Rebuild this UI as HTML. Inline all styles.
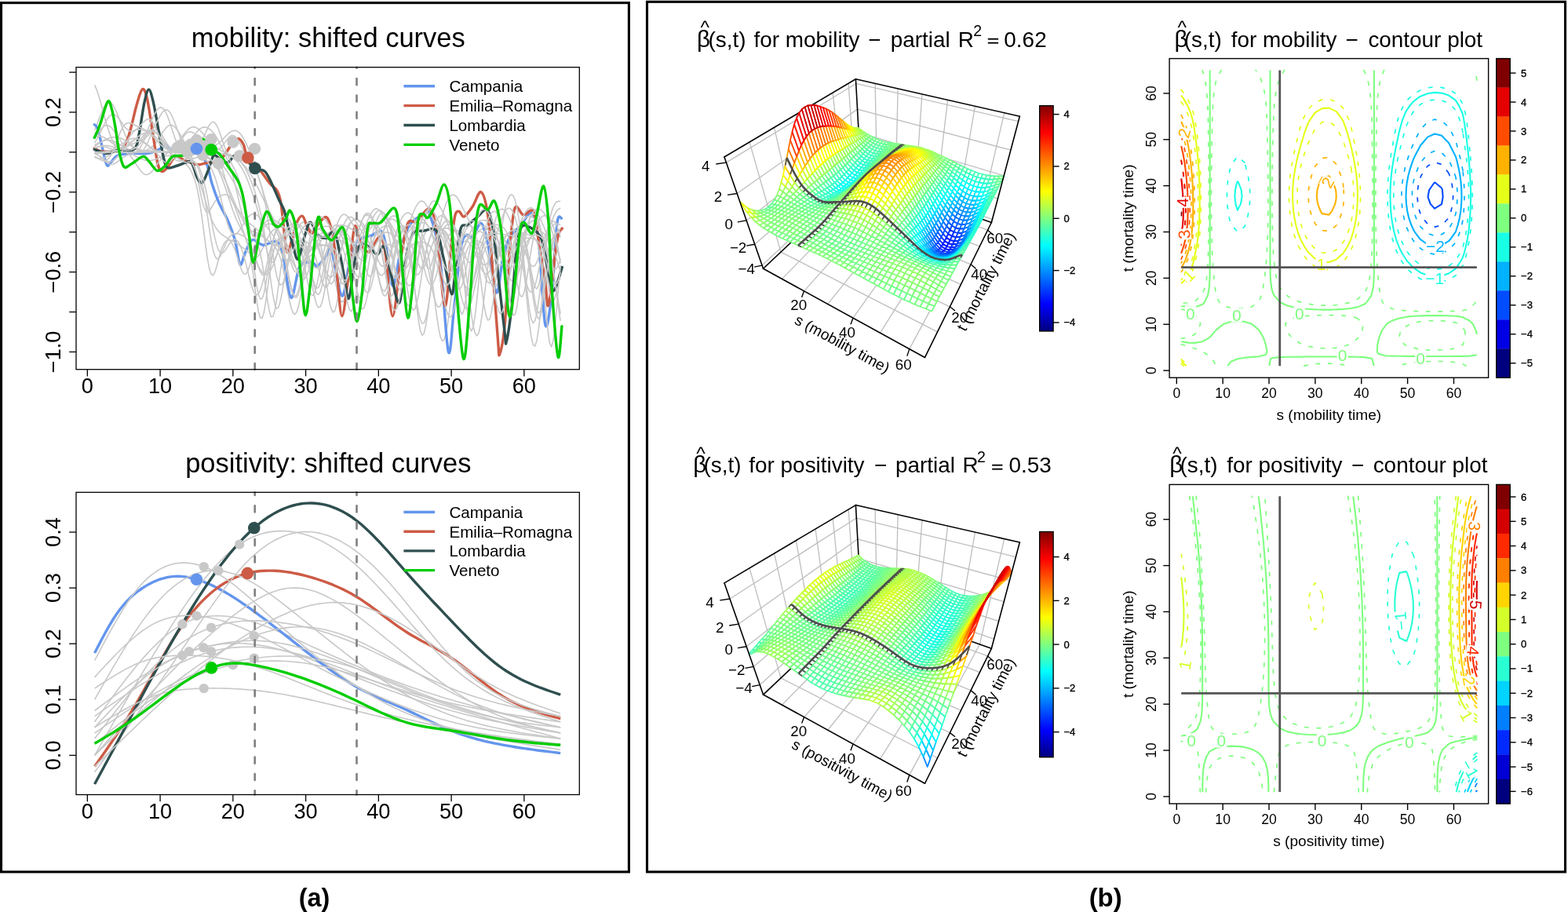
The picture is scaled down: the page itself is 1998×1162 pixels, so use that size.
<!DOCTYPE html>
<html><head><meta charset="utf-8"><title>figure</title>
<style>html,body{margin:0;padding:0;background:#fff;overflow:hidden}svg{display:block}</style></head>
<body><svg width="1998" height="1162" viewBox="0 0 1998 1162" font-family='"Liberation Sans", Arial, Helvetica, sans-serif'>
<rect width="1998" height="1162" fill="#fff"/>
<text x="418.3" y="60.3" font-size="34.5" text-anchor="middle" fill="#000">mobility: shifted curves</text>
<g fill="none" stroke="#C8C8C8" stroke-width="1.6" stroke-linejoin="round"><path d="M120.6 166.2l2.3-6 2.4-6.3 2.3-6.2 2.3-5.7 2.3-5 2.3-3.8 2.4-2.4 2.3-.7 2.3 .9 2.3 2.6 2.3 4 2.3 5.1 2.4 5.9 2.3 6.4 2.3 6.3 2.3 6.1 2.3 5.5 2.4 4.8 2.3 4.1 2.3 3.3 2.3 2.5 2.3 1.9 2.4 1.3 2.3 .8 2.3 .5 2.3 .1 2.3-.2 2.4-.4 2.3-.8 2.3-1.1 2.3-1.5 2.3-2 2.3-2.5 2.4-3 2.3-3.4 2.3-3.7 2.3-3.7 2.3-3.5 2.4-3 2.3-2.3 2.3-1.4 2.3-.4 2.3 .7 2.3 1.8 2.4 2.6 2.3 3.3 2.3 3.8 2.3 4.1 2.3 4.3 2.4 4.3 2.3 4.3 2.3 4.7 2.3 5.2 2.3 6.2 2.4 7.7 2.3 9.5 2.3 10.9 2.3 11.5 2.3 10.9 2.4 8.6 2.3 5.3 2.3 1.5 2.3-1.6 2.3-3.6 2.3-4.2 2.4-4 2.3-3.1 2.3-2.4 2.3-1.7 2.3-1.2 2.4-.7 2.3-.1 2.3 .8 2.3 1.8 2.3 3.1 2.3 4.2 2.4 5.3 2.3 6 2.3 6.6 2.3 6.9 2.3 7.2 2.4 7.2 2.3 7.1 2.3 6.9 2.3 6.2 2.3 5.2 2.4 3.7 2.3 1.9 2.3-.1 2.3-2 2.3-3.5 2.4-4.5 2.3-5 2.3-5 2.3-4.6 2.3-4 2.3-3.3 2.4-2.6 2.3-1.9 2.3-1.2 2.3-.8 2.3-.2 2.4 .3 2.3 .7 2.3 1.2 2.3 1.9 2.3 2.7 2.3 4 2.4 5.3 2.3 6.7 2.3 7.5 2.3 7 2.3 5.3 2.4 2.1 2.3-1.5 2.3-4.7 2.3-6.8 2.3-7.5 2.4-6.8 2.3-5.6 2.3-4.2 2.3-3 2.3-2.1 2.4-1.5 2.3-1 2.3-.7 2.3-.3 2.3 .1 2.3 .4 2.4 .8 2.3 1 2.3 1.4 2.3 1.8 2.3 2.2 2.4 2.7 2.3 3.6 2.3 4.5 2.3 5.6 2.3 6.6 2.3 7.4 2.4 7.6 2.3 7.3 2.3 6.1 2.3 4.2 2.3 1.6 2.4-1.1 2.3-4 2.3-6.4 2.3-8.3 2.3-9.4 2.4-9.9 2.3-9.7 2.3-9 2.3-7.9 2.3-6.7 2.4-5.1 2.3-3.4 2.3-1.5 2.3 .4 2.3 2.5 2.3 4.5 2.4 5.9 2.3 6.9 2.3 6.9 2.3 5.8 2.3 4.1 2.4 1.5 2.3-.9 2.3-3.1 2.3-4.7 2.3-5.6 2.3-6 2.4-6.1 2.3-6 2.3-5.7 2.3-5.2 2.3-4.4 2.4-3.3 2.3-1.9 2.3-.3 2.3 1.4 2.3 2.8 2.4 3.9 2.3 4.6 2.3 4.7 2.3 4.6 2.3 4 2.4 3.4 2.3 2.6 2.3 2 2.3 1.7 2.3 1.6 2.3 2.1 2.4 3.5 2.3 6 2.3 9.6 2.3 13.9 2.3 17.7 2.4 19.6 2.3 18.1 2.3 12.6 2.3 4 2.3-5.7 2.3-14 2.4-18.7 2.3-19.7 2.3-17.2 2.3-13.3 2.3-9 2.4-5.5 2.3-3 2.3-1.6 2.3-.8 2.3-.3 2.4-.1 2.3 .1 2.3 .4 2.3 .7 2.3 1.6 2.4 2.7 2.3 4.7 2.3 7.1 2.3 10.1 2.3 13.1 2.3 15.1 2.4 15.5 2.3 13.4 2.3 8.9 2.3 2.5 2.3-4.5 2.4-10.6 2.3-14.7 2.3-16.3 2.3-15.6 2.3-13.6 2.3-10.7 2.4-7.9 2.3-5.5 2.3-3.7 2.3-2.2 2.3-1 2.4 .4 2.3 2 2.3 4 2.3 6.4 2.3 8.5 2.4 10.2 2.3 10.1 2.3 8.4 2.3 4.5 2.3-.2 2.4-4.9 2.3-8.5 2.3-10.2 2.3-10.3 2.3-9.3"/><path d="M120.6 108.4l2.3 5.2 2.4 6.8 2.3 7.8 2.3 8.5 2.3 8.6 2.3 8.4 2.4 7.8 2.3 7.1 2.3 6.2 2.3 5.2 2.3 4.3 2.3 3.5 2.4 2.7 2.3 2.1 2.3 1.6 2.3 1.1 2.3 .8 2.4 .5 2.3 .2 2.3-.2 2.3-.5 2.3-1.1 2.4-1.7 2.3-2.3 2.3-3.1 2.3-3.8 2.3-4.4 2.4-4.6 2.3-4.6 2.3-4.1 2.3-3.2 2.3-1.8 2.3-.3 2.4 1.2 2.3 2.6 2.3 3.5 2.3 4.2 2.3 4.2 2.4 4.1 2.3 3.6 2.3 2.9 2.3 2.4 2.3 1.8 2.3 1.5 2.4 1.2 2.3 1.1 2.3 1.2 2.3 1.2 2.3 1.2 2.4 1.2 2.3 1 2.3 .7 2.3 .3 2.3-.1 2.4-.6 2.3-.8 2.3-1 2.3-1.1 2.3-.9 2.4-.8 2.3-.5 2.3-.2 2.3 0 2.3 .5 2.3 .8 2.4 1.3 2.3 2.1 2.3 3.2 2.3 4.5 2.3 5.9 2.4 7.4 2.3 8.2 2.3 8.3 2.3 7.6 2.3 6.4 2.3 4.9 2.4 3.9 2.3 3.2 2.3 3.1 2.3 3.2 2.3 3.3 2.4 3.1 2.3 2.8 2.3 2.4 2.3 2.1 2.3 1.8 2.4 1.7 2.3 1.9 2.3 2.1 2.3 2.3 2.3 2.5 2.4 2.6 2.3 2.5 2.3 2.4 2.3 2.1 2.3 1.9 2.3 1.9 2.4 2 2.3 2.4 2.3 3.3 2.3 4.5 2.3 6.3 2.4 8.2 2.3 10.2 2.3 11.6 2.3 12.3 2.3 11.7 2.3 9.7 2.4 6.3 2.3 2 2.3-2.8 2.3-7.2 2.3-10.8 2.4-13 2.3-13.9 2.3-13.5 2.3-12.4 2.3-10.7 2.4-8.6 2.3-6.7 2.3-4.8 2.3-3 2.3-1.2 2.4 .6 2.3 2.3 2.3 4.1 2.3 6 2.3 7.7 2.3 9.4 2.4 10.9 2.3 11.9 2.3 11.9 2.3 11.1 2.3 9 2.4 5.9 2.3 2.1 2.3-2.2 2.3-6.2 2.3-9.5 2.3-11.9 2.4-13 2.3-13.3 2.3-12.6 2.3-11.5 2.3-9.9 2.4-8.2 2.3-6.2 2.3-4.2 2.3-2.1 2.3-.2 2.4 1.5 2.3 3.1 2.3 4.4 2.3 5.5 2.3 6.6 2.4 8.1 2.3 9.9 2.3 11.8 2.3 13.5 2.3 14 2.3 12.6 2.4 9 2.3 3.5 2.3-2.7 2.3-8.3 2.3-12 2.4-13.5 2.3-12.9 2.3-11 2.3-8.6 2.3-6.5 2.3-4.7 2.4-3.4 2.3-2.4 2.3-1.5 2.3-.6 2.3 .4 2.4 1.5 2.3 2.7 2.3 4.1 2.3 5.7 2.3 7.6 2.4 10.1 2.3 12.6 2.3 15.3 2.3 17.3 2.3 18.4 2.4 17.9 2.3 15.5 2.3 11 2.3 5.1 2.3-1.5 2.3-7.9 2.4-13.2 2.3-16.6 2.3-17.9 2.3-17.5 2.3-15.6 2.4-12.9 2.3-9.8 2.3-7 2.3-4.5 2.3-2.4 2.3-.8 2.4 .7 2.3 2 2.3 3.1 2.3 4.2 2.3 5.1 2.4 5.8 2.3 6 2.3 5.7 2.3 4.7 2.3 3.4 2.4 1.4 2.3-.6 2.3-2.6 2.3-4.4 2.3-5.6 2.4-6.3 2.3-6.4 2.3-6.2 2.3-5.5 2.3-4.6 2.3-3.7 2.4-2.9 2.3-2 2.3-1.3 2.3-.6 2.3-.2 2.4 .2 2.3 .6 2.3 1 2.3 1.6 2.3 2.7 2.3 4.3 2.4 6.6 2.3 9.2 2.3 11.6 2.3 12.7 2.3 11.5 2.4 7.8 2.3 2.1 2.3-4.4 2.3-10 2.3-13.5 2.4-14.5 2.3-13.6 2.3-11.6 2.3-9.5 2.3-7.6 2.4-6.1 2.3-4.8 2.3-3.8 2.3-2.4 2.3-1"/><path d="M120.6 184.8l2.3-1.3 2.4-1.3 2.3-1.1 2.3-1 2.3-.8 2.3-.5 2.4-.3 2.3 .1 2.3 .4 2.3 .7 2.3 .9 2.3 1.1 2.4 1.2 2.3 1.4 2.3 1.3 2.3 1.4 2.3 1.4 2.4 1.4 2.3 1.3 2.3 1.3 2.3 1.2 2.3 1 2.4 .6 2.3 .1 2.3-.6 2.3-1.6 2.3-2.7 2.4-3.8 2.3-4.6 2.3-5 2.3-4.8 2.3-3.9 2.3-2.6 2.4-.7 2.3 .9 2.3 2.6 2.3 3.6 2.3 4.1 2.4 4.1 2.3 3.7 2.3 3.1 2.3 2.4 2.3 1.7 2.3 1.1 2.4 .7 2.3 .4 2.3 .3 2.3 .1 2.3 .1 2.4 0 2.3 0 2.3 0 2.3 0 2.3 0 2.4 0 2.3 0 2.3 .1 2.3 0 2.3 0 2.4 0 2.3 0 2.3 0 2.3-.1 2.3-.1 2.3-.3 2.4-.5 2.3-.9 2.3-1.3 2.3-1.9 2.3-2.4 2.4-2.9 2.3-3.2 2.3-3.1 2.3-2.7 2.3-1.7 2.3-.4 2.4 1 2.3 2.4 2.3 3.5 2.3 4.1 2.3 4.5 2.4 4.5 2.3 4.2 2.3 3.9 2.3 3.6 2.3 3.5 2.4 3.6 2.3 3.9 2.3 4.6 2.3 5.5 2.3 6.8 2.4 8.2 2.3 10.2 2.3 12.1 2.3 14 2.3 15.5 2.3 16.4 2.4 16.2 2.3 14.6 2.3 11.9 2.3 8.1 2.3 3.7 2.4-.7 2.3-4.7 2.3-7.8 2.3-9.7 2.3-10.5 2.3-10.4 2.4-9.7 2.3-8.4 2.3-6.9 2.3-5.3 2.3-3.6 2.4-1.9 2.3-.3 2.3 1.2 2.3 2.4 2.3 3.4 2.4 3.9 2.3 4.2 2.3 4.6 2.3 4.9 2.3 5.9 2.4 7.3 2.3 9.3 2.3 11.8 2.3 13.9 2.3 14.6 2.3 13.4 2.4 9.8 2.3 4.3 2.3-2.1 2.3-8.2 2.3-12.5 2.4-14.4 2.3-14.1 2.3-12.3 2.3-9.5 2.3-6.8 2.3-4.5 2.4-2.9 2.3-1.8 2.3-1 2.3-.5 2.3-.2 2.4 .2 2.3 .5 2.3 .8 2.3 1.3 2.3 1.9 2.4 3 2.3 4.4 2.3 6.2 2.3 8.1 2.3 9.5 2.4 10.1 2.3 9.1 2.3 6.5 2.3 2.5 2.3-2.2 2.3-6.4 2.4-9.7 2.3-11.3 2.3-11.4 2.3-10.5 2.3-8.9 2.4-7.3 2.3-5.8 2.3-4.5 2.3-3.2 2.3-2.1 2.3-.8 2.4 .5 2.3 2 2.3 3.4 2.3 4.9 2.3 6.5 2.4 7.8 2.3 9 2.3 9.8 2.3 9.8 2.3 9 2.4 7.3 2.3 4.5 2.3 1.4 2.3-2.1 2.3-5.2 2.4-7.4 2.3-8.7 2.3-9.1 2.3-8.5 2.3-7.7 2.3-6.3 2.4-5.1 2.3-3.9 2.3-2.8 2.3-1.7 2.3-.9 2.4 0 2.3 .6 2.3 1.1 2.3 1.5 2.3 1.6 2.3 1.7 2.4 1.6 2.3 1.5 2.3 1.5 2.3 1.6 2.3 2 2.4 2.7 2.3 3.6 2.3 4.8 2.3 6 2.3 7.3 2.4 8 2.3 8.2 2.3 7.4 2.3 5.8 2.3 3.3 2.4 .3 2.3-2.9 2.3-5.6 2.3-7.9 2.3-9.1 2.3-9.7 2.4-9.3 2.3-8.5 2.3-7.2 2.3-6 2.3-4.5 2.4-3 2.3-1.4 2.3 .3 2.3 2.3 2.3 4.8 2.3 7.5 2.4 10.5 2.3 13.6 2.3 16 2.3 17.3 2.3 16.7 2.4 14.1 2.3 9.3 2.3 3.1 2.3-3.5 2.3-9.5 2.4-13.8 2.3-16.1 2.3-16.3 2.3-14.9 2.3-12.4 2.4-9.7 2.3-7.1 2.3-4.9 2.3-3.1 2.3-1.7"/></g>
<path d="M120.3,158.7C120.95,159.47 122.68,159.1 124.2,163.3C125.72,167.5 127.47,176.17 129.4,183.9C131.33,191.63 133.87,205.83 135.8,209.7C137.73,213.57 138.63,209.03 141,207.1C143.37,205.17 145.48,200.03 150,198.1C154.52,196.17 161.85,195.93 168.1,195.5C174.35,195.07 182.12,196.15 187.5,195.5C192.88,194.85 196.53,193.32 200.4,191.6C204.27,189.88 207.92,185.62 210.7,185.2C213.48,184.78 213.05,188.3 217.1,189.1C221.15,189.9 229.52,190 235,190C240.48,190 245.27,185.88 250,189.1C254.73,192.32 260.05,201.83 263.4,209.3C266.75,216.77 267.48,225.7 270.1,233.9C272.72,242.1 275.73,250.67 279.1,258.5C282.47,266.33 286.93,273.07 290.3,280.9C293.67,288.73 296.68,296.17 299.3,305.5C301.92,314.83 303.77,334.28 306,336.9C308.23,339.52 310.1,326.43 312.7,321.2C315.3,315.97 317.87,307 321.6,305.5C325.33,304 329.87,311.82 335.1,312.2C340.33,312.58 348.72,305.55 353,307.8C357.28,310.05 357.82,313.77 360.8,325.7C363.78,337.63 367.35,377.17 370.9,379.4C374.45,381.63 377.62,346.57 382.1,339.1C386.58,331.63 394.07,334.6 397.8,334.6C401.53,334.6 401.52,340.58 404.5,339.1C407.48,337.62 412.78,329.42 415.7,325.7C418.62,321.98 418.65,308.25 422,316.8C425.35,325.35 431.7,375.22 435.8,377C439.9,378.78 443.02,339.33 446.6,327.5C450.18,315.67 452.65,310.65 457.3,306C461.95,301.35 469.83,301.57 474.5,299.6C479.17,297.63 482.43,292.05 485.3,294.2C488.17,296.35 489.2,300.85 491.7,312.5C494.2,324.15 497.07,363.38 500.3,364.1C503.53,364.82 507.52,329.7 511.1,316.8C514.68,303.9 517.15,293.87 521.8,286.7C526.45,279.53 534.7,275.95 539,273.8C543.3,271.65 544.02,264.85 547.6,273.8C551.18,282.75 556.55,298.47 560.5,327.5C564.45,356.53 568.28,437.22 571.3,448C574.32,458.78 575.95,414.07 578.6,392.2C581.25,370.33 584.68,332.23 587.2,316.8C589.72,301.37 591.18,302.1 593.7,299.6C596.22,297.1 599.08,304.3 602.3,301.8C605.52,299.3 609.78,283.17 613,284.6C616.22,286.03 618.37,295.7 621.6,310.4C624.83,325.1 629.17,369.93 632.4,372.8C635.63,375.67 638.13,339.43 641,327.6C643.87,315.77 646.02,308.25 649.6,301.8C653.18,295.35 657.83,293.93 662.5,288.9C667.17,283.87 673.65,268.73 677.6,271.6C681.55,274.47 683.33,282.42 686.2,306.1C689.07,329.78 691.93,402.95 694.8,413.7C697.67,424.45 700.88,392.12 703.4,370.6C705.92,349.08 707.92,300.02 709.9,284.6C711.88,269.18 714.4,279.18 715.3,278.1" fill="none" stroke="#6495ED" stroke-width="3.4" stroke-linejoin="round" stroke-linecap="round"/>
<path d="M120.3,189.1C121.82,189.73 125.73,192.27 129.4,192.9C133.07,193.53 138,193.32 142.3,192.9C146.6,192.48 151.55,193.83 155.2,190.4C158.85,186.97 160.98,181.98 164.2,172.3C167.42,162.62 171.6,142.08 174.5,132.3C177.4,122.52 179.43,114.68 181.6,113.6C183.77,112.52 185.45,117.32 187.5,125.8C189.55,134.28 191.75,151.17 193.9,164.5C196.05,177.83 198.47,196.87 200.4,205.8C202.33,214.73 203.35,216.8 205.5,218.1C207.65,219.4 210.28,216.72 213.3,213.6C216.32,210.48 219.98,201 223.6,199.4C227.22,197.8 230.27,202.28 235,204C239.73,205.72 247.02,209.18 252,209.7C256.98,210.22 261.5,207.55 264.9,207.1C268.3,206.65 269.28,208.13 272.4,207C275.52,205.87 279.87,204.03 283.6,200.3C287.33,196.57 291.45,188.52 294.8,184.6C298.15,180.68 301.1,176.8 303.7,176.8C306.3,176.8 308.42,180.62 310.4,184.6C312.38,188.58 312.23,195.47 315.6,200.7C318.97,205.93 325.87,210.47 330.6,216C335.33,221.53 340.27,229.43 344,233.9C347.73,238.37 350.75,239.07 353,242.8C355.25,246.53 356.2,249.58 357.5,256.3C358.8,263.02 359.68,273.4 360.8,283.1C361.92,292.8 363.17,308.18 364.2,314.5C365.23,320.82 365.7,322.58 367,321C368.3,319.42 370.17,311.17 372,305C373.83,298.83 375.77,288.95 378,284C380.23,279.05 383.07,274.3 385.4,275.3C387.73,276.3 389.9,286.38 392,290C394.1,293.62 395.67,297.83 398,297C400.33,296.17 402.87,288.25 406,285C409.13,281.75 413.63,274 416.8,277.5C419.97,281 422.9,294.08 425,306C427.1,317.92 427.6,332.87 429.4,349C431.2,365.13 433.3,402.8 435.8,402.8C438.3,402.8 441.72,368 444.4,349C447.08,330 449.38,295.25 451.9,288.8C454.42,282.35 456.45,304.93 459.5,310.3C462.55,315.67 466.08,322.43 470.2,321C474.32,319.57 480.62,300.62 484.2,301.7C487.78,302.78 489.02,310.65 491.7,327.5C494.38,344.35 497.07,402.8 500.3,402.8C503.53,402.8 507.87,347.22 511.1,327.5C514.33,307.78 516.48,292.02 519.7,284.5C522.92,276.98 525.75,285.45 530.4,282.4C535.05,279.35 543.3,264.05 547.6,266.2C551.9,268.35 552.97,274.68 556.2,295.3C559.43,315.92 563.77,388.12 567,389.9C570.23,391.68 573.43,325.32 575.6,306C577.77,286.68 578.42,280.08 580,274C581.58,267.92 583.18,269.17 585.1,269.5C587.02,269.83 588.63,277.08 591.5,276C594.37,274.92 598.72,268.22 602.3,263C605.88,257.78 609.78,242.9 613,244.7C616.22,246.5 619.08,256.4 621.6,273.8C624.12,291.2 625.93,322.2 628.1,349.1C630.27,376 633.17,418.17 634.6,435.2C636.03,452.23 635.27,454.88 636.7,451.3C638.13,447.72 641.05,436.12 643.2,413.7C645.35,391.28 647.45,341.55 649.6,316.8C651.75,292.05 653.23,272.37 656.1,265.2C658.97,258.03 662.87,273.08 666.8,273.8C670.73,274.52 676.47,264.12 679.7,269.5C682.93,274.88 683.68,291.03 686.2,306.1C688.72,321.17 692.65,346.28 694.8,359.9C696.95,373.52 696.58,396.77 699.1,387.8C701.62,378.83 707.03,322.23 709.9,306.1C712.77,289.97 715.23,293.52 716.3,291" fill="none" stroke="#CD5B45" stroke-width="3.4" stroke-linejoin="round" stroke-linecap="round"/>
<g fill="none" stroke="#C8C8C8" stroke-width="1.6" stroke-linejoin="round"><path d="M120.6 175.4l2.3-3.4 2.4-3.4 2.3-3.1 2.3-2.6 2.3-1.9 2.3-1.1 2.4-.1 2.3 .8 2.3 1.7 2.3 2.5 2.3 3 2.3 3.4 2.4 3.6 2.3 3.6 2.3 3.5 2.3 3.2 2.3 2.9 2.4 2.6 2.3 2.2 2.3 2 2.3 1.8 2.3 1.6 2.4 1.4 2.3 1.2 2.3 1.1 2.3 .9 2.3 .8 2.4 .5 2.3 .3 2.3 .1 2.3-.2 2.3-.4 2.3-.6 2.4-.9 2.3-.9 2.3-1.1 2.3-1.2 2.3-1.3 2.4-1.4 2.3-1.5 2.3-1.7 2.3-2 2.3-2.1 2.3-2.5 2.4-2.7 2.3-3 2.3-3.2 2.3-3.3 2.3-3.2 2.4-3 2.3-2.6 2.3-2 2.3-1.4 2.3-.6 2.4 .2 2.3 .9 2.3 1.6 2.3 2.1 2.3 2.5 2.4 2.7 2.3 2.8 2.3 2.8 2.3 2.6 2.3 2.5 2.3 2.3 2.4 2 2.3 1.8 2.3 1.6 2.3 1.4 2.3 1.1 2.4 1.1 2.3 .9 2.3 .9 2.3 1 2.3 1 2.3 1.1 2.4 1.3 2.3 1.6 2.3 1.9 2.3 2.3 2.3 2.8 2.4 3.2 2.3 3.9 2.3 4.5 2.3 5.1 2.3 5.7 2.4 6.3 2.3 6.9 2.3 7.6 2.3 8.3 2.3 9.3 2.4 10.8 2.3 12.7 2.3 14.9 2.3 17 2.3 18.2 2.3 18.1 2.4 15.7 2.3 11.3 2.3 5.2 2.3-1.5 2.3-7.4 2.4-11.8 2.3-13.7 2.3-13.7 2.3-12 2.3-9.4 2.3-6.9 2.4-4.6 2.3-2.8 2.3-1.7 2.3-.8 2.3-.3 2.4 .1 2.3 .4 2.3 .8 2.3 1.4 2.3 2.2 2.4 3.2 2.3 4.6 2.3 6.2 2.3 7.7 2.3 8.7 2.4 8.9 2.3 7.9 2.3 5.5 2.3 2.1 2.3-1.9 2.3-5.6 2.4-8.7 2.3-10.5 2.3-11.1 2.3-10.9 2.3-9.9 2.4-8.7 2.3-7.3 2.3-6 2.3-4.6 2.3-3.1 2.3-1.5 2.4 0 2.3 1.4 2.3 2.6 2.3 3.5 2.3 4 2.4 4.1 2.3 3.9 2.3 3.7 2.3 3.6 2.3 3.6 2.4 4.3 2.3 5.4 2.3 6.9 2.3 8.8 2.3 10.4 2.4 11 2.3 10.4 2.3 8.2 2.3 4.5 2.3-.2 2.3-4.9 2.4-8.9 2.3-11.4 2.3-12.3 2.3-12 2.3-10.7 2.4-8.9 2.3-7.1 2.3-5.4 2.3-4 2.3-2.8 2.3-1.5 2.4-.4 2.3 .7 2.3 1.7 2.3 2.6 2.3 3.6 2.4 4.4 2.3 5.4 2.3 6.6 2.3 7.8 2.3 9.4 2.4 10.7 2.3 11.6 2.3 11.9 2.3 11.1 2.3 9.2 2.4 6.2 2.3 2.3 2.3-1.9 2.3-5.7 2.3-9 2.3-11.1 2.4-12 2.3-11.8 2.3-10.7 2.3-9.2 2.3-7.3 2.4-5.6 2.3-4 2.3-2.6 2.3-1.5 2.3-.5 2.3 .4 2.4 1.2 2.3 2 2.3 3.1 2.3 4.1 2.3 5 2.4 5.7 2.3 6 2.3 5.5 2.3 4.1 2.3 2.1 2.4-.4 2.3-3 2.3-5.3 2.3-7 2.3-8 2.4-8.3 2.3-8.2 2.3-7.8 2.3-7.1 2.3-6.3 2.3-5.1 2.4-3.7 2.3-2.1 2.3-.3 2.3 1.8 2.3 3.8 2.4 6 2.3 8.3 2.3 11 2.3 14 2.3 17.1 2.3 20.2 2.4 22.4 2.3 23 2.3 21 2.3 16.5 2.3 9.5 2.4 1.1 2.3-7.5 2.3-14.7 2.3-19.4 2.3-21.3 2.4-20.7 2.3-18.1 2.3-14.5 2.3-10.9 2.3-7.6 2.4-4.9 2.3-3.1 2.3-1.7 2.3-.8 2.3-.3"/><path d="M120.6 200.5l2.3 .8 2.4 .6 2.3 .2 2.3-.2 2.3-.6 2.3-1 2.4-1.2 2.3-1.4 2.3-1.4 2.3-1.3 2.3-1.2 2.3-.9 2.4-.6 2.3-.2 2.3 .1 2.3 .6 2.3 .9 2.4 1.5 2.3 2.1 2.3 2.5 2.3 3.1 2.3 3.4 2.4 3.6 2.3 3.6 2.3 3.3 2.3 2.7 2.3 1.9 2.4 1.1 2.3 0 2.3-1 2.3-1.9 2.3-2.7 2.3-3.2 2.4-3.4 2.3-3.3 2.3-2.9 2.3-2.3 2.3-1.8 2.4-1.1 2.3-.5 2.3-.2 2.3 .3 2.3 .5 2.3 .7 2.4 1 2.3 1.1 2.3 1.3 2.3 1.6 2.3 1.8 2.4 2.1 2.3 2.5 2.3 3 2.3 3.8 2.3 4.7 2.4 6.3 2.3 8.3 2.3 10.8 2.3 13.6 2.3 16.1 2.4 17.9 2.3 18.1 2.3 16.2 2.3 12.4 2.3 7.1 2.3 1.4 2.4-3.7 2.3-7.1 2.3-8.7 2.3-8.5 2.3-7.1 2.4-5.1 2.3-3.2 2.3-1.4 2.3-.3 2.3 .5 2.3 1 2.4 1.3 2.3 1.4 2.3 1.6 2.3 1.7 2.3 1.7 2.4 1.7 2.3 1.8 2.3 1.9 2.3 2.1 2.3 2.4 2.4 2.9 2.3 3.4 2.3 3.8 2.3 4.2 2.3 4 2.4 3.5 2.3 2.5 2.3 1.1 2.3-.6 2.3-2.4 2.3-4 2.4-5.1 2.3-6 2.3-6.4 2.3-6.5 2.3-6.4 2.4-5.9 2.3-5.2 2.3-4.3 2.3-3.1 2.3-1.7 2.3-.2 2.4 1.3 2.3 2.9 2.3 4.3 2.3 5.8 2.3 7.5 2.4 9.3 2.3 11 2.3 12.2 2.3 12 2.3 10.1 2.4 6.4 2.3 1.3 2.3-4 2.3-8.4 2.3-11.2 2.4-12 2.3-11.5 2.3-10.1 2.3-8.5 2.3-7.2 2.3-5.9 2.4-4.8 2.3-3.6 2.3-2.2 2.3-.8 2.3 .9 2.4 2.4 2.3 3.8 2.3 5 2.3 6.2 2.3 7.5 2.3 9 2.4 10.6 2.3 12.2 2.3 13.3 2.3 13.2 2.3 11.6 2.4 8.3 2.3 3.7 2.3-1.7 2.3-6.6 2.3-10.3 2.4-12.2 2.3-12.2 2.3-11.1 2.3-9 2.3-6.9 2.4-4.9 2.3-3.4 2.3-2.1 2.3-1.3 2.3-.7 2.3-.2 2.4 .3 2.3 .7 2.3 1.1 2.3 1.7 2.3 2.5 2.4 3.8 2.3 5.6 2.3 7.8 2.3 10.2 2.3 12.1 2.3 12.9 2.4 12 2.3 8.9 2.3 4.2 2.3-1.5 2.3-7.1 2.4-11.5 2.3-13.9 2.3-14.5 2.3-13.5 2.3-11.7 2.4-9.6 2.3-7.5 2.3-5.8 2.3-4.3 2.3-2.9 2.4-1.4 2.3-.1 2.3 1.4 2.3 2.5 2.3 3.8 2.3 4.8 2.4 5.8 2.3 6.7 2.3 7.8 2.3 8.8 2.3 9.9 2.4 10.6 2.3 10.9 2.3 10.5 2.3 9.1 2.3 6.9 2.3 3.8 2.4 .3 2.3-3.2 2.3-6.4 2.3-8.8 2.3-10.2 2.4-10.7 2.3-10.4 2.3-9.3 2.3-7.8 2.3-6.3 2.4-4.7 2.3-3.1 2.3-1.8 2.3-.5 2.3 .7 2.4 1.9 2.3 3.1 2.3 4.2 2.3 5.2 2.3 6 2.3 6.5 2.4 6.5 2.3 5.8 2.3 4.5 2.3 2.8 2.3 .6 2.4-1.6 2.3-3.8 2.3-5.6 2.3-6.8 2.3-7.5 2.3-7.6 2.4-7.4 2.3-6.7 2.3-5.8 2.3-4.7 2.3-3.6 2.4-2.4 2.3-1.3 2.3-.1 2.3 .9 2.3 1.7 2.4 2.3 2.3 2.9 2.3 3.4 2.3 4 2.3 4.6 2.4 5.4 2.3 6.3 2.3 7 2.3 7.3 2.3 7"/><path d="M120.6 193.9l2.3 0 2.4 0 2.3 0 2.3 0 2.3 0 2.3 0 2.4 0 2.3 0 2.3 0 2.3 0 2.3 0 2.3 0 2.4-.1 2.3 0 2.3-.2 2.3-.2 2.3-.3 2.4-.6 2.3-.8 2.3-1.2 2.3-1.7 2.3-2 2.4-2.6 2.3-2.9 2.3-3.2 2.3-3.2 2.3-3 2.4-2.6 2.3-2 2.3-1.2 2.3-.4 2.3 .4 2.3 1.3 2.4 1.9 2.3 2.5 2.3 2.8 2.3 3 2.3 2.9 2.4 2.7 2.3 2.4 2.3 1.9 2.3 1.4 2.3 1 2.3 .6 2.4 .3 2.3 0 2.3-.2 2.3-.3 2.3-.3 2.4-.2 2.3-.2 2.3 0 2.3 .1 2.3 .1 2.4 .3 2.3 .3 2.3 .4 2.3 .5 2.3 .7 2.4 .9 2.3 1.2 2.3 1.2 2.3 1.5 2.3 1.5 2.3 1.7 2.4 1.8 2.3 1.8 2.3 2.1 2.3 2.1 2.3 2.4 2.4 2.7 2.3 2.9 2.3 3.2 2.3 3.6 2.3 3.8 2.3 4.1 2.4 4.4 2.3 4.7 2.3 5.1 2.3 5.5 2.3 6.3 2.4 7.4 2.3 8.9 2.3 11.1 2.3 13.4 2.3 15.7 2.4 17.3 2.3 17.4 2.3 15.6 2.3 11.7 2.3 6 2.4-.5 2.3-6.5 2.3-11.3 2.3-14 2.3-14.9 2.3-14.1 2.4-12.3 2.3-10.2 2.3-8 2.3-6.2 2.3-4.3 2.4-2.8 2.3-1.1 2.3 .4 2.3 1.9 2.3 3.1 2.3 4.2 2.4 5 2.3 5.6 2.3 5.9 2.3 5.9 2.3 5.7 2.4 5.1 2.3 4.3 2.3 3.1 2.3 1.7 2.3 .1 2.4-1.4 2.3-2.6 2.3-3.5 2.3-3.9 2.3-3.9 2.4-3.8 2.3-3.3 2.3-2.8 2.3-2.3 2.3-1.8 2.3-1.3 2.4-.8 2.3-.3 2.3 .2 2.3 .5 2.3 .7 2.4 1 2.3 1.2 2.3 1.3 2.3 1.6 2.3 1.9 2.3 2.5 2.4 3.2 2.3 4.1 2.3 4.6 2.3 4.9 2.3 4.4 2.4 3.3 2.3 1.4 2.3-.7 2.3-2.9 2.3-4.5 2.4-5.5 2.3-5.8 2.3-5.6 2.3-5 2.3-4.2 2.4-3.5 2.3-2.7 2.3-2.1 2.3-1.3 2.3-.6 2.3 .3 2.4 1.4 2.3 2.9 2.3 4.7 2.3 7 2.3 9.7 2.4 12.4 2.3 14.6 2.3 15.7 2.3 14.8 2.3 11.7 2.3 6.4 2.4 .1 2.3-6.2 2.3-11.4 2.3-14.5 2.3-15.2 2.4-14.2 2.3-11.9 2.3-9.1 2.3-6.6 2.3-4.5 2.4-2.9 2.3-1.8 2.3-1 2.3-.4 2.3 0 2.4 .5 2.3 .8 2.3 1.2 2.3 1.6 2.3 2.1 2.3 2.7 2.4 3.5 2.3 4.2 2.3 4.6 2.3 4.6 2.3 4 2.4 2.7 2.3 .8 2.3-1.2 2.3-3.1 2.3-4.5 2.3-5.3 2.4-5.4 2.3-5.1 2.3-4.5 2.3-3.8 2.3-3.1 2.4-2.4 2.3-1.9 2.3-1.2 2.3-.6 2.3-.1 2.4 .5 2.3 1 2.3 1.3 2.3 1.5 2.3 1.8 2.4 1.8 2.3 2.1 2.3 2.5 2.3 3.1 2.3 3.7 2.3 4.4 2.4 4.9 2.3 5.1 2.3 4.6 2.3 3.4 2.3 1.7 2.4-.4 2.3-2.6 2.3-4.5 2.3-5.9 2.3-6.7 2.3-6.9 2.4-6.7 2.3-6.1 2.3-5.2 2.3-4 2.3-2.4 2.4-.2 2.3 2.6 2.3 6.1 2.3 10.1 2.3 13.9 2.4 17.2 2.3 18.6 2.3 17.9 2.3 14.6 2.3 9 2.4 2 2.3-5 2.3-10.8 2.3-14.6 2.3-16"/></g>
<path d="M120.3,190.4C122.88,191.25 131.07,195.3 135.8,195.5C140.53,195.7 142.88,192.45 148.7,191.6C154.52,190.75 165.97,193.83 170.7,190.4C175.43,186.97 174.95,180.68 177.1,171C179.25,161.32 181.55,141.77 183.6,132.3C185.65,122.83 187.47,114.63 189.4,114.2C191.33,113.77 192.95,120.23 195.2,129.7C197.45,139.17 200.75,159.38 202.9,171C205.05,182.62 206.37,192.3 208.1,199.4C209.83,206.5 210.28,211.67 213.3,213.6C216.32,215.53 221.47,212.3 226.2,211C230.93,209.7 238.27,205.37 241.7,205.8C245.13,206.23 245.25,210.23 246.8,213.6C248.35,216.97 249.17,222.8 251,226C252.83,229.2 255.35,234.47 257.8,232.8C260.25,231.13 263.27,221.8 265.7,216C268.13,210.2 269.8,200.05 272.4,198C275,195.95 278.32,202.2 281.3,203.7C284.28,205.2 287.3,207.95 290.3,207C293.3,206.05 296.02,199.17 299.3,198C302.58,196.83 305.72,197.18 310,200C314.28,202.82 320.45,211.87 325,214.9C329.55,217.93 333.75,215.03 337.3,218.2C340.85,221.37 343.32,227.93 346.3,233.9C349.28,239.87 352.6,248.4 355.2,254C357.8,259.6 360.03,262.27 361.9,267.5C363.77,272.73 364.53,277.95 366.4,285.4C368.27,292.85 370.85,304.75 373.1,312.2C375.35,319.65 377.28,332.33 379.9,330.1C382.52,327.87 386.2,306.63 388.8,298.8C391.4,290.97 392.88,283.1 395.5,283.1C398.12,283.1 401.13,295.43 404.5,298.8C407.87,302.17 412.63,303.72 415.7,303.3C418.77,302.88 420.62,295.85 422.9,296.3C425.18,296.75 426.88,297.22 429.4,306C431.92,314.78 435.5,336.63 438,349C440.5,361.37 441.9,383.78 444.4,380.2C446.9,376.62 450.13,339.15 453,327.5C455.87,315.85 458.02,311.73 461.6,310.3C465.18,308.87 471.27,316.57 474.5,318.9C477.73,321.23 478.48,325.02 481,324.3C483.52,323.58 486.73,310.48 489.6,314.6C492.47,318.72 494.98,337.17 498.2,349C501.42,360.83 505.68,389.18 508.9,385.6C512.12,382.02 514.63,342.2 517.5,327.5C520.37,312.8 522.52,302.95 526.1,297.4C529.68,291.85 533.98,294.73 539,294.2C544.02,293.67 551.9,288.65 556.2,294.2C560.5,299.75 561.57,314.07 564.8,327.5C568.03,340.93 572.9,373.55 575.6,374.8C578.3,376.05 579.07,348.97 581,335C582.93,321.03 584.73,299.05 587.2,291C589.67,282.95 592.22,289.2 595.8,286.7C599.38,284.2 604.57,279.23 608.7,276C612.83,272.77 617.37,264.8 620.6,267.3C623.83,269.8 625.77,277.37 628.1,291C630.43,304.63 632.08,326.87 634.6,349.1C637.12,371.33 641.42,410.05 643.2,424.4C644.98,438.75 643.87,440.57 645.3,435.2C646.73,429.83 649.65,411.93 651.8,392.2C653.95,372.47 656.05,334.02 658.2,316.8C660.35,299.58 661.47,293.2 664.7,288.9C667.93,284.6 673.3,288.13 677.6,291C681.9,293.87 686.92,296.42 690.5,306.1C694.08,315.78 696.58,338.35 699.1,349.1C701.62,359.85 702.73,372.03 705.6,370.6C708.47,369.17 714.52,345.52 716.3,340.5" fill="none" stroke="#2F4F4F" stroke-width="3.4" stroke-linejoin="round" stroke-linecap="round"/>
<g fill="none" stroke="#C8C8C8" stroke-width="1.6" stroke-linejoin="round"><path d="M120.6 181.8l2.3-3.7 2.4-4.1 2.3-4.6 2.3-4.8 2.3-4.8 2.3-4.5 2.4-3.9 2.3-3 2.3-1.9 2.3-.8 2.3 .5 2.3 1.6 2.4 2.4 2.3 3.1 2.3 3.4 2.3 3.2 2.3 2.9 2.4 2.3 2.3 1.5 2.3 .6 2.3-.2 2.3-.9 2.4-1.5 2.3-2.1 2.3-2.4 2.3-2.5 2.3-2.4 2.4-2.1 2.3-1.3 2.3-.1 2.3 1.3 2.3 2.7 2.3 4.2 2.4 5.1 2.3 5.7 2.3 5.6 2.3 5 2.3 4 2.4 2.7 2.3 1.4 2.3 .2 2.3-.8 2.3-1.3 2.3-1.6 2.4-1.4 2.3-1.1 2.3-.5 2.3 .2 2.3 .7 2.4 1.1 2.3 1.5 2.3 1.5 2.3 1.6 2.3 1.5 2.4 1.3 2.3 1.2 2.3 1 2.3 .9 2.3 1 2.4 1 2.3 1.1 2.3 1.4 2.3 1.6 2.3 2.1 2.3 2.4 2.4 3 2.3 3.6 2.3 4.3 2.3 4.9 2.3 5.6 2.4 6.2 2.3 6.7 2.3 7.1 2.3 7.1 2.3 7 2.3 6.7 2.4 6.2 2.3 5.7 2.3 5 2.3 4.6 2.3 4.3 2.4 4.4 2.3 5.2 2.3 6.9 2.3 9.3 2.3 12.4 2.4 15.5 2.3 17.5 2.3 17.2 2.3 14.1 2.3 8.3 2.4 .6 2.3-7.2 2.3-13.3 2.3-16.8 2.3-17.4 2.3-15.6 2.4-12.5 2.3-9.1 2.3-6 2.3-3.3 2.3-1 2.4 1.1 2.3 3.2 2.3 5.3 2.3 7 2.3 7.9 2.3 7.8 2.4 6.5 2.3 4.1 2.3 1 2.3-2.1 2.3-4.8 2.4-6.3 2.3-6.9 2.3-6.5 2.3-5.6 2.3-4.3 2.4-3.2 2.3-2.2 2.3-1.4 2.3-1 2.3-.5 2.4-.2 2.3 0 2.3 .1 2.3 .3 2.3 .4 2.3 .4 2.4 .4 2.3 .4 2.3 .3 2.3 .3 2.3 .5 2.4 .7 2.3 1.2 2.3 1.9 2.3 2.5 2.3 3.3 2.3 3.6 2.4 3.5 2.3 2.6 2.3 1.1 2.3-.8 2.3-2.7 2.4-4.4 2.3-5.5 2.3-6.1 2.3-6.3 2.3-6.1 2.4-6 2.3-5.5 2.3-5 2.3-4.2 2.3-3 2.4-1.7 2.3-.2 2.3 1.5 2.3 3.1 2.3 4.4 2.3 5.6 2.4 6.4 2.3 7.2 2.3 7.7 2.3 8 2.3 8.1 2.4 7.6 2.3 6.5 2.3 4.9 2.3 2.7 2.3 .1 2.3-2.6 2.4-4.9 2.3-6.8 2.3-8.1 2.3-8.7 2.3-8.7 2.4-8.4 2.3-7.6 2.3-6.8 2.3-5.5 2.3-4.1 2.4-2.6 2.3-.8 2.3 .7 2.3 2.3 2.3 3.5 2.4 4.4 2.3 5.2 2.3 5.7 2.3 6.4 2.3 7 2.3 8.1 2.4 9 2.3 10 2.3 10.5 2.3 10.3 2.3 9 2.4 6.6 2.3 3.2 2.3-.6 2.3-4.5 2.3-8 2.3-10.5 2.4-11.9 2.3-12.4 2.3-11.8 2.3-10.8 2.3-9.4 2.4-7.8 2.3-6 2.3-4.3 2.3-2.6 2.3-.8 2.4 .9 2.3 2.3 2.3 3.7 2.3 4.9 2.3 6.2 2.4 7.5 2.3 8.8 2.3 10 2.3 10.3 2.3 9.5 2.3 7.4 2.4 3.8 2.3-.5 2.3-4.7 2.3-8 2.3-9.7 2.4-10.2 2.3-9.5 2.3-8.4 2.3-7.1 2.3-5.9 2.3-4.9 2.4-3.9 2.3-2.7 2.3-1.5 2.3-.3 2.3 1.1 2.4 2.2 2.3 3.1 2.3 3.9 2.3 4.4 2.3 4.9 2.4 5.6 2.3 6.6 2.3 8.1 2.3 10.2 2.3 12.7 2.4 15.1 2.3 17.1 2.3 17.9 2.3 17 2.3 14.2"/><path d="M120.6 188.7l2.3-.9 2.4-.8 2.3-.7 2.3-.5 2.3-.3 2.3 0 2.4 .1 2.3 .4 2.3 .5 2.3 .6 2.3 .6 2.3 .4 2.4 .3 2.3 0 2.3-.3 2.3-.6 2.3-.9 2.4-1.3 2.3-1.5 2.3-1.8 2.3-2 2.3-2.1 2.4-2 2.3-2 2.3-1.7 2.3-1.4 2.3-1 2.4-.5 2.3-.1 2.3 .5 2.3 .9 2.3 1.3 2.3 1.7 2.4 1.9 2.3 2.1 2.3 2.1 2.3 2 2.3 1.8 2.4 1.7 2.3 1.3 2.3 1.1 2.3 .7 2.3 .4 2.3 .1 2.4-.1 2.3-.3 2.3-.3 2.3-.4 2.3-.3 2.4-.1 2.3 .1 2.3 .3 2.3 .6 2.3 .9 2.4 1.2 2.3 1.4 2.3 1.7 2.3 1.9 2.3 2.2 2.4 2.4 2.3 2.8 2.3 3.2 2.3 3.7 2.3 4.3 2.3 5.1 2.4 6 2.3 7.1 2.3 8 2.3 8.9 2.3 9.4 2.4 9.5 2.3 9 2.3 8 2.3 6.4 2.3 4.4 2.3 2.5 2.4 .5 2.3-1.2 2.3-2.4 2.3-3.3 2.3-3.7 2.4-3.8 2.3-3.6 2.3-3.2 2.3-2.5 2.3-1.8 2.4-.8 2.3 .2 2.3 1.1 2.3 1.9 2.3 2.5 2.4 2.9 2.3 3 2.3 3.1 2.3 3 2.3 3 2.3 3.2 2.4 3.5 2.3 4.1 2.3 4.7 2.3 5.4 2.3 5.5 2.4 5.2 2.3 4 2.3 2.4 2.3 .1 2.3-2 2.3-4 2.4-5.4 2.3-6.2 2.3-6.2 2.3-5.9 2.3-5.1 2.4-4.2 2.3-3.5 2.3-2.5 2.3-1.8 2.3-.7 2.4 .3 2.3 1.6 2.3 3.2 2.3 5.1 2.3 7 2.4 9.1 2.3 10.7 2.3 11.6 2.3 11.3 2.3 9.5 2.3 6.4 2.4 2.3 2.3-2.2 2.3-6.3 2.3-9.4 2.3-11.1 2.4-11.3 2.3-10.6 2.3-9 2.3-7.3 2.3-5.6 2.3-4.1 2.4-2.8 2.3-1.8 2.3-.8 2.3 0 2.3 .8 2.4 1.5 2.3 2.2 2.3 3 2.3 3.6 2.3 4.5 2.4 5.3 2.3 6 2.3 6.7 2.3 7 2.3 6.8 2.4 5.8 2.3 4.3 2.3 2.3 2.3-.2 2.3-2.6 2.3-4.9 2.4-6.6 2.3-7.7 2.3-8.2 2.3-8 2.3-7.5 2.4-6.6 2.3-5.6 2.3-4.5 2.3-3.2 2.3-2 2.3-.7 2.4 .5 2.3 1.8 2.3 3.2 2.3 4.8 2.3 6.7 2.4 8.4 2.3 10.1 2.3 10.9 2.3 10.6 2.3 8.5 2.4 5 2.3 .4 2.3-4.4 2.3-8.3 2.3-11 2.4-11.9 2.3-11.7 2.3-10.7 2.3-9.3 2.3-7.9 2.3-6.6 2.4-5.2 2.3-3.9 2.3-2.4 2.3-.7 2.3 .9 2.4 2.3 2.3 3.5 2.3 4.3 2.3 4.6 2.3 4.7 2.3 4.6 2.4 4.7 2.3 5.1 2.3 6 2.3 7.9 2.3 10.2 2.4 13.2 2.3 16 2.3 17.9 2.3 18.5 2.3 16.6 2.4 12.6 2.3 6.3 2.3-1 2.3-8.5 2.3-14.7 2.4-19.1 2.3-21.1 2.3-21 2.3-19.3 2.3-16.8 2.3-13.8 2.4-10.7 2.3-7.8 2.3-4.7 2.3-1.6 2.3 1.7 2.4 5.3 2.3 9.2 2.3 13 2.3 16.8 2.3 19.9 2.3 21.9 2.4 22.3 2.3 20.8 2.3 17.1 2.3 11.4 2.3 4.4 2.4-3 2.3-9.9 2.3-15.3 2.3-18.7 2.3-20.1 2.4-19.6 2.3-17.8 2.3-15.2 2.3-12.2 2.3-9.3 2.4-6.7 2.3-4.4 2.3-2.5 2.3-.7 2.3 .5"/><path d="M120.6 195.6l2.3 .9 2.4 1.4 2.3 1.7 2.3 2 2.3 2.2 2.3 2.1 2.4 1.8 2.3 1.2 2.3 .6 2.3-.2 2.3-.9 2.3-1.4 2.4-1.7 2.3-1.8 2.3-1.8 2.3-1.6 2.3-1.4 2.4-1.2 2.3-.9 2.3-.8 2.3-.5 2.3-.5 2.4-.3 2.3-.2 2.3-.1 2.3-.1 2.3-.1 2.4 0 2.3-.1 2.3 0 2.3 0 2.3 0 2.3 0 2.4 0 2.3 0 2.3 0 2.3 0 2.3 0 2.4 .1 2.3 0 2.3 0 2.3 0 2.3 0 2.3 0 2.4 0 2.3 .1 2.3 0 2.3 0 2.3 0 2.4 0 2.3-.1 2.3-.3 2.3-.4 2.3-.7 2.4-1.2 2.3-1.8 2.3-2.6 2.3-3.4 2.3-4.4 2.4-5 2.3-5.3 2.3-5.2 2.3-4.3 2.3-3 2.3-1.1 2.4 1.1 2.3 3.1 2.3 5 2.3 6.1 2.3 6.9 2.4 6.9 2.3 6.7 2.3 6 2.3 5.4 2.3 4.8 2.3 4.5 2.4 4.6 2.3 5 2.3 5.9 2.3 7.2 2.3 8.8 2.4 10.4 2.3 11.6 2.3 11.8 2.3 10.6 2.3 8.3 2.4 4.9 2.3 1.4 2.3-1.7 2.3-3.7 2.3-4.4 2.4-4.3 2.3-3.3 2.3-2.4 2.3-1.4 2.3-.7 2.3-.2 2.4 .3 2.3 .6 2.3 1 2.3 1.4 2.3 1.8 2.4 2 2.3 2.1 2.3 2.1 2.3 1.9 2.3 1.8 2.3 1.5 2.4 1.3 2.3 1.1 2.3 1.1 2.3 1.3 2.3 1.8 2.4 2.8 2.3 4.4 2.3 6.2 2.3 8.3 2.3 9.9 2.4 10.8 2.3 10.1 2.3 7.7 2.3 3.8 2.3-.9 2.4-5.6 2.3-9.2 2.3-11.3 2.3-11.6 2.3-10.8 2.3-9.1 2.4-7.2 2.3-5.3 2.3-3.9 2.3-2.7 2.3-1.8 2.4-1 2.3-.3 2.3 .3 2.3 .8 2.3 1.1 2.3 1.4 2.4 1.5 2.3 1.5 2.3 1.4 2.3 1.5 2.3 1.7 2.4 2.3 2.3 2.9 2.3 3.7 2.3 4 2.3 3.7 2.4 2.7 2.3 .8 2.3-1.2 2.3-3 2.3-4 2.4-4.2 2.3-3.7 2.3-2.8 2.3-1.9 2.3-1 2.3-.2 2.4 .7 2.3 1.7 2.3 3 2.3 4.6 2.3 6.3 2.4 8 2.3 9.4 2.3 10 2.3 9.7 2.3 8 2.3 5.3 2.4 1.7 2.3-2.3 2.3-6.2 2.3-9.4 2.3-11.5 2.4-12.7 2.3-12.9 2.3-12.2 2.3-11.1 2.3-9.7 2.4-7.9 2.3-6 2.3-4.1 2.3-2.1 2.3-.1 2.4 1.5 2.3 3 2.3 3.9 2.3 4.4 2.3 4.4 2.3 4.1 2.4 3.7 2.3 3.1 2.3 2.8 2.3 2.9 2.3 3.8 2.4 5.7 2.3 8.6 2.3 12.7 2.3 17.1 2.3 20.8 2.3 22.3 2.4 20.4 2.3 14.7 2.3 5.8 2.3-4.4 2.3-13.9 2.4-20.6 2.3-23.5 2.3-22.9 2.3-20 2.3-15.8 2.4-11.8 2.3-8.3 2.3-5.6 2.3-3.6 2.3-1.9 2.4-.1 2.3 2 2.3 4.6 2.3 8.2 2.3 12.2 2.3 16.5 2.4 20.1 2.3 22 2.3 21 2.3 16.6 2.3 8.9 2.4-.5 2.3-9.5 2.3-16.6 2.3-20.4 2.3-20.8 2.3-18.7 2.4-15.3 2.3-11.6 2.3-8.4 2.3-5.8 2.3-3.9 2.4-2.5 2.3-1.2 2.3-.2 2.3 .9 2.3 1.9 2.4 2.9 2.3 3.8 2.3 4.7 2.3 5.6 2.3 6.5 2.4 7.4 2.3 8.1 2.3 8.4 2.3 8.2 2.3 7.4"/><path d="M120.6 174.7l2.3-.7 2.4-.4 2.3 .1 2.3 .5 2.3 .8 2.3 1.2 2.4 1.5 2.3 1.6 2.3 1.7 2.3 1.8 2.3 1.7 2.3 1.6 2.4 1.4 2.3 1.3 2.3 1 2.3 .8 2.3 .5 2.4 .3 2.3-.1 2.3-.3 2.3-.7 2.3-1.1 2.4-1.6 2.3-2.1 2.3-2.7 2.3-3.3 2.3-4 2.4-4.5 2.3-5 2.3-5.4 2.3-5.4 2.3-5.3 2.3-4.9 2.4-3.9 2.3-2.8 2.3-1.4 2.3 .3 2.3 2.1 2.4 3.6 2.3 5 2.3 6.2 2.3 6.8 2.3 7.1 2.3 7 2.4 6.4 2.3 5.7 2.3 4.7 2.3 3.8 2.3 2.9 2.4 2.1 2.3 1.4 2.3 1 2.3 .9 2.3 1 2.4 1.4 2.3 2.2 2.3 3.1 2.3 4.6 2.3 6.3 2.4 8.1 2.3 10 2.3 11.6 2.3 12.9 2.3 13.3 2.3 12.8 2.4 11.4 2.3 9.2 2.3 6.5 2.3 3.5 2.3 .7 2.4-1.5 2.3-3 2.3-3.7 2.3-3.6 2.3-3 2.3-2 2.4-.5 2.3 .9 2.3 2.6 2.3 4.2 2.3 5.9 2.4 7.4 2.3 8.6 2.3 9.4 2.3 9.5 2.3 8.8 2.4 7.1 2.3 4.6 2.3 1.7 2.3-1.6 2.3-4.6 2.4-7.2 2.3-9 2.3-10.1 2.3-10.3 2.3-10.1 2.3-9.2 2.4-8.1 2.3-6.6 2.3-5 2.3-3.4 2.3-1.8 2.4-.2 2.3 1.1 2.3 2.2 2.3 2.8 2.3 3.2 2.3 3.2 2.4 3 2.3 2.7 2.3 2.3 2.3 2 2.3 1.9 2.4 2.2 2.3 2.6 2.3 3.1 2.3 3.9 2.3 4.4 2.4 4.4 2.3 4 2.3 2.8 2.3 1.1 2.3-.8 2.4-2.8 2.3-4.3 2.3-5.3 2.3-5.8 2.3-5.7 2.3-5.3 2.4-4.7 2.3-4 2.3-3.3 2.3-2.5 2.3-1.6 2.4-.5 2.3 .8 2.3 2.5 2.3 4.4 2.3 6.8 2.3 9.3 2.4 11.7 2.3 13.2 2.3 13.5 2.3 11.9 2.3 8.1 2.4 3.1 2.3-2.8 2.3-7.9 2.3-11.7 2.3-13.4 2.4-13.6 2.3-12.4 2.3-10.7 2.3-8.9 2.3-7.2 2.4-5.7 2.3-4.3 2.3-2.7 2.3-1.2 2.3 .3 2.3 1.8 2.4 3 2.3 3.7 2.3 4.2 2.3 4.3 2.3 4 2.4 3.8 2.3 3.5 2.3 3.6 2.3 4 2.3 4.7 2.3 5.6 2.4 6.3 2.3 6.7 2.3 6.2 2.3 4.6 2.3 2.2 2.4-.9 2.3-3.8 2.3-6.4 2.3-8.1 2.3-8.9 2.4-8.9 2.3-8.4 2.3-7.7 2.3-6.8 2.3-5.8 2.4-4.7 2.3-3.3 2.3-1.8 2.3 0 2.3 1.8 2.3 3.4 2.4 5 2.3 6.3 2.3 7.3 2.3 8.3 2.3 8.9 2.4 9.5 2.3 9.7 2.3 9.5 2.3 8.8 2.3 7.3 2.3 5.3 2.4 2.6 2.3-.3 2.3-3.1 2.3-5.6 2.3-7.4 2.4-8.6 2.3-8.8 2.3-8.6 2.3-7.7 2.3-6.6 2.4-5.3 2.3-3.9 2.3-2.5 2.3-1 2.3 .4 2.4 1.9 2.3 3.2 2.3 4.4 2.3 5.3 2.3 5.9 2.3 5.9 2.4 5.5 2.3 4.4 2.3 3 2.3 1.3 2.3-.6 2.4-2.2 2.3-3.6 2.3-4.6 2.3-5 2.3-5.1 2.3-4.8 2.4-4.3 2.3-3.6 2.3-2.9 2.3-2.2 2.3-1.4 2.4-.7 2.3 0 2.3 .7 2.3 1.5 2.3 2.2 2.4 3.2 2.3 4.3 2.3 5.7 2.3 7.6 2.3 9.4 2.4 11.5 2.3 13.2 2.3 14.2 2.3 14.3 2.3 13.1"/><path d="M120.6 193.8l2.3 0 2.4-.1 2.3-.1 2.3-.1 2.3-.2 2.3-.3 2.4-.4 2.3-.5 2.3-.7 2.3-.9 2.3-1 2.3-1.3 2.4-1.4 2.3-1.6 2.3-1.6 2.3-1.7 2.3-1.5 2.4-1.5 2.3-1.2 2.3-.8 2.3-.5 2.3 0 2.4 .4 2.3 .7 2.3 1.2 2.3 1.4 2.3 1.5 2.4 1.7 2.3 1.8 2.3 1.8 2.3 1.9 2.3 1.9 2.3 2.1 2.4 2.4 2.3 2.5 2.3 2.8 2.3 2.7 2.3 2.4 2.4 1.8 2.3 .6 2.3-.7 2.3-2.1 2.3-3.5 2.3-4.5 2.4-5.2 2.3-5.3 2.3-5.1 2.3-4.5 2.3-3.7 2.4-2.8 2.3-1.8 2.3-.8 2.3 .1 2.3 1 2.4 1.6 2.3 2.1 2.3 2.4 2.3 2.5 2.3 2.5 2.4 2.2 2.3 1.8 2.3 1.4 2.3 .8 2.3 .3 2.3-.3 2.4-.7 2.3-1.3 2.3-1.7 2.3-2 2.3-2.3 2.4-2.5 2.3-2.4 2.3-2.3 2.3-2 2.3-1.6 2.3-1 2.4-.3 2.3 .5 2.3 1.3 2.3 2.2 2.3 3 2.4 3.9 2.3 4.5 2.3 5.1 2.3 5.6 2.3 6.1 2.4 6.3 2.3 6.7 2.3 6.9 2.3 7.1 2.3 7.3 2.4 7.5 2.3 7.5 2.3 7.4 2.3 7.3 2.3 6.9 2.3 6.6 2.4 6.3 2.3 5.9 2.3 6 2.3 6.2 2.3 7 2.4 8.2 2.3 9.5 2.3 10.9 2.3 11.6 2.3 11.4 2.3 9.6 2.4 6.5 2.3 2.5 2.3-1.9 2.3-5.9 2.3-8.7 2.4-10 2.3-9.9 2.3-8.8 2.3-7.1 2.3-5.2 2.4-3.7 2.3-2.3 2.3-1.4 2.3-.8 2.3-.3 2.4-.1 2.3 .2 2.3 .5 2.3 .6 2.3 1.1 2.3 1.7 2.4 2.7 2.3 3.9 2.3 5.2 2.3 6.5 2.3 7.1 2.4 7 2.3 5.7 2.3 3.3 2.3 .1 2.3-3.3 2.3-6.1 2.4-8.1 2.3-9.1 2.3-9 2.3-8.4 2.3-7.4 2.4-6.4 2.3-5.2 2.3-4.3 2.3-3.1 2.3-1.9 2.4-.7 2.3 .6 2.3 1.6 2.3 2.6 2.3 3.1 2.4 3.4 2.3 3.6 2.3 3.5 2.3 3.5 2.3 3.8 2.3 4.3 2.4 5.1 2.3 6.2 2.3 7.3 2.3 8 2.3 8.2 2.4 7.3 2.3 5.4 2.3 2.6 2.3-.8 2.3-4.2 2.3-7.1 2.4-9.4 2.3-10.6 2.3-11 2.3-10.6 2.3-9.9 2.4-8.7 2.3-7.4 2.3-5.9 2.3-4.3 2.3-2.5 2.4-.6 2.3 1 2.3 2.5 2.3 3.6 2.3 4.4 2.4 4.8 2.3 4.9 2.3 5.2 2.3 5.4 2.3 6 2.3 6.6 2.4 7.2 2.3 7.2 2.3 6.3 2.3 4.3 2.3 1.5 2.4-1.6 2.3-4.4 2.3-6.3 2.3-7.1 2.3-6.7 2.3-5.8 2.4-4.6 2.3-3.5 2.3-2.6 2.3-1.9 2.3-1.3 2.4-.9 2.3-.3 2.3 .1 2.3 .7 2.3 1.5 2.4 2.3 2.3 3.4 2.3 4.7 2.3 5.8 2.3 6.7 2.4 6.9 2.3 5.9 2.3 4 2.3 1.2 2.3-1.9 2.3-4.5 2.4-6.3 2.3-6.9 2.3-6.6 2.3-5.6 2.3-4.4 2.4-3.3 2.3-2.1 2.3-1 2.3 .3 2.3 2.2 2.3 4.6 2.4 7.6 2.3 11.1 2.3 14.4 2.3 16.7 2.3 17.1 2.4 15.1 2.3 10.4 2.3 3.9 2.3-3.4 2.3-9.8 2.4-14.4 2.3-16.5 2.3-16.2 2.3-14.1 2.3-11.3 2.4-8.3 2.3-5.7 2.3-3.8 2.3-2.3 2.3-1.4"/><path d="M120.6 188.2l2.3-.7 2.4-.6 2.3-.3 2.3-.1 2.3 .3 2.3 .4 2.4 .7 2.3 .8 2.3 .8 2.3 .9 2.3 .8 2.3 .7 2.4 .5 2.3 .5 2.3 .3 2.3 .3 2.3 .1 2.4 .1 2.3 0 2.3 0 2.3 0 2.3-.1 2.4-.1 2.3-.2 2.3-.2 2.3-.2 2.3-.3 2.4-.2 2.3-.2 2.3-.1 2.3 0 2.3 .1 2.3 .3 2.4 .3 2.3 .3 2.3 .3 2.3 .2 2.3 .1 2.4 .2 2.3 .3 2.3 .5 2.3 .9 2.3 1.2 2.3 1.6 2.4 1.8 2.3 1.9 2.3 1.7 2.3 1.5 2.3 1 2.4 .4 2.3-.1 2.3-.3 2.3-.3 2.3 .2 2.4 1.2 2.3 2.6 2.3 4.8 2.3 7.2 2.3 10 2.4 12.6 2.3 14.8 2.3 16.1 2.3 16 2.3 14.6 2.3 11.7 2.4 8 2.3 3.9 2.3 0 2.3-3 2.3-5 2.4-5.7 2.3-5.5 2.3-4.7 2.3-3.6 2.3-2.5 2.3-1.4 2.4-.6 2.3-.1 2.3 .4 2.3 .8 2.3 1 2.4 1.3 2.3 1.8 2.3 2.4 2.3 3.2 2.3 4.3 2.4 5.6 2.3 6.8 2.3 7.5 2.3 7.3 2.3 6.1 2.4 3.9 2.3 .8 2.3-2.3 2.3-5.1 2.3-6.8 2.3-7.6 2.4-7.3 2.3-6.3 2.3-5.2 2.3-3.8 2.3-2.8 2.4-2 2.3-1.3 2.3-.8 2.3-.3 2.3 0 2.3 .3 2.4 .6 2.3 1 2.3 1.4 2.3 2 2.3 2.8 2.4 4 2.3 5.5 2.3 7.5 2.3 9.4 2.3 11.2 2.4 12.3 2.3 12.2 2.3 10.8 2.3 7.9 2.3 3.7 2.4-1 2.3-5.9 2.3-10 2.3-12.9 2.3-14.5 2.3-14.7 2.4-13.8 2.3-12.4 2.3-10.5 2.3-8.5 2.3-6.5 2.4-4.5 2.3-2.6 2.3-.9 2.3 .7 2.3 1.9 2.3 3 2.4 3.7 2.3 4.3 2.3 4.9 2.3 5.7 2.3 6.9 2.4 8.3 2.3 9.5 2.3 10.2 2.3 9.6 2.3 7.3 2.4 3.5 2.3-1 2.3-5.5 2.3-8.8 2.3-10.6 2.4-10.7 2.3-9.8 2.3-8.3 2.3-6.7 2.3-5.4 2.3-4.2 2.4-3.2 2.3-2.2 2.3-1.1 2.3 0 2.3 1.3 2.4 2.6 2.3 3.9 2.3 5.2 2.3 6.7 2.3 8.3 2.3 10.1 2.4 12.1 2.3 13.9 2.3 15.2 2.3 15.7 2.3 15.1 2.4 12.9 2.3 9.3 2.3 4.7 2.3-.7 2.3-5.9 2.4-10.5 2.3-13.8 2.3-15.6 2.3-15.9 2.3-15.1 2.4-13.4 2.3-11.1 2.3-8.8 2.3-6.5 2.3-4.6 2.3-2.8 2.4-1.4 2.3-.1 2.3 1 2.3 2.1 2.3 3.2 2.4 4.3 2.3 5.4 2.3 6.4 2.3 7 2.3 6.9 2.3 6 2.4 4.4 2.3 2 2.3-.6 2.3-3.2 2.3-5.2 2.4-6.5 2.3-6.7 2.3-6.4 2.3-5.6 2.3-4.5 2.4-3.4 2.3-2.4 2.3-1.7 2.3-1.1 2.3-.7 2.4-.2 2.3 0 2.3 .4 2.3 .7 2.3 1.3 2.3 2.1 2.4 3.4 2.3 5.3 2.3 7.7 2.3 10.4 2.3 12.9 2.4 14.3 2.3 14.1 2.3 11.5 2.3 6.8 2.3 .7 2.3-5.6 2.4-10.9 2.3-14.3 2.3-15.4 2.3-14.7 2.3-12.5 2.4-10 2.3-7.5 2.3-5.3 2.3-3.7 2.3-2.3 2.4-1.2 2.3-.1 2.3 1.1 2.3 2.5 2.3 4.2 2.4 6.4 2.3 8.7 2.3 11.1 2.3 13.2 2.3 14.1"/><path d="M120.6 199.1l2.3 1.4 2.4 1.5 2.3 1.4 2.3 1.1 2.3 .5 2.3-.3 2.4-1.3 2.3-2.4 2.3-3.7 2.3-4.7 2.3-5.6 2.3-6.1 2.4-6.2 2.3-5.7 2.3-4.9 2.3-3.7 2.3-2.5 2.4-1.2 2.3-.2 2.3 .6 2.3 1 2.3 1.2 2.4 1.2 2.3 1.1 2.3 1 2.3 1 2.3 1 2.4 1.3 2.3 1.5 2.3 1.8 2.3 2.2 2.3 2.4 2.3 2.5 2.4 2.6 2.3 2.6 2.3 2.3 2.3 2.2 2.3 1.8 2.4 1.6 2.3 1.3 2.3 1 2.3 .8 2.3 .6 2.3 .5 2.4 .3 2.3 .3 2.3 .2 2.3 .1 2.3 .1 2.4 .1 2.3 .1 2.3 0 2.3 0 2.3 0 2.4 0 2.3-.1 2.3 0 2.3-.1 2.3 0 2.4 0 2.3-.1 2.3 0 2.3 0 2.3 .1 2.3 0 2.4 .1 2.3 .2 2.3 .2 2.3 .3 2.3 .4 2.4 .4 2.3 .6 2.3 .8 2.3 .9 2.3 1.2 2.3 1.5 2.4 1.8 2.3 2.2 2.3 2.6 2.3 3.2 2.3 3.7 2.4 4.3 2.3 4.9 2.3 5.5 2.3 5.9 2.3 6.4 2.4 6.8 2.3 7.2 2.3 7.6 2.3 8.3 2.3 9.3 2.4 10.2 2.3 10.9 2.3 11 2.3 9.8 2.3 7.5 2.3 3.9 2.4 0 2.3-3.5 2.3-6.1 2.3-7.2 2.3-7.3 2.4-6.4 2.3-5.4 2.3-4.2 2.3-3.4 2.3-2.6 2.3-1.9 2.4-1.3 2.3-.5 2.3 .3 2.3 .9 2.3 1.6 2.4 2 2.3 2.3 2.3 2.5 2.3 2.4 2.3 2.6 2.4 2.7 2.3 3.1 2.3 3.6 2.3 4.4 2.3 5.4 2.4 6.2 2.3 6.9 2.3 6.9 2.3 6.3 2.3 5.1 2.3 3 2.4 .5 2.3-2.1 2.3-4.6 2.3-6.6 2.3-8 2.4-8.7 2.3-8.8 2.3-8.3 2.3-7.5 2.3-6.4 2.3-5.2 2.4-3.9 2.3-2.6 2.3-1.1 2.3 .3 2.3 1.5 2.4 2.6 2.3 3.8 2.3 4.7 2.3 5.5 2.3 6.5 2.4 7.1 2.3 7.8 2.3 8.1 2.3 7.9 2.3 6.9 2.4 5.3 2.3 3.1 2.3 .4 2.3-2.4 2.3-4.8 2.3-6.7 2.4-8.1 2.3-8.5 2.3-8.4 2.3-7.7 2.3-6.6 2.4-5.3 2.3-3.6 2.3-1.4 2.3 1.1 2.3 4.3 2.3 8.1 2.4 12.2 2.3 16.2 2.3 19.5 2.3 21.3 2.3 21 2.4 18.1 2.3 12.7 2.3 5.4 2.3-2.5 2.3-9.9 2.4-15.7 2.3-19.1 2.3-20.2 2.3-19.1 2.3-16.7 2.4-13.7 2.3-10.5 2.3-7.7 2.3-5.3 2.3-3.3 2.3-1.7 2.4-.4 2.3 .8 2.3 1.6 2.3 2.6 2.3 3.5 2.4 4.6 2.3 6 2.3 7.9 2.3 10.1 2.3 12.9 2.3 15.4 2.4 17.5 2.3 18.3 2.3 17.5 2.3 14.5 2.3 9.8 2.4 3.5 2.3-3.4 2.3-9.9 2.3-15.3 2.3-18.8 2.4-20.3 2.3-20.1 2.3-18.5 2.3-16 2.3-13.3 2.4-10.3 2.3-7.5 2.3-5 2.3-2.7 2.3-.6 2.3 1.3 2.4 2.7 2.3 4 2.3 5 2.3 5.8 2.3 6.5 2.4 7.5 2.3 8.4 2.3 9.5 2.3 10.4 2.3 10.9 2.3 10.8 2.4 9.7 2.3 7.7 2.3 4.7 2.3 1.1 2.3-2.6 2.4-6 2.3-8.7 2.3-10.4 2.3-11 2.3-10.8 2.4-9.7 2.3-8.3 2.3-6.7 2.3-5.2 2.3-3.6 2.4-2.4 2.3-1.4 2.3-.4 2.3 .4 2.3 1.2"/><path d="M120.6 195.5l2.3 1 2.4 1.3 2.3 1.5 2.3 1.8 2.3 1.8 2.3 1.6 2.4 1.2 2.3 .5 2.3-.2 2.3-1.1 2.3-1.7 2.3-2.3 2.4-2.6 2.3-2.7 2.3-2.8 2.3-2.7 2.3-2.6 2.4-2.5 2.3-2.3 2.3-2 2.3-1.6 2.3-1.2 2.4-.6 2.3 0 2.3 .6 2.3 1.1 2.3 1.6 2.4 1.8 2.3 1.9 2.3 1.9 2.3 1.7 2.3 1.5 2.3 1.3 2.4 1 2.3 .7 2.3 .5 2.3 .4 2.3 .2 2.4 .2 2.3 .1 2.3 0 2.3 0 2.3 0 2.3-.2 2.4-.2 2.3-.4 2.3-.7 2.3-1 2.3-1.5 2.4-1.9 2.3-2.6 2.3-3 2.3-3.4 2.3-3.6 2.4-3.5 2.3-3.2 2.3-2.7 2.3-2 2.3-1.3 2.4-.6 2.3 .1 2.3 .7 2.3 1.4 2.3 1.9 2.3 2.4 2.4 3 2.3 3.6 2.3 4 2.3 4.4 2.3 4.7 2.4 4.9 2.3 5.3 2.3 5.6 2.3 6.1 2.3 6.9 2.3 7.8 2.4 8.8 2.3 9.7 2.3 10.2 2.3 10.1 2.3 9.2 2.4 7.8 2.3 5.8 2.3 4 2.3 2.4 2.3 1.4 2.4 .8 2.3 .8 2.3 1 2.3 1.2 2.3 1.6 2.4 1.6 2.3 1.7 2.3 1.7 2.3 1.5 2.3 1.5 2.3 1.4 2.4 1.3 2.3 1.2 2.3 1.1 2.3 1.1 2.3 1 2.4 1.1 2.3 1.3 2.3 1.9 2.3 2.7 2.3 3.6 2.3 4.6 2.4 5 2.3 4.7 2.3 3.3 2.3 1.3 2.3-1.2 2.4-3.4 2.3-4.7 2.3-5.1 2.3-4.8 2.3-3.8 2.4-2.8 2.3-2 2.3-1.4 2.3-1 2.3-.6 2.4-.5 2.3-.2 2.3 0 2.3 .1 2.3 .3 2.3 .6 2.4 .9 2.3 1.5 2.3 2.4 2.3 3.9 2.3 5.9 2.4 8.5 2.3 11 2.3 13.1 2.3 13.5 2.3 11.9 2.3 8.1 2.4 2.4 2.3-3.8 2.3-9.4 2.3-13.4 2.3-15.3 2.4-15.1 2.3-13.6 2.3-11.4 2.3-9.1 2.3-7.2 2.4-5.4 2.3-3.8 2.3-2.3 2.3-.8 2.3 1 2.4 2.7 2.3 4.5 2.3 6.3 2.3 7.8 2.3 8.9 2.3 9.6 2.4 9.4 2.3 8.2 2.3 6 2.3 3.3 2.3 .1 2.4-2.9 2.3-5.1 2.3-6.5 2.3-6.8 2.3-6.4 2.3-5.4 2.4-4.3 2.3-3.1 2.3-2.1 2.3-1.4 2.3-.9 2.4-.5 2.3-.2 2.3 .2 2.3 .4 2.3 .8 2.4 1.3 2.3 2.1 2.3 3.1 2.3 4.5 2.3 6.2 2.4 8.3 2.3 10.1 2.3 11.8 2.3 12.6 2.3 12.3 2.3 10.7 2.4 7.7 2.3 3.6 2.3-.9 2.3-5.4 2.3-9.2 2.4-11.7 2.3-12.9 2.3-12.7 2.3-11.6 2.3-9.8 2.3-7.8 2.4-5.8 2.3-4.1 2.3-2.7 2.3-1.7 2.3-.8 2.4-.2 2.3 .5 2.3 1.2 2.3 2.2 2.3 3.6 2.4 5.4 2.3 7.6 2.3 10.1 2.3 12.1 2.3 13.5 2.4 13.4 2.3 11.7 2.3 8.3 2.3 3.4 2.3-2.1 2.3-7.1 2.4-11 2.3-13.4 2.3-13.9 2.3-12.9 2.3-10.9 2.4-8.6 2.3-6.3 2.3-4.3 2.3-2.8 2.3-1.7 2.3-.9 2.4-.5 2.3-.2 2.3 .1 2.3 .3 2.3 .5 2.4 .9 2.3 1.4 2.3 2.3 2.3 3.5 2.3 4.9 2.4 6.5 2.3 7.8 2.3 8.7 2.3 8.7 2.3 7.4 2.4 5 2.3 1.8 2.3-2 2.3-5.5 2.3-8.2"/><path d="M120.6 186.5l2.3-1.6 2.4-1.5 2.3-1.6 2.3-1.5 2.3-1.3 2.3-1.2 2.4-1 2.3-.8 2.3-.7 2.3-.4 2.3-.2 2.3 .1 2.4 .4 2.3 .6 2.3 1 2.3 1.2 2.3 1.5 2.4 1.6 2.3 1.7 2.3 1.6 2.3 1.7 2.3 1.4 2.4 1.3 2.3 1.1 2.3 .9 2.3 .7 2.3 .5 2.4 .4 2.3 .2 2.3 .1 2.3 .1 2.3 0 2.3 0 2.4 0 2.3 0 2.3 .1 2.3 0 2.3 .1 2.4 .1 2.3 .1 2.3 .2 2.3 .1 2.3 .1 2.3 .2 2.4 .1 2.3 .1 2.3 .1 2.3 .2 2.3 .1 2.4 .2 2.3 .1 2.3 .2 2.3 .3 2.3 .2 2.4 .4 2.3 .4 2.3 .5 2.3 .6 2.3 .7 2.4 .8 2.3 1 2.3 1.3 2.3 1.4 2.3 1.7 2.3 2 2.4 2.4 2.3 2.7 2.3 3.1 2.3 3.5 2.3 4 2.4 4.4 2.3 4.8 2.3 5.1 2.3 5.4 2.3 5.6 2.3 5.7 2.4 5.6 2.3 5.5 2.3 5.3 2.3 4.9 2.3 4.6 2.4 4.2 2.3 3.8 2.3 3.4 2.3 3 2.3 2.9 2.4 2.9 2.3 3.5 2.3 4.5 2.3 6.4 2.3 9.1 2.4 12.2 2.3 15.2 2.3 16.9 2.3 16.4 2.3 13.2 2.3 7.2 2.4-.3 2.3-7.8 2.3-13.7 2.3-17 2.3-17.6 2.4-16 2.3-13.4 2.3-10.3 2.3-7.8 2.3-5.6 2.3-4 2.4-2.7 2.3-1.3 2.3-.1 2.3 1.4 2.3 2.9 2.4 4.6 2.3 6.5 2.3 8.4 2.3 10.5 2.3 12.1 2.4 12.9 2.3 12.3 2.3 10.1 2.3 6.3 2.3 1.4 2.4-3.7 2.3-7.9 2.3-10.7 2.3-11.7 2.3-11.3 2.3-9.9 2.4-8 2.3-6 2.3-4.4 2.3-3.1 2.3-2.1 2.4-1.1 2.3-.4 2.3 .5 2.3 1.2 2.3 2.1 2.3 3.1 2.4 4.3 2.3 5.6 2.3 7.2 2.3 8.7 2.3 9.8 2.4 10.5 2.3 9.9 2.3 8.3 2.3 5.3 2.3 1.6 2.4-2.5 2.3-6.4 2.3-9.4 2.3-11.1 2.3-11.9 2.4-11.4 2.3-10.5 2.3-9 2.3-7.5 2.3-5.9 2.3-4.3 2.4-2.8 2.3-1.4 2.3 .1 2.3 1.3 2.3 2.2 2.4 2.9 2.3 3.3 2.3 3.4 2.3 3.4 2.3 3.5 2.3 3.6 2.4 4.2 2.3 4.9 2.3 5.9 2.3 6.6 2.3 6.7 2.4 5.9 2.3 4 2.3 1.3 2.3-1.8 2.3-4.6 2.4-6.4 2.3-7.3 2.3-7.1 2.3-6.3 2.3-5.3 2.4-4.1 2.3-3.2 2.3-2.5 2.3-1.7 2.3-1.1 2.3-.3 2.4 .4 2.3 1.4 2.3 2.6 2.3 4.1 2.3 6 2.4 8.2 2.3 10.6 2.3 12.4 2.3 13.2 2.3 12.4 2.3 9.6 2.4 5 2.3-.5 2.3-5.9 2.3-9.9 2.3-12.3 2.4-12.5 2.3-11.2 2.3-9.1 2.3-6.7 2.3-4.6 2.4-3 2.3-1.8 2.3-1.1 2.3-.5 2.3-.3 2.4 0 2.3 .2 2.3 .4 2.3 .3 2.3 .4 2.3 .4 2.4 .4 2.3 .3 2.3 .3 2.3 .3 2.3 .6 2.4 .9 2.3 1.4 2.3 2.2 2.3 3.2 2.3 4.3 2.3 5.3 2.4 6 2.3 5.9 2.3 5.1 2.3 3.5 2.3 1.1 2.4-1.5 2.3-4.1 2.3-6.1 2.3-7.5 2.3-8 2.4-7.9 2.3-7.2 2.3-6.3 2.3-4.9 2.3-3.2 2.4-1.1 2.3 1.4 2.3 4 2.3 6.7 2.3 8.5"/><path d="M120.6 195.2l2.3 .1 2.4 0 2.3-.1 2.3-.1 2.3-.2 2.3-.2 2.4-.3 2.3-.3 2.3-.4 2.3-.5 2.3-.5 2.3-.6 2.4-.7 2.3-.8 2.3-.8 2.3-1 2.3-1.1 2.4-1.1 2.3-1.1 2.3-1.2 2.3-1.1 2.3-1.1 2.4-1.1 2.3-.9 2.3-1 2.3-1 2.3-1.2 2.4-1.5 2.3-1.9 2.3-2.3 2.3-3 2.3-3.5 2.3-4.1 2.4-4.4 2.3-4.5 2.3-4.3 2.3-3.6 2.3-2.6 2.4-1.3 2.3 .3 2.3 1.9 2.3 3.5 2.3 4.7 2.3 5.8 2.4 6.3 2.3 6.6 2.3 6.4 2.3 6 2.3 5.5 2.4 5 2.3 4.6 2.3 4.3 2.3 4.4 2.3 4.5 2.4 5.1 2.3 5.7 2.3 6.4 2.3 7.1 2.3 7.5 2.4 7.9 2.3 7.9 2.3 7.5 2.3 7 2.3 6.2 2.3 5.4 2.4 4.5 2.3 3.7 2.3 3 2.3 2.4 2.3 2 2.4 1.6 2.3 1.4 2.3 1.6 2.3 2 2.3 2.7 2.3 3.9 2.4 5.4 2.3 6.6 2.3 7.5 2.3 7.5 2.3 6.2 2.4 3.6 2.3 .3 2.3-3.1 2.3-6.1 2.3-8 2.4-8.7 2.3-8.4 2.3-7.4 2.3-6.3 2.3-5.1 2.4-4 2.3-3.2 2.3-2.2 2.3-1.4 2.3-.4 2.3 .5 2.4 1.4 2.3 2 2.3 2.6 2.3 2.8 2.3 3.1 2.4 3.3 2.3 3.5 2.3 3.9 2.3 4.5 2.3 5.1 2.3 6 2.4 6.6 2.3 6.8 2.3 6.7 2.3 5.8 2.3 4.2 2.4 2.2 2.3-.1 2.3-2.7 2.3-4.8 2.3-6.6 2.4-7.7 2.3-8.2 2.3-8 2.3-7.4 2.3-6.3 2.4-5 2.3-3.2 2.3-1.3 2.3 .8 2.3 3.2 2.3 5.6 2.4 7.6 2.3 9.3 2.3 10.1 2.3 10.2 2.3 9 2.4 6.9 2.3 4.1 2.3 .7 2.3-2.7 2.3-5.8 2.3-8.2 2.4-9.8 2.3-10.7 2.3-10.8 2.3-10.4 2.3-9.3 2.4-8.1 2.3-6.5 2.3-4.8 2.3-2.8 2.3-.8 2.4 1 2.3 2.7 2.3 4.3 2.3 5.7 2.3 7 2.4 8.3 2.3 9.8 2.3 11.2 2.3 12.7 2.3 13.7 2.3 14 2.4 13 2.3 10.8 2.3 7.3 2.3 2.6 2.3-2.4 2.4-7 2.3-11 2.3-13.5 2.3-14.7 2.3-14.6 2.3-13.5 2.4-11.9 2.3-9.8 2.3-7.8 2.3-5.8 2.3-3.8 2.4-2 2.3-.4 2.3 1 2.3 2.2 2.3 3.1 2.4 3.6 2.3 4.1 2.3 4.4 2.3 4.7 2.3 5.2 2.4 5.7 2.3 6.2 2.3 6.7 2.3 6.8 2.3 6.3 2.3 5.2 2.4 3.3 2.3 1 2.3-1.6 2.3-4 2.3-5.9 2.4-7.4 2.3-8 2.3-8 2.3-7.5 2.3-6.6 2.3-5.3 2.4-3.6 2.3-1.6 2.3 .7 2.3 3.2 2.3 5.9 2.4 8.2 2.3 10.2 2.3 11.2 2.3 11.1 2.3 9.9 2.4 7.5 2.3 4.4 2.3 .8 2.3-2.6 2.3-5.4 2.4-7.6 2.3-8.6 2.3-8.8 2.3-8.3 2.3-7.3 2.3-6 2.4-4.7 2.3-3.5 2.3-2.3 2.3-1.4 2.3-.7 2.4 0 2.3 .5 2.3 .8 2.3 1 2.3 1 2.3 .9 2.4 .8 2.3 .8 2.3 .6 2.3 .7 2.3 1.2 2.4 2.2 2.3 4.3 2.3 7.7 2.3 12.5 2.3 18.3 2.4 23.5 2.3 26 2.3 24 2.3 16.7 2.3 5.2 2.4-7.9 2.3-18.9 2.3-25.4 2.3-26.6 2.3-23.6"/><path d="M120.6 193.9l2.3 0 2.4 0 2.3 0 2.3 0 2.3 0 2.3 0 2.4-.1 2.3-.1 2.3-.2 2.3-.2 2.3-.5 2.3-.8 2.4-1 2.3-1.6 2.3-2 2.3-2.6 2.3-3 2.4-3.4 2.3-3.5 2.3-3.3 2.3-2.9 2.3-2.1 2.4-1.4 2.3-.5 2.3 .2 2.3 .6 2.3 .7 2.4 .7 2.3 .5 2.3 .3 2.3 .2 2.3 .3 2.3 .7 2.4 1.2 2.3 1.8 2.3 2.6 2.3 3.2 2.3 3.7 2.4 4.1 2.3 4.2 2.3 4 2.3 3.7 2.3 3.1 2.3 2.3 2.4 1.6 2.3 .8 2.3 0 2.3-.5 2.3-.9 2.4-1.3 2.3-1.3 2.3-1.4 2.3-1.2 2.3-1.1 2.4-.9 2.3-.7 2.3-.6 2.3-.3 2.3-.3 2.4-.1 2.3-.1 2.3 0 2.3 .1 2.3 .1 2.3 .1 2.4 .2 2.3 .2 2.3 .2 2.3 .3 2.3 .3 2.4 .5 2.3 .4 2.3 .6 2.3 .7 2.3 .8 2.3 1 2.4 1.1 2.3 1.4 2.3 1.5 2.3 1.8 2.3 2.1 2.4 2.3 2.3 2.7 2.3 3 2.3 3.4 2.3 3.6 2.4 4 2.3 4.3 2.3 4.6 2.3 4.7 2.3 4.9 2.4 4.9 2.3 4.8 2.3 4.8 2.3 4.6 2.3 4.5 2.3 4.4 2.4 4.4 2.3 4.6 2.3 5 2.3 5.9 2.3 7 2.4 8.6 2.3 10.1 2.3 11.5 2.3 12.4 2.3 12.2 2.3 10.9 2.4 8.3 2.3 4.5 2.3 .2 2.3-4.2 2.3-8.1 2.4-10.9 2.3-12.6 2.3-12.9 2.3-12.4 2.3-11.1 2.4-9.6 2.3-7.7 2.3-5.9 2.3-4.2 2.3-2.4 2.4-.9 2.3 .5 2.3 1.7 2.3 2.5 2.3 3 2.3 3.3 2.4 3.2 2.3 3 2.3 2.9 2.3 3.1 2.3 3.6 2.4 4.6 2.3 5.9 2.3 7.4 2.3 8.3 2.3 8.1 2.3 6.6 2.4 3.4 2.3-.5 2.3-4.5 2.3-7.8 2.3-9.8 2.4-10.4 2.3-9.9 2.3-8.8 2.3-7.7 2.3-6.5 2.4-5.5 2.3-4.4 2.3-3.2 2.3-1.9 2.3-.4 2.4 1.1 2.3 2.5 2.3 3.9 2.3 5.1 2.3 6.5 2.3 8.3 2.4 10.4 2.3 12.8 2.3 14.6 2.3 14.9 2.3 13 2.4 8.5 2.3 2.1 2.3-4.7 2.3-10.3 2.3-13.5 2.3-14 2.4-12.5 2.3-10 2.3-7.3 2.3-5.2 2.3-3.6 2.4-2.6 2.3-1.6 2.3-.8 2.3 .1 2.3 1.2 2.4 2.4 2.3 3.7 2.3 5.3 2.3 6.9 2.3 8.4 2.4 9.8 2.3 10.5 2.3 10.4 2.3 9.3 2.3 7.1 2.3 4 2.4 .4 2.3-3.4 2.3-6.6 2.3-8.9 2.3-10.3 2.4-10.5 2.3-9.9 2.3-8.8 2.3-7.3 2.3-5.8 2.3-4.3 2.4-3 2.3-1.9 2.3-.8 2.3-.1 2.3 .7 2.4 1.1 2.3 1.4 2.3 1.6 2.3 1.6 2.3 1.6 2.4 1.5 2.3 1.7 2.3 2.2 2.3 2.8 2.3 3.8 2.4 5 2.3 6 2.3 6.7 2.3 6.4 2.3 5.2 2.3 3.1 2.4 .2 2.3-2.7 2.3-5.3 2.3-7 2.3-7.8 2.4-7.6 2.3-6.9 2.3-6 2.3-4.8 2.3-3.8 2.3-3 2.4-2 2.3-1.2 2.3-.4 2.3 .6 2.3 1.4 2.4 2.4 2.3 3.2 2.3 4.2 2.3 5.3 2.3 6.3 2.4 7.4 2.3 8 2.3 8.4 2.3 7.9 2.3 6.6 2.4 4.4 2.3 1.5 2.3-1.6 2.3-4.7 2.3-7.2"/></g>
<path d="M120.3,175.5C121.38,173.03 124,168.33 126.8,160.7C129.6,153.07 134.52,133.37 137.1,129.7C139.68,126.03 140.58,132.9 142.3,138.7C144.02,144.5 145.9,155.88 147.4,164.5C148.9,173.12 149.57,182.43 151.3,190.4C153.03,198.37 155,209.3 157.8,212.3C160.6,215.3 164.02,210.55 168.1,208.4C172.18,206.25 178.65,199.83 182.3,199.4C185.95,198.97 186.98,202.78 190,205.8C193.02,208.82 196.95,216.63 200.4,217.5C203.85,218.37 207.48,214.02 210.7,211C213.92,207.98 216.05,201.55 219.7,199.4C223.35,197.25 228.22,199.67 232.6,198.1C236.98,196.53 242.02,193.38 246,190C249.98,186.62 253.83,179.47 256.5,177.8C259.17,176.13 259.95,177.9 262,180C264.05,182.1 265.95,187.77 268.8,190.4C271.65,193.03 275.52,192.28 279.1,195.8C282.68,199.32 286.2,205.53 290.3,211.5C294.4,217.47 300.35,224.52 303.7,231.6C307.05,238.68 308.15,242.8 310.4,254C312.65,265.2 315.13,285.37 317.2,298.8C319.27,312.23 320.57,334.6 322.8,334.6C325.03,334.6 327.8,309.62 330.6,298.8C333.4,287.98 336.62,271.93 339.6,269.7C342.58,267.47 345.9,282.23 348.5,285.4C351.1,288.57 352.58,289.82 355.2,288.7C357.82,287.58 361.77,282.05 364.2,278.7C366.63,275.35 367.57,266 369.8,268.6C372.03,271.2 375.18,278.82 377.6,294.3C380.02,309.78 382.35,343.58 384.3,361.5C386.25,379.42 387.43,401.8 389.3,401.8C391.17,401.8 392.97,381.83 395.5,361.5C398.03,341.17 401.88,291.37 404.5,279.8C407.12,268.23 408.13,287.73 411.2,292.1C414.27,296.47 418.62,306.37 422.9,306C427.18,305.63 433.32,286.32 436.9,289.9C440.48,293.48 442.25,312.27 444.4,327.5C446.55,342.73 448,367.68 449.8,381.3C451.6,394.92 453.23,411 455.2,409.2C457.17,407.4 459.45,389.85 461.6,370.5C463.75,351.15 465.95,307.43 468.1,293.1C470.25,278.77 471.63,286.12 474.5,284.5C477.37,282.88 480.63,286.62 485.3,283.4C489.97,280.18 498.57,263.22 502.5,265.2C506.43,267.18 507.12,281.33 508.9,295.3C510.68,309.27 511.4,330.72 513.2,349C515,367.28 517.55,403.2 519.7,405C521.85,406.8 523.95,380.23 526.1,359.8C528.25,339.37 530.45,296.92 532.6,282.4C534.75,267.88 536.85,273.6 539,272.7C541.15,271.8 542.63,279.33 545.5,277C548.37,274.67 552.8,265.68 556.2,258.7C559.6,251.72 563.03,234.38 565.9,235.1C568.77,235.82 571.07,244.02 573.4,263C575.73,281.98 577.07,316.72 579.9,349C582.73,381.28 587.38,449.5 590.4,456.7C593.42,463.9 595.67,418.02 598,392.2C600.33,366.38 602.25,323.5 604.4,301.8C606.55,280.1 608.03,267.75 610.9,262C613.77,256.25 618.37,268.2 621.6,267.3C624.83,266.4 627.42,251.93 630.3,256.6C633.18,261.27 636.58,278.08 638.9,295.3C641.22,312.52 642.42,341.78 644.2,359.9C645.98,378.02 647.62,404 649.6,404C651.58,404 653.95,378.02 656.1,359.9C658.25,341.78 660.53,308.03 662.5,295.3C664.47,282.57 665.38,283.13 667.9,283.5C670.42,283.87 674.92,299.12 677.6,297.5C680.28,295.88 681.48,283.85 684,273.8C686.52,263.75 690.18,235.4 692.7,237.2C695.22,239 697.32,262.37 699.1,284.6C700.88,306.83 701.42,342.27 703.4,370.6C705.38,398.93 708.92,447.07 711,454.6C713.08,462.13 715.08,422.27 715.9,415.8" fill="none" stroke="#00CD00" stroke-width="3.4" stroke-linejoin="round" stroke-linecap="round"/>
<line x1="324.68" y1="85.7" x2="324.68" y2="470.7" stroke="#7f7f7f" stroke-width="2.6" stroke-dasharray="8 13.35" stroke-dashoffset="6.9" stroke-linecap="round"/>
<line x1="454.52" y1="85.7" x2="454.52" y2="470.7" stroke="#7f7f7f" stroke-width="2.6" stroke-dasharray="8 13.35" stroke-dashoffset="6.9" stroke-linecap="round"/>
<circle cx="230.1" cy="185.3" r="7.6" fill="#C8C8C8"/>
<circle cx="236" cy="190" r="7.6" fill="#C8C8C8"/>
<circle cx="226" cy="188" r="7.6" fill="#C8C8C8"/>
<circle cx="250.5" cy="178.7" r="7.6" fill="#C8C8C8"/>
<circle cx="269.2" cy="177.5" r="7.6" fill="#C8C8C8"/>
<circle cx="296.9" cy="181.1" r="7.6" fill="#C8C8C8"/>
<circle cx="324.6" cy="189.5" r="7.6" fill="#C8C8C8"/>
<circle cx="305.4" cy="198.6" r="7.6" fill="#C8C8C8"/>
<circle cx="278.3" cy="208.2" r="7.6" fill="#C8C8C8"/>
<circle cx="258.4" cy="197.3" r="7.6" fill="#C8C8C8"/>
<circle cx="239.1" cy="193.7" r="7.6" fill="#C8C8C8"/>
<circle cx="243" cy="184" r="7.6" fill="#C8C8C8"/>
<circle cx="262" cy="186" r="7.6" fill="#C8C8C8"/>
<circle cx="250.5" cy="189.5" r="7.8" fill="#6495ED"/>
<circle cx="269.2" cy="190.7" r="7.8" fill="#00CD00"/>
<circle cx="315.9" cy="201" r="7.8" fill="#CD5B45"/>
<circle cx="324.9" cy="214.5" r="7.8" fill="#2F4F4F"/>
<rect x="97.0" y="85.7" width="641.3" height="385" fill="none" stroke="#000" stroke-width="1.3"/>
<line x1="88.2" y1="92.1" x2="97" y2="92.1" stroke="#000" stroke-width="1.3"/>
<line x1="88.2" y1="143" x2="97" y2="143" stroke="#000" stroke-width="1.3"/>
<line x1="88.2" y1="193.9" x2="97" y2="193.9" stroke="#000" stroke-width="1.3"/>
<line x1="88.2" y1="244.8" x2="97" y2="244.8" stroke="#000" stroke-width="1.3"/>
<line x1="88.2" y1="295.7" x2="97" y2="295.7" stroke="#000" stroke-width="1.3"/>
<line x1="88.2" y1="346.6" x2="97" y2="346.6" stroke="#000" stroke-width="1.3"/>
<line x1="88.2" y1="397.5" x2="97" y2="397.5" stroke="#000" stroke-width="1.3"/>
<line x1="88.2" y1="448.4" x2="97" y2="448.4" stroke="#000" stroke-width="1.3"/>
<text x="0" y="0" font-size="27.2" text-anchor="middle" fill="#000" transform="translate(77,143) rotate(-90)">0.2</text>
<text x="0" y="0" font-size="27.2" text-anchor="middle" fill="#000" transform="translate(77,244.8) rotate(-90)">−0.2</text>
<text x="0" y="0" font-size="27.2" text-anchor="middle" fill="#000" transform="translate(77,346.6) rotate(-90)">−0.6</text>
<text x="0" y="0" font-size="27.2" text-anchor="middle" fill="#000" transform="translate(77,448.4) rotate(-90)">−1.0</text>
<line x1="111.35" y1="470.7" x2="111.35" y2="479.4" stroke="#000" stroke-width="1.3"/>
<text x="111.35" y="500.8" font-size="27.2" text-anchor="middle" fill="#000">0</text>
<line x1="204.1" y1="470.7" x2="204.1" y2="479.4" stroke="#000" stroke-width="1.3"/>
<text x="204.1" y="500.8" font-size="27.2" text-anchor="middle" fill="#000">10</text>
<line x1="296.85" y1="470.7" x2="296.85" y2="479.4" stroke="#000" stroke-width="1.3"/>
<text x="296.85" y="500.8" font-size="27.2" text-anchor="middle" fill="#000">20</text>
<line x1="389.6" y1="470.7" x2="389.6" y2="479.4" stroke="#000" stroke-width="1.3"/>
<text x="389.6" y="500.8" font-size="27.2" text-anchor="middle" fill="#000">30</text>
<line x1="482.35" y1="470.7" x2="482.35" y2="479.4" stroke="#000" stroke-width="1.3"/>
<text x="482.35" y="500.8" font-size="27.2" text-anchor="middle" fill="#000">40</text>
<line x1="575.1" y1="470.7" x2="575.1" y2="479.4" stroke="#000" stroke-width="1.3"/>
<text x="575.1" y="500.8" font-size="27.2" text-anchor="middle" fill="#000">50</text>
<line x1="667.85" y1="470.7" x2="667.85" y2="479.4" stroke="#000" stroke-width="1.3"/>
<text x="667.85" y="500.8" font-size="27.2" text-anchor="middle" fill="#000">60</text>
<line x1="514.4" y1="109.8" x2="554.1" y2="109.8" stroke="#6495ED" stroke-width="3.4"/>
<text x="572.4" y="117.2" font-size="20.6" fill="#000">Campania</text>
<line x1="514.4" y1="134.67" x2="554.1" y2="134.67" stroke="#CD5B45" stroke-width="3.4"/>
<text x="572.4" y="142.07" font-size="20.6" fill="#000">Emilia–Romagna</text>
<line x1="514.4" y1="159.54" x2="554.1" y2="159.54" stroke="#2F4F4F" stroke-width="3.4"/>
<text x="572.4" y="166.94" font-size="20.6" fill="#000">Lombardia</text>
<line x1="514.4" y1="184.41" x2="554.1" y2="184.41" stroke="#00CD00" stroke-width="3.4"/>
<text x="572.4" y="191.81" font-size="20.6" fill="#000">Veneto</text>
<text x="418.3" y="601.5" font-size="34.5" text-anchor="middle" fill="#000">positivity: shifted curves</text>
<g fill="none" stroke="#C8C8C8" stroke-width="1.6" stroke-linejoin="round"><path d="M120.6 919.7l4.6-6.4 4.6-6.5 4.6-6.4 4.6-6.3 4.6-6.4 4.6-6.2 4.6-6.2 4.6-6 4.6-6 4.6-5.8 4.6-5.8 4.6-5.5 4.6-5.4 4.6-5.2 4.6-5.1 4.6-4.8 4.7-4.6 4.6-4.4 4.6-4.1 4.6-3.9 4.6-3.6 4.6-3.3 4.6-3 4.6-2.8 4.6-2.4 4.6-2 4.6-1.8 4.6-1.5 4.6-1.2 4.6-.9 4.6-.7 4.6-.5 4.6-.3 4.6-.1 4.6 .2 4.6 .2 4.6 .5 4.6 .6 4.6 .7 4.6 .9 4.6 1.1 4.6 1.1 4.6 1.3 4.6 1.4 4.6 1.5 4.6 1.6 4.6 1.6 4.6 1.8 4.6 1.8 4.6 1.9 4.6 1.9 4.6 2 4.6 2.1 4.6 2 4.6 2.1 4.6 2.1 4.6 2.1 4.6 2.1 4.6 2.2 4.6 2.1 4.6 2 4.6 2.1 4.6 2.1 4.6 2 4.6 2.1 4.6 2 4.6 2 4.6 2 4.6 2 4.6 2 4.6 1.9 4.6 1.9 4.6 2 4.6 1.9 4.6 1.9 4.6 1.8 4.6 1.9 4.6 1.8 4.6 1.8 4.6 1.8 4.7 1.8 4.6 1.7 4.6 1.7 4.6 1.7 4.6 1.7 4.6 1.7 4.6 1.6 4.6 1.6 4.6 1.6 4.6 1.5 4.6 1.6 4.6 1.5 4.6 1.4 4.6 1.5 4.6 1.4 4.6 1.5 4.6 1.4 4.6 1.3 4.6 1.4 4.6 1.3 4.6 1.4 4.6 1.3 4.6 1.2 4.6 1.3 4.6 1.3 4.6 1.2 4.6 1.2 4.6 1.2 4.6 1.2 4.6 1.2 4.6 1.2 4.6 1.1 4.6 1.2 4.6 1.1 4.6 1.2 4.6 1.1 4.6 1.1 4.6 1.1 4.6 1.1 4.6 1.1 4.6 1.1 4.6 1.1 4.6 1 4.6 1.1 4.6 1.1 4.6 1.1 4.6 1 4.6 1.1 4.6 1"/><path d="M120.6 905.5l4.6-3.5 4.6-3.5 4.6-3.4 4.6-3.5 4.6-3.4 4.6-3.4 4.6-3.4 4.6-3.3 4.6-3.3 4.6-3.3 4.6-3.2 4.6-3.1 4.6-3.1 4.6-3 4.6-2.9 4.6-2.9 4.7-2.7 4.6-2.7 4.6-2.6 4.6-2.5 4.6-2.3 4.6-2.3 4.6-2.1 4.6-2.1 4.6-1.8 4.6-1.8 4.6-1.6 4.6-1.5 4.6-1.4 4.6-1.2 4.6-1.1 4.6-.9 4.6-.8 4.6-.7 4.6-.6 4.6-.4 4.6-.3 4.6-.2 4.6-.1 4.6 0 4.6 .2 4.6 .3 4.6 .4 4.6 .5 4.6 .6 4.6 .7 4.6 .8 4.6 .9 4.6 1 4.6 1.1 4.6 1.1 4.6 1.3 4.6 1.2 4.6 1.4 4.6 1.4 4.6 1.5 4.6 1.6 4.6 1.6 4.6 1.6 4.6 1.7 4.6 1.7 4.6 1.7 4.6 1.8 4.6 1.8 4.6 1.8 4.6 1.8 4.6 1.8 4.6 1.9 4.6 1.8 4.6 1.8 4.6 1.9 4.6 1.8 4.6 1.8 4.6 1.8 4.6 1.9 4.6 1.8 4.6 1.7 4.6 1.8 4.6 1.8 4.6 1.7 4.7 1.8 4.6 1.7 4.6 1.7 4.6 1.7 4.6 1.7 4.6 1.6 4.6 1.7 4.6 1.6 4.6 1.6 4.6 1.5 4.6 1.6 4.6 1.5 4.6 1.4 4.6 1.5 4.6 1.4 4.6 1.4 4.6 1.4 4.6 1.3 4.6 1.3 4.6 1.3 4.6 1.2 4.6 1.2 4.6 1.2 4.6 1.1 4.6 1.1 4.6 1.1 4.6 1.1 4.6 1 4.6 1 4.6 1 4.6 1 4.6 .9 4.6 .9 4.6 .9 4.6 .9 4.6 .9 4.6 .8 4.6 .9 4.6 .8 4.6 .8 4.6 .8 4.6 .8 4.6 .8 4.6 .8 4.6 .8 4.6 .8 4.6 .7 4.6 .8 4.6 .8"/><path d="M120.6 934l4.6-3.2 4.6-3.2 4.6-3.2 4.6-3.2 4.6-3.1 4.6-3.1 4.6-3.2 4.6-3 4.6-3.1 4.6-3 4.6-3 4.6-3 4.6-2.9 4.6-2.8 4.6-2.8 4.6-2.8 4.7-2.6 4.6-2.7 4.6-2.5 4.6-2.5 4.6-2.4 4.6-2.3 4.6-2.3 4.6-2.2 4.6-2 4.6-2.1 4.6-1.9 4.6-1.8 4.6-1.8 4.6-1.7 4.6-1.6 4.6-1.5 4.6-1.5 4.6-1.4 4.6-1.3 4.6-1.2 4.6-1.2 4.6-1.1 4.6-1 4.6-.9 4.6-.9 4.6-.8 4.6-.8 4.6-.6 4.6-.6 4.6-.5 4.6-.5 4.6-.4 4.6-.3 4.6-.2 4.6-.2 4.6-.1 4.6 0 4.6 0 4.6 .2 4.6 .2 4.6 .3 4.6 .4 4.6 .4 4.6 .6 4.6 .6 4.6 .7 4.6 .8 4.6 .9 4.6 .9 4.6 1.1 4.6 1.1 4.6 1.2 4.6 1.3 4.6 1.3 4.6 1.4 4.6 1.5 4.6 1.5 4.6 1.6 4.6 1.7 4.6 1.6 4.6 1.7 4.6 1.8 4.6 1.8 4.6 1.8 4.7 1.8 4.6 1.8 4.6 1.9 4.6 1.8 4.6 1.9 4.6 1.9 4.6 1.9 4.6 1.8 4.6 1.9 4.6 1.8 4.6 1.8 4.6 1.8 4.6 1.8 4.6 1.7 4.6 1.7 4.6 1.7 4.6 1.6 4.6 1.6 4.6 1.6 4.6 1.5 4.6 1.5 4.6 1.4 4.6 1.5 4.6 1.3 4.6 1.4 4.6 1.3 4.6 1.4 4.6 1.2 4.6 1.3 4.6 1.2 4.6 1.3 4.6 1.2 4.6 1.1 4.6 1.2 4.6 1.1 4.6 1.2 4.6 1.1 4.6 1.1 4.6 1.1 4.6 1 4.6 1.1 4.6 1 4.6 1.1 4.6 1 4.6 1.1 4.6 1 4.6 1 4.6 1 4.6 1.1"/></g>
<path d="M120.6 832l4.6-8.9 4.6-8.8 4.6-8.5 4.6-8.2 4.6-7.6 4.6-7.1 4.6-6.4 4.6-5.7 4.6-5.1 4.6-4.6 4.6-4.1 4.6-3.7 4.6-3.3 4.6-2.9 4.6-2.7 4.6-2.4 4.7-2 4.6-1.8 4.6-1.4 4.6-1.1 4.6-.8 4.6-.5 4.6-.1 4.6 .1 4.6 .5 4.6 .8 4.6 1 4.6 1.2 4.6 1.5 4.6 1.6 4.6 1.8 4.6 2 4.6 2.1 4.6 2.3 4.6 2.5 4.6 2.5 4.6 2.7 4.6 2.8 4.6 3 4.6 3 4.6 3.1 4.6 3.2 4.6 3.2 4.6 3.3 4.6 3.4 4.6 3.4 4.6 3.4 4.6 3.5 4.6 3.6 4.6 3.5 4.6 3.6 4.6 3.6 4.6 3.6 4.6 3.6 4.6 3.6 4.6 3.6 4.6 3.6 4.6 3.6 4.6 3.6 4.6 3.5 4.6 3.6 4.6 3.5 4.6 3.5 4.6 3.4 4.6 3.3 4.6 3.3 4.6 3.2 4.6 3.2 4.6 3 4.6 3 4.6 2.8 4.6 2.8 4.6 2.6 4.6 2.4 4.6 2.4 4.6 2.3 4.6 2.2 4.6 2.1 4.6 2 4.6 2.1 4.7 1.9 4.6 2 4.6 2 4.6 2 4.6 2 4.6 2 4.6 2.1 4.6 2.2 4.6 2.2 4.6 2.2 4.6 2.2 4.6 2.3 4.6 2.2 4.6 2.2 4.6 2.1 4.6 2.1 4.6 2.1 4.6 1.9 4.6 1.9 4.6 1.7 4.6 1.7 4.6 1.6 4.6 1.5 4.6 1.4 4.6 1.3 4.6 1.3 4.6 1.1 4.6 1.2 4.6 1 4.6 1 4.6 1 4.6 .9 4.6 .9 4.6 .8 4.6 .8 4.6 .8 4.6 .7 4.6 .8 4.6 .6 4.6 .7 4.6 .6 4.6 .7 4.6 .6 4.6 .5 4.6 .6 4.6 .6 4.6 .5 4.6 .6 4.6 .6" fill="none" stroke="#6495ED" stroke-width="3.4" stroke-linejoin="round"/>
<path d="M120.6 976.6l4.6-6.5 4.6-6.6 4.6-6.5 4.6-6.7 4.6-6.7 4.6-6.9 4.6-6.9 4.6-7.1 4.6-7.3 4.6-7.4 4.6-7.7 4.6-7.8 4.6-8 4.6-8.1 4.6-8.2 4.6-8.2 4.7-8.2 4.6-8.1 4.6-8 4.6-7.9 4.6-7.7 4.6-7.4 4.6-7.2 4.6-6.8 4.6-6.6 4.6-6.1 4.6-5.8 4.6-5.4 4.6-5.2 4.6-4.7 4.6-4.5 4.6-4.1 4.6-3.8 4.6-3.5 4.6-3.3 4.6-2.9 4.6-2.6 4.6-2.4 4.6-2.2 4.6-1.8 4.6-1.6 4.6-1.4 4.6-1.1 4.6-1 4.6-.7 4.6-.5 4.6-.3 4.6-.1 4.6 0 4.6 .1 4.6 .3 4.6 .5 4.6 .6 4.6 .6 4.6 .9 4.6 .9 4.6 1 4.6 1.2 4.6 1.2 4.6 1.3 4.6 1.3 4.6 1.5 4.6 1.5 4.6 1.7 4.6 1.7 4.6 1.8 4.6 2 4.6 2 4.6 2.2 4.6 2.4 4.6 2.5 4.6 2.6 4.6 2.8 4.6 3 4.6 3.1 4.6 3.2 4.6 3.3 4.6 3.4 4.6 3.4 4.6 3.5 4.7 3.4 4.6 3.4 4.6 3.4 4.6 3.3 4.6 3.1 4.6 3.1 4.6 2.9 4.6 2.8 4.6 2.6 4.6 2.6 4.6 2.5 4.6 2.4 4.6 2.5 4.6 2.5 4.6 2.5 4.6 2.7 4.6 2.7 4.6 2.9 4.6 3.1 4.6 3.2 4.6 3.4 4.6 3.5 4.6 3.6 4.6 3.6 4.6 3.7 4.6 3.7 4.6 3.7 4.6 3.6 4.6 3.5 4.6 3.4 4.6 3.3 4.6 3.1 4.6 2.9 4.6 2.7 4.6 2.6 4.6 2.3 4.6 2.3 4.6 2 4.6 1.9 4.6 1.8 4.6 1.7 4.6 1.6 4.6 1.6 4.6 1.4 4.6 1.4 4.6 1.3 4.6 1.3 4.6 1.3 4.6 1.2" fill="none" stroke="#CD5B45" stroke-width="3.4" stroke-linejoin="round"/>
<g fill="none" stroke="#C8C8C8" stroke-width="1.6" stroke-linejoin="round"><path d="M120.6 962.4l4.6-8 4.6-8.1 4.6-8 4.6-8 4.6-8 4.6-8 4.6-8 4.6-7.9 4.6-7.9 4.6-7.9 4.6-7.8 4.6-7.8 4.6-7.8 4.6-7.7 4.6-7.6 4.6-7.6 4.7-7.6 4.6-7.5 4.6-7.4 4.6-7.3 4.6-7.2 4.6-7.2 4.6-7 4.6-6.9 4.6-6.8 4.6-6.6 4.6-6.5 4.6-6.3 4.6-6.1 4.6-5.9 4.6-5.7 4.6-5.5 4.6-5.3 4.6-5 4.6-4.8 4.6-4.5 4.6-4.3 4.6-3.9 4.6-3.7 4.6-3.3 4.6-3 4.6-2.7 4.6-2.4 4.6-2.2 4.6-1.8 4.6-1.5 4.6-1.3 4.6-1 4.6-.7 4.6-.5 4.6-.3 4.6-.1 4.6 .2 4.6 .4 4.6 .6 4.6 .8 4.6 1 4.6 1.2 4.6 1.4 4.6 1.7 4.6 1.8 4.6 2 4.6 2.2 4.6 2.5 4.6 2.6 4.6 2.8 4.6 3 4.6 3.1 4.6 3.4 4.6 3.5 4.6 3.8 4.6 3.9 4.6 4.1 4.6 4.2 4.6 4.4 4.6 4.6 4.6 4.7 4.6 4.8 4.6 4.9 4.6 5 4.7 5.1 4.6 5.2 4.6 5.2 4.6 5.2 4.6 5.3 4.6 5.2 4.6 5.3 4.6 5.3 4.6 5.2 4.6 5.1 4.6 5.2 4.6 5 4.6 5 4.6 4.8 4.6 4.8 4.6 4.6 4.6 4.5 4.6 4.3 4.6 4.2 4.6 4 4.6 3.8 4.6 3.7 4.6 3.5 4.6 3.4 4.6 3.2 4.6 3 4.6 3 4.6 2.8 4.6 2.7 4.6 2.5 4.6 2.5 4.6 2.4 4.6 2.2 4.6 2.2 4.6 2.1 4.6 2 4.6 1.9 4.6 1.8 4.6 1.8 4.6 1.7 4.6 1.7 4.6 1.6 4.6 1.6 4.6 1.6 4.6 1.5 4.6 1.5 4.6 1.5 4.6 1.5 4.6 1.4"/><path d="M120.6 983.7l4.6-6.2 4.6-6.2 4.6-6.2 4.6-6.3 4.6-6.2 4.6-6.3 4.6-6.2 4.6-6.3 4.6-6.3 4.6-6.4 4.6-6.3 4.6-6.4 4.6-6.4 4.6-6.4 4.6-6.5 4.6-6.5 4.7-6.5 4.6-6.6 4.6-6.6 4.6-6.7 4.6-6.7 4.6-6.8 4.6-6.8 4.6-6.9 4.6-6.9 4.6-6.8 4.6-6.9 4.6-6.9 4.6-6.8 4.6-6.8 4.6-6.6 4.6-6.7 4.6-6.5 4.6-6.3 4.6-6.3 4.6-6.1 4.6-5.9 4.6-5.8 4.6-5.5 4.6-5.4 4.6-5.1 4.6-4.9 4.6-4.6 4.6-4.3 4.6-4.1 4.6-3.7 4.6-3.5 4.6-3.2 4.6-2.8 4.6-2.6 4.6-2.3 4.6-2 4.6-1.8 4.6-1.4 4.6-1.1 4.6-.9 4.6-.6 4.6-.3 4.6-.1 4.6 .3 4.6 .5 4.6 .8 4.6 1.1 4.6 1.3 4.6 1.6 4.6 1.8 4.6 2.1 4.6 2.3 4.6 2.6 4.6 2.8 4.6 3 4.6 3.3 4.6 3.4 4.6 3.7 4.6 3.9 4.6 4.1 4.6 4.3 4.6 4.5 4.6 4.7 4.6 4.9 4.7 5 4.6 5.2 4.6 5.3 4.6 5.4 4.6 5.5 4.6 5.6 4.6 5.7 4.6 5.7 4.6 5.7 4.6 5.7 4.6 5.7 4.6 5.7 4.6 5.7 4.6 5.6 4.6 5.5 4.6 5.4 4.6 5.3 4.6 5.1 4.6 5 4.6 4.9 4.6 4.7 4.6 4.4 4.6 4.3 4.6 4 4.6 3.8 4.6 3.6 4.6 3.4 4.6 3.2 4.6 3 4.6 2.9 4.6 2.6 4.6 2.5 4.6 2.4 4.6 2.2 4.6 2.1 4.6 2 4.6 1.8 4.6 1.8 4.6 1.6 4.6 1.6 4.6 1.5 4.6 1.4 4.6 1.3 4.6 1.3 4.6 1.3 4.6 1.2 4.6 1.2 4.6 1.2 4.6 1.1"/><path d="M120.6 841.5l4.6-8.7 4.6-8.6 4.6-8.6 4.6-8.5 4.6-8.2 4.6-8.1 4.6-7.8 4.6-7.4 4.6-7.2 4.6-6.7 4.6-6.3 4.6-5.8 4.6-5.3 4.6-4.7 4.6-4.3 4.6-3.7 4.7-3.3 4.6-2.9 4.6-2.4 4.6-1.9 4.6-1.6 4.6-1.2 4.6-.7 4.6-.5 4.6 0 4.6 .3 4.6 .6 4.6 .9 4.6 1.2 4.6 1.6 4.6 1.8 4.6 2.1 4.6 2.4 4.6 2.6 4.6 2.9 4.6 3 4.6 3.3 4.6 3.4 4.6 3.5 4.6 3.8 4.6 3.8 4.6 3.9 4.6 4 4.6 4.1 4.6 4.2 4.6 4.2 4.6 4.2 4.6 4.2 4.6 4.2 4.6 4.1 4.6 4.2 4.6 4.1 4.6 4 4.6 4.1 4.6 4 4.6 4 4.6 3.9 4.6 3.9 4.6 3.8 4.6 3.8 4.6 3.8 4.6 3.7 4.6 3.7 4.6 3.6 4.6 3.5 4.6 3.5 4.6 3.4 4.6 3.4 4.6 3.3 4.6 3.3 4.6 3.1 4.6 3.2 4.6 3 4.6 3 4.6 2.8 4.6 2.8 4.6 2.8 4.6 2.6 4.6 2.6 4.6 2.5 4.7 2.4 4.6 2.3 4.6 2.2 4.6 2.2 4.6 2.1 4.6 2 4.6 1.9 4.6 1.9 4.6 1.8 4.6 1.7 4.6 1.7 4.6 1.6 4.6 1.5 4.6 1.5 4.6 1.4 4.6 1.4 4.6 1.3 4.6 1.2 4.6 1.2 4.6 1.2 4.6 1.1 4.6 1 4.6 1 4.6 1 4.6 .9 4.6 .9 4.6 .8 4.6 .9 4.6 .7 4.6 .8 4.6 .7 4.6 .6 4.6 .7 4.6 .6 4.6 .6 4.6 .6 4.6 .5 4.6 .5 4.6 .5 4.6 .5 4.6 .5 4.6 .5 4.6 .4 4.6 .5 4.6 .4 4.6 .4 4.6 .4 4.6 .5 4.6 .4"/></g>
<path d="M120.6 999l4.6-8.5 4.6-8.5 4.6-8.5 4.6-8.5 4.6-8.5 4.6-8.5 4.6-8.6 4.6-8.6 4.6-8.6 4.6-8.6 4.6-8.6 4.6-8.6 4.6-8.6 4.6-8.5 4.6-8.6 4.6-8.4 4.7-8.5 4.6-8.4 4.6-8.3 4.6-8.2 4.6-8.2 4.6-8 4.6-8 4.6-7.9 4.6-7.7 4.6-7.6 4.6-7.5 4.6-7.4 4.6-7.2 4.6-7 4.6-6.9 4.6-6.8 4.6-6.5 4.6-6.4 4.6-6.2 4.6-6 4.6-5.8 4.6-5.6 4.6-5.4 4.6-5.2 4.6-4.9 4.6-4.7 4.6-4.5 4.6-4.2 4.6-3.9 4.6-3.7 4.6-3.5 4.6-3.2 4.6-2.9 4.6-2.7 4.6-2.4 4.6-2.1 4.6-1.9 4.6-1.6 4.6-1.4 4.6-1.1 4.6-.9 4.6-.6 4.6-.3 4.6-.1 4.6 .2 4.6 .5 4.6 .7 4.6 1 4.6 1.3 4.6 1.6 4.6 1.8 4.6 2.1 4.6 2.4 4.6 2.7 4.6 2.9 4.6 3.3 4.6 3.5 4.6 3.8 4.6 4.1 4.6 4.3 4.6 4.6 4.6 4.7 4.6 4.8 4.6 5 4.7 5.1 4.6 5.2 4.6 5.2 4.6 5.3 4.6 5.3 4.6 5.2 4.6 5.2 4.6 5.2 4.6 5.1 4.6 5 4.6 5 4.6 5 4.6 5 4.6 4.9 4.6 4.8 4.6 4.9 4.6 4.9 4.6 4.8 4.6 4.8 4.6 4.9 4.6 4.8 4.6 4.7 4.6 4.7 4.6 4.7 4.6 4.5 4.6 4.5 4.6 4.3 4.6 4.2 4.6 4 4.6 3.9 4.6 3.7 4.6 3.5 4.6 3.3 4.6 3.1 4.6 2.8 4.6 2.7 4.6 2.6 4.6 2.4 4.6 2.2 4.6 2.1 4.6 2 4.6 1.9 4.6 1.8 4.6 1.7 4.6 1.7 4.6 1.6 4.6 1.5 4.6 1.6 4.6 1.5" fill="none" stroke="#2F4F4F" stroke-width="3.4" stroke-linejoin="round"/>
<g fill="none" stroke="#C8C8C8" stroke-width="1.6" stroke-linejoin="round"><path d="M120.6 891.3l4.6-8.1 4.6-8.1 4.6-8 4.6-8 4.6-7.9 4.6-7.8 4.6-7.7 4.6-7.6 4.6-7.4 4.6-7.3 4.6-7 4.6-6.8 4.6-6.7 4.6-6.3 4.6-6.1 4.6-5.8 4.7-5.5 4.6-5.2 4.6-4.8 4.6-4.5 4.6-4.1 4.6-3.8 4.6-3.5 4.6-3.1 4.6-2.8 4.6-2.5 4.6-2.1 4.6-1.8 4.6-1.5 4.6-1.1 4.6-.8 4.6-.6 4.6-.1 4.6 .1 4.6 .4 4.6 .7 4.6 1.1 4.6 1.3 4.6 1.5 4.6 1.8 4.6 2 4.6 2.2 4.6 2.5 4.6 2.6 4.6 2.8 4.6 2.9 4.6 3.1 4.6 3.2 4.6 3.3 4.6 3.4 4.6 3.4 4.6 3.6 4.6 3.6 4.6 3.6 4.6 3.7 4.6 3.6 4.6 3.7 4.6 3.7 4.6 3.7 4.6 3.6 4.6 3.7 4.6 3.7 4.6 3.7 4.6 3.6 4.6 3.7 4.6 3.6 4.6 3.6 4.6 3.6 4.6 3.6 4.6 3.5 4.6 3.5 4.6 3.5 4.6 3.4 4.6 3.4 4.6 3.3 4.6 3.3 4.6 3.3 4.6 3.2 4.6 3.1 4.6 3.1 4.7 3 4.6 3 4.6 2.9 4.6 2.8 4.6 2.8 4.6 2.6 4.6 2.6 4.6 2.5 4.6 2.4 4.6 2.4 4.6 2.2 4.6 2.2 4.6 2.1 4.6 2 4.6 1.9 4.6 1.9 4.6 1.8 4.6 1.7 4.6 1.7 4.6 1.6 4.6 1.5 4.6 1.5 4.6 1.4 4.6 1.3 4.6 1.3 4.6 1.3 4.6 1.2 4.6 1.1 4.6 1.1 4.6 1.1 4.6 1 4.6 1 4.6 .9 4.6 .9 4.6 .9 4.6 .8 4.6 .9 4.6 .8 4.6 .7 4.6 .8 4.6 .7 4.6 .7 4.6 .7 4.6 .7 4.6 .7 4.6 .6 4.6 .7 4.6 .6 4.6 .7"/><path d="M120.6 862.9l4.6-5.1 4.6-5 4.6-5 4.6-4.9 4.6-4.8 4.6-4.8 4.6-4.6 4.6-4.5 4.6-4.3 4.6-4.2 4.6-3.9 4.6-3.8 4.6-3.5 4.6-3.2 4.6-3 4.6-2.7 4.7-2.3 4.6-2.1 4.6-1.8 4.6-1.4 4.6-1.3 4.6-.9 4.6-.7 4.6-.5 4.6-.3 4.6-.1 4.6 .1 4.6 .3 4.6 .4 4.6 .6 4.6 .7 4.6 .9 4.6 1 4.6 1.1 4.6 1.3 4.6 1.4 4.6 1.5 4.6 1.6 4.6 1.7 4.6 1.8 4.6 1.8 4.6 2 4.6 2 4.6 2.1 4.6 2.2 4.6 2.3 4.6 2.3 4.6 2.3 4.6 2.4 4.6 2.4 4.6 2.5 4.6 2.4 4.6 2.5 4.6 2.5 4.6 2.6 4.6 2.5 4.6 2.5 4.6 2.5 4.6 2.5 4.6 2.5 4.6 2.4 4.6 2.5 4.6 2.4 4.6 2.4 4.6 2.4 4.6 2.3 4.6 2.3 4.6 2.3 4.6 2.3 4.6 2.3 4.6 2.2 4.6 2.2 4.6 2.2 4.6 2.1 4.6 2.1 4.6 2.1 4.6 2.1 4.6 2 4.6 2 4.6 2 4.7 1.9 4.6 1.9 4.6 1.9 4.6 1.8 4.6 1.8 4.6 1.7 4.6 1.7 4.6 1.7 4.6 1.6 4.6 1.6 4.6 1.6 4.6 1.5 4.6 1.4 4.6 1.5 4.6 1.4 4.6 1.3 4.6 1.3 4.6 1.2 4.6 1.2 4.6 1.2 4.6 1.1 4.6 1 4.6 1 4.6 1 4.6 1 4.6 .9 4.6 .8 4.6 .9 4.6 .8 4.6 .7 4.6 .8 4.6 .7 4.6 .6 4.6 .7 4.6 .6 4.6 .6 4.6 .6 4.6 .6 4.6 .5 4.6 .6 4.6 .5 4.6 .5 4.6 .5 4.6 .5 4.6 .5 4.6 .5 4.6 .4 4.6 .5 4.6 .5"/><path d="M120.6 941.1l4.6-6.1 4.6-6.1 4.6-6 4.6-6 4.6-6 4.6-5.9 4.6-5.8 4.6-5.8 4.6-5.7 4.6-5.6 4.6-5.5 4.6-5.3 4.6-5.3 4.6-5.1 4.6-4.9 4.6-4.8 4.7-4.6 4.6-4.5 4.6-4.2 4.6-4.1 4.6-3.8 4.6-3.7 4.6-3.5 4.6-3.3 4.6-3.1 4.6-2.9 4.6-2.7 4.6-2.5 4.6-2.4 4.6-2.1 4.6-2 4.6-1.8 4.6-1.6 4.6-1.4 4.6-1.3 4.6-1.1 4.6-.9 4.6-.8 4.6-.7 4.6-.5 4.6-.4 4.6-.2 4.6-.2 4.6 0 4.6 0 4.6 .2 4.6 .2 4.6 .3 4.6 .4 4.6 .5 4.6 .5 4.6 .6 4.6 .6 4.6 .7 4.6 .8 4.6 .9 4.6 .9 4.6 1 4.6 1.1 4.6 1.1 4.6 1.2 4.6 1.2 4.6 1.4 4.6 1.4 4.6 1.4 4.6 1.6 4.6 1.6 4.6 1.7 4.6 1.7 4.6 1.8 4.6 1.9 4.6 1.9 4.6 2 4.6 2 4.6 2.1 4.6 2.1 4.6 2.2 4.6 2.2 4.6 2.2 4.6 2.2 4.7 2.3 4.6 2.3 4.6 2.2 4.6 2.3 4.6 2.3 4.6 2.3 4.6 2.3 4.6 2.2 4.6 2.3 4.6 2.2 4.6 2.2 4.6 2.1 4.6 2.2 4.6 2.1 4.6 2 4.6 2 4.6 2 4.6 1.9 4.6 1.8 4.6 1.8 4.6 1.7 4.6 1.6 4.6 1.6 4.6 1.6 4.6 1.5 4.6 1.4 4.6 1.4 4.6 1.3 4.6 1.3 4.6 1.3 4.6 1.2 4.6 1.2 4.6 1.1 4.6 1.1 4.6 1.1 4.6 1.1 4.6 1 4.6 1 4.6 .9 4.6 1 4.6 .9 4.6 .9 4.6 .9 4.6 .9 4.6 .9 4.6 .9 4.6 .8 4.6 .9 4.6 .8"/><path d="M120.6 962.4l4.6-4.4 4.6-4.5 4.6-4.4 4.6-4.4 4.6-4.4 4.6-4.4 4.6-4.4 4.6-4.3 4.6-4.3 4.6-4.3 4.6-4.3 4.6-4.2 4.6-4.2 4.6-4.1 4.6-4.1 4.6-4.1 4.7-3.9 4.6-4 4.6-3.9 4.6-3.8 4.6-3.7 4.6-3.7 4.6-3.6 4.6-3.5 4.6-3.5 4.6-3.4 4.6-3.3 4.6-3.2 4.6-3.2 4.6-3 4.6-3 4.6-2.9 4.6-2.8 4.6-2.7 4.6-2.7 4.6-2.5 4.6-2.4 4.6-2.4 4.6-2.2 4.6-2.2 4.6-2 4.6-2 4.6-1.9 4.6-1.7 4.6-1.7 4.6-1.5 4.6-1.4 4.6-1.3 4.6-1.2 4.6-1.1 4.6-.9 4.6-.8 4.6-.7 4.6-.5 4.6-.4 4.6-.2 4.6-.1 4.6 .1 4.6 .2 4.6 .4 4.6 .6 4.6 .7 4.6 .8 4.6 1 4.6 1.2 4.6 1.2 4.6 1.4 4.6 1.5 4.6 1.6 4.6 1.7 4.6 1.8 4.6 1.9 4.6 2.1 4.6 2.1 4.6 2.1 4.6 2.3 4.6 2.3 4.6 2.4 4.6 2.4 4.6 2.5 4.7 2.6 4.6 2.6 4.6 2.6 4.6 2.6 4.6 2.7 4.6 2.7 4.6 2.7 4.6 2.7 4.6 2.7 4.6 2.7 4.6 2.7 4.6 2.7 4.6 2.6 4.6 2.7 4.6 2.6 4.6 2.5 4.6 2.5 4.6 2.5 4.6 2.4 4.6 2.3 4.6 2.3 4.6 2.2 4.6 2.1 4.6 2.1 4.6 1.9 4.6 1.9 4.6 1.8 4.6 1.7 4.6 1.7 4.6 1.6 4.6 1.5 4.6 1.5 4.6 1.4 4.6 1.4 4.6 1.3 4.6 1.3 4.6 1.3 4.6 1.2 4.6 1.1 4.6 1.2 4.6 1.1 4.6 1 4.6 1.1 4.6 1 4.6 1.1 4.6 1 4.6 1 4.6 1 4.6 .9"/><path d="M120.6 877.1l4.6-3.1 4.6-3 4.6-3 4.6-2.9 4.6-2.9 4.6-2.8 4.6-2.7 4.6-2.6 4.6-2.5 4.6-2.3 4.6-2.2 4.6-2 4.6-1.8 4.6-1.6 4.6-1.4 4.6-1.2 4.7-1 4.6-.8 4.6-.7 4.6-.5 4.6-.4 4.6-.3 4.6-.2 4.6-.1 4.6 0 4.6 .1 4.6 .1 4.6 .1 4.6 .3 4.6 .3 4.6 .4 4.6 .5 4.6 .5 4.6 .6 4.6 .7 4.6 .8 4.6 .8 4.6 .9 4.6 1.1 4.6 1 4.6 1.2 4.6 1.3 4.6 1.3 4.6 1.3 4.6 1.5 4.6 1.5 4.6 1.5 4.6 1.6 4.6 1.6 4.6 1.7 4.6 1.7 4.6 1.8 4.6 1.7 4.6 1.8 4.6 1.9 4.6 1.8 4.6 1.9 4.6 1.8 4.6 1.9 4.6 1.8 4.6 1.9 4.6 1.9 4.6 1.8 4.6 1.8 4.6 1.8 4.6 1.8 4.6 1.8 4.6 1.7 4.6 1.7 4.6 1.6 4.6 1.7 4.6 1.5 4.6 1.6 4.6 1.5 4.6 1.5 4.6 1.4 4.6 1.4 4.6 1.4 4.6 1.4 4.6 1.3 4.7 1.3 4.6 1.2 4.6 1.3 4.6 1.2 4.6 1.2 4.6 1.1 4.6 1.1 4.6 1.1 4.6 1.1 4.6 1 4.6 1.1 4.6 1 4.6 .9 4.6 1 4.6 .9 4.6 .9 4.6 .9 4.6 .9 4.6 .8 4.6 .9 4.6 .8 4.6 .8 4.6 .8 4.6 .7 4.6 .8 4.6 .7 4.6 .7 4.6 .7 4.6 .7 4.6 .7 4.6 .7 4.6 .7 4.6 .6 4.6 .6 4.6 .7 4.6 .6 4.6 .6 4.6 .6 4.6 .6 4.6 .6 4.6 .6 4.6 .6 4.6 .6 4.6 .5 4.6 .6 4.6 .6 4.6 .5 4.6 .6 4.6 .6"/><path d="M120.6 926.8l4.6-4.9 4.6-5 4.6-4.9 4.6-4.9 4.6-4.9 4.6-4.8 4.6-4.7 4.6-4.6 4.6-4.6 4.6-4.4 4.6-4.3 4.6-4.2 4.6-4 4.6-3.9 4.6-3.7 4.6-3.5 4.7-3.3 4.6-3.1 4.6-2.9 4.6-2.7 4.6-2.5 4.6-2.3 4.6-2.2 4.6-1.9 4.6-1.9 4.6-1.7 4.6-1.5 4.6-1.5 4.6-1.4 4.6-1.2 4.6-1.2 4.6-1.2 4.6-1 4.6-1 4.6-.9 4.6-.8 4.6-.7 4.6-.6 4.6-.5 4.6-.5 4.6-.3 4.6-.3 4.6-.1 4.6 0 4.6 .1 4.6 .1 4.6 .4 4.6 .4 4.6 .5 4.6 .6 4.6 .8 4.6 .8 4.6 .9 4.6 1 4.6 1.1 4.6 1.2 4.6 1.3 4.6 1.3 4.6 1.4 4.6 1.5 4.6 1.5 4.6 1.6 4.6 1.6 4.6 1.7 4.6 1.7 4.6 1.8 4.6 1.8 4.6 1.8 4.6 1.8 4.6 1.9 4.6 1.9 4.6 2 4.6 1.9 4.6 1.9 4.6 2 4.6 1.9 4.6 2 4.6 1.9 4.6 1.9 4.6 2 4.7 1.9 4.6 1.9 4.6 1.9 4.6 1.9 4.6 1.9 4.6 1.9 4.6 1.8 4.6 1.9 4.6 1.8 4.6 1.8 4.6 1.7 4.6 1.8 4.6 1.7 4.6 1.7 4.6 1.6 4.6 1.7 4.6 1.6 4.6 1.5 4.6 1.6 4.6 1.4 4.6 1.5 4.6 1.4 4.6 1.4 4.6 1.3 4.6 1.3 4.6 1.2 4.6 1.2 4.6 1.1 4.6 1.1 4.6 1 4.6 1 4.6 .9 4.6 .9 4.6 .9 4.6 .8 4.6 .7 4.6 .8 4.6 .7 4.6 .6 4.6 .7 4.6 .6 4.6 .6 4.6 .6 4.6 .6 4.6 .5 4.6 .6 4.6 .5 4.6 .5 4.6 .5"/><path d="M120.6 912.6l4.6-3.2 4.6-3.2 4.6-3.3 4.6-3.2 4.6-3.2 4.6-3.2 4.6-3.1 4.6-3.1 4.6-3.1 4.6-3.1 4.6-3 4.6-3 4.6-2.9 4.6-2.9 4.6-2.8 4.6-2.8 4.7-2.7 4.6-2.7 4.6-2.5 4.6-2.5 4.6-2.4 4.6-2.4 4.6-2.2 4.6-2.1 4.6-2.1 4.6-2 4.6-1.8 4.6-1.8 4.6-1.6 4.6-1.5 4.6-1.5 4.6-1.2 4.6-1.2 4.6-1 4.6-1 4.6-.7 4.6-.7 4.6-.6 4.6-.4 4.6-.3 4.6-.3 4.6-.1 4.6 0 4.6 .1 4.6 .2 4.6 .3 4.6 .4 4.6 .5 4.6 .6 4.6 .7 4.6 .8 4.6 .9 4.6 .9 4.6 1 4.6 1.1 4.6 1.2 4.6 1.2 4.6 1.3 4.6 1.4 4.6 1.4 4.6 1.5 4.6 1.5 4.6 1.6 4.6 1.6 4.6 1.6 4.6 1.7 4.6 1.7 4.6 1.7 4.6 1.8 4.6 1.7 4.6 1.8 4.6 1.8 4.6 1.8 4.6 1.8 4.6 1.8 4.6 1.8 4.6 1.7 4.6 1.8 4.6 1.7 4.6 1.8 4.7 1.7 4.6 1.7 4.6 1.6 4.6 1.7 4.6 1.6 4.6 1.6 4.6 1.6 4.6 1.6 4.6 1.6 4.6 1.5 4.6 1.6 4.6 1.5 4.6 1.5 4.6 1.5 4.6 1.5 4.6 1.5 4.6 1.4 4.6 1.4 4.6 1.5 4.6 1.4 4.6 1.4 4.6 1.4 4.6 1.4 4.6 1.3 4.6 1.4 4.6 1.4 4.6 1.3 4.6 1.3 4.6 1.4 4.6 1.3 4.6 1.3 4.6 1.3 4.6 1.3 4.6 1.3 4.6 1.3 4.6 1.3 4.6 1.2 4.6 1.3 4.6 1.3 4.6 1.2 4.6 1.3 4.6 1.2 4.6 1.3 4.6 1.2 4.6 1.3 4.6 1.2 4.6 1.3 4.6 1.2 4.6 1.3"/><path d="M120.6 948.2l4.6-3.9 4.6-3.8 4.6-3.9 4.6-3.8 4.6-3.8 4.6-3.8 4.6-3.7 4.6-3.7 4.6-3.6 4.6-3.6 4.6-3.6 4.6-3.4 4.6-3.4 4.6-3.3 4.6-3.2 4.6-3.2 4.7-3 4.6-2.9 4.6-2.8 4.6-2.7 4.6-2.6 4.6-2.5 4.6-2.4 4.6-2.3 4.6-2.2 4.6-2 4.6-2 4.6-1.9 4.6-1.8 4.6-1.7 4.6-1.6 4.6-1.5 4.6-1.4 4.6-1.3 4.6-1.2 4.6-1.2 4.6-1 4.6-1 4.6-.9 4.6-.8 4.6-.8 4.6-.6 4.6-.6 4.6-.5 4.6-.4 4.6-.3 4.6-.3 4.6-.1 4.6-.1 4.6 0 4.6 0 4.6 .2 4.6 .2 4.6 .3 4.6 .4 4.6 .4 4.6 .6 4.6 .6 4.6 .7 4.6 .7 4.6 .9 4.6 .9 4.6 .9 4.6 1.1 4.6 1.1 4.6 1.1 4.6 1.2 4.6 1.2 4.6 1.3 4.6 1.3 4.6 1.4 4.6 1.3 4.6 1.5 4.6 1.4 4.6 1.4 4.6 1.5 4.6 1.5 4.6 1.5 4.6 1.5 4.6 1.5 4.7 1.5 4.6 1.5 4.6 1.4 4.6 1.5 4.6 1.5 4.6 1.4 4.6 1.4 4.6 1.4 4.6 1.3 4.6 1.3 4.6 1.3 4.6 1.2 4.6 1.3 4.6 1.1 4.6 1.2 4.6 1.1 4.6 1.1 4.6 1.1 4.6 1 4.6 1.1 4.6 1 4.6 .9 4.6 1 4.6 .9 4.6 .9 4.6 .9 4.6 .9 4.6 .8 4.6 .9 4.6 .8 4.6 .8 4.6 .7 4.6 .8 4.6 .8 4.6 .7 4.6 .7 4.6 .8 4.6 .7 4.6 .7 4.6 .7 4.6 .6 4.6 .7 4.6 .7 4.6 .7 4.6 .6 4.6 .7 4.6 .6 4.6 .7 4.6 .6"/><path d="M120.6 926.8l4.6-2.8 4.6-2.9 4.6-2.8 4.6-2.8 4.6-2.8 4.6-2.7 4.6-2.6 4.6-2.6 4.6-2.6 4.6-2.4 4.6-2.3 4.6-2.3 4.6-2.1 4.6-2 4.6-1.9 4.6-1.8 4.7-1.6 4.6-1.4 4.6-1.3 4.6-1.1 4.6-1 4.6-.8 4.6-.7 4.6-.6 4.6-.5 4.6-.4 4.6-.3 4.6-.3 4.6-.2 4.6-.1 4.6-.1 4.6 0 4.6-.1 4.6 .1 4.6 0 4.6 .1 4.6 .2 4.6 .1 4.6 .3 4.6 .2 4.6 .3 4.6 .4 4.6 .4 4.6 .4 4.6 .5 4.6 .5 4.6 .6 4.6 .6 4.6 .7 4.6 .7 4.6 .7 4.6 .8 4.6 .8 4.6 .9 4.6 .9 4.6 .9 4.6 .9 4.6 1 4.6 1 4.6 1 4.6 1.1 4.6 1 4.6 1.1 4.6 1.1 4.6 1.1 4.6 1.1 4.6 1.1 4.6 1.2 4.6 1.1 4.6 1.1 4.6 1.2 4.6 1.1 4.6 1.2 4.6 1.1 4.6 1.1 4.6 1.1 4.6 1.2 4.6 1.1 4.6 1.1 4.6 1 4.7 1.1 4.6 1 4.6 1.1 4.6 1 4.6 1 4.6 1 4.6 1 4.6 1 4.6 .9 4.6 1 4.6 .9 4.6 .9 4.6 .9 4.6 .9 4.6 .9 4.6 .9 4.6 .9 4.6 .9 4.6 .8 4.6 .9 4.6 .8 4.6 .9 4.6 .8 4.6 .8 4.6 .8 4.6 .8 4.6 .8 4.6 .8 4.6 .8 4.6 .8 4.6 .7 4.6 .8 4.6 .8 4.6 .7 4.6 .8 4.6 .7 4.6 .8 4.6 .7 4.6 .8 4.6 .7 4.6 .8 4.6 .7 4.6 .7 4.6 .8 4.6 .7 4.6 .7 4.6 .7 4.6 .8 4.6 .7"/><path d="M120.6 976.6l4.6-4.5 4.6-4.5 4.6-4.5 4.6-4.5 4.6-4.5 4.6-4.5 4.6-4.5 4.6-4.5 4.6-4.4 4.6-4.5 4.6-4.4 4.6-4.4 4.6-4.4 4.6-4.3 4.6-4.4 4.6-4.3 4.7-4.2 4.6-4.3 4.6-4.2 4.6-4.2 4.6-4.1 4.6-4.1 4.6-4.1 4.6-4 4.6-4 4.6-4 4.6-3.9 4.6-3.8 4.6-3.8 4.6-3.8 4.6-3.7 4.6-3.6 4.6-3.6 4.6-3.5 4.6-3.5 4.6-3.4 4.6-3.3 4.6-3.2 4.6-3.2 4.6-3.2 4.6-3 4.6-3 4.6-2.9 4.6-2.8 4.6-2.7 4.6-2.7 4.6-2.6 4.6-2.4 4.6-2.4 4.6-2.3 4.6-2.2 4.6-2.1 4.6-2 4.6-1.9 4.6-1.7 4.6-1.7 4.6-1.5 4.6-1.4 4.6-1.2 4.6-1.2 4.6-.9 4.6-.8 4.6-.7 4.6-.5 4.6-.4 4.6-.2 4.6 0 4.6 .2 4.6 .3 4.6 .6 4.6 .7 4.6 .9 4.6 1 4.6 1.3 4.6 1.3 4.6 1.6 4.6 1.7 4.6 1.8 4.6 2 4.6 2.1 4.7 2.2 4.6 2.3 4.6 2.5 4.6 2.6 4.6 2.6 4.6 2.8 4.6 2.9 4.6 2.9 4.6 3 4.6 3.1 4.6 3.2 4.6 3.2 4.6 3.3 4.6 3.3 4.6 3.3 4.6 3.3 4.6 3.4 4.6 3.3 4.6 3.3 4.6 3.4 4.6 3.2 4.6 3.3 4.6 3.2 4.6 3.1 4.6 3.1 4.6 3 4.6 2.9 4.6 2.9 4.6 2.7 4.6 2.6 4.6 2.5 4.6 2.4 4.6 2.3 4.6 2.3 4.6 2.1 4.6 2.1 4.6 2 4.6 1.9 4.6 1.9 4.6 1.8 4.6 1.8 4.6 1.7 4.6 1.7 4.6 1.6 4.6 1.6 4.6 1.6 4.6 1.6 4.6 1.6 4.6 1.6"/><path d="M120.6 962.4l4.6-5.2 4.6-5.2 4.6-5.2 4.6-5.2 4.6-5.1 4.6-5.2 4.6-5.2 4.6-5.1 4.6-5.1 4.6-5.1 4.6-5.1 4.6-5 4.6-5 4.6-5 4.6-5 4.6-4.9 4.7-4.9 4.6-4.9 4.6-4.8 4.6-4.7 4.6-4.7 4.6-4.7 4.6-4.6 4.6-4.6 4.6-4.5 4.6-4.5 4.6-4.4 4.6-4.3 4.6-4.3 4.6-4.2 4.6-4.1 4.6-4.1 4.6-4 4.6-3.9 4.6-3.9 4.6-3.7 4.6-3.7 4.6-3.6 4.6-3.5 4.6-3.4 4.6-3.3 4.6-3.2 4.6-3 4.6-2.9 4.6-2.7 4.6-2.5 4.6-2.4 4.6-2.1 4.6-1.9 4.6-1.6 4.6-1.4 4.6-1.2 4.6-.8 4.6-.6 4.6-.2 4.6 .1 4.6 .3 4.6 .7 4.6 .9 4.6 1.2 4.6 1.4 4.6 1.7 4.6 1.9 4.6 2.1 4.6 2.3 4.6 2.5 4.6 2.6 4.6 2.9 4.6 2.9 4.6 3.1 4.6 3.2 4.6 3.4 4.6 3.4 4.6 3.5 4.6 3.6 4.6 3.6 4.6 3.7 4.6 3.7 4.6 3.7 4.6 3.8 4.7 3.8 4.6 3.7 4.6 3.8 4.6 3.7 4.6 3.8 4.6 3.7 4.6 3.7 4.6 3.7 4.6 3.7 4.6 3.6 4.6 3.6 4.6 3.6 4.6 3.5 4.6 3.5 4.6 3.4 4.6 3.3 4.6 3.3 4.6 3.3 4.6 3.1 4.6 3.1 4.6 3 4.6 2.9 4.6 2.9 4.6 2.7 4.6 2.7 4.6 2.5 4.6 2.5 4.6 2.3 4.6 2.3 4.6 2.1 4.6 2 4.6 1.9 4.6 1.8 4.6 1.7 4.6 1.6 4.6 1.6 4.6 1.4 4.6 1.5 4.6 1.3 4.6 1.3 4.6 1.2 4.6 1.2 4.6 1.1 4.6 1.1 4.6 1.1 4.6 1.1 4.6 1 4.6 1 4.6 1.1"/></g>
<circle cx="259.75" cy="722.08" r="6.2" fill="#C8C8C8"/>
<circle cx="278.3" cy="727.06" r="6.2" fill="#C8C8C8"/>
<circle cx="305.2" cy="693.64" r="6.2" fill="#C8C8C8"/>
<circle cx="250.47" cy="784.65" r="6.2" fill="#C8C8C8"/>
<circle cx="232.39" cy="795.32" r="6.2" fill="#C8C8C8"/>
<circle cx="269.02" cy="799.58" r="6.2" fill="#C8C8C8"/>
<circle cx="323.75" cy="810.25" r="6.2" fill="#C8C8C8"/>
<circle cx="232.39" cy="835.13" r="6.2" fill="#C8C8C8"/>
<circle cx="240.92" cy="830.15" r="6.2" fill="#C8C8C8"/>
<circle cx="259.38" cy="825.18" r="6.2" fill="#C8C8C8"/>
<circle cx="269.02" cy="830.15" r="6.2" fill="#C8C8C8"/>
<circle cx="296.85" cy="847.22" r="6.2" fill="#C8C8C8"/>
<circle cx="323.75" cy="838.69" r="6.2" fill="#C8C8C8"/>
<circle cx="259.75" cy="877.08" r="6.2" fill="#C8C8C8"/>
<path d="M120.6 947.3l4.6-2.7 4.6-2.7 4.6-2.8 4.6-2.7 4.6-2.8 4.6-2.9 4.6-2.9 4.6-3 4.6-3 4.6-3.1 4.6-3.2 4.6-3.3 4.6-3.3 4.6-3.4 4.6-3.5 4.6-3.4 4.7-3.5 4.6-3.5 4.6-3.4 4.6-3.4 4.6-3.4 4.6-3.3 4.6-3.3 4.6-3.1 4.6-3.1 4.6-2.9 4.6-2.8 4.6-2.6 4.6-2.5 4.6-2.3 4.6-2.1 4.6-1.9 4.6-1.7 4.6-1.4 4.6-1.2 4.6-1 4.6-.7 4.6-.4 4.6-.1 4.6 .1 4.6 .3 4.6 .6 4.6 .6 4.6 .8 4.6 .8 4.6 .9 4.6 1 4.6 1.1 4.6 1.1 4.6 1.1 4.6 1.2 4.6 1.3 4.6 1.3 4.6 1.4 4.6 1.5 4.6 1.5 4.6 1.5 4.6 1.6 4.6 1.7 4.6 1.7 4.6 1.7 4.6 1.8 4.6 1.9 4.6 1.9 4.6 1.9 4.6 2 4.6 2 4.6 2 4.6 2.1 4.6 2.1 4.6 2.2 4.6 2.1 4.6 2.2 4.6 2.3 4.6 2.2 4.6 2.2 4.6 2.2 4.6 2.2 4.6 2.2 4.6 2 4.7 2.1 4.6 1.9 4.6 1.9 4.6 1.7 4.6 1.6 4.6 1.5 4.6 1.4 4.6 1.2 4.6 1.1 4.6 .9 4.6 .9 4.6 .8 4.6 .7 4.6 .7 4.6 .7 4.6 .6 4.6 .7 4.6 .6 4.6 .7 4.6 .7 4.6 .8 4.6 .8 4.6 .8 4.6 .8 4.6 .8 4.6 .8 4.6 .9 4.6 .8 4.6 .8 4.6 .8 4.6 .7 4.6 .7 4.6 .7 4.6 .7 4.6 .6 4.6 .6 4.6 .5 4.6 .5 4.6 .5 4.6 .5 4.6 .4 4.6 .5 4.6 .4 4.6 .4 4.6 .4 4.6 .3 4.6 .4 4.6 .4 4.6 .3" fill="none" stroke="#00CD00" stroke-width="3.4" stroke-linejoin="round"/>
<line x1="324.68" y1="627.3" x2="324.68" y2="1012.5" stroke="#7f7f7f" stroke-width="2.6" stroke-dasharray="8 13.35" stroke-dashoffset="4.25" stroke-linecap="round"/>
<line x1="454.52" y1="627.3" x2="454.52" y2="1012.5" stroke="#7f7f7f" stroke-width="2.6" stroke-dasharray="8 13.35" stroke-dashoffset="4.25" stroke-linecap="round"/>
<circle cx="250.47" cy="738.22" r="7.8" fill="#6495ED"/>
<circle cx="269.4" cy="850.92" r="7.8" fill="#00CD00"/>
<circle cx="315.4" cy="730.4" r="7.8" fill="#CD5B45"/>
<circle cx="323.75" cy="672.74" r="7.8" fill="#2F4F4F"/>
<rect x="97.0" y="627.3" width="641.3" height="385.2" fill="none" stroke="#000" stroke-width="1.3"/>
<line x1="88.2" y1="962.4" x2="97" y2="962.4" stroke="#000" stroke-width="1.3"/>
<text x="0" y="0" font-size="27.2" text-anchor="middle" fill="#000" transform="translate(77,962.4) rotate(-90)">0.0</text>
<line x1="88.2" y1="891.3" x2="97" y2="891.3" stroke="#000" stroke-width="1.3"/>
<text x="0" y="0" font-size="27.2" text-anchor="middle" fill="#000" transform="translate(77,891.3) rotate(-90)">0.1</text>
<line x1="88.2" y1="820.2" x2="97" y2="820.2" stroke="#000" stroke-width="1.3"/>
<text x="0" y="0" font-size="27.2" text-anchor="middle" fill="#000" transform="translate(77,820.2) rotate(-90)">0.2</text>
<line x1="88.2" y1="749.1" x2="97" y2="749.1" stroke="#000" stroke-width="1.3"/>
<text x="0" y="0" font-size="27.2" text-anchor="middle" fill="#000" transform="translate(77,749.1) rotate(-90)">0.3</text>
<line x1="88.2" y1="678" x2="97" y2="678" stroke="#000" stroke-width="1.3"/>
<text x="0" y="0" font-size="27.2" text-anchor="middle" fill="#000" transform="translate(77,678) rotate(-90)">0.4</text>
<line x1="111.35" y1="1012.5" x2="111.35" y2="1021.2" stroke="#000" stroke-width="1.3"/>
<text x="111.35" y="1042.6" font-size="27.2" text-anchor="middle" fill="#000">0</text>
<line x1="204.1" y1="1012.5" x2="204.1" y2="1021.2" stroke="#000" stroke-width="1.3"/>
<text x="204.1" y="1042.6" font-size="27.2" text-anchor="middle" fill="#000">10</text>
<line x1="296.85" y1="1012.5" x2="296.85" y2="1021.2" stroke="#000" stroke-width="1.3"/>
<text x="296.85" y="1042.6" font-size="27.2" text-anchor="middle" fill="#000">20</text>
<line x1="389.6" y1="1012.5" x2="389.6" y2="1021.2" stroke="#000" stroke-width="1.3"/>
<text x="389.6" y="1042.6" font-size="27.2" text-anchor="middle" fill="#000">30</text>
<line x1="482.35" y1="1012.5" x2="482.35" y2="1021.2" stroke="#000" stroke-width="1.3"/>
<text x="482.35" y="1042.6" font-size="27.2" text-anchor="middle" fill="#000">40</text>
<line x1="575.1" y1="1012.5" x2="575.1" y2="1021.2" stroke="#000" stroke-width="1.3"/>
<text x="575.1" y="1042.6" font-size="27.2" text-anchor="middle" fill="#000">50</text>
<line x1="667.85" y1="1012.5" x2="667.85" y2="1021.2" stroke="#000" stroke-width="1.3"/>
<text x="667.85" y="1042.6" font-size="27.2" text-anchor="middle" fill="#000">60</text>
<line x1="514.4" y1="652.5" x2="554.1" y2="652.5" stroke="#6495ED" stroke-width="3.4"/>
<text x="572.4" y="659.9" font-size="20.6" fill="#000">Campania</text>
<line x1="514.4" y1="677.2" x2="554.1" y2="677.2" stroke="#CD5B45" stroke-width="3.4"/>
<text x="572.4" y="684.6" font-size="20.6" fill="#000">Emilia–Romagna</text>
<line x1="514.4" y1="701.9" x2="554.1" y2="701.9" stroke="#2F4F4F" stroke-width="3.4"/>
<text x="572.4" y="709.3" font-size="20.6" fill="#000">Lombardia</text>
<line x1="514.4" y1="726.6" x2="554.1" y2="726.6" stroke="#00CD00" stroke-width="3.4"/>
<text x="572.4" y="734" font-size="20.6" fill="#000">Veneto</text>
<style>.a0{stroke:#000084}.a1{stroke:#00008e}.a2{stroke:#000099}.a3{stroke:#0000a3}.a4{stroke:#0000ad}.a5{stroke:#0000b7}.a6{stroke:#0000c2}.a7{stroke:#0000cc}.a8{stroke:#0000d6}.a9{stroke:#0000e0}.a10{stroke:#0000eb}.a11{stroke:#0000f5}.a12{stroke:#0000ff}.a13{stroke:#000aff}.a14{stroke:#0014ff}.a15{stroke:#001eff}.a16{stroke:#0029ff}.a17{stroke:#0033ff}.a18{stroke:#003dff}.a19{stroke:#0047ff}.a20{stroke:#0051ff}.a21{stroke:#005bff}.a22{stroke:#0066ff}.a23{stroke:#0070ff}.a24{stroke:#007aff}.a25{stroke:#0084ff}.a26{stroke:#008eff}.a27{stroke:#0099ff}.a28{stroke:#00a3ff}.a29{stroke:#00adff}.a30{stroke:#00b7ff}.a31{stroke:#00c2ff}.a32{stroke:#00ccff}.a33{stroke:#00d6ff}.a34{stroke:#00e0ff}.a35{stroke:#00ebff}.a36{stroke:#00f5ff}.a37{stroke:#00ffff}.a38{stroke:#0afff5}.a39{stroke:#14ffeb}.a40{stroke:#1effe0}.a41{stroke:#29ffd6}.a42{stroke:#33ffcc}.a43{stroke:#3dffc2}.a44{stroke:#47ffb7}.a45{stroke:#51ffad}.a46{stroke:#5bffa3}.a47{stroke:#66ff99}.a48{stroke:#70ff8e}.a49{stroke:#7aff84}.a50{stroke:#84ff7a}.a51{stroke:#8eff70}.a52{stroke:#99ff66}.a53{stroke:#a3ff5b}.a54{stroke:#adff51}.a55{stroke:#b7ff47}.a56{stroke:#c2ff3d}.a57{stroke:#ccff33}.a58{stroke:#d6ff29}.a59{stroke:#e0ff1e}.a60{stroke:#ebff14}.a61{stroke:#f5ff0a}.a62{stroke:#ffff00}.a63{stroke:#fff500}.a64{stroke:#ffeb00}.a65{stroke:#ffe000}.a66{stroke:#ffd600}.a67{stroke:#ffcc00}.a68{stroke:#ffc200}.a69{stroke:#ffb700}.a70{stroke:#ffad00}.a71{stroke:#ffa300}.a72{stroke:#ff9900}.a73{stroke:#ff8e00}.a74{stroke:#ff8400}.a75{stroke:#ff7a00}.a76{stroke:#ff7000}.a77{stroke:#ff6600}.a78{stroke:#ff5b00}.a79{stroke:#ff5100}.a80{stroke:#ff4700}.a81{stroke:#ff3d00}.a82{stroke:#ff3300}.a83{stroke:#ff2900}.a84{stroke:#ff1e00}.a85{stroke:#ff1400}.a86{stroke:#ff0a00}.a87{stroke:#ff0000}.a88{stroke:#f50000}.a89{stroke:#eb0000}.a90{stroke:#e00000}.a91{stroke:#d60000}.a92{stroke:#cc0000}.a93{stroke:#c20000}.a94{stroke:#b70000}.a95{stroke:#ad0000}.a96{stroke:#a30000}.a97{stroke:#990000}.a98{stroke:#8e0000}.a99{stroke:#840000}.b0{stroke:#000084}.b1{stroke:#00008e}.b2{stroke:#000099}.b3{stroke:#0000a3}.b4{stroke:#0000ad}.b5{stroke:#0000b7}.b6{stroke:#0000c2}.b7{stroke:#0000cc}.b8{stroke:#0000d6}.b9{stroke:#0000e0}.b10{stroke:#0000eb}.b11{stroke:#0000f5}.b12{stroke:#0000ff}.b13{stroke:#000aff}.b14{stroke:#0014ff}.b15{stroke:#001eff}.b16{stroke:#0029ff}.b17{stroke:#0033ff}.b18{stroke:#003dff}.b19{stroke:#0047ff}.b20{stroke:#0051ff}.b21{stroke:#005bff}.b22{stroke:#0066ff}.b23{stroke:#0070ff}.b24{stroke:#007aff}.b25{stroke:#0084ff}.b26{stroke:#008eff}.b27{stroke:#0099ff}.b28{stroke:#00a3ff}.b29{stroke:#00adff}.b30{stroke:#00b7ff}.b31{stroke:#00c2ff}.b32{stroke:#00ccff}.b33{stroke:#00d6ff}.b34{stroke:#00e0ff}.b35{stroke:#00ebff}.b36{stroke:#00f5ff}.b37{stroke:#00ffff}.b38{stroke:#0afff5}.b39{stroke:#14ffeb}.b40{stroke:#1effe0}.b41{stroke:#29ffd6}.b42{stroke:#33ffcc}.b43{stroke:#3dffc2}.b44{stroke:#47ffb7}.b45{stroke:#51ffad}.b46{stroke:#5bffa3}.b47{stroke:#66ff99}.b48{stroke:#70ff8e}.b49{stroke:#7aff84}.b50{stroke:#84ff7a}.b51{stroke:#8eff70}.b52{stroke:#99ff66}.b53{stroke:#a3ff5b}.b54{stroke:#adff51}.b55{stroke:#b7ff47}.b56{stroke:#c2ff3d}.b57{stroke:#ccff33}.b58{stroke:#d6ff29}.b59{stroke:#e0ff1e}.b60{stroke:#ebff14}.b61{stroke:#f5ff0a}.b62{stroke:#ffff00}.b63{stroke:#fff500}.b64{stroke:#ffeb00}.b65{stroke:#ffe000}.b66{stroke:#ffd600}.b67{stroke:#ffcc00}.b68{stroke:#ffc200}.b69{stroke:#ffb700}.b70{stroke:#ffad00}.b71{stroke:#ffa300}.b72{stroke:#ff9900}.b73{stroke:#ff8e00}.b74{stroke:#ff8400}.b75{stroke:#ff7a00}.b76{stroke:#ff7000}.b77{stroke:#ff6600}.b78{stroke:#ff5b00}.b79{stroke:#ff5100}.b80{stroke:#ff4700}.b81{stroke:#ff3d00}.b82{stroke:#ff3300}.b83{stroke:#ff2900}.b84{stroke:#ff1e00}.b85{stroke:#ff1400}.b86{stroke:#ff0a00}.b87{stroke:#ff0000}.b88{stroke:#f50000}.b89{stroke:#eb0000}.b90{stroke:#e00000}.b91{stroke:#d60000}.b92{stroke:#cc0000}.b93{stroke:#c20000}.b94{stroke:#b70000}.b95{stroke:#ad0000}.b96{stroke:#a30000}.b97{stroke:#990000}.b98{stroke:#8e0000}.b99{stroke:#840000}</style>
<line x1="994.99" y1="321.07" x2="955.07" y2="181.02" stroke="#BEBEBE" stroke-width="1.3"/><line x1="1017.64" y1="299.7" x2="986.55" y2="162.36" stroke="#BEBEBE" stroke-width="1.3"/><line x1="1038.2" y1="280.31" x2="1014.34" y2="145.88" stroke="#BEBEBE" stroke-width="1.3"/><line x1="1056.94" y1="262.63" x2="1039.07" y2="131.21" stroke="#BEBEBE" stroke-width="1.3"/><line x1="1074.1" y1="246.45" x2="1061.21" y2="118.08" stroke="#BEBEBE" stroke-width="1.3"/><line x1="1089.86" y1="231.58" x2="1081.15" y2="106.26" stroke="#BEBEBE" stroke-width="1.3"/><line x1="971.09" y1="338.1" x2="1097.06" y2="220.7" stroke="#BEBEBE" stroke-width="1.3"/><line x1="961.71" y1="311.2" x2="1095.68" y2="195.88" stroke="#BEBEBE" stroke-width="1.3"/><line x1="951.14" y1="280.9" x2="1094.18" y2="168.79" stroke="#BEBEBE" stroke-width="1.3"/><line x1="939.15" y1="246.5" x2="1092.53" y2="139.12" stroke="#BEBEBE" stroke-width="1.3"/><line x1="925.42" y1="207.11" x2="1090.72" y2="106.48" stroke="#BEBEBE" stroke-width="1.3"/><line x1="1117.6" y1="231.8" x2="1115.11" y2="106.38" stroke="#BEBEBE" stroke-width="1.3"/><line x1="1141.22" y1="240.18" x2="1144.11" y2="112.96" stroke="#BEBEBE" stroke-width="1.3"/><line x1="1166" y1="248.98" x2="1174.9" y2="119.95" stroke="#BEBEBE" stroke-width="1.3"/><line x1="1192.05" y1="258.22" x2="1207.64" y2="127.38" stroke="#BEBEBE" stroke-width="1.3"/><line x1="1219.46" y1="267.94" x2="1242.52" y2="135.29" stroke="#BEBEBE" stroke-width="1.3"/><line x1="1248.34" y1="278.18" x2="1279.76" y2="143.74" stroke="#BEBEBE" stroke-width="1.3"/><line x1="1097.06" y1="220.7" x2="1264.45" y2="279.41" stroke="#BEBEBE" stroke-width="1.3"/><line x1="1095.68" y1="195.88" x2="1271.46" y2="253.05" stroke="#BEBEBE" stroke-width="1.3"/><line x1="1094.18" y1="168.79" x2="1279.23" y2="223.82" stroke="#BEBEBE" stroke-width="1.3"/><line x1="1092.53" y1="139.12" x2="1287.89" y2="191.23" stroke="#BEBEBE" stroke-width="1.3"/><line x1="1090.72" y1="106.48" x2="1297.62" y2="154.65" stroke="#BEBEBE" stroke-width="1.3"/><line x1="996.41" y1="355.38" x2="1117.6" y2="231.8" stroke="#BEBEBE" stroke-width="1.3"/><line x1="1024.61" y1="370.87" x2="1141.22" y2="240.18" stroke="#BEBEBE" stroke-width="1.3"/><line x1="1054.73" y1="387.42" x2="1166" y2="248.98" stroke="#BEBEBE" stroke-width="1.3"/><line x1="1086.97" y1="405.14" x2="1192.05" y2="258.22" stroke="#BEBEBE" stroke-width="1.3"/><line x1="1121.58" y1="424.16" x2="1219.46" y2="267.94" stroke="#BEBEBE" stroke-width="1.3"/><line x1="1158.81" y1="444.62" x2="1248.34" y2="278.18" stroke="#BEBEBE" stroke-width="1.3"/><line x1="994.99" y1="321.07" x2="1194.57" y2="422.91" stroke="#BEBEBE" stroke-width="1.3"/><line x1="1017.64" y1="299.7" x2="1210.4" y2="390.82" stroke="#BEBEBE" stroke-width="1.3"/><line x1="1038.2" y1="280.31" x2="1224.47" y2="362.32" stroke="#BEBEBE" stroke-width="1.3"/><line x1="1056.94" y1="262.63" x2="1237.05" y2="336.83" stroke="#BEBEBE" stroke-width="1.3"/><line x1="1074.1" y1="246.45" x2="1248.37" y2="313.9" stroke="#BEBEBE" stroke-width="1.3"/><line x1="1089.86" y1="231.58" x2="1258.6" y2="293.16" stroke="#BEBEBE" stroke-width="1.3"/>
<line x1="922.96" y1="200.06" x2="1090.4" y2="100.78" stroke="#000" stroke-width="1.6" stroke-linecap="round"/>
<line x1="1090.4" y1="100.78" x2="1299.34" y2="148.18" stroke="#000" stroke-width="1.6" stroke-linecap="round"/>
<line x1="1090.4" y1="100.78" x2="1097.28" y2="224.59" stroke="#000" stroke-width="1.6" stroke-linecap="round"/>
<line x1="972.53" y1="342.25" x2="1097.28" y2="224.59" stroke="#000" stroke-width="1.6" stroke-linecap="round"/>
<line x1="1097.28" y1="224.59" x2="1263.36" y2="283.51" stroke="#000" stroke-width="1.6" stroke-linecap="round"/>
<g fill="#fff" stroke-width="7.2" stroke-linejoin="round" transform="scale(0.25)"><path class="a54" d="M4365 653l16 13 10-2-16-12z"/><path class="a53" d="M4381 666l15 12 10-4-15-10z"/><path class="a51" d="M4396 678l16 12 9-6-15-10z"/><path class="a50" d="M4412 690l15 11 10-8-16-9z"/><path class="a49" d="M4427 701l16 9 9-10-15-7z"/><path class="a48" d="M4443 710l15 8 9-11-15-7z"/><path class="a55" d="M4354 651l16 16 11-1-16-13z"/><path class="a54" d="M4370 667l16 14 10-3-15-12z"/><path class="a52" d="M4386 681l16 15 10-6-16-12z"/><path class="a50" d="M4402 696l15 13 10-8-15-11z"/><path class="a48" d="M4458 718l16 7 9-11-16-7z"/><path class="a49" d="M4417 709l16 10 10-9-16-9z"/><path class="a48" d="M4433 719l16 10 9-11-15-8z"/><path class="a48" d="M4474 725l15 5 10-11-16-5z"/><path class="a47" d="M4449 729l15 7 10-11-16-7z"/><path class="a51" d="M4391 702l16 15 10-8-15-13z"/><path class="a53" d="M4375 684l16 18 11-6-16-15z"/><path class="a48" d="M4489 730l16 5 9-12-15-4z"/><path class="a49" d="M4407 717l16 12 10-10-16-10z"/><path class="a55" d="M4359 667l16 17 11-3-16-14z"/><path class="a57" d="M4343 648l16 19 11 0-16-16z"/><path class="a47" d="M4464 736l16 7 9-13-15-5z"/><path class="a48" d="M4423 729l16 11 10-11-16-10z"/><path class="a47" d="M4439 740l16 9 9-13-15-7z"/><path class="a48" d="M4505 735l16 2 9-10-16-4z"/><path class="a47" d="M4480 743l16 4 9-12-16-5z"/><path class="a49" d="M4397 725l16 14 10-10-16-12z"/><path class="a51" d="M4381 707l16 18 10-8-16-15z"/><path class="a46" d="M4455 749l15 6 10-12-16-7z"/><path class="a47" d="M4413 739l16 12 10-11-16-11z"/><path class="a53" d="M4365 687l16 20 10-5-16-18z"/><path class="a48" d="M4521 737l16 2 9-10-16-2z"/><path class="a46" d="M4429 751l16 10 10-12-16-9z"/><path class="a56" d="M4348 665l17 22 10-3-16-17z"/><path class="a47" d="M4496 747l16 2 9-12-16-2z"/><path class="a46" d="M4470 755l16 4 10-12-16-4z"/><path class="a46" d="M4445 761l16 7 9-13-15-6z"/><path class="a59" d="M4332 642l16 23 11 2-16-19z"/><path class="a49" d="M4387 733l16 16 10-10-16-14z"/><path class="a47" d="M4403 749l16 14 10-12-16-12z"/><path class="a51" d="M4371 713l16 20 10-8-16-18z"/><path class="a49" d="M4537 739l16 2 9-9-16-3z"/><path class="a46" d="M4419 763l16 10 10-12-16-10z"/><path class="a48" d="M4512 749l16 1 9-11-16-2z"/><path class="a47" d="M4486 759l16 2 10-12-16-2z"/><path class="a45" d="M4461 768l16 4 9-13-16-4z"/><path class="a54" d="M4354 689l17 24 10-6-16-20z"/><path class="a45" d="M4435 773l16 8 10-13-16-7z"/><path class="a49" d="M4553 741l17 2 9-9-17-2z"/><path class="a46" d="M4393 759l16 15 10-11-16-14z"/><path class="a58" d="M4337 663l17 26 11-2-17-22z"/><path class="a48" d="M4377 742l16 17 10-10-16-16z"/><path class="a45" d="M4409 774l16 11 10-12-16-10z"/><path class="a49" d="M4528 750l16 0 9-9-16-2z"/><path class="a46" d="M4477 772l16 1 9-12-16-2z"/><path class="a47" d="M4502 761l16-1 10-10-16-1z"/><path class="a45" d="M4451 781l16 3 10-12-16-4z"/><path class="a51" d="M4360 719l17 23 10-9-16-20z"/><path class="a44" d="M4425 785l16 8 10-12-16-8z"/><path class="a62" d="M4320 635l17 28 11 2-16-23z"/><path class="a50" d="M4570 743l16 1 9-7-16-3z"/><path class="a55" d="M4343 691l17 28 11-6-17-24z"/><path class="a46" d="M4383 769l16 16 10-11-16-15z"/><path class="a49" d="M4544 750l17 1 9-8-17-2z"/><path class="a44" d="M4399 785l16 12 10-12-16-11z"/><path class="a45" d="M4467 784l16 0 10-11-16-1z"/><path class="a48" d="M4366 750l17 19 10-10-16-17z"/><path class="a44" d="M4441 793l16 4 10-13-16-3z"/><path class="a47" d="M4493 773l16-2 9-11-16 1z"/><path class="a48" d="M4518 760l17 0 9-10-16 0z"/><path class="a43" d="M4415 797l16 8 10-12-16-8z"/><path class="a52" d="M4349 726l17 24 11-8-17-23z"/><path class="a51" d="M4586 744l17 2 9-6-17-3z"/><path class="a59" d="M4325 660l18 31 11-2-17-26z"/><path class="a50" d="M4561 751l16 1 9-8-16-1z"/><path class="a45" d="M4457 797l16-1 10-12-16 0z"/><path class="a46" d="M4372 779l17 17 10-11-16-16z"/><path class="a43" d="M4431 805l16 4 10-12-16-4z"/><path class="a44" d="M4389 796l16 13 10-12-16-12z"/><path class="a46" d="M4483 784l16-2 10-11-16 2z"/><path class="a49" d="M4535 760l16-1 10-8-17-1z"/><path class="a48" d="M4356 759l16 20 11-10-17-19z"/><path class="a48" d="M4509 771l16-1 10-10-17 0z"/><path class="a56" d="M4332 694l17 32 11-7-17-28z"/><path class="a43" d="M4405 809l16 8 10-12-16-8z"/><path class="a51" d="M4603 746l17 2 9-6-17-2z"/><path class="a64" d="M4307 626l18 34 12 3-17-28z"/><path class="a52" d="M4338 732l18 27 10-9-17-24z"/><path class="a51" d="M4577 752l17 0 9-6-17-2z"/><path class="a44" d="M4447 809l17-1 9-12-16 1z"/><path class="a43" d="M4421 817l16 3 10-11-16-4z"/><path class="a45" d="M4362 789l17 18 10-11-17-17z"/><path class="a43" d="M4379 807l16 13 10-11-16-13z"/><path class="a46" d="M4473 796l17-3 9-11-16 2z"/><path class="a50" d="M4551 759l17 0 9-7-16-1z"/><path class="a48" d="M4499 782l17-3 9-9-16 1z"/><path class="a49" d="M4525 770l17-2 9-9-16 1z"/><path class="a48" d="M4345 768l17 21 10-10-16-20z"/><path class="a52" d="M4620 748l17 1 9-5-17-2z"/><path class="a42" d="M4395 820l16 9 10-12-16-8z"/><path class="a61" d="M4314 657l18 37 11-3-18-31z"/><path class="a56" d="M4320 697l18 35 11-6-17-32z"/><path class="a52" d="M4594 752l17 0 9-4-17-2z"/><path class="a52" d="M4327 739l18 29 11-9-18-27z"/><path class="a44" d="M4437 820l17-1 10-11-17 1z"/><path class="a42" d="M4411 829l16 3 10-12-16-3z"/><path class="a43" d="M4368 818l17 14 10-12-16-13z"/><path class="a45" d="M4351 800l17 18 11-11-17-18z"/><path class="a46" d="M4464 808l16-4 10-11-17 3z"/><path class="a51" d="M4568 759l17-1 9-6-17 0z"/><path class="a52" d="M4637 749l18 2 8-4-17-3z"/><path class="a42" d="M4385 832l16 9 10-12-16-9z"/><path class="a48" d="M4490 793l16-4 10-10-17 3z"/><path class="a51" d="M4542 768l17-2 9-7-17 0z"/><path class="a48" d="M4334 777l17 23 11-11-17-21z"/><path class="a49" d="M4516 779l17-3 9-8-17 2z"/><path class="a67" d="M4295 615l19 42 11 3-18-34z"/><path class="a53" d="M4611 752l18 1 8-4-17-1z"/><path class="a43" d="M4427 832l16-1 11-12-17 1z"/><path class="a42" d="M4401 841l16 3 10-12-16-3z"/><path class="a57" d="M4309 701l18 38 11-7-18-35z"/><path class="a62" d="M4301 654l19 43 12-3-18-37z"/><path class="a53" d="M4655 751l17 2 8-3-17-3z"/><path class="a43" d="M4357 829l17 15 11-12-17-14z"/><path class="a52" d="M4316 746l18 31 11-9-18-29z"/><path class="a45" d="M4454 819l16-4 10-11-16 4z"/><path class="a45" d="M4340 810l17 19 11-11-17-18z"/><path class="a52" d="M4585 758l18-1 8-5-17 0z"/><path class="a41" d="M4374 844l16 10 11-13-16-9z"/><path class="a47" d="M4480 804l16-5 10-10-16 4z"/><path class="a52" d="M4559 766l17-2 9-6-17 1z"/><path class="a48" d="M4323 786l17 24 11-10-17-23z"/><path class="a49" d="M4506 789l17-4 10-9-17 3z"/><path class="a51" d="M4533 776l17-3 9-7-17 2z"/><path class="a53" d="M4629 753l17 0 9-2-18-2z"/><path class="a53" d="M4672 753l18 4 8-3-18-4z"/><path class="a41" d="M4390 854l17 3 10-13-16-3z"/><path class="a43" d="M4417 844l16-2 10-11-16 1z"/><path class="a42" d="M4347 841l16 16 11-13-17-15z"/><path class="a45" d="M4443 831l17-6 10-10-16 4z"/><path class="a45" d="M4329 821l18 20 10-12-17-19z"/><path class="a53" d="M4603 757l17-1 9-3-18-1z"/><path class="a41" d="M4363 857l17 10 10-13-16-10z"/><path class="a52" d="M4305 753l18 33 11-9-18-31z"/><path class="a58" d="M4297 704l19 42 11-7-18-38z"/><path class="a47" d="M4470 815l16-6 10-10-16 5z"/><path class="a53" d="M4690 757l18 5 7-3-17-5z"/><path class="a53" d="M4576 764l18-2 9-5-18 1z"/><path class="a54" d="M4646 753l18 2 8-2-17-2z"/><path class="a48" d="M4312 795l17 26 11-11-17-24z"/><path class="a64" d="M4289 651l20 50 11-4-19-43z"/><path class="a49" d="M4496 799l17-5 10-9-17 4z"/><path class="a70" d="M4281 604l20 50 13 3-19-42z"/><path class="a52" d="M4550 773l17-3 9-6-17 2z"/><path class="a51" d="M4523 785l17-4 10-8-17 3z"/><path class="a41" d="M4380 867l16 3 11-13-17-3z"/><path class="a42" d="M4407 857l16-3 10-12-16 2z"/><path class="a42" d="M4336 853l17 16 10-12-16-16z"/><path class="a53" d="M4708 762l17 6 8-3-18-6z"/><path class="a40" d="M4353 869l16 11 11-13-17-10z"/><path class="a45" d="M4433 842l16-6 11-11-17 6z"/><path class="a44" d="M4318 832l18 21 11-12-18-20z"/><path class="a54" d="M4620 756l18-1 8-2-17 0z"/><path class="a54" d="M4664 755l18 3 8-1-18-4z"/><path class="a52" d="M4293 760l19 35 11-9-18-33z"/><path class="a47" d="M4460 825l16-6 10-10-16 6z"/><path class="a54" d="M4594 762l17-3 9-3-17 1z"/><path class="a53" d="M4725 768l18 8 8-4-18-7z"/><path class="a48" d="M4300 804l18 28 11-11-17-26z"/><path class="a59" d="M4285 707l20 46 11-7-19-42z"/><path class="a40" d="M4369 880l16 3 11-13-16-3z"/><path class="a49" d="M4486 809l17-6 10-9-17 5z"/><path class="a42" d="M4396 870l16-4 11-12-16 3z"/><path class="a54" d="M4567 770l17-3 10-5-18 2z"/><path class="a41" d="M4325 865l17 17 11-13-17-16z"/><path class="a51" d="M4513 794l17-5 10-8-17 4z"/><path class="a53" d="M4540 781l17-4 10-7-17 3z"/><path class="a40" d="M4342 882l16 11 11-13-16-11z"/><path class="a55" d="M4682 758l18 5 8-1-18-5z"/><path class="a55" d="M4638 755l18 1 8-1-18-2z"/><path class="a52" d="M4743 776l18 9 7-5-17-8z"/><path class="a44" d="M4423 854l16-6 10-12-16 6z"/><path class="a44" d="M4307 843l18 22 11-12-18-21z"/><path class="a66" d="M4276 648l21 56 12-3-20-50z"/><path class="a47" d="M4449 836l17-7 10-10-16 6z"/><path class="a52" d="M4761 785l18 10 7-6-18-9z"/><path class="a39" d="M4358 893l17 3 10-13-16-3z"/><path class="a53" d="M4281 768l19 36 12-9-19-35z"/><path class="a55" d="M4700 763l18 7 7-2-17-6z"/><path class="a56" d="M4611 759l18-2 9-2-18 1z"/><path class="a72" d="M4268 593l21 58 12 3-20-50z"/><path class="a41" d="M4385 883l17-4 10-13-16 4z"/><path class="a48" d="M4289 814l18 29 11-11-18-28z"/><path class="a41" d="M4313 877l18 18 11-13-17-17z"/><path class="a49" d="M4476 819l17-6 10-10-17 6z"/><path class="a51" d="M4779 795l17 10 8-8-18-8z"/><path class="a39" d="M4331 895l16 11 11-13-16-11z"/><path class="a56" d="M4656 756l18 2 8 0-18-3z"/><path class="a59" d="M4273 711l20 49 12-7-20-46z"/><path class="a55" d="M4584 767l18-4 9-4-17 3z"/><path class="a51" d="M4503 803l17-5 10-9-17 5z"/><path class="a44" d="M4412 866l16-7 11-11-16 6z"/><path class="a44" d="M4296 853l17 24 12-12-18-22z"/><path class="a54" d="M4718 770l17 9 8-3-18-8z"/><path class="a54" d="M4557 777l18-5 9-5-17 3z"/><path class="a53" d="M4530 789l18-5 9-7-17 4z"/><path class="a50" d="M4796 805l18 10 8-9-18-9z"/><path class="a39" d="M4347 906l17 3 11-13-17-3z"/><path class="a53" d="M4735 779l18 10 8-4-18-9z"/><path class="a47" d="M4439 848l17-8 10-11-17 7z"/><path class="a41" d="M4375 896l16-4 11-13-17 4z"/><path class="a56" d="M4674 758l18 5 8 0-18-5z"/><path class="a57" d="M4629 757l18-1 9 0-18-1z"/><path class="a49" d="M4814 815l18 11 8-11-18-9z"/><path class="a48" d="M4277 824l19 29 11-10-18-29z"/><path class="a53" d="M4269 775l20 39 11-10-19-36z"/><path class="a40" d="M4302 889l17 18 12-12-18-18z"/><path class="a67" d="M4263 645l22 62 12-3-21-56z"/><path class="a39" d="M4319 907l17 11 11-12-16-11z"/><path class="a52" d="M4753 789l18 12 8-6-18-10z"/><path class="a49" d="M4466 829l17-7 10-9-17 6z"/><path class="a43" d="M4402 879l16-8 10-12-16 7z"/><path class="a49" d="M4832 826l18 10 8-12-18-9z"/><path class="a43" d="M4284 864l18 25 11-12-17-24z"/><path class="a57" d="M4602 763l18-4 9-2-18 2z"/><path class="a51" d="M4771 801l18 11 7-7-17-10z"/><path class="a51" d="M4493 813l17-7 10-8-17 5z"/><path class="a56" d="M4692 763l18 8 8-1-18-7z"/><path class="a60" d="M4260 715l21 53 12-8-20-49z"/><path class="a53" d="M4520 798l18-6 10-8-18 5z"/><path class="a56" d="M4575 772l18-5 9-4-18 4z"/><path class="a55" d="M4548 784l17-6 10-6-18 5z"/><path class="a38" d="M4336 918l17 3 11-12-17-3z"/><path class="a48" d="M4850 836l18 10 8-13-18-9z"/><path class="a50" d="M4789 812l17 12 8-9-18-10z"/><path class="a58" d="M4647 756l18 2 9 0-18-2z"/><path class="a40" d="M4364 909l16-5 11-12-16 4z"/><path class="a46" d="M4428 859l17-9 11-10-17 8z"/><path class="a75" d="M4254 582l22 66 13 3-21-58z"/><path class="a56" d="M4710 771l18 10 7-2-17-9z"/><path class="a49" d="M4806 824l18 12 8-10-18-11z"/><path class="a40" d="M4290 900l18 19 11-12-17-18z"/><path class="a47" d="M4868 846l19 11 8-15-19-9z"/><path class="a47" d="M4265 833l19 31 12-11-19-29z"/><path class="a38" d="M4308 919l17 11 11-12-17-11z"/><path class="a53" d="M4257 783l20 41 12-10-20-39z"/><path class="a49" d="M4456 840l16-8 11-10-17 7z"/><path class="a55" d="M4728 781l17 12 8-4-18-10z"/><path class="a43" d="M4391 892l16-9 11-12-16 8z"/><path class="a48" d="M4824 836l18 12 8-12-18-10z"/><path class="a43" d="M4272 875l18 25 12-11-18-25z"/><path class="a46" d="M4887 857l18 11 8-17-18-9z"/><path class="a58" d="M4620 759l19-1 8-2-18 1z"/><path class="a53" d="M4745 793l18 13 8-5-18-12z"/><path class="a58" d="M4665 758l19 5 8 0-18-5z"/><path class="a52" d="M4483 822l17-7 10-9-17 7z"/><path class="a47" d="M4842 848l18 13 8-15-18-10z"/><path class="a69" d="M4250 643l23 68 12-4-22-62z"/><path class="a38" d="M4325 930l16 3 12-12-17-3z"/><path class="a52" d="M4763 806l18 14 8-8-18-11z"/><path class="a40" d="M4353 921l16-5 11-12-16 5z"/><path class="a54" d="M4510 806l18-6 10-8-18 6z"/><path class="a46" d="M4418 871l16-10 11-11-17 9z"/><path class="a46" d="M4905 868l18 10 9-18-19-9z"/><path class="a58" d="M4593 767l18-5 9-3-18 4z"/><path class="a61" d="M4247 719l22 56 12-7-21-53z"/><path class="a46" d="M4860 861l18 12 9-16-19-11z"/><path class="a51" d="M4781 820l18 14 7-10-17-12z"/><path class="a56" d="M4538 792l18-7 9-7-17 6z"/><path class="a57" d="M4565 778l18-6 10-5-18 5z"/><path class="a40" d="M4278 911l18 19 12-11-18-19z"/><path class="a49" d="M4799 834l17 13 8-11-18-12z"/><path class="a58" d="M4684 763l18 9 8-1-18-8z"/><path class="a38" d="M4296 930l17 11 12-11-17-11z"/><path class="a47" d="M4253 843l19 32 12-11-19-31z"/><path class="a45" d="M4878 873l18 12 9-17-18-11z"/><path class="a43" d="M4380 904l16-9 11-12-16 9z"/><path class="a45" d="M4923 878l19 9 8-19-18-8z"/><path class="a48" d="M4816 847l18 15 8-14-18-12z"/><path class="a53" d="M4244 791l21 42 12-9-20-41z"/><path class="a49" d="M4445 850l17-9 10-9-16 8z"/><path class="a59" d="M4639 758l18 1 8-1-18-2z"/><path class="a44" d="M4896 885l19 12 8-19-18-10z"/><path class="a47" d="M4834 862l18 14 8-15-18-13z"/><path class="a43" d="M4260 886l18 25 12-11-18-25z"/><path class="a57" d="M4702 772l18 11 8-2-18-10z"/><path class="a45" d="M4852 876l18 14 8-17-18-12z"/><path class="a52" d="M4472 832l18-8 10-9-17 7z"/><path class="a38" d="M4313 941l17 3 11-11-16-3z"/><path class="a44" d="M4942 887l19 9 9-20-20-8z"/><path class="a56" d="M4720 783l18 14 7-4-17-12z"/><path class="a39" d="M4341 933l16-5 12-12-16 5z"/><path class="a43" d="M4915 897l18 11 9-21-19-9z"/><path class="a44" d="M4870 890l18 14 8-19-18-12z"/><path class="a78" d="M4240 571l23 74 13 3-22-66z"/><path class="a46" d="M4407 883l16-11 11-11-16 10z"/><path class="a54" d="M4738 797l17 15 8-6-18-13z"/><path class="a54" d="M4500 815l18-8 10-7-18 6z"/><path class="a60" d="M4611 762l19-2 9-2-19 1z"/><path class="a42" d="M4888 904l18 14 9-21-19-12z"/><path class="a53" d="M4755 812l18 15 8-7-18-14z"/><path class="a51" d="M4773 827l18 16 8-9-18-14z"/><path class="a61" d="M4234 723l23 60 12-8-22-56z"/><path class="a56" d="M4528 800l18-8 10-7-18 7z"/><path class="a70" d="M4236 642l24 73 13-4-23-68z"/><path class="a60" d="M4657 759l18 5 9-1-19-5z"/><path class="a49" d="M4791 843l17 16 8-12-17-13z"/><path class="a40" d="M4266 921l18 19 12-10-18-19z"/><path class="a42" d="M4933 908l19 9 9-21-19-9z"/><path class="a47" d="M4241 854l19 32 12-11-19-32z"/><path class="a42" d="M4369 916l16-10 11-11-16 9z"/><path class="a38" d="M4284 940l17 12 12-11-17-11z"/><path class="a41" d="M4906 918l18 12 9-22-18-11z"/><path class="a48" d="M4808 859l18 16 8-13-18-15z"/><path class="a59" d="M4583 772l19-6 9-4-18 5z"/><path class="a44" d="M4961 896l19 7 9-20-19-7z"/><path class="a58" d="M4556 785l18-7 9-6-18 6z"/><path class="a46" d="M4826 875l18 16 8-15-18-14z"/><path class="a44" d="M4844 891l17 16 9-17-18-14z"/><path class="a49" d="M4434 861l17-10 11-10-17 9z"/><path class="a42" d="M4861 907l18 16 9-19-18-14z"/><path class="a53" d="M4232 800l21 43 12-10-21-42z"/><path class="a41" d="M4879 923l18 16 9-21-18-14z"/><path class="a43" d="M4248 896l18 25 12-10-18-25z"/><path class="a40" d="M4924 930l19 10 9-23-19-9z"/><path class="a39" d="M4897 939l18 13 9-22-18-12z"/><path class="a42" d="M4952 917l19 8 9-22-19-7z"/><path class="a59" d="M4675 764l19 9 8-1-18-9z"/><path class="a38" d="M4301 952l17 3 12-11-17-3z"/><path class="a39" d="M4330 944l16-5 11-11-16 5z"/><path class="a52" d="M4462 841l17-8 11-9-18 8z"/><path class="a46" d="M4396 895l16-12 11-11-16 11z"/><path class="a44" d="M4980 903l20 5 9-20-20-5z"/><path class="a38" d="M4915 952l18 12 10-24-19-10z"/><path class="a61" d="M4630 760l18 0 9-1-18-1z"/><path class="a39" d="M4870 942l18 17 9-20-18-16z"/><path class="a41" d="M4853 924l17 18 9-19-18-16z"/><path class="a40" d="M4943 940l19 8 9-23-19-8z"/><path class="a59" d="M4694 773l18 12 8-2-18-11z"/><path class="a37" d="M4888 959l18 15 9-22-18-13z"/><path class="a43" d="M4835 906l18 18 8-17-17-16z"/><path class="a54" d="M4490 824l17-9 11-8-18 8z"/><path class="a45" d="M4818 888l17 18 9-15-18-16z"/><path class="a47" d="M4800 870l18 18 8-13-18-16z"/><path class="a57" d="M4712 785l17 16 9-4-18-14z"/><path class="a49" d="M4783 852l17 18 8-11-17-16z"/><path class="a42" d="M4357 928l16-10 12-12-16 10z"/><path class="a51" d="M4765 835l18 17 8-9-18-16z"/><path class="a36" d="M4906 974l18 12 9-22-18-12z"/><path class="a53" d="M4747 817l18 18 8-8-18-15z"/><path class="a55" d="M4729 801l18 16 8-5-17-15z"/><path class="a47" d="M4228 864l20 32 12-10-19-32z"/><path class="a42" d="M4971 925l20 5 9-22-20-5z"/><path class="a40" d="M4254 931l18 18 12-9-18-19z"/><path class="a37" d="M4933 964l20 8 9-24-19-8z"/><path class="a56" d="M4518 807l17-8 11-7-18 8z"/><path class="a38" d="M4272 949l17 12 12-9-17-12z"/><path class="a62" d="M4221 729l23 62 13-8-23-60z"/><path class="a61" d="M4602 766l18-3 10-3-19 2z"/><path class="a49" d="M4423 872l17-11 11-10-17 10z"/><path class="a53" d="M4219 809l22 45 12-11-21-43z"/><path class="a35" d="M4879 979l18 16 9-21-18-15z"/><path class="a58" d="M4546 792l18-8 10-6-18 7z"/><path class="a37" d="M4861 960l18 19 9-20-18-17z"/><path class="a44" d="M5000 908l21 4 8-19-20-5z"/><path class="a60" d="M4574 778l18-7 10-5-19 6z"/><path class="a40" d="M4962 948l20 6 9-24-20-5z"/><path class="a35" d="M4924 986l19 9 10-23-20-8z"/><path class="a71" d="M4223 641l24 78 13-4-24-73z"/><path class="a43" d="M4235 906l19 25 12-10-18-25z"/><path class="a34" d="M4897 995l18 13 9-22-18-12z"/><path class="a39" d="M4844 941l17 19 9-18-17-18z"/><path class="a80" d="M4225 562l25 81 13 2-23-74z"/><path class="a61" d="M4648 760l19 5 8-1-18-5z"/><path class="a42" d="M4827 921l17 20 9-17-18-18z"/><path class="a39" d="M4318 955l16-5 12-11-16 5z"/><path class="a46" d="M4385 906l16-12 11-11-16 12z"/><path class="a38" d="M4289 961l17 3 12-9-17-3z"/><path class="a37" d="M4953 972l20 5 9-23-20-6z"/><path class="a52" d="M4451 851l17-10 11-8-17 8z"/><path class="a44" d="M4809 901l18 20 8-15-17-18z"/><path class="a33" d="M4915 1008l19 9 9-22-19-9z"/><path class="a42" d="M4991 930l21 4 9-22-21-4z"/><path class="a33" d="M4870 997l18 17 9-19-18-16z"/><path class="a47" d="M4792 882l17 19 9-13-18-18z"/><path class="a32" d="M4888 1014l18 14 9-20-18-13z"/><path class="a36" d="M4853 977l17 20 9-18-18-19z"/><path class="a35" d="M4943 995l20 5 10-23-20-5z"/><path class="a61" d="M4667 765l18 10 9-2-19-9z"/><path class="a42" d="M4346 939l16-10 11-11-16 10z"/><path class="a49" d="M4774 862l18 20 8-12-17-18z"/><path class="a55" d="M4479 833l18-10 10-8-17 9z"/><path class="a45" d="M5021 912l21 3 8-19-21-3z"/><path class="a47" d="M4215 875l20 31 13-10-20-32z"/><path class="a38" d="M4835 957l18 20 8-17-17-19z"/><path class="a40" d="M4982 954l21 3 9-23-21-4z"/><path class="a52" d="M4757 843l17 19 9-10-18-17z"/><path class="a62" d="M4620 763l19 0 9-3-18 0z"/><path class="a31" d="M4906 1028l19 10 9-21-19-9z"/><path class="a40" d="M4241 940l18 18 13-9-18-18z"/><path class="a49" d="M4412 883l17-11 11-11-17 11z"/><path class="a54" d="M4739 824l18 19 8-8-18-18z"/><path class="a60" d="M4685 775l18 14 9-4-18-12z"/><path class="a39" d="M4259 958l18 12 12-9-17-12z"/><path class="a62" d="M4208 736l24 64 12-9-23-62z"/><path class="a53" d="M4206 820l22 44 13-10-22-45z"/><path class="a33" d="M4934 1017l20 5 9-22-20-5z"/><path class="a56" d="M4721 805l18 19 8-7-18-16z"/><path class="a41" d="M4818 935l17 22 9-16-17-20z"/><path class="a58" d="M4703 789l18 16 8-4-17-16z"/><path class="a32" d="M4861 1015l18 18 9-19-18-17z"/><path class="a38" d="M4973 977l21 2 9-22-21-3z"/><path class="a30" d="M4879 1033l18 15 9-20-18-14z"/><path class="a43" d="M4222 916l19 24 13-9-19-25z"/><path class="a59" d="M4535 799l19-9 10-6-18 8z"/><path class="a62" d="M4592 771l19-4 9-4-18 3z"/><path class="a34" d="M4844 994l17 21 9-18-17-20z"/><path class="a43" d="M5012 934l21 1 9-20-21-3z"/><path class="a44" d="M4801 914l17 21 9-14-18-20z"/><path class="a61" d="M4564 784l18-8 10-5-18 7z"/><path class="a46" d="M4373 918l17-13 11-11-16 12z"/><path class="a40" d="M4306 964l16-4 12-10-16 5z"/><path class="a29" d="M4897 1048l19 10 9-20-19-10z"/><path class="a35" d="M4963 1000l21 2 10-23-21-2z"/><path class="a31" d="M4925 1038l20 5 9-21-20-5z"/><path class="a52" d="M4440 861l17-10 11-10-17 10z"/><path class="a72" d="M4209 642l25 81 13-4-24-78z"/><path class="a47" d="M4783 893l18 21 8-13-17-19z"/><path class="a39" d="M4277 970l16 3 13-9-17-3z"/><path class="a37" d="M4827 972l17 22 9-17-18-20z"/><path class="a63" d="M4639 763l19 5 9-3-19-5z"/><path class="a46" d="M5042 915l22 0 8-17-22-2z"/><path class="a41" d="M5003 957l22-1 8-21-21-1z"/><path class="a29" d="M4870 1052l18 15 9-19-18-15z"/><path class="a31" d="M4853 1033l17 19 9-19-18-18z"/><path class="a49" d="M4766 872l17 21 9-11-18-20z"/><path class="a42" d="M4334 950l16-10 12-11-16 10z"/><path class="a33" d="M4954 1022l22 1 8-21-21-2z"/><path class="a40" d="M4810 949l17 23 8-15-17-22z"/><path class="a47" d="M4202 885l20 31 13-10-20-31z"/><path class="a55" d="M4468 841l18-10 11-8-18 10z"/><path class="a82" d="M4210 554l26 88 14 1-25-81z"/><path class="a52" d="M4748 851l18 21 8-10-17-19z"/><path class="a33" d="M4835 1011l18 22 8-18-17-21z"/><path class="a29" d="M4916 1058l21 5 8-20-20-5z"/><path class="a49" d="M4401 894l17-12 11-10-17 11z"/><path class="a28" d="M4888 1067l20 10 8-19-19-10z"/><path class="a53" d="M4194 831l21 44 13-11-22-44z"/><path class="a39" d="M4994 979l22-1 9-22-22 1z"/><path class="a41" d="M4228 949l19 17 12-8-18-18z"/><path class="a62" d="M4195 744l24 65 13-9-24-64z"/><path class="a62" d="M4658 768l18 10 9-3-18-10z"/><path class="a54" d="M4731 831l17 20 9-8-18-19z"/><path class="a43" d="M4792 927l18 22 8-14-17-21z"/><path class="a39" d="M4247 966l17 12 13-8-18-12z"/><path class="a44" d="M5033 935l23-2 8-18-22 0z"/><path class="a63" d="M4611 767l19 0 9-4-19 0z"/><path class="a36" d="M4818 988l17 23 9-17-17-22z"/><path class="a31" d="M4945 1043l22 1 9-21-22-1z"/><path class="a27" d="M4861 1071l19 16 8-20-18-15z"/><path class="a57" d="M4713 811l18 20 8-7-18-19z"/><path class="a44" d="M4209 925l19 24 13-9-19-24z"/><path class="a45" d="M4362 929l16-13 12-11-17 13z"/><path class="a61" d="M4676 778l19 15 8-4-18-14z"/><path class="a29" d="M4844 1051l17 20 9-19-17-19z"/><path class="a59" d="M4695 793l18 18 8-6-18-16z"/><path class="a37" d="M4984 1002l23-3 9-21-22 1z"/><path class="a46" d="M4775 905l17 22 9-13-18-21z"/><path class="a27" d="M4908 1077l20 5 9-19-21-5z"/><path class="a52" d="M4429 872l17-12 11-9-17 10z"/><path class="a63" d="M4582 776l19-4 10-5-19 4z"/><path class="a26" d="M4880 1087l19 10 9-20-20-10z"/><path class="a40" d="M4293 973l17-4 12-9-16 4z"/><path class="a61" d="M4554 790l18-8 10-6-18 8z"/><path class="a47" d="M5064 915l23-3 7-14-22 0z"/><path class="a32" d="M4827 1028l17 23 9-18-18-22z"/><path class="a40" d="M4801 964l17 24 9-16-17-23z"/><path class="a39" d="M4264 978l17 3 12-8-16-3z"/><path class="a42" d="M5025 956l23-4 8-19-23 2z"/><path class="a49" d="M4757 883l18 22 8-12-17-21z"/><path class="a42" d="M4322 960l16-10 12-10-16 10z"/><path class="a30" d="M4937 1063l21 0 9-19-22-1z"/><path class="a73" d="M4195 643l26 86 13-6-25-81z"/><path class="a26" d="M4852 1090l18 17 10-20-19-16z"/><path class="a35" d="M4976 1023l22-3 9-21-23 3z"/><path class="a48" d="M4189 896l20 29 13-9-20-31z"/><path class="a28" d="M4835 1070l17 20 9-19-17-20z"/><path class="a49" d="M4390 905l16-12 12-11-17 12z"/><path class="a55" d="M4457 851l18-12 11-8-18 10z"/><path class="a64" d="M4630 767l19 5 9-4-19-5z"/><path class="a53" d="M4181 843l21 42 13-10-21-44z"/><path class="a36" d="M4809 1003l18 25 8-17-17-23z"/><path class="a52" d="M4740 860l17 23 9-11-18-21z"/><path class="a43" d="M4784 940l17 24 9-15-18-22z"/><path class="a24" d="M4870 1107l20 11 9-21-19-10z"/><path class="a26" d="M4899 1097l20 5 9-20-20-5z"/><path class="a62" d="M4182 753l24 67 13-11-24-65z"/><path class="a41" d="M5016 978l23-6 9-20-23 4z"/><path class="a42" d="M4215 957l18 17 14-8-19-17z"/><path class="a31" d="M4818 1045l17 25 9-19-17-23z"/><path class="a55" d="M4722 838l18 22 8-9-17-20z"/><path class="a46" d="M5056 933l24-6 7-15-23 3z"/><path class="a45" d="M4350 940l16-13 12-11-16 13z"/><path class="a28" d="M4928 1082l22 0 8-19-21 0z"/><path class="a24" d="M4843 1111l18 17 9-21-18-17z"/><path class="a33" d="M4967 1044l23-5 8-19-22 3z"/><path class="a40" d="M4233 974l18 11 13-7-17-12z"/><path class="a46" d="M4766 916l18 24 8-13-17-22z"/><path class="a44" d="M4196 935l19 22 13-8-19-24z"/><path class="a63" d="M4649 772l18 10 9-4-18-10z"/><path class="a39" d="M4792 978l17 25 9-15-17-24z"/><path class="a84" d="M4195 548l28 93 13 1-26-88z"/><path class="a58" d="M4704 817l18 21 9-7-18-20z"/><path class="a27" d="M4826 1089l17 22 9-21-17-20z"/><path class="a23" d="M4861 1128l19 12 10-22-20-11z"/><path class="a64" d="M4601 772l19-1 10-4-19 0z"/><path class="a52" d="M4418 882l17-12 11-10-17 12z"/><path class="a48" d="M5087 912l23-1 6-13-22 0z"/><path class="a24" d="M4890 1118l20 5 9-21-20-5z"/><path class="a60" d="M4686 798l18 19 9-6-18-18z"/><path class="a62" d="M4667 782l19 16 9-5-19-15z"/><path class="a40" d="M4281 981l16-3 13-9-17 4z"/><path class="a39" d="M5007 999l24-8 8-19-23 6z"/><path class="a35" d="M4801 1020l17 25 9-17-18-25z"/><path class="a49" d="M4749 893l17 23 9-11-18-22z"/><path class="a64" d="M4572 782l19-6 10-4-19 4z"/><path class="a62" d="M4544 796l18-10 10-4-18 8z"/><path class="a22" d="M4834 1132l18 18 9-22-18-17z"/><path class="a42" d="M4310 969l16-9 12-10-16 10z"/><path class="a42" d="M4775 953l17 25 9-14-17-24z"/><path class="a30" d="M4809 1064l17 25 9-19-17-25z"/><path class="a40" d="M4251 985l17 4 13-8-17-3z"/><path class="a27" d="M4919 1102l22 0 9-20-22 0z"/><path class="a32" d="M4958 1063l23-5 9-19-23 5z"/><path class="a48" d="M4176 907l20 28 13-10-20-29z"/><path class="a53" d="M4167 856l22 40 13-11-21-42z"/><path class="a45" d="M5048 952l24-9 8-16-24 6z"/><path class="a49" d="M4378 916l17-12 11-11-16 12z"/><path class="a21" d="M4852 1150l19 12 9-22-19-12z"/><path class="a25" d="M4816 1109l18 23 9-21-17-22z"/><path class="a23" d="M4880 1140l21 5 9-22-20-5z"/><path class="a56" d="M4446 860l18-13 11-8-18 12z"/><path class="a74" d="M4180 646l28 90 13-7-26-86z"/><path class="a52" d="M4731 869l18 24 8-10-17-23z"/><path class="a62" d="M4168 765l26 66 12-11-24-67z"/><path class="a37" d="M4998 1020l25-11 8-18-24 8z"/><path class="a38" d="M4783 993l18 27 8-17-17-25z"/><path class="a65" d="M4620 771l19 5 10-4-19-5z"/><path class="a46" d="M4757 928l18 25 9-13-18-24z"/><path class="a21" d="M4824 1153l18 18 10-21-18-18z"/><path class="a46" d="M4338 950l16-11 12-12-16 13z"/><path class="a55" d="M4713 846l18 23 9-9-18-22z"/><path class="a34" d="M4791 1036l18 28 9-19-17-25z"/><path class="a48" d="M5080 927l24-4 6-12-23 1z"/><path class="a19" d="M4842 1171l20 12 9-21-19-12z"/><path class="a42" d="M4201 965l19 17 13-8-18-17z"/><path class="a25" d="M4910 1123l22-1 9-20-22 0z"/><path class="a28" d="M4799 1082l17 27 10-20-17-25z"/><path class="a21" d="M4871 1162l21 5 9-22-21-5z"/><path class="a30" d="M4950 1082l23-6 8-18-23 5z"/><path class="a45" d="M4182 945l19 20 14-8-19-22z"/><path class="a53" d="M4406 893l18-13 11-10-17 12z"/><path class="a23" d="M4807 1129l17 24 10-21-18-23z"/><path class="a43" d="M5039 972l26-13 7-16-24 9z"/><path class="a41" d="M4220 982l17 11 14-8-18-11z"/><path class="a58" d="M4695 824l18 22 9-8-18-21z"/><path class="a49" d="M4740 904l17 24 9-12-17-23z"/><path class="a42" d="M4766 967l17 26 9-15-17-25z"/><path class="a64" d="M4639 776l19 11 9-5-18-10z"/><path class="a36" d="M4990 1039l25-12 8-18-25 11z"/><path class="a65" d="M4591 776l20-1 9-4-19 1z"/><path class="a41" d="M4268 989l16-2 13-9-16 3z"/><path class="a19" d="M4815 1173l18 19 9-21-18-18z"/><path class="a53" d="M4154 869l22 38 13-11-22-40z"/><path class="a61" d="M4677 803l18 21 9-7-18-19z"/><path class="a17" d="M4833 1192l19 12 10-21-20-12z"/><path class="a63" d="M4658 787l19 16 9-5-19-16z"/><path class="a49" d="M4366 927l17-12 12-11-17 12z"/><path class="a19" d="M4862 1183l20 5 10-21-21-5z"/><path class="a24" d="M4901 1145l22-2 9-21-22 1z"/><path class="a43" d="M4297 978l16-8 13-10-16 9z"/><path class="a48" d="M4163 919l19 26 14-10-20-28z"/><path class="a37" d="M4774 1009l17 27 10-16-18-27z"/><path class="a62" d="M4155 778l26 65 13-12-26-66z"/><path class="a86" d="M4180 543l29 99 14-1-28-93z"/><path class="a65" d="M4562 786l19-6 10-4-19 6z"/><path class="a32" d="M4782 1054l17 28 10-18-18-28z"/><path class="a27" d="M4790 1101l17 28 9-20-17-27z"/><path class="a52" d="M4722 879l18 25 9-11-18-24z"/><path class="a29" d="M4941 1102l23-7 9-19-23 6z"/><path class="a56" d="M4435 870l18-13 11-10-18 13z"/><path class="a22" d="M4798 1148l17 25 9-20-17-24z"/><path class="a41" d="M4237 993l17 4 14-8-17-4z"/><path class="a46" d="M4749 940l17 27 9-14-18-25z"/><path class="a42" d="M5031 991l26-15 8-17-26 13z"/><path class="a47" d="M5072 943l25-7 7-13-24 4z"/><path class="a75" d="M4166 650l29 94 13-8-28-90z"/><path class="a46" d="M4326 960l16-10 12-11-16 11z"/><path class="a35" d="M4981 1058l26-13 8-18-25 12z"/><path class="a22" d="M4892 1167l22-2 9-22-22 2z"/><path class="a17" d="M4852 1204l21 5 9-21-20-5z"/><path class="a18" d="M4806 1191l18 20 9-19-18-19z"/><path class="a56" d="M4704 854l18 25 9-10-18-23z"/><path class="a16" d="M4824 1211l19 13 9-20-19-12z"/><path class="a53" d="M4395 904l17-13 12-11-18 13z"/><path class="a41" d="M4757 981l17 28 9-16-17-26z"/><path class="a66" d="M4611 775l19 5 9-4-19-5z"/><path class="a43" d="M4188 974l18 15 14-7-19-17z"/><path class="a45" d="M4169 954l19 20 13-9-19-20z"/><path class="a28" d="M4932 1122l24-7 8-20-23 7z"/><path class="a49" d="M4731 914l18 26 8-12-17-24z"/><path class="a26" d="M4781 1119l17 29 9-19-17-28z"/><path class="a37" d="M4765 1024l17 30 9-18-17-27z"/><path class="a31" d="M4773 1071l17 30 9-19-17-28z"/><path class="a21" d="M4788 1166l18 25 9-18-17-25z"/><path class="a53" d="M4141 883l22 36 13-12-22-38z"/><path class="a62" d="M4142 792l25 64 14-13-26-65z"/><path class="a59" d="M4686 830l18 24 9-8-18-22z"/><path class="a42" d="M4206 989l18 11 13-7-17-11z"/><path class="a20" d="M4882 1188l23-1 9-22-22 2z"/><path class="a41" d="M5023 1009l27-18 7-15-26 15z"/><path class="a49" d="M4354 939l17-12 12-12-17 12z"/><path class="a48" d="M4149 930l20 24 13-9-19-26z"/><path class="a16" d="M4843 1224l21 5 9-20-21-5z"/><path class="a42" d="M4254 997l17-2 13-8-16 2z"/><path class="a65" d="M4630 780l19 12 9-5-19-11z"/><path class="a47" d="M5065 959l25-9 7-14-25 7z"/><path class="a43" d="M4284 987l16-7 13-10-16 8z"/><path class="a34" d="M4973 1076l26-14 8-17-26 13z"/><path class="a62" d="M4668 809l18 21 9-6-18-21z"/><path class="a66" d="M4581 780l20-1 10-4-20 1z"/><path class="a45" d="M4739 953l18 28 9-14-17-27z"/><path class="a53" d="M4713 888l18 26 9-10-18-25z"/><path class="a17" d="M4797 1208l18 20 9-17-18-20z"/><path class="a56" d="M4424 880l17-13 12-10-18 13z"/><path class="a64" d="M4649 792l19 17 9-6-19-16z"/><path class="a15" d="M4815 1228l19 13 9-17-19-13z"/><path class="a26" d="M4923 1143l24-8 9-20-24 7z"/><path class="a75" d="M4152 657l30 96 13-9-29-94z"/><path class="a42" d="M4224 1000l17 4 13-7-17-4z"/><path class="a25" d="M4771 1136l17 30 10-18-17-29z"/><path class="a41" d="M4748 995l17 29 9-15-17-28z"/><path class="a18" d="M4873 1209l22-2 10-20-23 1z"/><path class="a46" d="M4313 970l17-9 12-11-16 10z"/><path class="a30" d="M4764 1088l17 31 9-18-17-30z"/><path class="a36" d="M4756 1040l17 31 9-17-17-30z"/><path class="a20" d="M4779 1182l18 26 9-17-18-25z"/><path class="a88" d="M4164 538l31 105 14-1-29-99z"/><path class="a53" d="M4383 915l17-12 12-12-17 13z"/><path class="a56" d="M4695 862l18 26 9-9-18-25z"/><path class="a40" d="M5015 1027l28-20 7-16-27 18z"/><path class="a61" d="M4129 809l25 60 13-13-25-64z"/><path class="a52" d="M4127 897l22 33 14-11-22-36z"/><path class="a49" d="M4722 925l17 28 10-13-18-26z"/><path class="a15" d="M4834 1241l21 5 9-17-21-5z"/><path class="a33" d="M4964 1095l27-15 8-18-26 14z"/><path class="a24" d="M4914 1165l24-9 9-21-24 8z"/><path class="a46" d="M4154 964l19 18 15-8-19-20z"/><path class="a44" d="M4173 982l19 15 14-8-18-15z"/><path class="a46" d="M5057 976l27-13 6-13-25 9z"/><path class="a67" d="M4601 779l19 5 10-4-19-5z"/><path class="a49" d="M4342 950l17-11 12-12-17 12z"/><path class="a17" d="M4864 1229l22-2 9-20-22 2z"/><path class="a16" d="M4788 1223l18 20 9-15-18-20z"/><path class="a60" d="M4677 836l18 26 9-8-18-24z"/><path class="a48" d="M4135 942l19 22 15-10-20-24z"/><path class="a45" d="M4730 966l18 29 9-14-18-28z"/><path class="a14" d="M4806 1243l20 13 8-15-19-13z"/><path class="a43" d="M4192 997l18 10 14-7-18-11z"/><path class="a24" d="M4762 1152l17 30 9-16-17-30z"/><path class="a56" d="M4412 891l17-14 12-10-17 13z"/><path class="a30" d="M4754 1104l17 32 10-17-17-31z"/><path class="a53" d="M4704 897l18 28 9-11-18-26z"/><path class="a44" d="M4271 995l16-5 13-10-16 7z"/><path class="a40" d="M4739 1009l17 31 9-16-17-29z"/><path class="a43" d="M4241 1004l17 0 13-9-17 2z"/><path class="a35" d="M4747 1056l17 32 9-17-17-31z"/><path class="a23" d="M4905 1187l24-10 9-21-24 9z"/><path class="a63" d="M4658 814l19 22 9-6-18-21z"/><path class="a67" d="M4620 784l19 12 10-4-19-12z"/><path class="a75" d="M4137 666l31 99 14-12-30-96z"/><path class="a39" d="M5007 1045l28-23 8-15-28 20z"/><path class="a60" d="M4116 827l25 56 13-14-25-60z"/><path class="a20" d="M4770 1197l18 26 9-15-18-26z"/><path class="a31" d="M4956 1115l26-17 9-18-27 15z"/><path class="a67" d="M4571 784l20-2 10-3-20 1z"/><path class="a65" d="M4639 796l19 18 10-5-19-17z"/><path class="a46" d="M4300 980l17-8 13-11-17 9z"/><path class="a52" d="M4371 927l17-12 12-12-17 12z"/><path class="a14" d="M4826 1256l21 6 8-16-21-5z"/><path class="a52" d="M4114 912l21 30 14-12-22-33z"/><path class="a42" d="M4210 1007l17 5 14-8-17-4z"/><path class="a49" d="M4712 936l18 30 9-13-17-28z"/><path class="a45" d="M5050 991l27-15 7-13-27 13z"/><path class="a16" d="M4855 1246l23-2 8-17-22 2z"/><path class="a57" d="M4686 869l18 28 9-9-18-26z"/><path class="a60" d="M4441 867l18-15 12-10-18 15z"/><path class="a21" d="M4895 1207l25-10 9-20-24 10z"/><path class="a49" d="M4330 961l16-10 13-12-17 11z"/><path class="a45" d="M4721 978l18 31 9-14-18-29z"/><path class="a90" d="M4149 536l31 110 15-3-31-105z"/><path class="a46" d="M4140 974l19 17 14-9-19-18z"/><path class="a29" d="M4745 1119l17 33 9-16-17-32z"/><path class="a30" d="M4947 1135l27-18 8-19-26 17z"/><path class="a16" d="M4780 1235l18 21 8-13-18-20z"/><path class="a34" d="M4737 1071l17 33 10-16-17-32z"/><path class="a24" d="M4753 1166l17 31 9-15-17-30z"/><path class="a44" d="M4159 991l18 13 15-7-19-15z"/><path class="a40" d="M4729 1023l18 33 9-16-17-31z"/><path class="a48" d="M4121 954l19 20 14-10-19-22z"/><path class="a15" d="M4798 1256l20 13 8-13-20-13z"/><path class="a59" d="M4103 846l24 51 14-14-25-56z"/><path class="a39" d="M4999 1062l29-24 7-16-28 23z"/><path class="a56" d="M4400 903l18-14 11-12-17 14z"/><path class="a60" d="M4667 843l19 26 9-7-18-26z"/><path class="a68" d="M4591 782l19 5 10-3-19-5z"/><path class="a75" d="M4123 679l32 99 13-13-31-99z"/><path class="a53" d="M4694 907l18 29 10-11-18-28z"/><path class="a43" d="M4177 1004l18 10 15-7-18-10z"/><path class="a44" d="M4258 1004l16-4 13-10-16 5z"/><path class="a20" d="M4762 1209l18 26 8-12-18-26z"/><path class="a20" d="M4886 1227l25-11 9-19-25 10z"/><path class="a52" d="M4100 927l21 27 14-12-21-30z"/><path class="a43" d="M4227 1012l17 0 14-8-17 0z"/><path class="a52" d="M4359 939l17-11 12-13-17 12z"/><path class="a46" d="M4287 990l17-7 13-11-17 8z"/><path class="a45" d="M5043 1007l27-17 7-14-27 15z"/><path class="a16" d="M4847 1262l23-3 8-15-23 2z"/><path class="a14" d="M4818 1269l21 5 8-12-21-6z"/><path class="a64" d="M4649 819l18 24 10-7-19-22z"/><path class="a29" d="M4938 1156l27-20 9-19-27 18z"/><path class="a49" d="M4703 947l18 31 9-12-18-30z"/><path class="a68" d="M4610 787l20 12 9-3-19-12z"/><path class="a58" d="M4090 867l24 45 13-15-24-51z"/><path class="a66" d="M4630 799l19 20 9-5-19-18z"/><path class="a69" d="M4561 787l19-2 11-3-20 2z"/><path class="a60" d="M4429 877l18-15 12-10-18 15z"/><path class="a44" d="M4711 991l18 32 10-14-18-31z"/><path class="a57" d="M4676 877l18 30 10-10-18-28z"/><path class="a43" d="M4195 1014l18 6 14-8-17-5z"/><path class="a38" d="M4991 1080l29-27 8-15-29 24z"/><path class="a29" d="M4736 1133l17 33 9-14-17-33z"/><path class="a34" d="M4728 1085l17 34 9-15-17-33z"/><path class="a49" d="M4317 972l17-9 12-12-16 10z"/><path class="a39" d="M4720 1037l17 34 10-15-18-33z"/><path class="a74" d="M4110 696l32 96 13-14-32-99z"/><path class="a24" d="M4744 1179l18 30 8-12-17-31z"/><path class="a47" d="M4126 984l18 16 15-9-19-17z"/><path class="a49" d="M4106 966l20 18 14-10-19-20z"/><path class="a56" d="M4388 915l18-13 12-13-18 14z"/><path class="a19" d="M4878 1244l25-11 8-17-25 11z"/><path class="a17" d="M4771 1246l19 20 8-10-18-21z"/><path class="a27" d="M4929 1177l27-22 9-19-27 20z"/><path class="a15" d="M4790 1266l20 13 8-10-20-13z"/><path class="a45" d="M4144 1000l19 12 14-8-18-13z"/><path class="a91" d="M4133 536l33 114 14-4-31-110z"/><path class="a53" d="M4685 916l18 31 9-11-18-29z"/><path class="a51" d="M4086 943l20 23 15-12-21-27z"/><path class="a57" d="M4077 888l23 39 14-15-24-45z"/><path class="a61" d="M4658 849l18 28 10-8-19-26z"/><path class="a45" d="M5035 1022l28-19 7-13-27 17z"/><path class="a52" d="M4346 951l18-10 12-13-17 11z"/><path class="a63" d="M4459 852l19-16 11-9-18 15z"/><path class="a45" d="M4244 1012l17-2 13-10-16 4z"/><path class="a20" d="M4753 1220l18 26 9-11-18-26z"/><path class="a16" d="M4839 1274l23-2 8-13-23 3z"/><path class="a44" d="M4163 1012l18 10 14-8-18-10z"/><path class="a69" d="M4580 785l20 5 10-3-19-5z"/><path class="a49" d="M4693 959l18 32 10-13-18-31z"/><path class="a47" d="M4274 1000l17-6 13-11-17 7z"/><path class="a37" d="M4982 1098l30-28 8-17-29 27z"/><path class="a73" d="M4097 716l32 93 13-17-32-96z"/><path class="a44" d="M4213 1020l17 1 14-9-17 0z"/><path class="a15" d="M4810 1279l21 6 8-11-21-5z"/><path class="a44" d="M4702 1004l18 33 9-14-18-32z"/><path class="a60" d="M4418 889l18-14 11-13-18 15z"/><path class="a39" d="M4710 1051l18 34 9-14-17-34z"/><path class="a34" d="M4718 1099l18 34 9-14-17-34z"/><path class="a26" d="M4920 1197l28-23 8-19-27 22z"/><path class="a64" d="M4639 823l19 26 9-6-18-24z"/><path class="a29" d="M4726 1146l18 33 9-13-17-33z"/><path class="a49" d="M4304 983l17-7 13-13-17 9z"/><path class="a58" d="M4667 885l18 31 9-9-18-30z"/><path class="a69" d="M4600 790l20 13 10-4-20-12z"/><path class="a56" d="M4376 928l18-12 12-14-18 13z"/><path class="a56" d="M4063 909l23 34 14-16-23-39z"/><path class="a19" d="M4870 1259l24-11 9-15-25 11z"/><path class="a67" d="M4620 803l19 20 10-4-19-20z"/><path class="a49" d="M4092 979l19 16 15-11-20-18z"/><path class="a44" d="M4181 1022l17 6 15-8-18-6z"/><path class="a70" d="M4550 791l20-3 10-3-19 2z"/><path class="a24" d="M4735 1189l18 31 9-11-18-30z"/><path class="a72" d="M4084 740l32 87 13-18-32-93z"/><path class="a47" d="M4111 995l18 14 15-9-18-16z"/><path class="a51" d="M4072 958l20 21 14-13-20-23z"/><path class="a44" d="M5028 1038l28-21 7-14-28 19z"/><path class="a52" d="M4334 963l17-8 13-14-18 10z"/><path class="a54" d="M4675 926l18 33 10-12-18-31z"/><path class="a36" d="M4974 1117l30-31 8-16-30 28z"/><path class="a46" d="M4129 1009l19 12 15-9-19-12z"/><path class="a18" d="M4763 1254l19 20 8-8-19-20z"/><path class="a64" d="M4447 862l19-16 12-10-19 16z"/><path class="a92" d="M4117 538l35 119 14-7-33-114z"/><path class="a25" d="M4911 1216l28-24 9-18-28 23z"/><path class="a16" d="M4782 1274l20 13 8-8-20-13z"/><path class="a49" d="M4684 971l18 33 9-13-18-32z"/><path class="a62" d="M4648 855l19 30 9-8-18-28z"/><path class="a70" d="M4072 768l31 78 13-19-32-87z"/><path class="a46" d="M4230 1021l17-1 14-10-17 2z"/><path class="a55" d="M4050 930l22 28 14-15-23-34z"/><path class="a47" d="M4261 1010l17-4 13-12-17 6z"/><path class="a44" d="M4692 1017l18 34 10-14-18-33z"/><path class="a60" d="M4406 902l18-14 12-13-18 14z"/><path class="a16" d="M4831 1285l23-2 8-11-23 2z"/><path class="a39" d="M4700 1064l18 35 10-14-18-34z"/><path class="a45" d="M4148 1021l18 9 15-8-18-10z"/><path class="a34" d="M4709 1111l17 35 10-13-18-34z"/><path class="a21" d="M4744 1228l19 26 8-8-18-26z"/><path class="a45" d="M4198 1028l17 2 15-9-17-1z"/><path class="a49" d="M4291 994l17-5 13-13-17 7z"/><path class="a55" d="M4364 941l17-11 13-14-18 12z"/><path class="a68" d="M4061 798l29 69 13-21-31-78z"/><path class="a71" d="M4570 788l20 5 10-3-20-5z"/><path class="a29" d="M4717 1157l18 32 9-10-18-33z"/><path class="a19" d="M4862 1272l25-10 7-14-24 11z"/><path class="a35" d="M4965 1136l31-33 8-17-30 31z"/><path class="a16" d="M4802 1287l22 6 7-8-21-6z"/><path class="a58" d="M4657 894l18 32 10-10-18-31z"/><path class="a65" d="M4629 828l19 27 10-6-19-26z"/><path class="a51" d="M4057 974l20 17 15-12-20-21z"/><path class="a49" d="M4077 991l19 15 15-11-19-16z"/><path class="a44" d="M5020 1053l29-22 7-14-28 21z"/><path class="a65" d="M4049 829l28 59 13-21-29-69z"/><path class="a52" d="M4321 976l17-7 13-14-17 8z"/><path class="a25" d="M4903 1233l28-24 8-17-28 24z"/><path class="a47" d="M4096 1006l18 13 15-10-18-14z"/><path class="a53" d="M4037 951l20 23 15-16-22-28z"/><path class="a45" d="M4166 1030l17 6 15-8-17-6z"/><path class="a70" d="M4590 793l19 14 11-4-20-13z"/><path class="a54" d="M4665 937l19 34 9-12-18-33z"/><path class="a68" d="M4609 807l20 21 10-5-19-20z"/><path class="a25" d="M4726 1199l18 29 9-8-18-31z"/><path class="a62" d="M4038 861l25 48 14-21-28-59z"/><path class="a71" d="M4539 795l20-3 11-4-20 3z"/><path class="a70" d="M4508 812l20-10 11-7-19 10z"/><path class="a64" d="M4436 875l18-16 12-13-19 16z"/><path class="a49" d="M4674 983l18 34 10-13-18-33z"/><path class="a46" d="M4114 1019l19 11 15-9-19-12z"/><path class="a59" d="M4394 916l18-13 12-15-18 14z"/><path class="a92" d="M4102 545l35 121 15-9-35-119z"/><path class="a44" d="M4682 1030l18 34 10-13-18-34z"/><path class="a60" d="M4027 892l23 38 13-21-25-48z"/><path class="a39" d="M4690 1077l19 34 9-12-18-35z"/><path class="a47" d="M4247 1020l17-2 14-12-17 4z"/><path class="a55" d="M4351 955l18-9 12-16-17 11z"/><path class="a62" d="M4638 862l19 32 10-9-19-30z"/><path class="a34" d="M4956 1155l32-35 8-17-31 33z"/><path class="a46" d="M4215 1030l18 0 14-10-17 1z"/><path class="a34" d="M4699 1123l18 34 9-11-17-35z"/><path class="a49" d="M4278 1006l17-4 13-13-17 5z"/><path class="a57" d="M4015 923l22 28 13-21-23-38z"/><path class="a20" d="M4755 1260l19 19 8-5-19-20z"/><path class="a50" d="M4043 989l19 16 15-14-20-17z"/><path class="a46" d="M4133 1030l18 9 15-9-18-9z"/><path class="a52" d="M4023 972l20 17 14-15-20-23z"/><path class="a43" d="M5012 1070l30-25 7-14-29 22z"/><path class="a18" d="M4824 1293l23-2 7-8-23 2z"/><path class="a18" d="M4774 1279l21 13 7-5-20-13z"/><path class="a46" d="M4183 1036l18 4 14-10-17-2z"/><path class="a49" d="M4062 1005l18 12 16-11-19-15z"/><path class="a67" d="M4466 846l19-15 12-10-19 15z"/><path class="a52" d="M4308 989l18-5 12-15-17 7z"/><path class="a24" d="M4894 1248l29-24 8-15-28 24z"/><path class="a58" d="M4647 903l18 34 10-11-18-32z"/><path class="a30" d="M4708 1167l18 32 9-10-18-32z"/><path class="a20" d="M4854 1283l25-10 8-11-25 10z"/><path class="a23" d="M4736 1235l19 25 8-6-19-26z"/><path class="a55" d="M4003 951l20 21 14-21-22-28z"/><path class="a72" d="M4559 792l20 5 11-4-20-5z"/><path class="a66" d="M4619 834l19 28 10-7-19-27z"/><path class="a63" d="M4424 888l18-15 12-14-18 16z"/><path class="a48" d="M4080 1017l19 12 15-10-18-13z"/><path class="a54" d="M4655 948l19 35 10-12-19-34z"/><path class="a59" d="M4381 930l18-11 13-16-18 13z"/><path class="a49" d="M4664 995l18 35 10-13-18-34z"/><path class="a34" d="M4948 1174l32-37 8-17-32 35z"/><path class="a92" d="M4087 557l36 122 14-13-35-121z"/><path class="a46" d="M4151 1039l17 6 15-9-17-6z"/><path class="a18" d="M4795 1292l21 7 8-6-22-6z"/><path class="a55" d="M3972 964l19 14 12-27-21-22z"/><path class="a53" d="M3991 978l18 14 14-20-20-21z"/><path class="a58" d="M3982 929l21 22 12-28-23-32z"/><path class="a55" d="M4338 969l18-8 13-15-18 9z"/><path class="a70" d="M4497 821l20-11 11-8-20 10z"/><path class="a44" d="M4672 1043l18 34 10-13-18-34z"/><path class="a71" d="M4579 797l20 15 10-5-19-14z"/><path class="a69" d="M4599 812l20 22 10-6-20-21z"/><path class="a51" d="M4009 992l19 13 15-16-20-17z"/><path class="a72" d="M4528 802l20-4 11-6-20 3z"/><path class="a52" d="M3960 994l17 9 14-25-19-14z"/><path class="a47" d="M4099 1029l18 10 16-9-19-11z"/><path class="a26" d="M4717 1207l19 28 8-7-18-29z"/><path class="a39" d="M4681 1089l18 34 10-12-19-34z"/><path class="a62" d="M3992 891l23 32 12-31-26-43z"/><path class="a48" d="M4233 1030l17 0 14-12-17 2z"/><path class="a50" d="M4028 1005l18 13 16-13-19-16z"/><path class="a49" d="M4264 1018l17-3 14-13-17 4z"/><path class="a43" d="M5004 1086l31-26 7-15-30 25z"/><path class="a63" d="M4628 870l19 33 10-9-19-32z"/><path class="a47" d="M4201 1040l17 1 15-11-18 0z"/><path class="a50" d="M3947 1019l16 5 14-21-17-9z"/><path class="a35" d="M4689 1134l19 33 9-10-18-34z"/><path class="a51" d="M3977 1003l18 8 14-19-18-14z"/><path class="a67" d="M4001 849l26 43 11-31-28-56z"/><path class="a51" d="M4295 1002l18-4 13-14-18 5z"/><path class="a49" d="M4046 1018l19 11 15-12-18-12z"/><path class="a67" d="M4454 859l19-15 12-13-19 15z"/><path class="a24" d="M4887 1262l28-24 8-14-29 24z"/><path class="a47" d="M4117 1039l18 9 16-9-18-9z"/><path class="a63" d="M4412 903l18-14 12-16-18 15z"/><path class="a58" d="M4369 946l18-11 12-16-18 11z"/><path class="a59" d="M4636 914l19 34 10-11-18-34z"/><path class="a46" d="M4168 1045l18 5 15-10-18-4z"/><path class="a91" d="M4073 576l37 120 13-17-36-122z"/><path class="a33" d="M4939 1192l33-38 8-17-32 37z"/><path class="a50" d="M3995 1011l18 11 15-17-19-13z"/><path class="a54" d="M4645 961l19 34 10-12-19-35z"/><path class="a71" d="M4010 805l28 56 11-32-30-70z"/><path class="a54" d="M4326 984l17-6 13-17-18 8z"/><path class="a31" d="M4698 1176l19 31 9-8-18-32z"/><path class="a48" d="M4065 1029l18 11 16-11-19-12z"/><path class="a21" d="M4847 1291l25-9 7-9-25 10z"/><path class="a19" d="M4816 1299l23-1 8-7-23 2z"/><path class="a49" d="M4653 1008l19 35 10-13-18-35z"/><path class="a22" d="M4746 1265l20 19 8-5-19-19z"/><path class="a73" d="M4548 798l20 5 11-6-20-5z"/><path class="a67" d="M4608 841l20 29 10-8-19-28z"/><path class="a48" d="M3933 1039l15 4 15-19-16-5z"/><path class="a50" d="M3963 1024l17 6 15-19-18-8z"/><path class="a44" d="M4662 1056l19 33 9-12-18-34z"/><path class="a20" d="M4766 1284l21 13 8-5-21-13z"/><path class="a71" d="M4485 831l20-11 12-10-20 11z"/><path class="a50" d="M4013 1022l18 10 15-14-18-13z"/><path class="a76" d="M4019 759l30 70 12-31-33-84z"/><path class="a43" d="M4996 1103l31-29 8-14-31 26z"/><path class="a24" d="M4727 1241l19 24 9-5-19-25z"/><path class="a47" d="M4135 1048l18 7 15-10-17-6z"/><path class="a89" d="M4060 602l37 114 13-20-37-120z"/><path class="a73" d="M4517 810l20-4 11-8-20 4z"/><path class="a40" d="M4670 1101l19 33 10-11-18-34z"/><path class="a49" d="M4250 1030l18-1 13-14-17 3z"/><path class="a48" d="M4083 1040l18 10 16-11-18-10z"/><path class="a48" d="M4218 1041l18 1 14-12-17 0z"/><path class="a70" d="M4588 818l20 23 11-7-20-22z"/><path class="a72" d="M4568 803l20 15 11-6-20-15z"/><path class="a80" d="M4028 714l33 84 11-30-34-96z"/><path class="a51" d="M4281 1015l18-2 14-15-18 4z"/><path class="a62" d="M4399 919l19-13 12-17-18 14z"/><path class="a57" d="M4356 961l18-8 13-18-18 11z"/><path class="a63" d="M4617 880l19 34 11-11-19-33z"/><path class="a67" d="M4442 873l19-14 12-15-19 15z"/><path class="a87" d="M4048 634l36 106 13-24-37-114z"/><path class="a47" d="M4186 1050l18 3 14-12-17-1z"/><path class="a49" d="M4031 1032l18 10 16-13-19-11z"/><path class="a84" d="M4038 672l34 96 12-28-36-106z"/><path class="a50" d="M3980 1030l17 8 16-16-18-11z"/><path class="a32" d="M4931 1209l33-39 8-16-33 38z"/><path class="a20" d="M4787 1297l22 6 7-4-21-7z"/><path class="a28" d="M4708 1214l19 27 9-6-19-28z"/><path class="a35" d="M4679 1145l19 31 10-9-19-33z"/><path class="a59" d="M4626 925l19 36 10-13-19-34z"/><path class="a49" d="M3948 1043l17 4 15-17-17-6z"/><path class="a54" d="M4313 998l18-4 12-16-17 6z"/><path class="a47" d="M3916 1055l16 3 16-15-15-4z"/><path class="a25" d="M4879 1273l28-23 8-12-28 24z"/><path class="a47" d="M4101 1050l19 8 15-10-18-9z"/><path class="a54" d="M4634 974l19 34 11-13-19-34z"/><path class="a47" d="M4153 1055l18 5 15-10-18-5z"/><path class="a49" d="M4643 1022l19 34 10-13-19-35z"/><path class="a48" d="M4049 1042l18 9 16-11-18-11z"/><path class="a42" d="M4988 1120l32-31 7-15-31 29z"/><path class="a49" d="M3997 1038l18 8 16-14-18-10z"/><path class="a71" d="M4473 844l20-11 12-13-20 11z"/><path class="a68" d="M4597 850l20 30 11-10-20-29z"/><path class="a44" d="M4651 1069l19 32 11-12-19-33z"/><path class="a74" d="M4537 806l20 5 11-8-20-5z"/><path class="a61" d="M4387 935l18-11 13-18-19 13z"/><path class="a57" d="M4343 978l19-7 12-18-18 8z"/><path class="a32" d="M4689 1184l19 30 9-7-19-31z"/><path class="a66" d="M4430 889l19-13 12-17-19 14z"/><path class="a49" d="M4236 1042l18 1 14-14-18 1z"/><path class="a51" d="M4268 1029l18 0 13-16-18 2z"/><path class="a22" d="M4839 1298l25-8 8-8-25 9z"/><path class="a49" d="M3965 1047l17 6 15-15-17-8z"/><path class="a47" d="M4120 1058l18 7 15-10-18-7z"/><path class="a73" d="M4505 820l20-4 12-10-20 4z"/><path class="a48" d="M4204 1053l18 2 14-13-18-1z"/><path class="a40" d="M4660 1113l19 32 10-11-19-33z"/><path class="a48" d="M4067 1051l18 9 16-10-18-10z"/><path class="a64" d="M4606 892l20 33 10-11-19-34z"/><path class="a71" d="M4577 826l20 24 11-9-20-23z"/><path class="a48" d="M3932 1058l16 4 17-15-17-4z"/><path class="a32" d="M4923 1224l33-39 8-15-33 39z"/><path class="a21" d="M4809 1303l23 0 7-5-23 1z"/><path class="a49" d="M4015 1046l18 8 16-12-18-10z"/><path class="a73" d="M4557 811l20 15 11-8-20-15z"/><path class="a53" d="M4299 1013l18-2 14-17-18 4z"/><path class="a24" d="M4738 1269l20 18 8-3-20-19z"/><path class="a48" d="M4171 1060l18 4 15-11-18-3z"/><path class="a59" d="M4615 939l19 35 11-13-19-36z"/><path class="a47" d="M3899 1066l16 4 17-12-16-3z"/><path class="a27" d="M4718 1246l20 23 8-4-19-24z"/><path class="a54" d="M4623 988l20 34 10-14-19-34z"/><path class="a23" d="M4758 1287l22 13 7-3-21-13z"/><path class="a60" d="M4374 953l19-9 12-20-18 11z"/><path class="a42" d="M4980 1137l32-32 8-16-32 31z"/><path class="a36" d="M4669 1154l20 30 9-8-19-31z"/><path class="a49" d="M4632 1036l19 33 11-13-19-34z"/><path class="a56" d="M4331 994l18-5 13-18-19 7z"/><path class="a48" d="M4085 1060l19 8 16-10-19-8z"/><path class="a49" d="M3982 1053l17 7 16-14-18-8z"/><path class="a70" d="M4461 859l20-10 12-16-20 11z"/><path class="a26" d="M4872 1282l28-21 7-11-28 23z"/><path class="a65" d="M4418 906l19-12 12-18-19 13z"/><path class="a48" d="M4138 1065l18 6 15-11-18-5z"/><path class="a49" d="M4033 1054l18 9 16-12-18-9z"/><path class="a30" d="M4699 1220l19 26 9-5-19-27z"/><path class="a68" d="M4586 861l20 31 11-12-20-30z"/><path class="a45" d="M4641 1081l19 32 10-12-19-32z"/><path class="a74" d="M4525 816l20 6 12-11-20-5z"/><path class="a49" d="M3948 1062l17 5 17-14-17-6z"/><path class="a51" d="M4254 1043l18 1 14-15-18 0z"/><path class="a49" d="M4222 1055l18 2 14-14-18-1z"/><path class="a23" d="M4780 1300l22 7 7-4-22-6z"/><path class="a73" d="M4493 833l20-3 12-14-20 4z"/><path class="a52" d="M4286 1029l18-1 13-17-18 2z"/><path class="a48" d="M4189 1064l18 4 15-13-18-2z"/><path class="a64" d="M4595 905l20 34 11-14-20-33z"/><path class="a48" d="M3915 1070l16 5 17-13-16-4z"/><path class="a32" d="M4915 1238l33-39 8-14-33 39z"/><path class="a48" d="M4104 1068l18 8 16-11-18-7z"/><path class="a49" d="M3999 1060l18 7 16-13-18-8z"/><path class="a59" d="M4362 971l18-7 13-20-19 9z"/><path class="a49" d="M4051 1063l18 8 16-11-18-9z"/><path class="a71" d="M4566 837l20 24 11-11-20-24z"/><path class="a59" d="M4604 953l19 35 11-14-19-35z"/><path class="a41" d="M4650 1124l19 30 10-9-19-32z"/><path class="a73" d="M4545 822l21 15 11-11-20-15z"/><path class="a34" d="M4679 1192l20 28 9-6-19-30z"/><path class="a64" d="M4405 924l20-10 12-20-19 12z"/><path class="a55" d="M4317 1011l19-3 13-19-18 5z"/><path class="a54" d="M4612 1002l20 34 11-14-20-34z"/><path class="a48" d="M4156 1071l18 6 15-13-18-4z"/><path class="a69" d="M4449 876l20-10 12-17-20 10z"/><path class="a41" d="M4972 1154l32-34 8-15-32 32z"/><path class="a24" d="M4832 1303l25-6 7-7-25 8z"/><path class="a48" d="M3879 1073l17 7 19-10-16-4z"/><path class="a49" d="M4621 1050l20 31 10-12-19-33z"/><path class="a49" d="M3965 1067l17 6 17-13-17-7z"/><path class="a49" d="M4017 1067l17 7 17-11-18-9z"/><path class="a48" d="M4069 1071l18 8 17-11-19-8z"/><path class="a68" d="M4575 875l20 30 11-13-20-31z"/><path class="a48" d="M4122 1076l18 7 16-12-18-6z"/><path class="a50" d="M4240 1057l18 3 14-16-18-1z"/><path class="a74" d="M4513 830l21 5 11-13-20-6z"/><path class="a72" d="M4481 849l20-4 12-15-20 3z"/><path class="a24" d="M4802 1307l23 1 7-5-23 0z"/><path class="a58" d="M4349 989l19-5 12-20-18 7z"/><path class="a52" d="M4272 1044l19 1 13-17-18 1z"/><path class="a37" d="M4659 1164l20 28 10-8-20-30z"/><path class="a49" d="M3931 1075l17 5 17-13-17-5z"/><path class="a49" d="M4207 1068l19 4 14-15-18-2z"/><path class="a45" d="M4630 1094l20 30 10-11-19-32z"/><path class="a63" d="M4393 944l19-8 13-22-20 10z"/><path class="a27" d="M4864 1290l28-20 8-9-28 21z"/><path class="a27" d="M4730 1272l20 17 8-2-20-18z"/><path class="a63" d="M4584 920l20 33 11-14-20-34z"/><path class="a29" d="M4709 1250l21 22 8-3-20-23z"/><path class="a68" d="M4437 894l20-8 12-20-20 10z"/><path class="a54" d="M4304 1028l19-1 13-19-19 3z"/><path class="a49" d="M4174 1077l18 5 15-14-18-4z"/><path class="a58" d="M4592 969l20 33 11-14-19-35z"/><path class="a71" d="M4554 851l21 24 11-14-20-24z"/><path class="a25" d="M4750 1289l22 13 8-2-22-13z"/><path class="a49" d="M3982 1073l18 7 17-13-18-7z"/><path class="a73" d="M4534 835l20 16 12-14-21-15z"/><path class="a48" d="M3896 1080l17 6 18-11-16-5z"/><path class="a33" d="M4907 1250l33-38 8-13-33 39z"/><path class="a53" d="M4601 1018l20 32 11-14-20-34z"/><path class="a49" d="M4034 1074l19 8 16-11-18-8z"/><path class="a48" d="M4087 1079l19 8 16-11-18-8z"/><path class="a41" d="M4964 1170l33-35 7-15-32 34z"/><path class="a32" d="M4689 1226l20 24 9-4-19-26z"/><path class="a48" d="M4140 1083l19 7 15-13-18-6z"/><path class="a41" d="M4639 1136l20 28 10-10-19-30z"/><path class="a57" d="M4336 1008l19-3 13-21-19 5z"/><path class="a62" d="M4380 964l20-7 12-21-19 8z"/><path class="a49" d="M4610 1064l20 30 11-13-20-31z"/><path class="a49" d="M3948 1080l17 6 17-13-17-6z"/><path class="a72" d="M4469 866l20-2 12-19-20 4z"/><path class="a67" d="M4563 890l21 30 11-15-20-30z"/><path class="a67" d="M4425 914l19-6 13-22-20 8z"/><path class="a73" d="M4501 845l21 6 12-16-21-5z"/><path class="a51" d="M4258 1060l19 2 14-17-19-1z"/><path class="a25" d="M4772 1302l22 7 8-2-22-7z"/><path class="a50" d="M4226 1072l18 4 14-16-18-3z"/><path class="a35" d="M4669 1200l20 26 10-6-20-28z"/><path class="a49" d="M4000 1080l18 7 16-13-17-7z"/><path class="a53" d="M4291 1045l18 0 14-18-19 1z"/><path class="a63" d="M4572 937l20 32 12-16-20-33z"/><path class="a49" d="M4192 1082l19 5 15-15-19-4z"/><path class="a49" d="M4053 1082l18 8 16-11-18-8z"/><path class="a48" d="M4106 1087l18 8 16-12-18-7z"/><path class="a49" d="M3858 1075l18 11 20-6-17-7z"/><path class="a49" d="M3913 1086l17 6 18-12-17-5z"/><path class="a58" d="M4581 986l20 32 11-16-20-33z"/><path class="a45" d="M4619 1107l20 29 11-12-20-30z"/><path class="a71" d="M4543 866l20 24 12-15-21-24z"/><path class="a73" d="M4522 851l21 15 11-15-20-16z"/><path class="a60" d="M4368 984l19-4 13-23-20 7z"/><path class="a26" d="M4825 1308l25-6 7-5-25 6z"/><path class="a49" d="M4159 1090l18 6 15-14-18-5z"/><path class="a56" d="M4323 1027l19-2 13-20-19 3z"/><path class="a53" d="M4590 1034l20 30 11-14-20-32z"/><path class="a39" d="M4649 1173l20 27 10-8-20-28z"/><path class="a66" d="M4412 936l20-6 12-22-19 6z"/><path class="a70" d="M4457 886l20-2 12-20-20 2z"/><path class="a49" d="M3965 1086l18 6 17-12-18-7z"/><path class="a41" d="M4956 1185l33-35 8-15-33 35z"/><path class="a28" d="M4857 1297l28-18 7-9-28 20z"/><path class="a33" d="M4900 1261l32-36 8-13-33 38z"/><path class="a49" d="M4018 1087l18 7 17-12-19-8z"/><path class="a73" d="M4489 864l21 6 12-19-21-6z"/><path class="a67" d="M4551 908l21 29 12-17-21-30z"/><path class="a49" d="M4071 1090l18 8 17-11-19-8z"/><path class="a49" d="M3876 1086l18 9 19-9-17-6z"/><path class="a49" d="M4124 1095l19 8 16-13-19-7z"/><path class="a51" d="M4244 1076l19 4 14-18-19-2z"/><path class="a49" d="M4599 1079l20 28 11-13-20-30z"/><path class="a26" d="M4794 1309l24 2 7-3-23-1z"/><path class="a53" d="M4277 1062l19 2 13-19-18 0z"/><path class="a50" d="M4211 1087l19 6 14-17-18-4z"/><path class="a49" d="M3930 1092l18 7 17-13-17-6z"/><path class="a62" d="M4560 955l21 31 11-17-20-32z"/><path class="a59" d="M4355 1005l19-3 13-22-19 4z"/><path class="a42" d="M4628 1147l21 26 10-9-20-28z"/><path class="a29" d="M4721 1275l21 17 8-3-20-17z"/><path class="a31" d="M4700 1255l21 20 9-3-21-22z"/><path class="a64" d="M4400 957l19-3 13-24-20 6z"/><path class="a57" d="M4569 1004l21 30 11-16-20-32z"/><path class="a69" d="M4444 908l21-2 12-22-20 2z"/><path class="a70" d="M4531 885l20 23 12-18-20-24z"/><path class="a49" d="M4177 1096l19 7 15-16-19-5z"/><path class="a72" d="M4510 870l21 15 12-19-21-15z"/><path class="a55" d="M4309 1045l20 1 13-21-19 2z"/><path class="a50" d="M3983 1092l18 7 17-12-18-7z"/><path class="a34" d="M4679 1232l21 23 9-5-20-24z"/><path class="a28" d="M4742 1292l22 12 8-2-22-13z"/><path class="a49" d="M4036 1094l18 8 17-12-18-8z"/><path class="a49" d="M4089 1098l19 9 16-12-18-8z"/><path class="a71" d="M4477 884l21 6 12-20-21-6z"/><path class="a53" d="M4578 1051l21 28 11-15-20-30z"/><path class="a49" d="M3894 1095l18 9 18-12-17-6z"/><path class="a46" d="M4608 1121l20 26 11-11-20-29z"/><path class="a49" d="M4143 1103l19 8 15-15-18-6z"/><path class="a66" d="M4540 927l20 28 12-18-21-29z"/><path class="a37" d="M4659 1207l20 25 10-6-20-26z"/><path class="a58" d="M4342 1025l19-1 13-22-19 3z"/><path class="a62" d="M4387 980l20-2 12-24-19 3z"/><path class="a41" d="M4948 1199l33-35 8-14-33 35z"/><path class="a50" d="M3948 1099l17 7 18-14-18-6z"/><path class="a67" d="M4432 930l20 0 13-24-21 2z"/><path class="a50" d="M4230 1093l19 5 14-18-19-4z"/><path class="a52" d="M4263 1080l19 4 14-20-19-2z"/><path class="a61" d="M4548 975l21 29 12-18-21-31z"/><path class="a71" d="M4498 890l21 15 12-20-21-15z"/><path class="a69" d="M4519 905l21 22 11-19-20-23z"/><path class="a50" d="M4001 1099l18 8 17-13-18-7z"/><path class="a49" d="M4196 1103l19 7 15-17-19-6z"/><path class="a28" d="M4764 1304l23 8 7-3-22-7z"/><path class="a54" d="M4296 1064l19 2 14-20-20-1z"/><path class="a49" d="M4587 1094l21 27 11-14-20-28z"/><path class="a40" d="M4638 1183l21 24 10-7-20-27z"/><path class="a52" d="M3834 1070l21 19 21-3-18-11z"/><path class="a49" d="M4054 1102l19 9 16-13-18-8z"/><path class="a49" d="M4108 1107l19 9 16-13-19-8z"/><path class="a57" d="M4557 1022l21 29 12-17-21-30z"/><path class="a70" d="M4465 906l20 7 13-23-21-6z"/><path class="a34" d="M4892 1270l32-33 8-12-32 36z"/><path class="a50" d="M3912 1104l18 8 18-13-18-7z"/><path class="a61" d="M4374 1002l20 0 13-24-20 2z"/><path class="a49" d="M4162 1111l19 7 15-15-19-7z"/><path class="a66" d="M4419 954l21 1 12-25-20 0z"/><path class="a28" d="M4818 1311l25-4 7-5-25 6z"/><path class="a56" d="M4329 1046l19 1 13-23-19 1z"/><path class="a65" d="M4527 948l21 27 12-20-20-28z"/><path class="a51" d="M3855 1089l19 14 20-8-18-9z"/><path class="a30" d="M4850 1302l28-15 7-8-28 18z"/><path class="a43" d="M4617 1158l21 25 11-10-21-26z"/><path class="a50" d="M3965 1106l18 7 18-14-18-7z"/><path class="a53" d="M4566 1068l21 26 12-15-21-28z"/><path class="a69" d="M4485 913l21 14 13-22-21-15z"/><path class="a60" d="M4536 995l21 27 12-18-21-29z"/><path class="a68" d="M4506 927l21 21 13-21-21-22z"/><path class="a50" d="M4019 1107l18 8 17-13-18-8z"/><path class="a68" d="M4452 930l21 7 12-24-20-7z"/><path class="a51" d="M4249 1098l19 5 14-19-19-4z"/><path class="a49" d="M4073 1111l19 9 16-13-19-9z"/><path class="a49" d="M4127 1116l19 9 16-14-19-8z"/><path class="a50" d="M4215 1110l20 6 14-18-19-5z"/><path class="a53" d="M4282 1084l20 3 13-21-19-2z"/><path class="a46" d="M4596 1134l21 24 11-11-20-26z"/><path class="a64" d="M4407 978l20 1 13-24-21-1z"/><path class="a59" d="M4361 1024l20 1 13-23-20 0z"/><path class="a41" d="M4940 1212l33-33 8-15-33 35z"/><path class="a50" d="M3874 1103l19 11 19-10-18-9z"/><path class="a50" d="M3930 1112l18 8 17-14-17-7z"/><path class="a29" d="M4787 1312l23 3 8-4-24-2z"/><path class="a56" d="M4545 1042l21 26 12-17-21-29z"/><path class="a49" d="M4181 1118l20 8 14-16-19-7z"/><path class="a34" d="M4691 1259l21 19 9-3-21-20z"/><path class="a55" d="M4315 1066l20 3 13-22-19-1z"/><path class="a63" d="M4515 970l21 25 12-20-21-27z"/><path class="a32" d="M4712 1278l22 16 8-2-21-17z"/><path class="a36" d="M4669 1238l22 21 9-4-21-23z"/><path class="a68" d="M4473 937l21 13 12-23-21-14z"/><path class="a50" d="M3983 1113l19 8 17-14-18-8z"/><path class="a49" d="M4575 1110l21 24 12-13-21-27z"/><path class="a66" d="M4440 955l20 6 13-24-21-7z"/><path class="a66" d="M4494 950l21 20 12-22-21-21z"/><path class="a50" d="M4037 1115l19 9 17-13-19-9z"/><path class="a62" d="M4394 1002l20 2 13-25-20-1z"/><path class="a38" d="M4648 1215l21 23 10-6-20-25z"/><path class="a49" d="M4092 1120l19 9 16-13-19-9z"/><path class="a49" d="M4146 1125l20 9 15-16-19-7z"/><path class="a59" d="M4524 1016l21 26 12-20-21-27z"/><path class="a31" d="M4734 1294l22 12 8-2-22-12z"/><path class="a58" d="M4348 1047l20 2 13-24-20-1z"/><path class="a50" d="M3893 1114l18 10 19-12-18-8z"/><path class="a52" d="M4554 1085l21 25 12-16-21-26z"/><path class="a50" d="M4235 1116l19 7 14-20-19-5z"/><path class="a41" d="M4627 1193l21 22 11-8-21-24z"/><path class="a52" d="M4268 1103l20 6 14-22-20-3z"/><path class="a35" d="M4885 1279l32-30 7-12-32 33z"/><path class="a50" d="M3948 1120l18 8 17-15-18-7z"/><path class="a64" d="M4427 979l21 7 12-25-20-6z"/><path class="a66" d="M4460 961l21 14 13-25-21-13z"/><path class="a49" d="M4201 1126l19 9 15-19-20-6z"/><path class="a62" d="M4503 993l21 23 12-21-21-25z"/><path class="a54" d="M4302 1087l19 4 14-22-20-3z"/><path class="a44" d="M4606 1170l21 23 11-10-21-25z"/><path class="a60" d="M4381 1025l20 4 13-25-20-2z"/><path class="a50" d="M4002 1121l18 8 17-14-18-8z"/><path class="a64" d="M4481 975l22 18 12-23-21-20z"/><path class="a55" d="M4533 1061l21 24 12-17-21-26z"/><path class="a49" d="M4111 1129l19 10 16-14-19-9z"/><path class="a50" d="M4056 1124l19 9 17-13-19-9z"/><path class="a31" d="M4756 1306l23 8 8-2-23-8z"/><path class="a56" d="M4335 1069l20 4 13-24-20-2z"/><path class="a49" d="M4166 1134l19 9 16-17-20-8z"/><path class="a47" d="M4585 1148l21 22 11-12-21-24z"/><path class="a50" d="M3911 1124l19 10 18-14-18-8z"/><path class="a41" d="M4932 1225l33-31 8-15-33 33z"/><path class="a62" d="M4414 1004l21 8 13-26-21-7z"/><path class="a58" d="M4512 1038l21 23 12-19-21-26z"/><path class="a64" d="M4448 986l21 13 12-24-21-14z"/><path class="a32" d="M4843 1307l27-12 8-8-28 15z"/><path class="a53" d="M3830 1086l22 21 22-4-19-14z"/><path class="a31" d="M4810 1315l26-3 7-5-25 4z"/><path class="a55" d="M3806 1057l24 29 25 3-21-19z"/><path class="a49" d="M4563 1125l22 23 11-14-21-24z"/><path class="a50" d="M3966 1128l18 8 18-15-19-8z"/><path class="a51" d="M4254 1123l20 7 14-21-20-6z"/><path class="a61" d="M4490 1017l22 21 12-22-21-23z"/><path class="a58" d="M4368 1049l20 5 13-25-20-4z"/><path class="a63" d="M4469 999l21 18 13-24-22-18z"/><path class="a50" d="M4220 1135l20 8 14-20-19-7z"/><path class="a51" d="M3852 1107l21 16 20-9-19-11z"/><path class="a52" d="M4288 1109l20 5 13-23-19-4z"/><path class="a50" d="M4020 1129l19 9 17-14-19-9z"/><path class="a52" d="M4542 1103l21 22 12-15-21-25z"/><path class="a50" d="M4075 1133l19 10 17-14-19-9z"/><path class="a49" d="M4130 1139l20 10 16-15-20-9z"/><path class="a61" d="M4401 1029l21 8 13-25-21-8z"/><path class="a54" d="M4321 1091l21 5 13-23-20-4z"/><path class="a62" d="M4435 1012l21 12 13-25-21-13z"/><path class="a49" d="M4185 1143l20 9 15-17-19-9z"/><path class="a54" d="M4521 1081l21 22 12-18-21-24z"/><path class="a50" d="M3930 1134l18 9 18-15-18-8z"/><path class="a51" d="M3873 1123l19 14 19-13-18-10z"/><path class="a38" d="M4659 1244l22 20 10-5-22-21z"/><path class="a36" d="M4681 1264l22 18 9-4-21-19z"/><path class="a57" d="M4499 1060l22 21 12-20-21-23z"/><path class="a57" d="M4355 1073l20 5 13-24-20-5z"/><path class="a32" d="M4779 1314l24 4 7-3-23-3z"/><path class="a61" d="M4456 1024l22 16 12-23-21-18z"/><path class="a40" d="M4638 1224l21 20 10-6-21-23z"/><path class="a50" d="M3984 1136l19 9 17-16-18-8z"/><path class="a59" d="M4478 1040l21 20 13-22-22-21z"/><path class="a34" d="M4703 1282l22 15 9-3-22-16z"/><path class="a42" d="M4616 1203l22 21 10-9-21-22z"/><path class="a49" d="M4094 1143l20 10 16-14-19-10z"/><path class="a36" d="M4878 1287l31-27 8-11-32 30z"/><path class="a50" d="M4039 1138l19 10 17-15-19-9z"/><path class="a49" d="M4150 1149l20 10 15-16-19-9z"/><path class="a59" d="M4388 1054l21 8 13-25-21-8z"/><path class="a51" d="M4274 1130l20 7 14-23-20-5z"/><path class="a50" d="M4240 1143l20 8 14-21-20-7z"/><path class="a60" d="M4422 1037l21 11 13-24-21-12z"/><path class="a45" d="M4595 1182l21 21 11-10-21-23z"/><path class="a53" d="M4308 1114l20 6 14-24-21-5z"/><path class="a50" d="M3892 1137l19 11 19-14-19-10z"/><path class="a47" d="M4573 1162l22 20 11-12-21-22z"/><path class="a49" d="M4205 1152l20 9 15-18-20-8z"/><path class="a42" d="M4924 1237l33-29 8-14-33 31z"/><path class="a50" d="M3948 1143l19 9 17-16-18-8z"/><path class="a49" d="M4551 1141l22 21 12-14-22-23z"/><path class="a34" d="M4725 1297l22 12 9-3-22-12z"/><path class="a55" d="M4342 1096l20 7 13-25-20-5z"/><path class="a59" d="M4443 1048l22 16 13-24-22-16z"/><path class="a52" d="M4530 1121l21 20 12-16-21-22z"/><path class="a54" d="M4508 1101l22 20 12-18-21-22z"/><path class="a50" d="M4003 1145l19 9 17-16-19-9z"/><path class="a58" d="M4465 1064l21 17 13-21-21-20z"/><path class="a56" d="M4486 1081l22 20 13-20-22-21z"/><path class="a57" d="M4375 1078l21 8 13-24-21-8z"/><path class="a49" d="M4114 1153l20 10 16-14-20-10z"/><path class="a50" d="M4058 1148l20 10 16-15-19-10z"/><path class="a59" d="M4409 1062l22 11 12-25-21-11z"/><path class="a49" d="M4170 1159l20 10 15-17-20-9z"/><path class="a50" d="M4260 1151l20 8 14-22-20-7z"/><path class="a50" d="M3911 1148l19 11 18-16-18-9z"/><path class="a52" d="M4294 1137l21 7 13-24-20-6z"/><path class="a34" d="M4836 1312l27-10 7-7-27 12z"/><path class="a49" d="M4225 1161l20 10 15-20-20-8z"/><path class="a33" d="M4747 1309l24 9 8-4-23-8z"/><path class="a50" d="M3967 1152l19 9 17-16-19-9z"/><path class="a53" d="M4328 1120l21 8 13-25-20-7z"/><path class="a58" d="M4431 1073l21 14 13-23-22-16z"/><path class="a53" d="M3828 1107l23 23 22-7-21-16z"/><path class="a33" d="M4803 1318l25 0 8-6-26 3z"/><path class="a55" d="M4362 1103l21 8 13-25-21-8z"/><path class="a50" d="M4022 1154l19 9 17-15-19-10z"/><path class="a57" d="M4396 1086l21 11 14-24-22-11z"/><path class="a52" d="M3851 1130l21 18 20-11-19-14z"/><path class="a49" d="M4134 1163l20 11 16-15-20-10z"/><path class="a49" d="M4078 1158l19 10 17-15-20-10z"/><path class="a56" d="M3803 1075l25 32 24 0-22-21z"/><path class="a56" d="M4452 1087l22 16 12-22-21-17z"/><path class="a49" d="M4190 1169l20 10 15-18-20-9z"/><path class="a55" d="M4474 1103l21 18 13-20-22-20z"/><path class="a50" d="M3930 1159l19 10 18-17-19-9z"/><path class="a53" d="M4495 1121l22 18 13-18-22-20z"/><path class="a51" d="M4517 1139l22 19 12-17-21-20z"/><path class="a49" d="M4539 1158l22 18 12-14-22-21z"/><path class="a50" d="M4280 1159l21 9 14-24-21-7z"/><path class="a47" d="M4561 1176l22 19 12-13-22-20z"/><path class="a51" d="M3872 1148l20 14 19-14-19-11z"/><path class="a45" d="M4583 1195l22 19 11-11-21-21z"/><path class="a44" d="M4605 1214l22 19 11-9-22-21z"/><path class="a42" d="M4627 1233l21 19 11-8-21-20z"/><path class="a40" d="M4648 1252l23 18 10-6-22-20z"/><path class="a49" d="M4245 1171l21 9 14-21-20-8z"/><path class="a52" d="M4315 1144l20 9 14-25-21-8z"/><path class="a38" d="M4870 1295l31-23 8-12-31 27z"/><path class="a42" d="M4917 1249l31-26 9-15-33 29z"/><path class="a56" d="M4417 1097l22 13 13-23-21-14z"/><path class="a50" d="M3986 1161l19 9 17-16-19-9z"/><path class="a38" d="M4671 1270l22 17 10-5-22-18z"/><path class="a54" d="M4349 1128l21 8 13-25-21-8z"/><path class="a55" d="M4383 1111l21 11 13-25-21-11z"/><path class="a50" d="M4041 1163l20 10 17-15-20-10z"/><path class="a49" d="M4154 1174l20 10 16-15-20-10z"/><path class="a49" d="M4097 1168l20 10 17-15-20-10z"/><path class="a34" d="M4771 1318l24 5 8-5-24-4z"/><path class="a48" d="M4210 1179l20 10 15-18-20-10z"/><path class="a60" d="M3772 1029l31 46 27 11-24-29z"/><path class="a37" d="M4693 1287l22 14 10-4-22-15z"/><path class="a55" d="M4439 1110l22 15 13-22-22-16z"/><path class="a50" d="M3892 1162l20 13 18-16-19-11z"/><path class="a50" d="M3949 1169l19 10 18-18-19-9z"/><path class="a54" d="M4461 1125l22 16 12-20-21-18z"/><path class="a50" d="M4301 1168l21 9 13-24-20-9z"/><path class="a49" d="M4266 1180l21 10 14-22-21-9z"/><path class="a55" d="M4404 1122l22 12 13-24-22-13z"/><path class="a50" d="M4005 1170l19 10 17-17-19-9z"/><path class="a52" d="M4335 1153l21 8 14-25-21-8z"/><path class="a52" d="M4483 1141l21 17 13-19-22-18z"/><path class="a53" d="M4370 1136l21 10 13-24-21-11z"/><path class="a36" d="M4715 1301l23 12 9-4-22-12z"/><path class="a48" d="M4174 1184l20 11 16-16-20-10z"/><path class="a49" d="M4117 1178l20 11 17-15-20-11z"/><path class="a50" d="M4061 1173l19 10 17-15-19-10z"/><path class="a51" d="M4504 1158l22 16 13-16-22-19z"/><path class="a48" d="M4230 1189l21 10 15-19-21-9z"/><path class="a50" d="M3912 1175l20 11 17-17-19-10z"/><path class="a49" d="M4526 1174l22 17 13-15-22-18z"/><path class="a54" d="M4426 1134l22 13 13-22-22-15z"/><path class="a50" d="M3968 1179l19 9 18-18-19-9z"/><path class="a36" d="M4828 1318l27-8 8-8-27 10z"/><path class="a48" d="M4548 1191l23 17 12-13-22-19z"/><path class="a53" d="M4391 1146l21 12 14-24-22-12z"/><path class="a50" d="M4322 1177l21 9 13-25-21-8z"/><path class="a50" d="M4024 1180l20 10 17-17-20-10z"/><path class="a46" d="M4571 1208l22 17 12-11-22-19z"/><path class="a49" d="M4287 1190l20 9 15-22-21-9z"/><path class="a52" d="M4356 1161l21 10 14-25-21-10z"/><path class="a43" d="M4909 1260l31-22 8-15-31 26z"/><path class="a48" d="M4194 1195l21 10 15-16-20-10z"/><path class="a53" d="M4448 1147l21 15 14-21-22-16z"/><path class="a49" d="M4137 1189l21 10 16-15-20-10z"/><path class="a49" d="M4080 1183l20 11 17-16-20-10z"/><path class="a36" d="M4738 1313l24 9 9-4-24-9z"/><path class="a36" d="M4795 1323l25 1 8-6-25 0z"/><path class="a45" d="M4593 1225l22 18 12-10-22-19z"/><path class="a49" d="M3932 1186l19 11 17-18-19-10z"/><path class="a48" d="M4251 1199l21 10 15-19-21-10z"/><path class="a43" d="M4615 1243l22 17 11-8-21-19z"/><path class="a39" d="M4863 1302l30-18 8-12-31 23z"/><path class="a52" d="M4469 1162l22 15 13-19-21-17z"/><path class="a41" d="M4637 1260l23 17 11-7-23-18z"/><path class="a50" d="M3987 1188l20 9 17-17-19-10z"/><path class="a52" d="M4412 1158l22 12 14-23-22-13z"/><path class="a50" d="M4491 1177l23 15 12-18-22-16z"/><path class="a52" d="M4377 1171l22 11 13-24-21-12z"/><path class="a50" d="M4044 1190l19 9 17-16-19-10z"/><path class="a40" d="M4660 1277l23 15 10-5-22-17z"/><path class="a50" d="M4343 1186l21 9 13-24-21-10z"/><path class="a48" d="M4215 1205l21 11 15-17-21-10z"/><path class="a49" d="M4158 1199l20 11 16-15-20-11z"/><path class="a49" d="M4307 1199l21 10 15-23-21-9z"/><path class="a49" d="M4100 1194l20 10 17-15-20-11z"/><path class="a49" d="M3951 1197l19 9 17-18-19-9z"/><path class="a48" d="M4272 1209l21 10 14-20-20-9z"/><path class="a52" d="M4434 1170l22 13 13-21-21-15z"/><path class="a49" d="M4514 1192l22 15 12-16-22-17z"/><path class="a37" d="M4762 1322l24 6 9-5-24-5z"/><path class="a39" d="M4683 1292l23 14 9-5-22-14z"/><path class="a50" d="M4007 1197l19 10 18-17-20-10z"/><path class="a48" d="M4536 1207l22 15 13-14-23-17z"/><path class="a51" d="M4399 1182l22 11 13-23-22-12z"/><path class="a48" d="M4178 1210l21 11 16-16-21-10z"/><path class="a51" d="M4456 1183l22 13 13-19-22-15z"/><path class="a48" d="M4236 1216l21 11 15-18-21-10z"/><path class="a49" d="M4063 1199l20 10 17-15-20-11z"/><path class="a50" d="M4364 1195l21 10 14-23-22-11z"/><path class="a49" d="M4120 1204l21 10 17-15-21-10z"/><path class="a49" d="M4328 1209l22 9 14-23-21-9z"/><path class="a47" d="M4558 1222l23 16 12-13-22-17z"/><path class="a44" d="M4901 1272l30-19 9-15-31 22z"/><path class="a39" d="M4706 1306l23 11 9-4-23-12z"/><path class="a49" d="M3970 1206l19 10 18-19-20-9z"/><path class="a48" d="M4293 1219l21 10 14-20-21-10z"/><path class="a38" d="M4820 1324l27-5 8-9-27 8z"/><path class="a50" d="M4478 1196l23 13 13-17-23-15z"/><path class="a46" d="M4581 1238l22 15 12-10-22-18z"/><path class="a51" d="M4421 1193l22 11 13-21-22-13z"/><path class="a50" d="M4026 1207l20 9 17-17-19-9z"/><path class="a48" d="M4199 1221l21 11 16-16-21-11z"/><path class="a48" d="M4257 1227l21 10 15-18-21-10z"/><path class="a44" d="M4603 1253l23 16 11-9-22-17z"/><path class="a49" d="M4141 1214l20 11 17-15-20-11z"/><path class="a49" d="M4083 1209l20 10 17-15-20-10z"/><path class="a50" d="M4385 1205l22 10 14-22-22-11z"/><path class="a40" d="M4855 1310l29-14 9-12-30 18z"/><path class="a49" d="M4501 1209l22 14 13-16-22-15z"/><path class="a49" d="M4350 1218l21 9 14-22-21-10z"/><path class="a38" d="M4786 1328l26 2 8-6-25-1z"/><path class="a39" d="M4729 1317l24 10 9-5-24-9z"/><path class="a43" d="M4626 1269l23 15 11-7-23-17z"/><path class="a50" d="M4443 1204l22 12 13-20-22-13z"/><path class="a49" d="M3989 1216l20 8 17-17-19-10z"/><path class="a48" d="M4314 1229l21 9 15-20-22-9z"/><path class="a48" d="M4523 1223l23 14 12-15-22-15z"/><path class="a48" d="M4220 1232l21 10 16-15-21-11z"/><path class="a49" d="M4046 1216l20 9 17-16-20-10z"/><path class="a42" d="M4649 1284l23 14 11-6-23-15z"/><path class="a49" d="M4161 1225l21 10 17-14-21-11z"/><path class="a50" d="M4407 1215l22 10 14-21-22-11z"/><path class="a49" d="M4103 1219l21 10 17-15-21-10z"/><path class="a48" d="M4278 1237l21 10 15-18-21-10z"/><path class="a50" d="M4465 1216l22 12 14-19-23-13z"/><path class="a49" d="M4371 1227l22 9 14-21-22-10z"/><path class="a47" d="M4546 1237l22 13 13-12-23-16z"/><path class="a44" d="M4893 1284l30-16 8-15-30 19z"/><path class="a41" d="M4672 1298l24 14 10-6-23-14z"/><path class="a49" d="M4009 1224l19 9 18-17-20-9z"/><path class="a48" d="M4335 1238l22 9 14-20-21-9z"/><path class="a39" d="M4753 1327l25 7 8-6-24-6z"/><path class="a48" d="M4241 1242l21 11 16-16-21-10z"/><path class="a49" d="M4429 1225l22 10 14-19-22-12z"/><path class="a48" d="M4182 1235l21 11 17-14-21-11z"/><path class="a49" d="M4066 1225l20 10 17-16-20-10z"/><path class="a47" d="M4568 1250l23 14 12-11-22-15z"/><path class="a49" d="M4487 1228l23 12 13-17-22-14z"/><path class="a49" d="M4124 1229l20 10 17-14-20-11z"/><path class="a48" d="M4299 1247l21 9 15-18-21-9z"/><path class="a49" d="M4393 1236l22 9 14-20-22-10z"/><path class="a41" d="M4696 1312l23 11 10-6-23-11z"/><path class="a40" d="M4812 1330l26-2 9-9-27 5z"/><path class="a46" d="M4591 1264l23 15 12-10-23-16z"/><path class="a42" d="M4847 1319l29-11 8-12-29 14z"/><path class="a49" d="M4028 1233l20 9 18-17-20-9z"/><path class="a49" d="M4510 1240l23 12 13-15-23-14z"/><path class="a48" d="M4357 1247l22 9 14-20-22-9z"/><path class="a49" d="M4451 1235l23 11 13-18-22-12z"/><path class="a48" d="M4262 1253l21 10 16-16-21-10z"/><path class="a48" d="M4203 1246l21 11 17-15-21-10z"/><path class="a49" d="M4086 1235l20 10 18-16-21-10z"/><path class="a49" d="M4144 1239l21 11 17-15-21-10z"/><path class="a45" d="M4614 1279l24 13 11-8-23-15z"/><path class="a40" d="M4778 1334l25 4 9-8-26-2z"/><path class="a48" d="M4320 1256l22 9 15-18-22-9z"/><path class="a49" d="M4415 1245l22 10 14-20-22-10z"/><path class="a41" d="M4719 1323l25 10 9-6-24-10z"/><path class="a48" d="M4533 1252l23 12 12-14-22-13z"/><path class="a45" d="M4884 1296l30-12 9-16-30 16z"/><path class="a49" d="M4474 1246l22 10 14-16-23-12z"/><path class="a44" d="M4638 1292l23 14 11-8-23-14z"/><path class="a50" d="M4048 1242l20 9 18-16-20-10z"/><path class="a48" d="M4224 1257l22 10 16-14-21-11z"/><path class="a48" d="M4379 1256l22 8 14-19-22-9z"/><path class="a48" d="M4283 1263l22 9 15-16-21-9z"/><path class="a49" d="M4165 1250l21 10 17-14-21-11z"/><path class="a49" d="M4106 1245l21 9 17-15-20-10z"/><path class="a47" d="M4556 1264l23 12 12-12-23-14z"/><path class="a48" d="M4342 1265l22 9 15-18-22-9z"/><path class="a49" d="M4437 1255l23 9 14-18-23-11z"/><path class="a43" d="M4661 1306l24 12 11-6-24-14z"/><path class="a49" d="M4496 1256l23 11 14-15-23-12z"/><path class="a41" d="M4744 1333l24 8 10-7-25-7z"/><path class="a48" d="M4246 1267l21 10 16-14-21-10z"/><path class="a50" d="M4068 1251l20 9 18-15-20-10z"/><path class="a47" d="M4579 1276l23 13 12-10-23-15z"/><path class="a49" d="M4186 1260l21 11 17-14-21-11z"/><path class="a49" d="M4401 1264l22 9 14-18-22-10z"/><path class="a49" d="M4127 1254l21 10 17-14-21-11z"/><path class="a48" d="M4305 1272l22 9 15-16-22-9z"/><path class="a43" d="M4838 1328l29-7 9-13-29 11z"/><path class="a42" d="M4803 1338l27 1 8-11-26 2z"/><path class="a43" d="M4685 1318l24 11 10-6-23-11z"/><path class="a49" d="M4460 1264l23 9 13-17-22-10z"/><path class="a48" d="M4519 1267l24 11 13-14-23-12z"/><path class="a48" d="M4364 1274l22 8 15-18-22-8z"/><path class="a46" d="M4602 1289l24 12 12-9-24-13z"/><path class="a46" d="M4876 1308l29-8 9-16-30 12z"/><path class="a48" d="M4267 1277l22 10 16-15-22-9z"/><path class="a49" d="M4207 1271l22 10 17-14-22-10z"/><path class="a50" d="M4088 1260l21 9 18-15-21-9z"/><path class="a49" d="M4148 1264l21 10 17-14-21-10z"/><path class="a42" d="M4768 1341l26 6 9-9-25-4z"/><path class="a49" d="M4423 1273l23 9 14-18-23-9z"/><path class="a48" d="M4327 1281l22 9 15-16-22-9z"/><path class="a43" d="M4709 1329l25 10 10-6-25-10z"/><path class="a48" d="M4543 1278l23 11 13-13-23-12z"/><path class="a46" d="M4626 1301l24 12 11-7-23-14z"/><path class="a49" d="M4483 1273l23 10 13-16-23-11z"/><path class="a48" d="M4386 1282l23 8 14-17-22-9z"/><path class="a49" d="M4229 1281l22 10 16-14-21-10z"/><path class="a48" d="M4289 1287l22 10 16-16-22-9z"/><path class="a49" d="M4169 1274l21 10 17-13-21-11z"/><path class="a50" d="M4109 1269l20 9 19-14-21-10z"/><path class="a49" d="M4446 1282l23 8 14-17-23-9z"/><path class="a48" d="M4566 1289l24 11 12-11-23-13z"/><path class="a45" d="M4650 1313l24 12 11-7-24-12z"/><path class="a48" d="M4349 1290l22 9 15-17-22-8z"/><path class="a44" d="M4830 1339l27-4 10-14-29 7z"/><path class="a43" d="M4734 1339l25 9 9-7-24-8z"/><path class="a49" d="M4506 1283l23 10 14-15-24-11z"/><path class="a43" d="M4794 1347l26 3 10-11-27-1z"/><path class="a46" d="M4867 1321l28-5 10-16-29 8z"/><path class="a49" d="M4409 1290l22 9 15-17-23-9z"/><path class="a49" d="M4251 1291l22 11 16-15-22-10z"/><path class="a49" d="M4190 1284l22 10 17-13-22-10z"/><path class="a48" d="M4311 1297l22 9 16-16-22-9z"/><path class="a50" d="M4129 1278l21 9 19-13-21-10z"/><path class="a48" d="M4590 1300l24 11 12-10-24-12z"/><path class="a45" d="M4674 1325l25 11 10-7-24-11z"/><path class="a49" d="M4469 1290l23 9 14-16-23-10z"/><path class="a49" d="M4371 1299l23 9 15-18-23-8z"/><path class="a49" d="M4529 1293l24 9 13-13-23-11z"/><path class="a44" d="M4759 1348l25 8 10-9-26-6z"/><path class="a49" d="M4273 1302l22 10 16-15-22-10z"/><path class="a49" d="M4431 1299l24 9 14-18-23-8z"/><path class="a47" d="M4614 1311l24 11 12-9-24-12z"/><path class="a49" d="M4212 1294l21 11 18-14-22-10z"/><path class="a45" d="M4699 1336l25 11 10-8-25-10z"/><path class="a50" d="M4150 1287l22 10 18-13-21-10z"/><path class="a49" d="M4333 1306l23 10 15-17-22-9z"/><path class="a49" d="M4492 1299l24 9 13-15-23-10z"/><path class="a49" d="M4553 1302l24 10 13-12-24-11z"/><path class="a49" d="M4394 1308l23 9 14-18-22-9z"/><path class="a45" d="M4820 1350l28 0 9-15-27 4z"/><path class="a47" d="M4857 1335l29-2 9-17-28 5z"/><path class="a47" d="M4638 1322l25 11 11-8-24-12z"/><path class="a49" d="M4295 1312l22 10 16-16-22-9z"/><path class="a49" d="M4233 1305l23 11 17-14-22-11z"/><path class="a49" d="M4455 1308l23 8 14-17-23-9z"/><path class="a50" d="M4172 1297l22 10 18-13-22-10z"/><path class="a45" d="M4724 1347l25 10 10-9-25-9z"/><path class="a45" d="M4784 1356l27 6 9-12-26-3z"/><path class="a49" d="M4356 1316l23 9 15-17-23-9z"/><path class="a49" d="M4577 1312l24 10 13-11-24-11z"/><path class="a50" d="M4516 1308l24 9 13-15-24-9z"/><path class="a49" d="M4417 1317l23 8 15-17-24-9z"/><path class="a47" d="M4663 1333l25 11 11-8-25-11z"/><path class="a49" d="M4256 1316l22 10 17-14-22-10z"/><path class="a49" d="M4317 1322l23 10 16-16-23-10z"/><path class="a50" d="M4194 1307l22 11 17-13-21-11z"/><path class="a50" d="M4478 1316l24 9 14-17-24-9z"/><path class="a46" d="M4749 1357l26 9 9-10-25-8z"/><path class="a49" d="M4379 1325l23 9 15-17-23-9z"/><path class="a49" d="M4601 1322l25 11 12-11-24-11z"/><path class="a50" d="M4540 1317l24 10 13-15-24-10z"/><path class="a47" d="M4848 1350l28 1 10-18-29 2z"/><path class="a47" d="M4688 1344l25 11 11-8-25-11z"/><path class="a46" d="M4811 1362l27 3 10-15-28 0z"/><path class="a50" d="M4440 1325l24 10 14-19-23-8z"/><path class="a49" d="M4278 1326l23 12 16-16-22-10z"/><path class="a49" d="M4340 1332l23 11 16-18-23-9z"/><path class="a50" d="M4216 1318l22 11 18-13-23-11z"/><path class="a50" d="M4502 1325l24 9 14-17-24-9z"/><path class="a49" d="M4626 1333l25 10 12-10-25-11z"/><path class="a49" d="M4402 1334l23 10 15-19-23-8z"/><path class="a46" d="M4775 1366l26 8 10-12-27-6z"/><path class="a50" d="M4564 1327l25 9 12-14-24-10z"/><path class="a47" d="M4713 1355l26 11 10-9-25-10z"/><path class="a49" d="M4301 1338l23 11 16-17-23-10z"/><path class="a50" d="M4464 1335l24 9 14-19-24-9z"/><path class="a50" d="M4238 1329l23 12 17-15-22-10z"/><path class="a49" d="M4363 1343l23 10 16-19-23-9z"/><path class="a49" d="M4651 1343l25 11 12-10-25-11z"/><path class="a50" d="M4526 1334l24 9 14-16-24-10z"/><path class="a50" d="M4425 1344l24 10 15-19-24-10z"/><path class="a48" d="M4838 1365l28 5 10-19-28-1z"/><path class="a50" d="M4589 1336l24 10 13-13-25-11z"/><path class="a47" d="M4739 1366l25 11 11-11-26-9z"/><path class="a49" d="M4324 1349l23 11 16-17-23-11z"/><path class="a50" d="M4261 1341l23 12 17-15-23-12z"/><path class="a47" d="M4801 1374l27 7 10-16-27-3z"/><path class="a50" d="M4488 1344l24 9 14-19-24-9z"/><path class="a49" d="M4386 1353l24 11 15-20-23-10z"/><path class="a49" d="M4676 1354l26 12 11-11-25-11z"/><path class="a51" d="M4550 1343l25 10 14-17-25-9z"/><path class="a50" d="M4449 1354l24 10 15-20-24-9z"/><path class="a50" d="M4613 1346l26 10 12-13-25-10z"/><path class="a50" d="M4284 1353l23 13 17-17-23-11z"/><path class="a49" d="M4347 1360l24 12 15-19-23-10z"/><path class="a48" d="M4764 1377l27 10 10-13-26-8z"/><path class="a50" d="M4410 1364l24 10 15-20-24-10z"/><path class="a51" d="M4512 1353l24 9 14-19-24-9z"/><path class="a49" d="M4702 1366l26 11 11-11-26-11z"/><path class="a48" d="M4828 1381l27 8 11-19-28-5z"/><path class="a50" d="M4639 1356l25 11 12-13-25-11z"/><path class="a51" d="M4575 1353l25 9 13-16-24-10z"/><path class="a50" d="M4307 1366l24 13 16-19-23-11z"/><path class="a50" d="M4473 1364l24 10 15-21-24-9z"/><path class="a49" d="M4371 1372l23 12 16-20-24-11z"/><path class="a48" d="M4791 1387l27 11 10-17-27-7z"/><path class="a49" d="M4728 1377l26 13 10-13-25-11z"/><path class="a50" d="M4434 1374l24 11 15-21-24-10z"/><path class="a51" d="M4536 1362l25 10 14-19-25-10z"/><path class="a50" d="M4331 1379l24 13 16-20-24-12z"/><path class="a50" d="M4664 1367l26 12 12-13-26-12z"/><path class="a51" d="M4600 1362l26 11 13-17-26-10z"/><path class="a49" d="M4394 1384l25 12 15-22-24-10z"/><path class="a50" d="M4497 1374l25 10 14-22-24-9z"/><path class="a49" d="M4754 1390l26 12 11-15-27-10z"/><path class="a49" d="M4818 1398l27 11 10-20-27-8z"/><path class="a50" d="M4458 1385l25 11 14-22-24-10z"/><path class="a51" d="M4561 1372l26 10 13-20-25-9z"/><path class="a49" d="M4355 1392l24 13 15-21-23-12z"/><path class="a50" d="M4690 1379l26 12 12-14-26-11z"/><path class="a51" d="M4626 1373l26 11 12-17-25-11z"/><path class="a50" d="M4419 1396l24 12 15-23-24-11z"/><path class="a51" d="M4522 1384l25 10 14-22-25-10z"/><path class="a49" d="M4780 1402l27 13 11-17-27-11z"/><path class="a50" d="M4483 1396l25 11 14-23-25-10z"/><path class="a49" d="M4379 1405l24 13 16-22-25-12z"/><path class="a50" d="M4716 1391l26 14 12-15-26-13z"/><path class="a51" d="M4587 1382l25 11 14-20-26-11z"/><path class="a51" d="M4652 1384l26 12 12-17-26-12z"/><path class="a50" d="M4443 1408l25 12 15-24-25-11z"/><path class="a51" d="M4547 1394l26 11 14-23-26-10z"/><path class="a49" d="M4807 1415l27 13 11-19-27-11z"/><path class="a49" d="M4403 1418l25 14 15-24-24-12z"/><path class="a50" d="M4742 1405l27 14 11-17-26-12z"/><path class="a50" d="M4508 1407l25 12 14-25-25-10z"/><path class="a51" d="M4612 1393l26 12 14-21-26-11z"/><path class="a51" d="M4678 1396l26 13 12-18-26-12z"/><path class="a50" d="M4468 1420l25 12 15-25-25-11z"/><path class="a51" d="M4573 1405l26 12 13-24-25-11z"/><path class="a49" d="M4428 1432l25 13 15-25-25-12z"/><path class="a50" d="M4769 1419l27 15 11-19-27-13z"/><path class="a50" d="M4533 1419l25 11 15-25-26-11z"/><path class="a51" d="M4704 1409l27 14 11-18-26-14z"/><path class="a52" d="M4638 1405l27 12 13-21-26-12z"/><path class="a50" d="M4493 1432l25 13 15-26-25-12z"/><path class="a49" d="M4796 1434l27 14 11-20-27-13z"/><path class="a49" d="M4453 1445l25 14 15-27-25-12z"/><path class="a51" d="M4599 1417l26 11 13-23-26-12z"/><path class="a51" d="M4731 1423l26 14 12-18-27-14z"/><path class="a51" d="M4665 1417l26 13 13-21-26-13z"/><path class="a51" d="M4558 1430l26 12 15-25-26-12z"/><path class="a50" d="M4518 1445l26 13 14-28-25-11z"/><path class="a49" d="M4478 1459l25 14 15-28-25-13z"/><path class="a50" d="M4757 1437l27 16 12-19-27-15z"/><path class="a51" d="M4625 1428l26 13 14-24-27-12z"/><path class="a51" d="M4691 1430l27 14 13-21-27-14z"/><path class="a51" d="M4584 1442l27 13 14-27-26-11z"/><path class="a50" d="M4544 1458l26 12 14-28-26-12z"/><path class="a50" d="M4784 1453l27 16 12-21-27-14z"/><path class="a49" d="M4503 1473l26 14 15-29-26-13z"/><path class="a51" d="M4651 1441l27 13 13-24-26-13z"/><path class="a51" d="M4718 1444l27 15 12-22-26-14z"/><path class="a51" d="M4611 1455l26 12 14-26-26-13z"/><path class="a50" d="M4570 1470l26 13 15-28-27-13z"/><path class="a48" d="M4529 1487l26 13 15-30-26-12z"/><path class="a50" d="M4745 1459l27 16 12-22-27-16z"/><path class="a51" d="M4678 1454l27 14 13-24-27-14z"/><path class="a51" d="M4637 1467l27 13 14-26-27-13z"/><path class="a50" d="M4772 1475l28 15 11-21-27-16z"/><path class="a50" d="M4596 1483l27 13 14-29-26-12z"/><path class="a48" d="M4555 1500l27 14 14-31-26-13z"/><path class="a51" d="M4705 1468l27 14 13-23-27-15z"/><path class="a50" d="M4664 1480l27 14 14-26-27-14z"/><path class="a50" d="M4732 1482l28 16 12-23-27-16z"/><path class="a50" d="M4623 1496l27 13 14-29-27-13z"/><path class="a48" d="M4582 1514l26 13 15-31-27-13z"/><path class="a50" d="M4691 1494l28 14 13-26-27-14z"/><path class="a50" d="M4760 1498l27 15 13-23-28-15z"/><path class="a50" d="M4650 1509l27 13 14-28-27-14z"/><path class="a48" d="M4608 1527l28 12 14-30-27-13z"/><path class="a50" d="M4719 1508l28 14 13-24-28-16z"/><path class="a50" d="M4677 1522l28 13 14-27-28-14z"/><path class="a49" d="M4636 1539l27 13 14-30-27-13z"/><path class="a50" d="M4747 1522l28 14 12-23-27-15z"/><path class="a50" d="M4705 1535l29 13 13-26-28-14z"/><path class="a49" d="M4663 1552l28 11 14-28-28-13z"/><path class="a50" d="M4734 1548l28 13 13-25-28-14z"/><path class="a49" d="M4691 1563l29 11 14-26-29-13z"/><path class="a49" d="M4720 1574l29 12 13-25-28-13z"/></g>
<path d="M1017 312.7l.9-.8 1-.9 .9-.8 1-.9 .9-.8 .9-.8 1-.9 .9-.8 .9-.8 .9-.8 .9-.9 .9-.8 .9-.8 .9-.8 .9-.8 .9-.8 .9-.8 .9-.8 .9-.8 .8-.8 .9-.8 .9-.7 .8-.8 .9-.8 .9-.8 .8-.8 .9-.8 .8-.8 .8-.8 .9-.8 .8-.9 .8-.8 .8-.8 .8-.9 .8-.8 .8-.9 .8-.9 .8-.9 .8-.9 .8-.8 .8-.9 .7-.9 .8-.9 .8-.9 .8-.9 .7-.9 .8-.9 .7-.9 .8-.9 .8-.9 .7-.8 .8-.9 .7-.9 .7-.8 .8-.9 .7-.8 .8-.9 .7-.8 .7-.8 .8-.9 .7-.8 .7-.8 .8-.8 .7-.8 .7-.9 .7-.8 .7-.8 .7-.8 .8-.8 .7-.8 .7-.8 .7-.8 .7-.8 .7-.8 .7-.8 .7-.8 .7-.8 .7-.7 .6-.8 .7-.8 .7-.8 .7-.7 .7-.8 .6-.8 .7-.7 .7-.8 .7-.8 .6-.7 .7-.8 .7-.7 .6-.7 .7-.8 .6-.7 .7-.7 .7-.7 .6-.8 .7-.7 .6-.7 .7-.7 .6-.7 .6-.6 .7-.7 .6-.7 .7-.6 .6-.7 .6-.7 .7-.6 .6-.6 .6-.7 .7-.6 .6-.6 .6-.6 .6-.6 .6-.6 .7-.6 .6-.6 .6-.6 .6-.5 .6-.6 .6-.5 .6-.6 .6-.5 .6-.6 .6-.5 .6-.5 .6-.5 .6-.5 .6-.6 .6-.5 .6-.5 .6-.5 .6-.4 .5-.5 .6-.5 .6-.5 .6-.5 .5-.5 .6-.4 .6-.5 .6-.5 .5-.4 .6-.5 .5-.5 .6-.4 .6-.5 .5-.5 .6-.4 .5-.5 .6-.4 .5-.5 .6-.5 .5-.4 .6-.5 .5-.4 .5-.5 .6-.5 .5-.4 .5-.5 .6-.4 .5-.5 .5-.4 .6-.5 .5-.4 .5-.5 .5-.4 .5-.4 .6-.5 .5-.4 .5-.4 .5-.4 .5-.5 .5-.4 .5-.4 .5-.4 .5-.4 .5-.4 .5-.4 .5-.4 .5-.4 .5-.4 .5-.4 .5-.3 .5-.4 .5-.4 .5-.4 .5-.4 .4-.3 .5-.4 .5-.4 .5-.4 .5-.4 .4-.3 .5-.4 .5-.4 .4-.4 .5-.4 .5-.4 .5-.4 .4-.3" fill="none" stroke="#4d4d4d" stroke-width="2.6" stroke-linejoin="round"/>
<path d="M1002.5 201.2l1.5 2.9 1.5 3 1.4 3 1.5 3 1.4 2.9 1.5 2.8 1.3 2.6 1.4 2.5 1.3 2.3 1.2 2.1 1.3 2 1.2 1.8 1.1 1.7 1.1 1.5 1.2 1.5 1 1.3 1.1 1.2 1.1 1.2 1 1.1 1.1 1 1 1 1 1 1 .9 1 .9 1 .8 1 .8 1 .8 1 .8 .9 .7 1 .7 1 .7 1 .7 .9 .6 1 .6 .9 .5 1 .5 .9 .5 1 .4 .9 .4 .9 .4 1 .3 .9 .2 .9 .2 .9 .2 .9 .1 .9 .1 .9 .1 .9 .1 .9 0 .9 0 1 0 .9 0 .9 0 .9-.1 .9 0 .9 0 1-.1 .9 0 .9 0 .9-.1 1 0 .9 0 1-.1 .9 0 1 0 .9 0 1-.1 1 0 .9 0 1-.1 1 0 1-.1 .9 0 1-.1 1-.1 1 0 1-.1 1-.1 1-.1 1 0 1-.1 1-.1 1 0 1.1-.1 1 0 1 0 1.1 0 1 .1 1.1 0 1 .1 1.1 .2 1.1 .1 1 .2 1.1 .3 1.1 .3 1.1 .3 1.1 .4 1.1 .4 1.1 .4 1.1 .6 1.1 .5 1.2 .6 1.1 .7 1.1 .6 1.1 .8 1.2 .7 1.1 .8 1.1 .9 1.2 .8 1.1 .9 1.1 1 1.2 .9 1.1 1 1.1 1 1.2 1 1.1 1 1.2 1 1.1 1.1 1.2 1 1.1 1.1 1.1 1 1.2 1.1 1.1 1.1 1.2 1 1.1 1.1 1.1 1.1 1.2 1.1 1.1 1 1.2 1.1 1.1 1.1 1.1 1.1 1.2 1 1.1 1.1 1.2 1.1 1.1 1.1 1.1 1 1.2 1.1 1.1 1.1 1.2 1.1 1.1 1.1 1.1 1.1 1.2 1.1 1.1 1.1 1.1 1.1 1.2 1.1 1.1 1.1 1.1 1.1 1.2 1.1 1.1 1.1 1.1 1.1 1.2 1.1 1.1 1 1.2 1.1 1.1 1 1.1 1.1 1.2 1 1.1 1 1.2 .9 1.1 1 1.2 .9 1.1 .9 1.2 .9 1.1 .8 1.2 .8 1.2 .8 1.1 .7 1.2 .7 1.2 .7 1.2 .6 1.2 .6 1.2 .5 1.3 .5 1.2 .5 1.2 .4 1.3 .4 1.2 .3 1.3 .3 1.3 .3 1.2 .2 1.3 .2 1.3 .2 1.4 .1 1.3 0 1.3 .1 1.4-.1 1.4-.1 1.4-.2 1.4-.3 1.4-.3 1.5-.5 1.5-.5 1.5-.6 1.5-.6 1.6-.6 1.5-.6 1.6-.6 1.5-.5 1.6-.4 1.5-.2" fill="none" stroke="#4d4d4d" stroke-width="2.6" stroke-linejoin="round"/>
<path d="M1016.97 312.72L1021.29 314.63M1002.52 201.21L1000.66 210.7M1021.45 308.73L1025.79 310.78M1009.47 215.26L1007.06 221.97M1025.83 304.8L1030.17 306.94M1015.87 227.22L1013.05 231.73M1030.12 300.94L1034.46 303.15M1021.49 235.66L1018.46 238.94M1034.33 297.16L1038.65 299.4M1026.57 241.55L1023.45 244.19M1038.44 293.43L1042.74 295.65M1031.39 246.09L1028.23 248.34M1042.45 289.64L1046.72 291.77M1036.08 249.91L1032.9 251.89M1046.35 285.72L1050.57 287.68M1040.68 253.11L1037.5 254.91M1050.14 281.62L1054.32 283.34M1045.18 255.5L1042.01 257.24M1053.84 277.4L1057.96 278.84M1049.56 256.95L1046.42 258.77M1057.47 273.16L1061.54 274.3M1053.87 257.54L1050.77 259.57M1061.04 269L1065.07 269.84M1058.17 257.59L1055.12 259.9M1064.57 264.96L1068.55 265.48M1062.52 257.43L1059.52 260.07M1068.04 261.02L1071.98 261.21M1066.95 257.28L1063.99 260.25M1071.46 257.16L1075.37 257.01M1071.46 257.16L1068.54 260.45M1074.82 253.35L1078.7 252.85M1076.04 256.98L1073.17 260.61M1078.14 249.59L1081.98 248.72M1080.7 256.68L1077.86 260.68M1081.4 245.88L1085.21 244.64M1085.45 256.33L1082.63 260.71M1084.61 242.23L1088.4 240.64M1090.3 256.12L1087.51 260.86M1087.78 238.68L1091.55 236.74M1095.26 256.34L1092.49 261.39M1090.9 235.22L1094.66 232.99M1100.35 257.29L1097.59 262.54M1093.98 231.89L1097.73 229.4M1105.56 259.2L1102.8 264.5M1097.02 228.7L1100.76 226.01M1110.86 262.11L1108.11 267.31M1100.01 225.65L1103.75 222.83M1116.23 265.91L1113.48 270.88M1102.97 222.76L1106.71 219.89M1121.62 270.37L1118.89 275.02M1105.88 220.03L1109.62 217.17M1127.03 275.24L1124.32 279.51M1108.74 217.44L1112.49 214.66M1132.43 280.27L1129.76 284.14M1111.57 214.98L1115.32 212.35M1137.84 285.35L1135.21 288.83M1114.34 212.63L1118.1 210.18M1143.24 290.45L1140.66 293.53M1117.07 210.36L1120.83 208.12M1148.63 295.57L1146.12 298.27M1119.76 208.13L1123.51 206.12M1154.02 300.75L1151.58 303.06M1122.4 205.94L1126.15 204.13M1159.41 305.96L1157.05 307.89M1125 203.76L1128.74 202.14M1164.79 311.11L1162.52 312.67M1127.56 201.58L1131.29 200.14M1170.18 316.03L1168.01 317.26M1130.07 199.44L1133.79 198.16M1175.63 320.49L1173.55 321.47M1132.55 197.34L1136.26 196.24M1181.15 324.29L1179.17 325.11M1134.99 195.32L1138.68 194.42M1186.81 327.29L1184.92 328.07M1137.38 193.37L1141.06 192.7M1192.65 329.4L1190.82 330.27M1139.74 191.51L1143.4 191.09M1198.69 330.64L1196.91 331.72M1142.06 189.69L1145.69 189.55M1205 330.92L1203.23 332.35M1144.35 187.9L1147.95 188.02M1211.71 329.75L1209.9 331.74M1146.6 186.09L1150.18 186.45M1218.9 327.01L1217 329.81M1148.82 184.25L1152.37 184.8M1226.19 324.91L1224.2 328.44" fill="none" stroke="#4d4d4d" stroke-width="1.6"/>
<line x1="922.96" y1="200.06" x2="972.53" y2="342.25" stroke="#000" stroke-width="1.6" stroke-linecap="round"/>
<line x1="1299.34" y1="148.18" x2="1263.36" y2="283.51" stroke="#000" stroke-width="1.6" stroke-linecap="round"/>
<line x1="972.53" y1="342.25" x2="1178.51" y2="455.44" stroke="#000" stroke-width="1.6" stroke-linecap="round"/>
<line x1="1178.51" y1="455.44" x2="1263.36" y2="283.51" stroke="#000" stroke-width="1.6" stroke-linecap="round"/>
<line x1="971.09" y1="338.1" x2="961.18" y2="340.08" stroke="#000" stroke-width="1.4"/>
<text x="951.28" y="348.79" font-size="18.8" text-anchor="middle" fill="#000">−4</text>
<line x1="961.71" y1="311.2" x2="951.17" y2="313.18" stroke="#000" stroke-width="1.4"/>
<text x="940.63" y="321.89" font-size="18.8" text-anchor="middle" fill="#000">−2</text>
<line x1="951.14" y1="280.9" x2="939.88" y2="282.85" stroke="#000" stroke-width="1.4"/>
<text x="928.63" y="291.54" font-size="18.8" text-anchor="middle" fill="#000">0</text>
<line x1="939.15" y1="246.5" x2="927.07" y2="248.41" stroke="#000" stroke-width="1.4"/>
<text x="914.98" y="257.06" font-size="18.8" text-anchor="middle" fill="#000">2</text>
<line x1="925.42" y1="207.11" x2="912.38" y2="208.95" stroke="#000" stroke-width="1.4"/>
<text x="899.34" y="217.52" font-size="18.8" text-anchor="middle" fill="#000">4</text>
<line x1="1024.61" y1="370.87" x2="1021.61" y2="378.67" stroke="#000" stroke-width="1.4"/>
<text x="1017.71" y="394.8" font-size="18.8" text-anchor="middle" fill="#000">20</text>
<line x1="1086.97" y1="405.14" x2="1083.97" y2="413.34" stroke="#000" stroke-width="1.4"/>
<text x="1079.57" y="430.27" font-size="18.8" text-anchor="middle" fill="#000">40</text>
<line x1="1158.81" y1="444.62" x2="1155.81" y2="453.62" stroke="#000" stroke-width="1.4"/>
<text x="1151.31" y="471.25" font-size="18.8" text-anchor="middle" fill="#000">60</text>
<line x1="1210.4" y1="390.82" x2="1217" y2="396.02" stroke="#000" stroke-width="1.4"/>
<text x="1222.8" y="410.75" font-size="18.8" text-anchor="middle" fill="#000">20</text>
<line x1="1237.05" y1="336.83" x2="1243.65" y2="342.43" stroke="#000" stroke-width="1.4"/>
<text x="1247.75" y="356.06" font-size="18.8" text-anchor="middle" fill="#000">40</text>
<line x1="1258.6" y1="293.16" x2="1264.4" y2="298.26" stroke="#000" stroke-width="1.4"/>
<text x="1267.7" y="310.19" font-size="18.8" text-anchor="middle" fill="#000">60</text>
<text x="0" y="0" font-size="19.2" text-anchor="middle" fill="#000" transform="translate(1070.1,443.8) rotate(28.6)">s (mobility time)</text>
<text x="0" y="0" font-size="19.4" text-anchor="middle" fill="#000" transform="translate(1262.2,361.6) rotate(-62.6)">t (mortality time)</text>
<defs><linearGradient id="cb1" x1="0" y1="0" x2="0" y2="1"><stop offset="0" stop-color="#7F0000"/><stop offset="0.12" stop-color="#FF0000"/><stop offset="0.25" stop-color="#FF7F00"/><stop offset="0.38" stop-color="#FFFF00"/><stop offset="0.5" stop-color="#7FFF7F"/><stop offset="0.62" stop-color="#00FFFF"/><stop offset="0.75" stop-color="#007FFF"/><stop offset="0.88" stop-color="#0000FF"/><stop offset="1" stop-color="#00007F"/></linearGradient></defs>
<rect x="1324.7" y="134.7" width="17.4" height="287.2" fill="url(#cb1)" stroke="#000" stroke-width="1.4"/>
<line x1="1342.1" y1="145.64" x2="1349.6" y2="145.64" stroke="#000" stroke-width="1.4"/>
<text x="1355.4" y="150.14" font-size="13" fill="#000" stroke="#000" stroke-width="0.35">4</text>
<line x1="1342.1" y1="211.97" x2="1349.6" y2="211.97" stroke="#000" stroke-width="1.4"/>
<text x="1355.4" y="216.47" font-size="13" fill="#000" stroke="#000" stroke-width="0.35">2</text>
<line x1="1342.1" y1="278.3" x2="1349.6" y2="278.3" stroke="#000" stroke-width="1.4"/>
<text x="1355.4" y="282.8" font-size="13" fill="#000" stroke="#000" stroke-width="0.35">0</text>
<line x1="1342.1" y1="344.63" x2="1349.6" y2="344.63" stroke="#000" stroke-width="1.4"/>
<text x="1355.4" y="349.13" font-size="13" fill="#000" stroke="#000" stroke-width="0.35">−2</text>
<line x1="1342.1" y1="410.96" x2="1349.6" y2="410.96" stroke="#000" stroke-width="1.4"/>
<text x="1355.4" y="415.46" font-size="13" fill="#000" stroke="#000" stroke-width="0.35">−4</text>
<line x1="994.99" y1="863.87" x2="955.07" y2="723.82" stroke="#BEBEBE" stroke-width="1.3"/><line x1="1017.64" y1="842.5" x2="986.55" y2="705.16" stroke="#BEBEBE" stroke-width="1.3"/><line x1="1038.2" y1="823.11" x2="1014.34" y2="688.68" stroke="#BEBEBE" stroke-width="1.3"/><line x1="1056.94" y1="805.43" x2="1039.07" y2="674.01" stroke="#BEBEBE" stroke-width="1.3"/><line x1="1074.1" y1="789.25" x2="1061.21" y2="660.88" stroke="#BEBEBE" stroke-width="1.3"/><line x1="1089.86" y1="774.38" x2="1081.15" y2="649.06" stroke="#BEBEBE" stroke-width="1.3"/><line x1="968.22" y1="872.67" x2="1096.63" y2="755.82" stroke="#BEBEBE" stroke-width="1.3"/><line x1="960.11" y1="849.42" x2="1095.45" y2="734.52" stroke="#BEBEBE" stroke-width="1.3"/><line x1="951.14" y1="823.7" x2="1094.18" y2="711.59" stroke="#BEBEBE" stroke-width="1.3"/><line x1="941.17" y1="795.08" x2="1092.8" y2="686.84" stroke="#BEBEBE" stroke-width="1.3"/><line x1="930" y1="763.06" x2="1091.31" y2="660.03" stroke="#BEBEBE" stroke-width="1.3"/><line x1="1117.6" y1="774.6" x2="1115.11" y2="649.18" stroke="#BEBEBE" stroke-width="1.3"/><line x1="1141.22" y1="782.98" x2="1144.11" y2="655.76" stroke="#BEBEBE" stroke-width="1.3"/><line x1="1166" y1="791.78" x2="1174.9" y2="662.75" stroke="#BEBEBE" stroke-width="1.3"/><line x1="1192.05" y1="801.02" x2="1207.64" y2="670.18" stroke="#BEBEBE" stroke-width="1.3"/><line x1="1219.46" y1="810.74" x2="1242.52" y2="678.09" stroke="#BEBEBE" stroke-width="1.3"/><line x1="1248.34" y1="820.98" x2="1279.76" y2="686.54" stroke="#BEBEBE" stroke-width="1.3"/><line x1="1096.63" y1="755.82" x2="1266.61" y2="814.1" stroke="#BEBEBE" stroke-width="1.3"/><line x1="1095.45" y1="734.52" x2="1272.64" y2="791.4" stroke="#BEBEBE" stroke-width="1.3"/><line x1="1094.18" y1="711.59" x2="1279.23" y2="766.62" stroke="#BEBEBE" stroke-width="1.3"/><line x1="1092.8" y1="686.84" x2="1286.45" y2="739.47" stroke="#BEBEBE" stroke-width="1.3"/><line x1="1091.31" y1="660.03" x2="1294.39" y2="709.57" stroke="#BEBEBE" stroke-width="1.3"/><line x1="996.41" y1="898.18" x2="1117.6" y2="774.6" stroke="#BEBEBE" stroke-width="1.3"/><line x1="1024.61" y1="913.67" x2="1141.22" y2="782.98" stroke="#BEBEBE" stroke-width="1.3"/><line x1="1054.73" y1="930.22" x2="1166" y2="791.78" stroke="#BEBEBE" stroke-width="1.3"/><line x1="1086.97" y1="947.94" x2="1192.05" y2="801.02" stroke="#BEBEBE" stroke-width="1.3"/><line x1="1121.58" y1="966.96" x2="1219.46" y2="810.74" stroke="#BEBEBE" stroke-width="1.3"/><line x1="1158.81" y1="987.42" x2="1248.34" y2="820.98" stroke="#BEBEBE" stroke-width="1.3"/><line x1="994.99" y1="863.87" x2="1194.57" y2="965.71" stroke="#BEBEBE" stroke-width="1.3"/><line x1="1017.64" y1="842.5" x2="1210.4" y2="933.62" stroke="#BEBEBE" stroke-width="1.3"/><line x1="1038.2" y1="823.11" x2="1224.47" y2="905.12" stroke="#BEBEBE" stroke-width="1.3"/><line x1="1056.94" y1="805.43" x2="1237.05" y2="879.63" stroke="#BEBEBE" stroke-width="1.3"/><line x1="1074.1" y1="789.25" x2="1248.37" y2="856.7" stroke="#BEBEBE" stroke-width="1.3"/><line x1="1089.86" y1="774.38" x2="1258.6" y2="835.96" stroke="#BEBEBE" stroke-width="1.3"/>
<line x1="922.96" y1="742.86" x2="1090.4" y2="643.58" stroke="#000" stroke-width="1.6" stroke-linecap="round"/>
<line x1="1090.4" y1="643.58" x2="1299.34" y2="690.98" stroke="#000" stroke-width="1.6" stroke-linecap="round"/>
<line x1="1090.4" y1="643.58" x2="1097.28" y2="767.39" stroke="#000" stroke-width="1.6" stroke-linecap="round"/>
<line x1="972.53" y1="885.05" x2="1097.28" y2="767.39" stroke="#000" stroke-width="1.6" stroke-linecap="round"/>
<line x1="1097.28" y1="767.39" x2="1263.36" y2="826.31" stroke="#000" stroke-width="1.6" stroke-linecap="round"/>
<g fill="#fff" stroke-width="7.2" stroke-linejoin="round" transform="scale(0.25)"><path class="b50" d="M4381 2851l16 15 10-8-16-13z"/><path class="b52" d="M4366 2835l15 16 10-6-15-15z"/><path class="b48" d="M4397 2866l15 10 10-8-15-10z"/><path class="b47" d="M4412 2876l15 8 10-8-15-8z"/><path class="b47" d="M4427 2884l16 7 9-9-15-6z"/><path class="b50" d="M4371 2857l16 16 10-7-16-15z"/><path class="b48" d="M4387 2873l15 11 10-8-15-10z"/><path class="b52" d="M4355 2840l16 17 10-6-15-16z"/><path class="b47" d="M4443 2891l15 5 10-9-16-5z"/><path class="b47" d="M4402 2884l16 9 9-9-15-8z"/><path class="b47" d="M4418 2893l15 7 10-9-16-7z"/><path class="b47" d="M4458 2896l16 4 9-9-15-4z"/><path class="b50" d="M4361 2863l16 17 10-7-16-16z"/><path class="b49" d="M4377 2880l15 12 10-8-15-11z"/><path class="b53" d="M4345 2845l16 18 10-6-16-17z"/><path class="b46" d="M4433 2900l16 6 9-10-15-5z"/><path class="b47" d="M4392 2892l16 10 10-9-16-9z"/><path class="b47" d="M4474 2900l15 3 10-9-16-3z"/><path class="b47" d="M4408 2902l15 7 10-9-15-7z"/><path class="b46" d="M4449 2906l15 4 10-10-16-4z"/><path class="b49" d="M4367 2887l15 13 10-8-15-12z"/><path class="b51" d="M4351 2869l16 18 10-7-16-17z"/><path class="b46" d="M4423 2909l16 6 10-9-16-6z"/><path class="b48" d="M4489 2903l16 1 9-9-15-1z"/><path class="b47" d="M4382 2900l16 10 10-8-16-10z"/><path class="b53" d="M4334 2850l17 19 10-6-16-18z"/><path class="b47" d="M4464 2910l16 2 9-9-15-3z"/><path class="b47" d="M4398 2910l16 8 9-9-15-7z"/><path class="b46" d="M4439 2915l16 4 9-9-15-4z"/><path class="b48" d="M4505 2904l16 1 9-9-16-1z"/><path class="b46" d="M4414 2918l15 6 10-9-16-6z"/><path class="b49" d="M4356 2894l16 15 10-9-15-13z"/><path class="b47" d="M4480 2912l16 2 9-10-16-1z"/><path class="b51" d="M4340 2875l16 19 11-7-16-18z"/><path class="b47" d="M4372 2909l16 10 10-9-16-10z"/><path class="b47" d="M4455 2919l15 3 10-10-16-2z"/><path class="b54" d="M4324 2855l16 20 11-6-17-19z"/><path class="b46" d="M4388 2919l16 9 10-10-16-8z"/><path class="b46" d="M4429 2924l16 5 10-10-16-4z"/><path class="b49" d="M4521 2905l16 1 9-9-16-1z"/><path class="b48" d="M4496 2914l16 1 9-10-16-1z"/><path class="b46" d="M4404 2928l15 6 10-10-15-6z"/><path class="b47" d="M4470 2922l16 1 10-9-16-2z"/><path class="b49" d="M4346 2901l16 16 10-8-16-15z"/><path class="b47" d="M4362 2917l16 11 10-9-16-10z"/><path class="b46" d="M4445 2929l16 3 9-10-15-3z"/><path class="b51" d="M4329 2881l17 20 10-7-16-19z"/><path class="b46" d="M4378 2928l15 9 11-9-16-9z"/><path class="b46" d="M4419 2934l16 5 10-10-16-5z"/><path class="b54" d="M4313 2860l16 21 11-6-16-20z"/><path class="b50" d="M4537 2906l16 0 10-9-17 0z"/><path class="b49" d="M4512 2915l16 0 9-9-16-1z"/><path class="b48" d="M4486 2923l16 1 10-9-16-1z"/><path class="b46" d="M4393 2937l16 7 10-10-15-6z"/><path class="b47" d="M4461 2932l16 1 9-10-16-1z"/><path class="b49" d="M4335 2908l16 17 11-8-16-16z"/><path class="b46" d="M4435 2939l16 3 10-10-16-3z"/><path class="b47" d="M4351 2925l16 12 11-9-16-11z"/><path class="b52" d="M4318 2887l17 21 11-7-17-20z"/><path class="b46" d="M4409 2944l16 5 10-10-16-5z"/><path class="b46" d="M4367 2937l16 10 10-10-15-9z"/><path class="b51" d="M4553 2906l17 0 9-8-16-1z"/><path class="b50" d="M4528 2915l16 0 9-9-16 0z"/><path class="b49" d="M4502 2924l16 0 10-9-16 0z"/><path class="b55" d="M4301 2865l17 22 11-6-16-21z"/><path class="b48" d="M4477 2933l16 1 9-10-16-1z"/><path class="b46" d="M4383 2947l16 7 10-10-16-7z"/><path class="b47" d="M4451 2942l16 1 10-10-16-1z"/><path class="b46" d="M4425 2949l16 3 10-10-16-3z"/><path class="b47" d="M4341 2933l16 13 10-9-16-12z"/><path class="b49" d="M4324 2915l17 18 10-8-16-17z"/><path class="b52" d="M4570 2906l17 1 9-9-17 0z"/><path class="b45" d="M4399 2954l16 5 10-10-16-5z"/><path class="b46" d="M4357 2946l16 10 10-9-16-10z"/><path class="b51" d="M4544 2915l17 0 9-9-17 0z"/><path class="b52" d="M4307 2892l17 23 11-7-17-21z"/><path class="b50" d="M4518 2924l17 0 9-9-16 0z"/><path class="b49" d="M4493 2934l16 0 9-10-16 0z"/><path class="b47" d="M4467 2943l16 1 10-10-16-1z"/><path class="b45" d="M4373 2956l16 8 10-10-16-7z"/><path class="b46" d="M4441 2952l16 1 10-10-16-1z"/><path class="b56" d="M4290 2871l17 21 11-5-17-22z"/><path class="b46" d="M4415 2959l16 3 10-10-16-3z"/><path class="b52" d="M4587 2907l17 0 8-8-16-1z"/><path class="b47" d="M4330 2942l16 14 11-10-16-13z"/><path class="b49" d="M4313 2922l17 20 11-9-17-18z"/><path class="b52" d="M4561 2915l17 0 9-8-17-1z"/><path class="b45" d="M4389 2964l16 5 10-10-16-5z"/><path class="b46" d="M4346 2956l16 10 11-10-16-10z"/><path class="b51" d="M4535 2924l17 0 9-9-17 0z"/><path class="b50" d="M4509 2934l16-1 10-9-17 0z"/><path class="b48" d="M4483 2944l16-1 10-9-16 0z"/><path class="b53" d="M4296 2898l17 24 11-7-17-23z"/><path class="b47" d="M4457 2953l16 1 10-10-16-1z"/><path class="b45" d="M4362 2966l16 8 11-10-16-8z"/><path class="b46" d="M4431 2962l16 2 10-11-16-1z"/><path class="b53" d="M4604 2907l17 2 8-8-17-2z"/><path class="b45" d="M4405 2969l16 3 10-10-16-3z"/><path class="b56" d="M4279 2876l17 22 11-6-17-21z"/><path class="b53" d="M4578 2915l17 1 9-9-17 0z"/><path class="b47" d="M4319 2950l16 15 11-9-16-14z"/><path class="b45" d="M4378 2974l16 5 11-10-16-5z"/><path class="b52" d="M4552 2924l16 0 10-9-17 0z"/><path class="b50" d="M4302 2930l17 20 11-8-17-20z"/><path class="b46" d="M4335 2965l17 11 10-10-16-10z"/><path class="b51" d="M4525 2933l17 0 10-9-17 0z"/><path class="b50" d="M4499 2943l17 0 9-10-16 1z"/><path class="b48" d="M4473 2954l17-1 9-10-16 1z"/><path class="b47" d="M4447 2964l16 0 10-10-16-1z"/><path class="b54" d="M4621 2909l17 3 8-8-17-3z"/><path class="b46" d="M4421 2972l16 2 10-10-16-2z"/><path class="b45" d="M4352 2976l16 8 10-10-16-8z"/><path class="b53" d="M4284 2905l18 25 11-8-17-24z"/><path class="b45" d="M4394 2979l16 4 11-11-16-3z"/><path class="b53" d="M4595 2916l17 1 9-8-17-2z"/><path class="b53" d="M4568 2924l17 0 10-8-17-1z"/><path class="b45" d="M4368 2984l16 6 10-11-16-5z"/><path class="b57" d="M4267 2882l17 23 12-7-17-22z"/><path class="b47" d="M4308 2959l16 15 11-9-16-15z"/><path class="b54" d="M4638 2912l17 4 9-7-18-5z"/><path class="b52" d="M4542 2933l17-1 9-8-16 0z"/><path class="b46" d="M4324 2974l17 11 11-9-17-11z"/><path class="b50" d="M4290 2937l18 22 11-9-17-20z"/><path class="b51" d="M4516 2943l17-1 9-9-17 0z"/><path class="b49" d="M4490 2953l16-1 10-9-17 0z"/><path class="b48" d="M4463 2964l17-1 10-10-17 1z"/><path class="b47" d="M4437 2974l16 0 10-10-16 0z"/><path class="b46" d="M4410 2983l17 1 10-10-16-2z"/><path class="b45" d="M4341 2985l16 9 11-10-16-8z"/><path class="b54" d="M4612 2917l17 3 9-8-17-3z"/><path class="b45" d="M4384 2990l16 3 10-10-16-4z"/><path class="b53" d="M4273 2911l17 26 12-7-18-25z"/><path class="b54" d="M4655 2916l17 6 9-7-17-6z"/><path class="b53" d="M4585 2924l18 1 9-8-17-1z"/><path class="b45" d="M4357 2994l16 6 11-10-16-6z"/><path class="b53" d="M4559 2932l17 0 9-8-17 0z"/><path class="b47" d="M4296 2967l17 16 11-9-16-15z"/><path class="b52" d="M4533 2942l17-1 9-9-17 1z"/><path class="b46" d="M4313 2983l17 12 11-10-17-11z"/><path class="b57" d="M4255 2888l18 23 11-6-17-23z"/><path class="b54" d="M4672 2922l18 7 8-7-17-7z"/><path class="b54" d="M4629 2920l17 4 9-8-17-4z"/><path class="b51" d="M4506 2952l17-1 10-9-17 1z"/><path class="b49" d="M4480 2963l16-1 10-10-16 1z"/><path class="b48" d="M4453 2974l17-1 10-10-17 1z"/><path class="b50" d="M4279 2945l17 22 12-8-18-22z"/><path class="b47" d="M4427 2984l16 0 10-10-16 0z"/><path class="b45" d="M4400 2993l16 2 11-11-17-1z"/><path class="b45" d="M4330 2995l16 9 11-10-16-9z"/><path class="b45" d="M4373 3000l16 4 11-11-16-3z"/><path class="b54" d="M4603 2925l17 2 9-7-17-3z"/><path class="b53" d="M4690 2929l17 9 8-8-17-8z"/><path class="b54" d="M4261 2918l18 27 11-8-17-26z"/><path class="b54" d="M4646 2924l18 5 8-7-17-6z"/><path class="b54" d="M4576 2932l18 1 9-8-18-1z"/><path class="b45" d="M4346 3004l16 7 11-11-16-6z"/><path class="b52" d="M4707 2938l18 10 8-8-18-10z"/><path class="b53" d="M4550 2941l17 0 9-9-17 0z"/><path class="b48" d="M4285 2976l17 17 11-10-17-16z"/><path class="b52" d="M4523 2951l17-1 10-9-17 1z"/><path class="b46" d="M4302 2993l16 12 12-10-17-12z"/><path class="b51" d="M4496 2962l17-1 10-10-17 1z"/><path class="b49" d="M4470 2973l16-1 10-10-16 1z"/><path class="b48" d="M4443 2984l16-1 11-10-17 1z"/><path class="b46" d="M4416 2995l16 0 11-11-16 0z"/><path class="b54" d="M4620 2927l18 4 8-7-17-4z"/><path class="b54" d="M4664 2929l17 8 9-8-18-7z"/><path class="b58" d="M4243 2895l18 23 12-7-18-23z"/><path class="b52" d="M4725 2948l17 10 8-8-17-10z"/><path class="b45" d="M4389 3004l17 2 10-11-16-2z"/><path class="b50" d="M4267 2952l18 24 11-9-17-22z"/><path class="b45" d="M4318 3005l17 9 11-10-16-9z"/><path class="b45" d="M4362 3011l17 4 10-11-16-4z"/><path class="b51" d="M4742 2958l18 11 7-9-17-10z"/><path class="b54" d="M4594 2933l17 2 9-8-17-2z"/><path class="b53" d="M4681 2937l18 9 8-8-17-9z"/><path class="b49" d="M4760 2969l17 11 8-9-18-11z"/><path class="b55" d="M4638 2931l17 6 9-8-18-5z"/><path class="b54" d="M4249 2925l18 27 12-7-18-27z"/><path class="b44" d="M4335 3014l16 7 11-10-16-7z"/><path class="b54" d="M4567 2941l17 0 10-8-18-1z"/><path class="b53" d="M4699 2946l17 10 9-8-18-10z"/><path class="b53" d="M4540 2950l17 0 10-9-17 0z"/><path class="b48" d="M4777 2980l17 12 8-10-17-11z"/><path class="b48" d="M4273 2985l17 17 12-9-17-17z"/><path class="b52" d="M4513 2961l17-2 10-9-17 1z"/><path class="b46" d="M4290 3002l17 13 11-10-16-12z"/><path class="b48" d="M4432 2995l17-1 10-11-16 1z"/><path class="b49" d="M4459 2983l17-1 10-10-16 1z"/><path class="b46" d="M4406 3006l16 0 10-11-16 0z"/><path class="b50" d="M4486 2972l17-2 10-9-17 1z"/><path class="b45" d="M4379 3015l16 1 11-10-17-2z"/><path class="b47" d="M4794 2992l18 12 8-10-18-12z"/><path class="b55" d="M4611 2935l18 4 9-8-18-4z"/><path class="b52" d="M4716 2956l18 10 8-8-17-10z"/><path class="b54" d="M4655 2937l18 7 8-7-17-8z"/><path class="b51" d="M4255 2961l18 24 12-9-18-24z"/><path class="b58" d="M4231 2902l18 23 12-7-18-23z"/><path class="b45" d="M4307 3015l17 9 11-10-17-9z"/><path class="b44" d="M4351 3021l17 4 11-10-17-4z"/><path class="b46" d="M4812 3004l18 11 7-10-17-11z"/><path class="b51" d="M4734 2966l17 11 9-8-18-11z"/><path class="b55" d="M4584 2941l18 2 9-8-17-2z"/><path class="b54" d="M4673 2944l17 9 9-7-18-9z"/><path class="b45" d="M4830 3015l18 11 7-11-18-10z"/><path class="b44" d="M4324 3024l16 7 11-10-16-7z"/><path class="b50" d="M4751 2977l18 12 8-9-17-11z"/><path class="b54" d="M4557 2950l18 0 9-9-17 0z"/><path class="b54" d="M4236 2932l19 29 12-9-18-27z"/><path class="b55" d="M4629 2939l17 5 9-7-17-6z"/><path class="b53" d="M4530 2959l18-1 9-8-17 0z"/><path class="b47" d="M4422 3006l17-2 10-10-17 1z"/><path class="b46" d="M4395 3016l16 0 11-10-16 0z"/><path class="b48" d="M4769 2989l18 12 7-9-17-12z"/><path class="b49" d="M4449 2994l17-2 10-10-17 1z"/><path class="b48" d="M4261 2994l18 18 11-10-17-17z"/><path class="b53" d="M4690 2953l18 11 8-8-17-10z"/><path class="b52" d="M4503 2970l17-1 10-10-17 2z"/><path class="b50" d="M4476 2982l17-2 10-10-17 2z"/><path class="b46" d="M4279 3012l17 13 11-10-17-13z"/><path class="b45" d="M4368 3025l16 2 11-11-16-1z"/><path class="b44" d="M4848 3026l18 8 7-11-18-8z"/><path class="b47" d="M4787 3001l17 13 8-10-18-12z"/><path class="b45" d="M4296 3025l16 9 12-10-17-9z"/><path class="b55" d="M4602 2943l18 3 9-7-18-4z"/><path class="b52" d="M4708 2964l18 10 8-8-18-10z"/><path class="b51" d="M4243 2969l18 25 12-9-18-24z"/><path class="b44" d="M4340 3031l16 5 12-11-17-4z"/><path class="b55" d="M4646 2944l18 8 9-8-18-7z"/><path class="b58" d="M4218 2910l18 22 13-7-18-23z"/><path class="b46" d="M4804 3014l18 12 8-11-18-11z"/><path class="b44" d="M4866 3034l18 8 8-12-19-7z"/><path class="b51" d="M4726 2974l17 12 8-9-17-11z"/><path class="b55" d="M4575 2950l17 1 10-8-18-2z"/><path class="b45" d="M4822 3026l18 11 8-11-18-11z"/><path class="b44" d="M4312 3034l17 8 11-11-16-7z"/><path class="b54" d="M4664 2952l18 9 8-8-17-9z"/><path class="b50" d="M4743 2986l18 12 8-9-18-12z"/><path class="b54" d="M4548 2958l17 0 10-8-18 0z"/><path class="b55" d="M4224 2940l19 29 12-8-19-29z"/><path class="b47" d="M4411 3016l17-1 11-11-17 2z"/><path class="b55" d="M4620 2946l17 6 9-8-17-5z"/><path class="b46" d="M4384 3027l16 0 11-11-16 0z"/><path class="b49" d="M4439 3004l16-2 11-10-17 2z"/><path class="b53" d="M4520 2969l18-2 10-9-18 1z"/><path class="b50" d="M4466 2992l17-2 10-10-17 2z"/><path class="b52" d="M4493 2980l17-2 10-9-17 1z"/><path class="b44" d="M4840 3037l18 9 8-12-18-8z"/><path class="b48" d="M4761 2998l18 13 8-10-18-12z"/><path class="b48" d="M4249 3003l18 18 12-9-18-18z"/><path class="b46" d="M4267 3021l17 13 12-9-17-13z"/><path class="b45" d="M4356 3036l17 2 11-11-16-2z"/><path class="b53" d="M4682 2961l17 11 9-8-18-11z"/><path class="b44" d="M4884 3042l19 5 8-12-19-5z"/><path class="b47" d="M4779 3011l17 13 8-10-17-13z"/><path class="b45" d="M4284 3034l17 10 11-10-16-9z"/><path class="b44" d="M4329 3042l16 4 11-10-16-5z"/><path class="b51" d="M4231 2978l18 25 12-9-18-25z"/><path class="b46" d="M4796 3024l18 13 8-11-18-12z"/><path class="b52" d="M4699 2972l18 11 9-9-18-10z"/><path class="b55" d="M4592 2951l18 3 10-8-18-3z"/><path class="b55" d="M4637 2952l18 8 9-8-18-8z"/><path class="b59" d="M4206 2918l18 22 12-8-18-22z"/><path class="b44" d="M4858 3046l19 8 7-12-18-8z"/><path class="b45" d="M4814 3037l18 11 8-11-18-11z"/><path class="b51" d="M4717 2983l18 12 8-9-17-12z"/><path class="b44" d="M4301 3044l16 8 12-10-17-8z"/><path class="b55" d="M4565 2958l18 1 9-8-17-1z"/><path class="b44" d="M4903 3047l20 3 7-12-19-3z"/><path class="b50" d="M4735 2995l18 12 8-9-18-12z"/><path class="b54" d="M4655 2960l18 9 9-8-18-9z"/><path class="b47" d="M4400 3027l17-1 11-11-17 1z"/><path class="b46" d="M4373 3038l16 0 11-11-16 0z"/><path class="b54" d="M4538 2967l17 0 10-9-17 0z"/><path class="b49" d="M4428 3015l17-2 10-11-16 2z"/><path class="b44" d="M4832 3048l18 10 8-12-18-9z"/><path class="b55" d="M4212 2949l19 29 12-9-19-29z"/><path class="b50" d="M4455 3002l17-2 11-10-17 2z"/><path class="b53" d="M4510 2978l18-1 10-10-18 2z"/><path class="b43" d="M4877 3054l19 5 7-12-19-5z"/><path class="b52" d="M4483 2990l17-2 10-10-17 2z"/><path class="b45" d="M4345 3046l17 2 11-10-17-2z"/><path class="b56" d="M4610 2954l18 6 9-8-17-6z"/><path class="b49" d="M4753 3007l18 14 8-10-18-13z"/><path class="b46" d="M4255 3031l17 13 12-10-17-13z"/><path class="b48" d="M4237 3012l18 19 12-10-18-18z"/><path class="b47" d="M4771 3021l17 13 8-10-17-13z"/><path class="b54" d="M4673 2969l18 11 8-8-17-11z"/><path class="b44" d="M4317 3052l17 5 11-11-16-4z"/><path class="b45" d="M4272 3044l17 11 12-11-17-10z"/><path class="b43" d="M4850 3058l19 8 8-12-19-8z"/><path class="b46" d="M4788 3034l18 14 8-11-18-13z"/><path class="b51" d="M4218 2987l19 25 12-9-18-25z"/><path class="b53" d="M4691 2980l18 11 8-8-18-11z"/><path class="b56" d="M4583 2959l18 3 9-8-18-3z"/><path class="b59" d="M4193 2927l19 22 12-9-18-22z"/><path class="b55" d="M4628 2960l18 7 9-7-18-8z"/><path class="b44" d="M4806 3048l18 12 8-12-18-11z"/><path class="b45" d="M4923 3050l20 1 8-12-21-1z"/><path class="b44" d="M4896 3059l20 3 7-12-20-3z"/><path class="b51" d="M4709 2991l18 13 8-9-18-12z"/><path class="b44" d="M4289 3055l16 7 12-10-16-8z"/><path class="b55" d="M4555 2967l18 1 10-9-18-1z"/><path class="b43" d="M4824 3060l18 10 8-12-18-10z"/><path class="b47" d="M4389 3038l17-2 11-10-17 1z"/><path class="b46" d="M4362 3048l16 1 11-11-16 0z"/><path class="b43" d="M4869 3066l19 6 8-13-19-5z"/><path class="b49" d="M4417 3026l17-2 11-11-17 2z"/><path class="b50" d="M4727 3004l17 13 9-10-18-12z"/><path class="b54" d="M4528 2977l17-1 10-9-17 0z"/><path class="b50" d="M4445 3013l17-2 10-11-17 2z"/><path class="b55" d="M4646 2967l18 10 9-8-18-9z"/><path class="b45" d="M4334 3057l16 2 12-11-17-2z"/><path class="b52" d="M4472 3000l18-2 10-10-17 2z"/><path class="b53" d="M4500 2988l18-2 10-9-18 1z"/><path class="b55" d="M4199 2958l19 29 13-9-19-29z"/><path class="b49" d="M4744 3017l18 14 9-10-18-14z"/><path class="b46" d="M4242 3041l18 13 12-10-17-13z"/><path class="b48" d="M4224 3022l18 19 13-10-18-19z"/><path class="b56" d="M4601 2962l18 6 9-8-18-6z"/><path class="b47" d="M4762 3031l18 14 8-11-17-13z"/><path class="b43" d="M4842 3070l19 9 8-13-19-8z"/><path class="b44" d="M4305 3062l17 5 12-10-17-5z"/><path class="b54" d="M4664 2977l18 11 9-8-18-11z"/><path class="b45" d="M4260 3054l17 11 12-10-17-11z"/><path class="b46" d="M4780 3045l18 14 8-11-18-14z"/><path class="b51" d="M4206 2996l18 26 13-10-19-25z"/><path class="b44" d="M4798 3059l18 13 8-12-18-12z"/><path class="b45" d="M4916 3062l20 0 7-11-20-1z"/><path class="b59" d="M4181 2936l18 22 13-9-19-22z"/><path class="b46" d="M4943 3051l22-2 7-11-21 1z"/><path class="b56" d="M4573 2968l18 2 10-8-18-3z"/><path class="b53" d="M4682 2988l18 12 9-9-18-11z"/><path class="b43" d="M4888 3072l20 3 8-13-20-3z"/><path class="b56" d="M4619 2968l18 7 9-8-18-7z"/><path class="b44" d="M4277 3065l16 7 12-10-16-7z"/><path class="b43" d="M4816 3072l18 11 8-13-18-10z"/><path class="b43" d="M4861 3079l20 5 7-12-19-6z"/><path class="b52" d="M4700 3000l18 13 9-9-18-13z"/><path class="b47" d="M4378 3049l17-2 11-11-17 2z"/><path class="b55" d="M4545 2976l18 0 10-8-18-1z"/><path class="b46" d="M4350 3059l17 0 11-10-16-1z"/><path class="b48" d="M4406 3036l17-2 11-10-17 2z"/><path class="b50" d="M4434 3024l17-3 11-10-17 2z"/><path class="b50" d="M4718 3013l18 13 8-9-17-13z"/><path class="b54" d="M4518 2986l17-1 10-9-17 1z"/><path class="b52" d="M4462 3011l17-3 11-10-18 2z"/><path class="b45" d="M4322 3067l17 3 11-11-16-2z"/><path class="b53" d="M4490 2998l17-2 11-10-18 2z"/><path class="b55" d="M4186 2968l20 28 12-9-19-29z"/><path class="b55" d="M4637 2975l18 10 9-8-18-10z"/><path class="b49" d="M4736 3026l18 15 8-10-18-14z"/><path class="b46" d="M4230 3051l17 13 13-10-18-13z"/><path class="b48" d="M4212 3032l18 19 12-10-18-19z"/><path class="b42" d="M4834 3083l19 8 8-12-19-9z"/><path class="b47" d="M4754 3041l18 14 8-10-18-14z"/><path class="b56" d="M4591 2970l18 6 10-8-18-6z"/><path class="b44" d="M4293 3072l17 6 12-11-17-5z"/><path class="b46" d="M4772 3055l18 15 8-11-18-14z"/><path class="b45" d="M4247 3064l17 11 13-10-17-11z"/><path class="b54" d="M4655 2985l18 11 9-8-18-11z"/><path class="b44" d="M4908 3075l21 0 7-13-20 0z"/><path class="b44" d="M4790 3070l18 14 8-12-18-13z"/><path class="b51" d="M4193 3006l19 26 12-10-18-26z"/><path class="b43" d="M4881 3084l20 3 7-12-20-3z"/><path class="b46" d="M4936 3062l22-2 7-11-22 2z"/><path class="b59" d="M4168 2946l18 22 13-10-18-22z"/><path class="b48" d="M4965 3049l21-4 7-11-21 4z"/><path class="b56" d="M4563 2976l19 3 9-9-18-2z"/><path class="b53" d="M4673 2996l18 13 9-9-18-12z"/><path class="b42" d="M4853 3091l20 6 8-13-20-5z"/><path class="b43" d="M4808 3084l18 11 8-12-18-11z"/><path class="b44" d="M4264 3075l17 8 12-11-16-7z"/><path class="b56" d="M4609 2976l19 7 9-8-18-7z"/><path class="b47" d="M4367 3059l17-1 11-11-17 2z"/><path class="b48" d="M4395 3047l17-2 11-11-17 2z"/><path class="b46" d="M4339 3070l16 0 12-11-17 0z"/><path class="b52" d="M4691 3009l18 13 9-9-18-13z"/><path class="b56" d="M4535 2985l18 0 10-9-18 0z"/><path class="b50" d="M4423 3034l17-2 11-11-17 3z"/><path class="b52" d="M4451 3021l17-2 11-11-17 3z"/><path class="b45" d="M4310 3078l17 2 12-10-17-3z"/><path class="b55" d="M4507 2996l18-2 10-9-17 1z"/><path class="b50" d="M4709 3022l18 14 9-10-18-13z"/><path class="b42" d="M4826 3095l19 10 8-14-19-8z"/><path class="b53" d="M4479 3008l18-2 10-10-17 2z"/><path class="b55" d="M4173 2978l20 28 13-10-20-28z"/><path class="b49" d="M4727 3036l18 15 9-10-18-15z"/><path class="b48" d="M4199 3042l18 19 13-10-18-19z"/><path class="b46" d="M4217 3061l18 13 12-10-17-13z"/><path class="b55" d="M4628 2983l18 10 9-8-18-10z"/><path class="b47" d="M4745 3051l18 15 9-11-18-14z"/><path class="b45" d="M4763 3066l18 15 9-11-18-15z"/><path class="b44" d="M4901 3087l20 0 8-12-21 0z"/><path class="b57" d="M4582 2979l18 5 9-8-18-6z"/><path class="b44" d="M4281 3083l17 5 12-10-17-6z"/><path class="b43" d="M4873 3097l20 3 8-13-20-3z"/><path class="b44" d="M4781 3081l19 15 8-12-18-14z"/><path class="b45" d="M4235 3074l17 11 12-10-17-11z"/><path class="b46" d="M4929 3075l21-3 8-12-22 2z"/><path class="b51" d="M4180 3017l19 25 13-10-19-26z"/><path class="b55" d="M4646 2993l18 12 9-9-18-11z"/><path class="b59" d="M4155 2957l18 21 13-10-18-22z"/><path class="b42" d="M4845 3105l20 6 8-14-20-6z"/><path class="b48" d="M4958 3060l22-4 6-11-21 4z"/><path class="b43" d="M4800 3096l18 12 8-13-18-11z"/><path class="b56" d="M4553 2985l19 3 10-9-19-3z"/><path class="b53" d="M4664 3005l18 12 9-8-18-13z"/><path class="b47" d="M4355 3070l17-1 12-11-17 1z"/><path class="b45" d="M4252 3085l17 8 12-10-17-8z"/><path class="b50" d="M4986 3045l23-7 7-10-23 6z"/><path class="b48" d="M4384 3058l17-2 11-11-17 2z"/><path class="b46" d="M4327 3080l17 1 11-11-16 0z"/><path class="b56" d="M4600 2984l18 7 10-8-19-7z"/><path class="b50" d="M4412 3045l17-2 11-11-17 2z"/><path class="b42" d="M4818 3108l19 10 8-13-19-10z"/><path class="b52" d="M4682 3017l18 14 9-9-18-13z"/><path class="b56" d="M4525 2994l18 0 10-9-18 0z"/><path class="b52" d="M4440 3032l18-3 10-10-17 2z"/><path class="b45" d="M4298 3088l17 3 12-11-17-2z"/><path class="b53" d="M4468 3019l18-3 11-10-18 2z"/><path class="b55" d="M4497 3006l18-2 10-10-18 2z"/><path class="b55" d="M4160 2989l20 28 13-11-20-28z"/><path class="b51" d="M4700 3031l19 15 8-10-18-14z"/><path class="b49" d="M4719 3046l18 15 8-10-18-15z"/><path class="b48" d="M4186 3052l18 19 13-10-18-19z"/><path class="b46" d="M4204 3071l18 13 13-10-18-13z"/><path class="b44" d="M4893 3100l21 0 7-13-20 0z"/><path class="b42" d="M4865 3111l20 2 8-13-20-3z"/><path class="b47" d="M4737 3061l18 16 8-11-18-15z"/><path class="b45" d="M4755 3077l18 16 8-12-18-15z"/><path class="b56" d="M4618 2991l18 10 10-8-18-10z"/><path class="b44" d="M4773 3093l18 15 9-12-19-15z"/><path class="b45" d="M4921 3087l22-3 7-12-21 3z"/><path class="b44" d="M4269 3093l17 5 12-10-17-5z"/><path class="b57" d="M4572 2988l18 4 10-8-18-5z"/><path class="b41" d="M4837 3118l20 6 8-13-20-6z"/><path class="b45" d="M4222 3084l17 11 13-10-17-11z"/><path class="b59" d="M4142 2969l18 20 13-11-18-21z"/><path class="b51" d="M4167 3028l19 24 13-10-19-25z"/><path class="b42" d="M4791 3108l19 13 8-13-18-12z"/><path class="b48" d="M4950 3072l23-5 7-11-22 4z"/><path class="b55" d="M4636 3001l19 12 9-8-18-12z"/><path class="b57" d="M4543 2994l19 3 10-9-19-3z"/><path class="b47" d="M4344 3081l16-1 12-11-17 1z"/><path class="b41" d="M4810 3121l19 10 8-13-19-10z"/><path class="b48" d="M4372 3069l17-2 12-11-17 2z"/><path class="b50" d="M4980 3056l23-7 6-11-23 7z"/><path class="b54" d="M4655 3013l18 13 9-9-18-12z"/><path class="b45" d="M4239 3095l17 8 13-10-17-8z"/><path class="b46" d="M4315 3091l17 1 12-11-17-1z"/><path class="b50" d="M4401 3056l17-2 11-11-17 2z"/><path class="b52" d="M4429 3043l18-3 11-11-18 3z"/><path class="b57" d="M4590 2992l18 8 10-9-18-7z"/><path class="b56" d="M4515 3004l18 0 10-10-18 0z"/><path class="b55" d="M4147 3000l20 28 13-11-20-28z"/><path class="b52" d="M4673 3026l19 14 8-9-18-14z"/><path class="b53" d="M4458 3029l17-2 11-11-18 3z"/><path class="b55" d="M4486 3016l18-2 11-10-18 2z"/><path class="b45" d="M4286 3098l17 3 12-10-17-3z"/><path class="b42" d="M4857 3124l20 3 8-14-20-2z"/><path class="b43" d="M4885 3113l21-1 8-12-21 0z"/><path class="b51" d="M4692 3040l18 15 9-9-19-15z"/><path class="b52" d="M5009 3038l24-10 6-9-23 9z"/><path class="b48" d="M4173 3063l18 18 13-10-18-19z"/><path class="b49" d="M4710 3055l18 16 9-10-18-15z"/><path class="b47" d="M4191 3081l18 13 13-10-18-13z"/><path class="b47" d="M4728 3071l18 17 9-11-18-16z"/><path class="b45" d="M4746 3088l18 17 9-12-18-16z"/><path class="b45" d="M4914 3100l22-4 7-12-22 3z"/><path class="b41" d="M4829 3131l19 7 9-14-20-6z"/><path class="b44" d="M4764 3105l19 15 8-12-18-15z"/><path class="b56" d="M4608 3000l19 10 9-9-18-10z"/><path class="b58" d="M4128 2981l19 19 13-11-18-20z"/><path class="b45" d="M4256 3103l17 5 13-10-17-5z"/><path class="b42" d="M4783 3120l18 14 9-13-19-13z"/><path class="b51" d="M4154 3039l19 24 13-11-19-24z"/><path class="b57" d="M4562 2997l18 4 10-9-18-4z"/><path class="b45" d="M4209 3094l17 11 13-10-17-11z"/><path class="b47" d="M4943 3084l23-6 7-11-23 5z"/><path class="b55" d="M4627 3010l18 12 10-9-19-12z"/><path class="b41" d="M4801 3134l19 10 9-13-19-10z"/><path class="b47" d="M4332 3092l17-1 11-11-16 1z"/><path class="b48" d="M4360 3080l17-2 12-11-17 2z"/><path class="b50" d="M4973 3067l23-8 7-10-23 7z"/><path class="b57" d="M4533 3004l18 2 11-9-19-3z"/><path class="b50" d="M4389 3067l17-2 12-11-17 2z"/><path class="b46" d="M4303 3101l16 2 13-11-17-1z"/><path class="b45" d="M4226 3105l18 8 12-10-17-8z"/><path class="b54" d="M4645 3022l19 14 9-10-18-13z"/><path class="b52" d="M4418 3054l17-3 12-11-18 3z"/><path class="b55" d="M4134 3013l20 26 13-11-20-28z"/><path class="b41" d="M4848 3138l21 2 8-13-20-3z"/><path class="b56" d="M4504 3014l18 0 11-10-18 0z"/><path class="b43" d="M4877 3127l21-2 8-13-21 1z"/><path class="b53" d="M4447 3040l17-3 11-10-17 2z"/><path class="b57" d="M4580 3001l19 8 9-9-18-8z"/><path class="b55" d="M4475 3027l18-2 11-11-18 2z"/><path class="b53" d="M4664 3036l18 14 10-10-19-14z"/><path class="b45" d="M4273 3108l17 4 13-11-17-3z"/><path class="b41" d="M4820 3144l20 7 8-13-19-7z"/><path class="b51" d="M4682 3050l19 15 9-10-18-15z"/><path class="b45" d="M4906 3112l22-4 8-12-22 4z"/><path class="b53" d="M5003 3049l24-11 6-10-24 10z"/><path class="b48" d="M4159 3074l19 17 13-10-18-18z"/><path class="b49" d="M4701 3065l18 17 9-11-18-16z"/><path class="b45" d="M4737 3099l19 17 8-11-18-17z"/><path class="b43" d="M4756 3116l18 17 9-13-19-15z"/><path class="b47" d="M4719 3082l18 17 9-11-18-17z"/><path class="b47" d="M4178 3091l18 14 13-11-18-13z"/><path class="b58" d="M4115 2993l19 20 13-13-19-19z"/><path class="b42" d="M4774 3133l19 14 8-13-18-14z"/><path class="b51" d="M4140 3050l19 24 14-11-19-24z"/><path class="b45" d="M4244 3113l17 6 12-11-17-5z"/><path class="b47" d="M4936 3096l22-6 8-12-23 6z"/><path class="b56" d="M4599 3009l18 10 10-9-19-10z"/><path class="b57" d="M4551 3006l19 5 10-10-18-4z"/><path class="b46" d="M4196 3105l17 10 13-10-17-11z"/><path class="b41" d="M4793 3147l19 11 8-14-19-10z"/><path class="b56" d="M5033 3028l26-15 6-8-26 14z"/><path class="b56" d="M4617 3019l19 12 9-9-18-12z"/><path class="b48" d="M4349 3091l17-1 11-12-17 2z"/><path class="b47" d="M4319 3103l17-1 13-11-17 1z"/><path class="b50" d="M4966 3078l23-9 7-10-23 8z"/><path class="b50" d="M4377 3078l18-2 11-11-17 2z"/><path class="b41" d="M4840 3151l21 3 8-14-21-2z"/><path class="b57" d="M4522 3014l19 2 10-10-18-2z"/><path class="b55" d="M4120 3025l20 25 14-11-20-26z"/><path class="b43" d="M4869 3140l21-1 8-14-21 2z"/><path class="b46" d="M4290 3112l17 1 12-10-16-2z"/><path class="b51" d="M4406 3065l18-3 11-11-17 3z"/><path class="b45" d="M4213 3115l17 8 14-10-18-8z"/><path class="b54" d="M4636 3031l18 14 10-9-19-14z"/><path class="b53" d="M4435 3051l18-2 11-12-17 3z"/><path class="b56" d="M4493 3025l19-1 10-10-18 0z"/><path class="b55" d="M4464 3037l18-1 11-11-18 2z"/><path class="b40" d="M4812 3158l20 7 8-14-20-7z"/><path class="b45" d="M4898 3125l22-4 8-13-22 4z"/><path class="b57" d="M4570 3011l19 7 10-9-19-8z"/><path class="b53" d="M4654 3045l19 15 9-10-18-14z"/><path class="b45" d="M4261 3119l17 3 12-10-17-4z"/><path class="b58" d="M4102 3007l18 18 14-12-19-20z"/><path class="b43" d="M4747 3128l18 17 9-12-18-17z"/><path class="b51" d="M4673 3060l19 16 9-11-19-15z"/><path class="b49" d="M4146 3085l18 17 14-11-19-17z"/><path class="b45" d="M4728 3110l19 18 9-12-19-17z"/><path class="b53" d="M4996 3059l25-12 6-9-24 11z"/><path class="b47" d="M4710 3092l18 18 9-11-18-17z"/><path class="b49" d="M4692 3076l18 16 9-10-18-17z"/><path class="b42" d="M4765 3145l19 15 9-13-19-14z"/><path class="b47" d="M4164 3102l18 13 14-10-18-14z"/><path class="b51" d="M4127 3063l19 22 13-11-19-24z"/><path class="b47" d="M4928 3108l23-7 7-11-22 6z"/><path class="b40" d="M4784 3160l19 11 9-13-19-11z"/><path class="b45" d="M4230 3123l18 6 13-10-17-6z"/><path class="b57" d="M4589 3018l18 10 10-9-18-10z"/><path class="b57" d="M4541 3016l19 4 10-9-19-5z"/><path class="b46" d="M4182 3115l18 10 13-10-17-10z"/><path class="b41" d="M4832 3165l20 2 9-13-21-3z"/><path class="b54" d="M4107 3038l20 25 13-13-20-25z"/><path class="b48" d="M4336 3102l18-1 12-11-17 1z"/><path class="b42" d="M4861 3154l21-2 8-13-21 1z"/><path class="b47" d="M4307 3113l17 0 12-11-17 1z"/><path class="b50" d="M4366 3090l17-2 12-12-18 2z"/><path class="b50" d="M4958 3090l24-10 7-11-23 9z"/><path class="b56" d="M5027 3038l26-18 6-7-26 15z"/><path class="b56" d="M4607 3028l19 13 10-10-19-12z"/><path class="b57" d="M4512 3024l18 2 11-10-19-2z"/><path class="b51" d="M4395 3076l17-2 12-12-18 3z"/><path class="b40" d="M4803 3171l20 8 9-14-20-7z"/><path class="b46" d="M4278 3122l17 2 12-11-17-1z"/><path class="b53" d="M4424 3062l18-2 11-11-18 2z"/><path class="b56" d="M4482 3036l19-1 11-11-19 1z"/><path class="b57" d="M4088 3020l19 18 13-13-18-18z"/><path class="b44" d="M4890 3139l23-6 7-12-22 4z"/><path class="b55" d="M4453 3049l18-2 11-11-18 1z"/><path class="b45" d="M4200 3125l17 8 13-10-17-8z"/><path class="b55" d="M4626 3041l19 14 9-10-18-14z"/><path class="b57" d="M4560 3020l18 8 11-10-19-7z"/><path class="b43" d="M4738 3140l18 17 9-12-18-17z"/><path class="b53" d="M4645 3055l19 15 9-10-19-15z"/><path class="b45" d="M4248 3129l17 4 13-11-17-3z"/><path class="b41" d="M4756 3157l19 16 9-13-19-15z"/><path class="b45" d="M4719 3121l19 19 9-12-19-18z"/><path class="b49" d="M4132 3096l19 17 13-11-18-17z"/><path class="b51" d="M4664 3070l18 16 10-10-19-16z"/><path class="b47" d="M4701 3103l18 18 9-11-18-18z"/><path class="b49" d="M4682 3086l19 17 9-11-18-16z"/><path class="b53" d="M4989 3069l25-13 7-9-25 12z"/><path class="b47" d="M4151 3113l18 12 13-10-18-13z"/><path class="b51" d="M4113 3075l19 21 14-11-19-22z"/><path class="b47" d="M4920 3121l24-8 7-12-23 7z"/><path class="b40" d="M4775 3173l19 12 9-14-19-11z"/><path class="b45" d="M4217 3133l17 6 14-10-18-6z"/><path class="b57" d="M4578 3028l19 10 10-10-18-10z"/><path class="b58" d="M4530 3026l19 4 11-10-19-4z"/><path class="b40" d="M4823 3179l21 2 8-14-20-2z"/><path class="b46" d="M4169 3125l17 10 14-10-18-10z"/><path class="b54" d="M4093 3052l20 23 14-12-20-25z"/><path class="b42" d="M4852 3167l22-2 8-13-21 2z"/><path class="b48" d="M4324 3113l17 0 13-12-18 1z"/><path class="b50" d="M4354 3101l17-1 12-12-17 2z"/><path class="b50" d="M4951 3101l24-10 7-11-24 10z"/><path class="b47" d="M4295 3124l17 1 12-12-17 0z"/><path class="b40" d="M4794 3185l20 7 9-13-20-8z"/><path class="b51" d="M4383 3088l18-2 11-12-17 2z"/><path class="b57" d="M4074 3035l19 17 14-14-19-18z"/><path class="b57" d="M4501 3035l18 2 11-11-18-2z"/><path class="b56" d="M4597 3038l19 13 10-10-19-13z"/><path class="b53" d="M4412 3074l18-2 12-12-18 2z"/><path class="b44" d="M4882 3152l23-6 8-13-23 6z"/><path class="b57" d="M5021 3047l27-19 5-8-26 18z"/><path class="b46" d="M4265 3133l17 2 13-11-17-2z"/><path class="b55" d="M4442 3060l18-2 11-11-18 2z"/><path class="b56" d="M4471 3047l19-1 11-11-19 1z"/><path class="b55" d="M4616 3051l19 14 10-10-19-14z"/><path class="b46" d="M4186 3135l18 8 13-10-17-8z"/><path class="b43" d="M4729 3152l18 18 9-13-18-17z"/><path class="b41" d="M4747 3170l19 16 9-13-19-16z"/><path class="b58" d="M4549 3030l19 8 10-10-18-8z"/><path class="b45" d="M4710 3133l19 19 9-12-19-19z"/><path class="b53" d="M4635 3065l19 15 10-10-19-15z"/><path class="b49" d="M4118 3108l19 15 14-10-19-17z"/><path class="b46" d="M4234 3139l18 4 13-10-17-4z"/><path class="b48" d="M4692 3114l18 19 9-12-18-18z"/><path class="b52" d="M4654 3080l19 17 9-11-18-16z"/><path class="b51" d="M4099 3087l19 21 14-12-19-21z"/><path class="b50" d="M4673 3097l19 17 9-11-19-17z"/><path class="b47" d="M4913 3133l23-8 8-12-24 8z"/><path class="b40" d="M4766 3186l20 12 8-13-19-12z"/><path class="b53" d="M4982 3080l26-14 6-10-25 13z"/><path class="b47" d="M4137 3123l18 13 14-11-18-12z"/><path class="b40" d="M4814 3192l21 3 9-14-21-2z"/><path class="b54" d="M4079 3066l20 21 14-12-20-23z"/><path class="b42" d="M4844 3181l22-2 8-14-22 2z"/><path class="b58" d="M4519 3037l19 4 11-11-19-4z"/><path class="b57" d="M4568 3038l19 10 10-10-19-10z"/><path class="b46" d="M4204 3143l17 7 13-11-17-6z"/><path class="b56" d="M4060 3049l19 17 14-14-19-17z"/><path class="b46" d="M4155 3136l17 9 14-10-17-10z"/><path class="b39" d="M4786 3198l20 8 8-14-20-7z"/><path class="b50" d="M4341 3113l18-1 12-12-17 1z"/><path class="b48" d="M4312 3125l17-1 12-11-17 0z"/><path class="b50" d="M4944 3113l24-11 7-11-24 10z"/><path class="b51" d="M4371 3100l18-2 12-12-18 2z"/><path class="b47" d="M4282 3135l17 1 13-11-17-1z"/><path class="b44" d="M4874 3165l23-6 8-13-23 6z"/><path class="b57" d="M4490 3046l19 2 10-11-18-2z"/><path class="b53" d="M4401 3086l18-2 11-12-18 2z"/><path class="b56" d="M4587 3048l19 13 10-10-19-13z"/><path class="b55" d="M4430 3072l19-2 11-12-18 2z"/><path class="b56" d="M4460 3058l19 0 11-12-19 1z"/><path class="b46" d="M4252 3143l17 3 13-11-17-2z"/><path class="b57" d="M5014 3056l28-20 6-8-27 19z"/><path class="b41" d="M4738 3182l19 17 9-13-19-16z"/><path class="b43" d="M4720 3164l18 18 9-12-18-18z"/><path class="b55" d="M4606 3061l19 14 10-10-19-14z"/><path class="b46" d="M4172 3145l18 9 14-11-18-8z"/><path class="b45" d="M4701 3144l19 20 9-12-19-19z"/><path class="b58" d="M4538 3041l19 7 11-10-19-8z"/><path class="b49" d="M4104 3119l18 15 15-11-19-15z"/><path class="b53" d="M4625 3075l19 16 10-11-19-15z"/><path class="b51" d="M4085 3100l19 19 14-11-19-21z"/><path class="b47" d="M4905 3146l24-9 7-12-23 8z"/><path class="b40" d="M4757 3199l20 12 9-13-20-12z"/><path class="b48" d="M4682 3126l19 18 9-11-18-19z"/><path class="b46" d="M4221 3150l17 4 14-11-18-4z"/><path class="b52" d="M4644 3091l19 17 10-11-19-17z"/><path class="b50" d="M4663 3108l19 18 10-12-19-17z"/><path class="b53" d="M4975 3091l26-16 7-9-26 14z"/><path class="b53" d="M4065 3080l20 20 14-13-20-21z"/><path class="b40" d="M4806 3206l21 2 8-13-21-3z"/><path class="b47" d="M4122 3134l18 12 15-10-18-13z"/><path class="b55" d="M4046 3064l19 16 14-14-19-17z"/><path class="b41" d="M4835 3195l22-3 9-13-22 2z"/><path class="b58" d="M4509 3048l19 4 10-11-19-4z"/><path class="b57" d="M4557 3048l20 11 10-11-19-10z"/><path class="b39" d="M4777 3211l20 8 9-13-20-8z"/><path class="b46" d="M4190 3154l17 6 14-10-17-7z"/><path class="b50" d="M4329 3124l17 0 13-12-18 1z"/><path class="b48" d="M4299 3136l17 0 13-12-17 1z"/><path class="b51" d="M4359 3112l18-2 12-12-18 2z"/><path class="b44" d="M4866 3179l23-7 8-13-23 6z"/><path class="b66" d="M5087 2990l32-33 3 1-30 27z"/><path class="b50" d="M4936 3125l25-12 7-11-24 11z"/><path class="b47" d="M4140 3146l18 10 14-11-17-9z"/><path class="b53" d="M4389 3098l18-2 12-12-18 2z"/><path class="b57" d="M4479 3058l18 1 12-11-19-2z"/><path class="b47" d="M4269 3146l17 1 13-11-17-1z"/><path class="b54" d="M4419 3084l18-1 12-13-19 2z"/><path class="b56" d="M4449 3070l18 0 12-12-19 0z"/><path class="b56" d="M4577 3059l19 13 10-11-19-13z"/><path class="b46" d="M4238 3154l17 3 14-11-17-3z"/><path class="b41" d="M4729 3194l19 17 9-12-19-17z"/><path class="b43" d="M4710 3175l19 19 9-12-18-18z"/><path class="b55" d="M4596 3072l19 14 10-11-19-14z"/><path class="b58" d="M5008 3066l28-23 6-7-28 20z"/><path class="b45" d="M4691 3156l19 19 10-11-19-20z"/><path class="b51" d="M4070 3114l19 17 15-12-19-19z"/><path class="b47" d="M4897 3159l24-9 8-13-24 9z"/><path class="b58" d="M4528 3052l19 8 10-12-19-7z"/><path class="b40" d="M4748 3211l20 13 9-13-20-12z"/><path class="b46" d="M4158 3156l18 8 14-10-18-9z"/><path class="b49" d="M4089 3131l19 14 14-11-18-15z"/><path class="b53" d="M4615 3086l19 16 10-11-19-16z"/><path class="b55" d="M4032 3080l19 15 14-15-19-16z"/><path class="b53" d="M4051 3095l19 19 15-14-20-20z"/><path class="b48" d="M4672 3137l19 19 10-12-19-18z"/><path class="b52" d="M4634 3102l19 17 10-11-19-17z"/><path class="b50" d="M4653 3119l19 18 10-11-19-18z"/><path class="b40" d="M4797 3219l21 3 9-14-21-2z"/><path class="b46" d="M4207 3160l17 5 14-11-17-4z"/><path class="b41" d="M4827 3208l22-2 8-14-22 3z"/><path class="b54" d="M4968 3102l27-17 6-10-26 16z"/><path class="b48" d="M4108 3145l18 12 14-11-18-12z"/><path class="b58" d="M4497 3059l19 5 12-12-19-4z"/><path class="b39" d="M4768 3224l20 8 9-13-20-8z"/><path class="b57" d="M4547 3060l19 10 11-11-20-11z"/><path class="b44" d="M4857 3192l24-7 8-13-23 7z"/><path class="b50" d="M4316 3136l18 0 12-12-17 0z"/><path class="b51" d="M4346 3124l18-1 13-13-18 2z"/><path class="b48" d="M4286 3147l17 1 13-12-17 0z"/><path class="b50" d="M4929 3137l25-13 7-11-25 12z"/><path class="b53" d="M4377 3110l18-1 12-13-18 2z"/><path class="b57" d="M4467 3070l19 2 11-13-18-1z"/><path class="b46" d="M4176 3164l17 7 14-11-17-6z"/><path class="b54" d="M4407 3096l18-1 12-12-18 1z"/><path class="b56" d="M4437 3083l19-1 11-12-18 0z"/><path class="b47" d="M4126 3157l18 9 14-10-18-10z"/><path class="b47" d="M4255 3157l18 2 13-12-17-1z"/><path class="b56" d="M4566 3070l19 13 11-11-19-13z"/><path class="b54" d="M4018 3096l18 14 15-15-19-15z"/><path class="b41" d="M4720 3207l19 17 9-13-19-17z"/><path class="b43" d="M4701 3188l19 19 9-13-19-19z"/><path class="b47" d="M4224 3165l18 3 13-11-17-3z"/><path class="b50" d="M4056 3127l19 16 14-12-19-17z"/><path class="b52" d="M4036 3110l20 17 14-13-19-19z"/><path class="b55" d="M4585 3083l20 15 10-12-19-14z"/><path class="b47" d="M4889 3172l24-10 8-12-24 9z"/><path class="b67" d="M5083 2994l33-37 3 0-32 33z"/><path class="b58" d="M4516 3064l20 7 11-11-19-8z"/><path class="b45" d="M4682 3168l19 20 9-13-19-19z"/><path class="b40" d="M4739 3224l20 13 9-13-20-13z"/><path class="b49" d="M4075 3143l18 14 15-12-19-14z"/><path class="b54" d="M4605 3098l19 16 10-12-19-16z"/><path class="b48" d="M4662 3149l20 19 9-12-19-19z"/><path class="b58" d="M5001 3075l29-24 6-8-28 23z"/><path class="b39" d="M4788 3232l21 3 9-13-21-3z"/><path class="b47" d="M4144 3166l17 8 15-10-18-8z"/><path class="b52" d="M4624 3114l19 17 10-12-19-17z"/><path class="b50" d="M4643 3131l19 18 10-12-19-18z"/><path class="b41" d="M4818 3222l23-3 8-13-22 2z"/><path class="b46" d="M4193 3171l18 5 13-11-17-5z"/><path class="b54" d="M4961 3113l27-18 7-10-27 17z"/><path class="b48" d="M4093 3157l18 11 15-11-18-12z"/><path class="b58" d="M4486 3072l19 4 11-12-19-5z"/><path class="b39" d="M4759 3237l20 8 9-13-20-8z"/><path class="b43" d="M4849 3206l23-7 9-14-24 7z"/><path class="b57" d="M4536 3071l19 11 11-12-19-10z"/><path class="b51" d="M4334 3136l18-1 12-12-18 1z"/><path class="b50" d="M4303 3148l18 0 13-12-18 0z"/><path class="b53" d="M4364 3123l18-1 13-13-18 1z"/><path class="b57" d="M4456 3082l19 2 11-12-19-2z"/><path class="b50" d="M4921 3150l25-14 8-12-25 13z"/><path class="b54" d="M4395 3109l18-1 12-13-18 1z"/><path class="b48" d="M4273 3159l17 1 13-12-17-1z"/><path class="b56" d="M4425 3095l19 0 12-13-19 1z"/><path class="b53" d="M4004 3113l18 12 14-15-18-14z"/><path class="b47" d="M4161 3174l18 7 14-10-17-7z"/><path class="b48" d="M4242 3168l17 3 14-12-18-2z"/><path class="b47" d="M4111 3168l18 9 15-11-18-9z"/><path class="b56" d="M4555 3082l20 13 10-12-19-13z"/><path class="b52" d="M4022 3125l19 16 15-14-20-17z"/><path class="b41" d="M4710 3219l20 17 9-12-19-17z"/><path class="b50" d="M4041 3141l19 15 15-13-19-16z"/><path class="b43" d="M4691 3200l19 19 10-12-19-19z"/><path class="b46" d="M4881 3185l24-10 8-13-24 10z"/><path class="b55" d="M4575 3095l19 14 11-11-20-15z"/><path class="b58" d="M4505 3076l20 7 11-12-20-7z"/><path class="b47" d="M4211 3176l17 3 14-11-18-3z"/><path class="b40" d="M4730 3236l20 14 9-13-20-13z"/><path class="b46" d="M4672 3180l19 20 10-12-19-20z"/><path class="b49" d="M4060 3156l18 12 15-11-18-14z"/><path class="b54" d="M4594 3109l20 16 10-11-19-16z"/><path class="b39" d="M4779 3245l22 3 8-13-21-3z"/><path class="b41" d="M4809 3235l23-3 9-13-23 3z"/><path class="b72" d="M5119 2957l34-39 2 6-33 34z"/><path class="b48" d="M4652 3161l20 19 10-12-20-19z"/><path class="b52" d="M4614 3125l19 17 10-11-19-17z"/><path class="b50" d="M4633 3142l19 19 10-12-19-18z"/><path class="b47" d="M4129 3177l18 8 14-11-17-8z"/><path class="b58" d="M4995 3085l29-26 6-8-29 24z"/><path class="b57" d="M4475 3084l19 5 11-13-19-4z"/><path class="b47" d="M4179 3181l17 6 15-11-18-5z"/><path class="b54" d="M4954 3124l27-19 7-10-27 18z"/><path class="b39" d="M4750 3250l20 8 9-13-20-8z"/><path class="b48" d="M4078 3168l18 11 15-11-18-11z"/><path class="b43" d="M4841 3219l23-7 8-13-23 7z"/><path class="b53" d="M3989 3130l18 11 15-16-18-12z"/><path class="b69" d="M5078 2999l34-42 4 0-33 37z"/><path class="b57" d="M4525 3083l19 11 11-12-19-11z"/><path class="b51" d="M4321 3148l18 0 13-13-18 1z"/><path class="b52" d="M4352 3135l18 0 12-13-18 1z"/><path class="b57" d="M4444 3095l19 2 12-13-19-2z"/><path class="b50" d="M4290 3160l18 1 13-13-18 0z"/><path class="b54" d="M4382 3122l19 0 12-14-18 1z"/><path class="b55" d="M4413 3108l19 1 12-14-19 0z"/><path class="b50" d="M4913 3162l26-14 7-12-25 14z"/><path class="b49" d="M4259 3171l18 1 13-12-17-1z"/><path class="b51" d="M4007 3141l19 14 15-14-19-16z"/><path class="b56" d="M4544 3094l20 13 11-12-20-13z"/><path class="b48" d="M4228 3179l18 3 13-11-17-3z"/><path class="b47" d="M4147 3185l17 7 15-11-18-7z"/><path class="b50" d="M4026 3155l18 14 16-13-19-15z"/><path class="b48" d="M4096 3179l18 9 15-11-18-9z"/><path class="b46" d="M4872 3199l25-11 8-13-24 10z"/><path class="b41" d="M4701 3231l19 18 10-13-20-17z"/><path class="b58" d="M4494 3089l19 7 12-13-20-7z"/><path class="b43" d="M4681 3212l20 19 9-12-19-19z"/><path class="b55" d="M4564 3107l19 15 11-13-19-14z"/><path class="b40" d="M4720 3249l20 13 10-12-20-14z"/><path class="b46" d="M4662 3192l19 20 10-12-19-20z"/><path class="b47" d="M4196 3187l18 4 14-12-17-3z"/><path class="b49" d="M4044 3169l19 11 15-12-18-12z"/><path class="b54" d="M4583 3122l20 16 11-13-20-16z"/><path class="b41" d="M4801 3248l22-2 9-14-23 3z"/><path class="b39" d="M4770 3258l22 3 9-13-22-3z"/><path class="b48" d="M4642 3173l20 19 10-12-20-19z"/><path class="b52" d="M3975 3148l18 10 14-17-18-11z"/><path class="b52" d="M4603 3138l20 17 10-13-19-17z"/><path class="b50" d="M4623 3155l19 18 10-12-19-19z"/><path class="b57" d="M4463 3097l19 5 12-13-19-5z"/><path class="b47" d="M4114 3188l18 8 15-11-18-8z"/><path class="b43" d="M4832 3232l23-7 9-13-23 7z"/><path class="b59" d="M4988 3095l29-27 7-9-29 26z"/><path class="b57" d="M4513 3096l20 11 11-13-19-11z"/><path class="b54" d="M4946 3136l28-20 7-11-27 19z"/><path class="b56" d="M4432 3109l19 2 12-14-19-2z"/><path class="b52" d="M4339 3148l18 1 13-14-18 0z"/><path class="b39" d="M4740 3262l21 9 9-13-20-8z"/><path class="b51" d="M4308 3161l18 1 13-14-18 0z"/><path class="b47" d="M4164 3192l18 6 14-11-17-6z"/><path class="b54" d="M4370 3135l19 0 12-13-19 0z"/><path class="b55" d="M4401 3122l19 0 12-13-19-1z"/><path class="b48" d="M4063 3180l18 10 15-11-18-11z"/><path class="b51" d="M3993 3158l18 12 15-15-19-14z"/><path class="b50" d="M4277 3172l18 2 13-13-18-1z"/><path class="b64" d="M5030 3051l32-37 6-6-32 35z"/><path class="b50" d="M4905 3175l26-15 8-12-26 14z"/><path class="b49" d="M4246 3182l17 3 14-13-18-1z"/><path class="b56" d="M4533 3107l20 13 11-13-20-13z"/><path class="b50" d="M4011 3170l18 12 15-13-18-14z"/><path class="b75" d="M5116 2957l36-46 1 7-34 39z"/><path class="b48" d="M4214 3191l18 4 14-13-18-3z"/><path class="b70" d="M5073 3004l35-47 4 0-34 42z"/><path class="b57" d="M4482 3102l20 8 11-14-19-7z"/><path class="b46" d="M4864 3212l25-11 8-13-25 11z"/><path class="b51" d="M3960 3166l18 9 15-17-18-10z"/><path class="b47" d="M4132 3196l17 7 15-11-17-7z"/><path class="b48" d="M4081 3190l18 9 15-11-18-9z"/><path class="b55" d="M4553 3120l20 14 10-12-19-15z"/><path class="b41" d="M4691 3244l20 17 9-12-19-18z"/><path class="b44" d="M4671 3224l20 20 10-13-20-19z"/><path class="b46" d="M4652 3204l19 20 10-12-19-20z"/><path class="b54" d="M4573 3134l19 16 11-12-20-16z"/><path class="b49" d="M4029 3182l18 10 16-12-19-11z"/><path class="b40" d="M4711 3261l20 14 9-13-20-13z"/><path class="b41" d="M4792 3261l22-2 9-13-22 2z"/><path class="b39" d="M4761 3271l22 3 9-13-22-3z"/><path class="b48" d="M4182 3198l18 5 14-12-18-4z"/><path class="b48" d="M4632 3185l20 19 10-12-20-19z"/><path class="b52" d="M4592 3150l20 17 11-12-20-17z"/><path class="b57" d="M4451 3111l19 5 12-14-19-5z"/><path class="b50" d="M4612 3167l20 18 10-12-19-18z"/><path class="b50" d="M3978 3175l18 10 15-15-18-12z"/><path class="b56" d="M4420 3122l19 3 12-14-19-2z"/><path class="b57" d="M4502 3110l20 10 11-13-20-11z"/><path class="b43" d="M4823 3246l24-7 8-14-23 7z"/><path class="b52" d="M4326 3162l19 1 12-14-18-1z"/><path class="b55" d="M4389 3135l18 2 13-15-19 0z"/><path class="b53" d="M4357 3149l19 1 13-15-19 0z"/><path class="b51" d="M4295 3174l18 1 13-13-18-1z"/><path class="b48" d="M4099 3199l17 8 16-11-18-8z"/><path class="b54" d="M4939 3148l27-21 8-11-28 20z"/><path class="b39" d="M4731 3275l21 9 9-13-21-9z"/><path class="b50" d="M4263 3185l18 2 14-13-18-2z"/><path class="b59" d="M4981 3105l30-29 6-8-29 27z"/><path class="b48" d="M4047 3192l18 10 16-12-18-10z"/><path class="b47" d="M4149 3203l18 6 15-11-18-6z"/><path class="b50" d="M4897 3188l26-15 8-13-26 15z"/><path class="b50" d="M3945 3184l18 8 15-17-18-9z"/><path class="b49" d="M4232 3195l18 3 13-13-17-3z"/><path class="b50" d="M3996 3185l18 11 15-14-18-12z"/><path class="b56" d="M4522 3120l19 13 12-13-20-13z"/><path class="b57" d="M4470 3116l20 7 12-13-20-8z"/><path class="b46" d="M4855 3225l25-11 9-13-25 11z"/><path class="b48" d="M4200 3203l18 4 14-12-18-4z"/><path class="b55" d="M4541 3133l20 14 12-13-20-14z"/><path class="b48" d="M4065 3202l18 8 16-11-18-9z"/><path class="b48" d="M4116 3207l18 7 15-11-17-7z"/><path class="b42" d="M4681 3256l20 17 10-12-20-17z"/><path class="b44" d="M4661 3236l20 20 10-12-20-20z"/><path class="b54" d="M4561 3147l20 16 11-13-19-16z"/><path class="b57" d="M4439 3125l19 5 12-14-19-5z"/><path class="b49" d="M4014 3196l17 9 16-13-18-10z"/><path class="b50" d="M3963 3192l17 9 16-16-18-10z"/><path class="b41" d="M4783 3274l22-2 9-13-22 2z"/><path class="b46" d="M4641 3217l20 19 10-12-19-20z"/><path class="b52" d="M4581 3163l20 17 11-13-20-17z"/><path class="b40" d="M4701 3273l20 14 10-12-20-14z"/><path class="b40" d="M4752 3284l21 3 10-13-22-3z"/><path class="b48" d="M4621 3198l20 19 11-13-20-19z"/><path class="b50" d="M4601 3180l20 18 11-13-20-18z"/><path class="b48" d="M4167 3209l18 5 15-11-18-5z"/><path class="b56" d="M4407 3137l20 3 12-15-19-3z"/><path class="b72" d="M5068 3008l36-50 4-1-35 47z"/><path class="b57" d="M4490 3123l20 11 12-14-20-10z"/><path class="b55" d="M4376 3150l19 1 12-14-18-2z"/><path class="b53" d="M4345 3163l18 1 13-14-19-1z"/><path class="b52" d="M4313 3175l19 2 13-14-19-1z"/><path class="b49" d="M3930 3202l17 7 16-17-18-8z"/><path class="b43" d="M4814 3259l24-7 9-13-24 7z"/><path class="b51" d="M4281 3187l19 2 13-14-18-1z"/><path class="b77" d="M5112 2957l38-52 2 6-36 46z"/><path class="b50" d="M4250 3198l18 3 13-14-18-2z"/><path class="b55" d="M4931 3160l28-22 7-11-27 21z"/><path class="b48" d="M4083 3210l18 8 15-11-17-8z"/><path class="b40" d="M4721 3287l21 9 10-12-21-9z"/><path class="b49" d="M4031 3205l18 9 16-12-18-10z"/><path class="b50" d="M4889 3201l26-16 8-12-26 15z"/><path class="b49" d="M3980 3201l18 8 16-13-18-11z"/><path class="b56" d="M4510 3134l20 13 11-14-19-13z"/><path class="b60" d="M4974 3116l30-30 7-10-30 29z"/><path class="b48" d="M4134 3214l18 7 15-12-18-6z"/><path class="b49" d="M4218 3207l18 4 14-13-18-3z"/><path class="b57" d="M4458 3130l20 8 12-15-20-7z"/><path class="b46" d="M4847 3239l25-11 8-14-25 11z"/><path class="b55" d="M4530 3147l20 14 11-14-20-14z"/><path class="b49" d="M3947 3209l17 7 16-15-17-9z"/><path class="b48" d="M4185 3214l18 5 15-12-18-4z"/><path class="b56" d="M4427 3140l19 5 12-15-19-5z"/><path class="b66" d="M5017 3068l34-43 6-6-33 40z"/><path class="b53" d="M4550 3161l20 16 11-14-20-16z"/><path class="b48" d="M4049 3214l18 8 16-12-18-8z"/><path class="b49" d="M3998 3209l17 9 16-13-17-9z"/><path class="b44" d="M4651 3249l20 19 10-12-20-20z"/><path class="b42" d="M4671 3268l20 17 10-12-20-17z"/><path class="b48" d="M4101 3218l18 8 15-12-18-7z"/><path class="b48" d="M3915 3221l16 5 16-17-17-7z"/><path class="b55" d="M4395 3151l19 4 13-15-20-3z"/><path class="b52" d="M4570 3177l20 16 11-13-20-17z"/><path class="b41" d="M4773 3287l23-2 9-13-22 2z"/><path class="b46" d="M4631 3230l20 19 10-13-20-19z"/><path class="b54" d="M4363 3164l19 2 13-15-19-1z"/><path class="b57" d="M4478 3138l20 10 12-14-20-11z"/><path class="b50" d="M4590 3193l21 18 10-13-20-18z"/><path class="b53" d="M4332 3177l18 2 13-15-18-1z"/><path class="b48" d="M4611 3211l20 19 10-13-20-19z"/><path class="b40" d="M4742 3296l22 4 9-13-21-3z"/><path class="b52" d="M4300 3189l18 3 14-15-19-2z"/><path class="b40" d="M4691 3285l21 14 9-12-20-14z"/><path class="b48" d="M4152 3221l18 6 15-13-18-5z"/><path class="b50" d="M4268 3201l18 2 14-14-19-2z"/><path class="b43" d="M4805 3272l24-6 9-14-24 7z"/><path class="b50" d="M4236 3211l18 3 14-13-18-3z"/><path class="b49" d="M3964 3216l17 7 17-14-18-8z"/><path class="b55" d="M4923 3173l28-23 8-12-28 22z"/><path class="b56" d="M4498 3148l20 13 12-14-20-13z"/><path class="b50" d="M4880 3214l26-16 9-13-26 16z"/><path class="b56" d="M4446 3145l20 8 12-15-20-8z"/><path class="b49" d="M4015 3218l18 8 16-12-18-9z"/><path class="b48" d="M4067 3222l18 8 16-12-18-8z"/><path class="b40" d="M4712 3299l21 9 9-12-21-9z"/><path class="b73" d="M5062 3014l38-55 4-1-36 50z"/><path class="b49" d="M4203 3219l18 5 15-13-18-4z"/><path class="b48" d="M4119 3226l18 7 15-12-18-7z"/><path class="b60" d="M4966 3127l31-31 7-10-30 30z"/><path class="b49" d="M3931 3226l17 5 16-15-17-7z"/><path class="b55" d="M4518 3161l21 14 11-14-20-14z"/><path class="b56" d="M4414 3155l20 5 12-15-19-5z"/><path class="b46" d="M4838 3252l25-11 9-13-25 11z"/><path class="b47" d="M3899 3239l16 4 16-17-16-5z"/><path class="b53" d="M4539 3175l20 15 11-13-20-16z"/><path class="b48" d="M4170 3227l19 5 14-13-18-5z"/><path class="b55" d="M4382 3166l20 4 12-15-19-4z"/><path class="b54" d="M4350 3179l19 3 13-16-19-2z"/><path class="b56" d="M4466 3153l20 10 12-15-20-10z"/><path class="b49" d="M3981 3223l18 7 16-12-17-9z"/><path class="b53" d="M4318 3192l19 2 13-15-18-2z"/><path class="b79" d="M5108 2957l40-57 2 5-38 52z"/><path class="b52" d="M4559 3190l20 17 11-14-20-16z"/><path class="b49" d="M4033 3226l18 8 16-12-18-8z"/><path class="b44" d="M4640 3262l21 18 10-12-20-19z"/><path class="b51" d="M4286 3203l19 4 13-15-18-3z"/><path class="b42" d="M4661 3280l20 18 10-13-20-17z"/><path class="b50" d="M4579 3207l21 17 11-13-21-18z"/><path class="b48" d="M4085 3230l18 8 16-12-18-8z"/><path class="b46" d="M4620 3243l20 19 11-13-20-19z"/><path class="b41" d="M4764 3300l23-2 9-13-23 2z"/><path class="b48" d="M4600 3224l20 19 11-13-20-19z"/><path class="b67" d="M5011 3076l34-44 6-7-34 43z"/><path class="b50" d="M4254 3214l18 4 14-15-18-2z"/><path class="b40" d="M4733 3308l22 4 9-12-22-4z"/><path class="b48" d="M4137 3233l18 6 15-12-18-6z"/><path class="b41" d="M4681 3298l21 13 10-12-21-14z"/><path class="b43" d="M4796 3285l24-6 9-13-24 6z"/><path class="b55" d="M4486 3163l21 12 11-14-20-13z"/><path class="b49" d="M3948 3231l17 5 16-13-17-7z"/><path class="b50" d="M4221 3224l19 4 14-14-18-3z"/><path class="b56" d="M4434 3160l20 8 12-15-20-8z"/><path class="b55" d="M4915 3185l28-22 8-13-28 23z"/><path class="b50" d="M4872 3228l26-16 8-14-26 16z"/><path class="b48" d="M3915 3243l16 3 17-15-17-5z"/><path class="b49" d="M3999 3230l17 7 17-11-18-8z"/><path class="b47" d="M3883 3257l16 3 16-17-16-4z"/><path class="b49" d="M4189 3232l18 6 14-14-18-5z"/><path class="b49" d="M4051 3234l18 8 16-12-18-8z"/><path class="b56" d="M4402 3170l19 6 13-16-20-5z"/><path class="b54" d="M4507 3175l20 15 12-15-21-14z"/><path class="b40" d="M4702 3311l21 9 10-12-21-9z"/><path class="b48" d="M4103 3238l19 7 15-12-18-7z"/><path class="b60" d="M4959 3138l31-32 7-10-31 31z"/><path class="b46" d="M4829 3266l25-11 9-14-25 11z"/><path class="b55" d="M4369 3182l20 4 13-16-20-4z"/><path class="b53" d="M4527 3190l20 15 12-15-20-15z"/><path class="b53" d="M4337 3194l19 4 13-16-19-3z"/><path class="b56" d="M4454 3168l20 10 12-15-20-10z"/><path class="b52" d="M4305 3207l19 3 13-16-19-2z"/><path class="b49" d="M4155 3239l19 7 15-14-19-5z"/><path class="b74" d="M5057 3019l39-58 4-2-38 55z"/><path class="b52" d="M4547 3205l21 16 11-14-20-17z"/><path class="b51" d="M4272 3218l19 4 14-15-19-4z"/><path class="b49" d="M3965 3236l17 6 17-12-18-7z"/><path class="b50" d="M4568 3221l20 17 12-14-21-17z"/><path class="b50" d="M4240 3228l18 5 14-15-18-4z"/><path class="b48" d="M4588 3238l21 18 11-13-20-19z"/><path class="b49" d="M4016 3237l18 8 17-11-18-8z"/><path class="b44" d="M4630 3274l20 19 11-13-21-18z"/><path class="b46" d="M4609 3256l21 18 10-12-20-19z"/><path class="b41" d="M4755 3312l23-1 9-13-23 2z"/><path class="b49" d="M4069 3242l18 8 16-12-18-8z"/><path class="b43" d="M4650 3293l21 17 10-12-20-18z"/><path class="b56" d="M4421 3176l21 8 12-16-20-8z"/><path class="b55" d="M4474 3178l21 13 12-16-21-12z"/><path class="b49" d="M4122 3245l18 7 15-13-18-6z"/><path class="b67" d="M5004 3086l35-46 6-8-34 44z"/><path class="b41" d="M4723 3320l22 5 10-13-22-4z"/><path class="b49" d="M3931 3246l17 3 17-13-17-5z"/><path class="b49" d="M4207 3238l18 5 15-15-19-4z"/><path class="b43" d="M4787 3298l24-5 9-14-24 6z"/><path class="b46" d="M3867 3275l16 2 16-17-16-3z"/><path class="b41" d="M4671 3310l21 13 10-12-21-13z"/><path class="b48" d="M3899 3260l15 1 17-15-16-3z"/><path class="b55" d="M4906 3198l29-22 8-13-28 22z"/><path class="b50" d="M4863 3241l26-15 9-14-26 16z"/><path class="b55" d="M4389 3186l20 6 12-16-19-6z"/><path class="b54" d="M4495 3191l20 13 12-14-20-15z"/><path class="b49" d="M4174 3246l18 6 15-14-18-6z"/><path class="b54" d="M4356 3198l20 4 13-16-20-4z"/><path class="b81" d="M5104 2958l42-63 2 5-40 57z"/><path class="b49" d="M3982 3242l17 7 17-12-17-7z"/><path class="b53" d="M4324 3210l19 4 13-16-19-4z"/><path class="b49" d="M4034 3245l18 8 17-11-18-8z"/><path class="b55" d="M4442 3184l20 10 12-16-20-10z"/><path class="b53" d="M4515 3204l21 15 11-14-20-15z"/><path class="b46" d="M4820 3279l25-10 9-14-25 11z"/><path class="b49" d="M4087 3250l19 7 16-12-19-7z"/><path class="b41" d="M4692 3323l21 10 10-13-21-9z"/><path class="b61" d="M4951 3150l31-33 8-11-31 32z"/><path class="b52" d="M4291 3222l19 4 14-16-19-3z"/><path class="b51" d="M4258 3233l19 5 14-16-19-4z"/><path class="b52" d="M4536 3219l20 16 12-14-21-16z"/><path class="b49" d="M4140 3252l18 7 16-13-19-7z"/><path class="b50" d="M4556 3235l21 17 11-14-20-17z"/><path class="b49" d="M3948 3249l16 5 18-12-17-6z"/><path class="b50" d="M4225 3243l19 5 14-15-18-5z"/><path class="b55" d="M4409 3192l20 8 13-16-21-8z"/><path class="b55" d="M4462 3194l20 12 13-15-21-13z"/><path class="b45" d="M3851 3294l15 1 17-18-16-2z"/><path class="b48" d="M4577 3252l21 17 11-13-21-18z"/><path class="b47" d="M4598 3269l21 18 11-13-21-18z"/><path class="b45" d="M4619 3287l20 18 11-12-20-19z"/><path class="b49" d="M3999 3249l18 7 17-11-18-8z"/><path class="b75" d="M5051 3025l40-61 5-3-39 58z"/><path class="b42" d="M4745 3325l23-1 10-13-23 1z"/><path class="b47" d="M3883 3277l14 0 17-16-15-1z"/><path class="b49" d="M4052 3253l19 8 16-11-18-8z"/><path class="b49" d="M4192 3252l19 6 14-15-18-5z"/><path class="b43" d="M4639 3305l21 17 11-12-21-17z"/><path class="b49" d="M3914 3261l16 2 18-14-17-3z"/><path class="b55" d="M4376 3202l20 7 13-17-20-6z"/><path class="b49" d="M4106 3257l18 8 16-13-18-7z"/><path class="b44" d="M4778 3311l24-5 9-13-24 5z"/><path class="b54" d="M4482 3206l21 14 12-16-20-13z"/><path class="b41" d="M4713 3333l22 4 10-12-22-5z"/><path class="b50" d="M4854 3255l27-15 8-14-26 15z"/><path class="b55" d="M4898 3212l29-23 8-13-29 22z"/><path class="b54" d="M4343 3214l20 5 13-17-20-4z"/><path class="b68" d="M4997 3096l35-47 7-9-35 46z"/><path class="b42" d="M4660 3322l21 13 11-12-21-13z"/><path class="b53" d="M4310 3226l20 5 13-17-19-4z"/><path class="b55" d="M4429 3200l20 10 13-16-20-10z"/><path class="b49" d="M4158 3259l19 7 15-14-18-6z"/><path class="b51" d="M4277 3238l20 5 13-17-19-4z"/><path class="b53" d="M4503 3220l21 14 12-15-21-15z"/><path class="b50" d="M3964 3254l18 7 17-12-17-7z"/><path class="b46" d="M4811 3293l25-10 9-14-25 10z"/><path class="b51" d="M4244 3248l19 6 14-16-19-5z"/><path class="b61" d="M4943 3163l32-34 7-12-31 33z"/><path class="b49" d="M4017 3256l18 8 17-11-18-8z"/><path class="b49" d="M4071 3261l18 9 17-13-19-7z"/><path class="b51" d="M4524 3234l21 16 11-15-20-16z"/><path class="b41" d="M4681 3335l22 10 10-12-21-10z"/><path class="b55" d="M4396 3209l20 8 13-17-20-8z"/><path class="b45" d="M3834 3313l15 0 17-18-15-1z"/><path class="b49" d="M4124 3265l19 8 15-14-18-7z"/><path class="b54" d="M4449 3210l21 12 12-16-20-12z"/><path class="b50" d="M4211 3258l19 6 14-16-19-5z"/><path class="b50" d="M4545 3250l21 16 11-14-21-17z"/><path class="b50" d="M3930 3263l17 4 17-13-16-5z"/><path class="b54" d="M4363 3219l20 7 13-17-20-7z"/><path class="b47" d="M3866 3295l14-2 17-16-14 0z"/><path class="b48" d="M4566 3266l21 17 11-14-21-17z"/><path class="b83" d="M5100 2959l43-68 3 4-42 63z"/><path class="b47" d="M4587 3283l20 17 12-13-21-18z"/><path class="b49" d="M4177 3266l19 8 15-16-19-6z"/><path class="b49" d="M3897 3277l15 0 18-14-16-2z"/><path class="b53" d="M4330 3231l20 5 13-17-20-5z"/><path class="b45" d="M4607 3300l21 18 11-13-20-18z"/><path class="b53" d="M4470 3222l21 13 12-15-21-14z"/><path class="b42" d="M4735 3337l24 0 9-13-23 1z"/><path class="b50" d="M3982 3261l18 7 17-12-18-7z"/><path class="b52" d="M4297 3243l19 5 14-17-20-5z"/><path class="b43" d="M4628 3318l22 16 10-12-21-17z"/><path class="b49" d="M4035 3264l19 9 17-12-19-8z"/><path class="b54" d="M4416 3217l21 10 12-17-20-10z"/><path class="b50" d="M4845 3269l27-15 9-14-27 15z"/><path class="b49" d="M4089 3270l19 8 16-13-18-8z"/><path class="b55" d="M4889 3226l29-23 9-14-29 23z"/><path class="b44" d="M4768 3324l24-4 10-14-24 5z"/><path class="b51" d="M4263 3254l20 6 14-17-20-5z"/><path class="b76" d="M5045 3032l41-64 5-4-40 61z"/><path class="b41" d="M4703 3345l22 4 10-12-22-4z"/><path class="b49" d="M4143 3273l19 8 15-15-19-7z"/><path class="b52" d="M4491 3235l21 15 12-16-21-14z"/><path class="b68" d="M4990 3106l35-48 7-9-35 47z"/><path class="b42" d="M4650 3334l21 13 10-12-21-13z"/><path class="b50" d="M4230 3264l19 7 14-17-19-6z"/><path class="b44" d="M3817 3331l14 0 18-18-15 0z"/><path class="b54" d="M4383 3226l20 8 13-17-20-8z"/><path class="b46" d="M4802 3306l25-8 9-15-25 10z"/><path class="b51" d="M4512 3250l21 14 12-14-21-16z"/><path class="b61" d="M4935 3176l32-34 8-13-32 34z"/><path class="b54" d="M4437 3227l20 12 13-17-21-12z"/><path class="b50" d="M3947 3267l17 5 18-11-18-7z"/><path class="b50" d="M4196 3274l19 7 15-17-19-6z"/><path class="b53" d="M4350 3236l20 7 13-17-20-7z"/><path class="b49" d="M4054 3273l19 9 16-12-18-9z"/><path class="b50" d="M4000 3268l18 8 17-12-18-8z"/><path class="b49" d="M4108 3278l19 9 16-14-19-8z"/><path class="b50" d="M4533 3264l21 16 12-14-21-16z"/><path class="b46" d="M3849 3313l13-4 18-16-14 2z"/><path class="b42" d="M4671 3347l22 10 10-12-22-10z"/><path class="b52" d="M4316 3248l20 6 14-18-20-5z"/><path class="b49" d="M4554 3280l21 16 12-13-21-17z"/><path class="b50" d="M3912 3277l17 2 18-12-17-4z"/><path class="b53" d="M4457 3239l21 13 13-17-21-13z"/><path class="b49" d="M4162 3281l19 8 15-15-19-8z"/><path class="b49" d="M3880 3293l15-2 17-14-15 0z"/><path class="b52" d="M4283 3260l19 6 14-18-19-5z"/><path class="b54" d="M4403 3234l21 10 13-17-21-10z"/><path class="b47" d="M4575 3296l21 17 11-13-20-17z"/><path class="b51" d="M4249 3271l20 6 14-17-20-6z"/><path class="b45" d="M4596 3313l21 17 11-12-21-18z"/><path class="b55" d="M4881 3240l28-22 9-15-29 23z"/><path class="b50" d="M4836 3283l27-14 9-15-27 15z"/><path class="b43" d="M4725 3349l24 1 10-13-24 0z"/><path class="b52" d="M4478 3252l21 13 13-15-21-15z"/><path class="b44" d="M4759 3337l24-3 9-14-24 4z"/><path class="b50" d="M3964 3272l18 7 18-11-18-7z"/><path class="b49" d="M4073 3282l19 9 16-13-19-8z"/><path class="b44" d="M4617 3330l22 16 11-12-22-16z"/><path class="b50" d="M4215 3281l20 7 14-17-19-7z"/><path class="b53" d="M4370 3243l20 9 13-18-20-8z"/><path class="b50" d="M4018 3276l19 8 17-11-19-9z"/><path class="b49" d="M4127 3287l19 9 16-15-19-8z"/><path class="b53" d="M4424 3244l21 12 12-17-20-12z"/><path class="b42" d="M4693 3357l22 5 10-13-22-4z"/><path class="b85" d="M5096 2961l44-73 3 3-43 68z"/><path class="b51" d="M4499 3265l22 14 12-15-21-14z"/><path class="b53" d="M4336 3254l20 8 14-19-20-7z"/><path class="b43" d="M4639 3346l21 13 11-12-21-13z"/><path class="b49" d="M4181 3289l19 8 15-16-19-7z"/><path class="b47" d="M4792 3320l25-8 10-14-25 8z"/><path class="b77" d="M5039 3040l41-66 6-6-41 64z"/><path class="b61" d="M4927 3189l31-34 9-13-32 34z"/><path class="b46" d="M3831 3331l13-6 18-16-13 4z"/><path class="b52" d="M4302 3266l20 7 14-19-20-6z"/><path class="b51" d="M3929 3279l17 5 18-12-17-5z"/><path class="b50" d="M4521 3279l21 16 12-15-21-16z"/><path class="b51" d="M4269 3277l19 7 14-18-19-6z"/><path class="b53" d="M4445 3256l21 12 12-16-21-13z"/><path class="b49" d="M4092 3291l19 9 16-13-19-9z"/><path class="b53" d="M4390 3252l21 10 13-18-21-10z"/><path class="b50" d="M4037 3284l19 9 17-11-19-9z"/><path class="b51" d="M3982 3279l18 8 18-11-18-8z"/><path class="b49" d="M4146 3296l20 9 15-16-19-8z"/><path class="b49" d="M4542 3295l21 15 12-14-21-16z"/><path class="b48" d="M3862 3309l14-3 19-15-15 2z"/><path class="b50" d="M4235 3288l19 7 15-18-20-6z"/><path class="b50" d="M3895 3291l15 2 19-14-17-2z"/><path class="b42" d="M4660 3359l22 10 11-12-22-10z"/><path class="b47" d="M4563 3310l22 17 11-14-21-17z"/><path class="b53" d="M4356 3262l21 8 13-18-20-9z"/><path class="b55" d="M4872 3254l28-21 9-15-28 22z"/><path class="b50" d="M4827 3298l26-13 10-16-27 14z"/><path class="b52" d="M4466 3268l21 13 12-16-21-13z"/><path class="b49" d="M4200 3297l20 8 15-17-20-7z"/><path class="b46" d="M4585 3327l21 16 11-13-21-17z"/><path class="b53" d="M4411 3262l21 11 13-17-21-12z"/><path class="b52" d="M4322 3273l21 7 13-18-20-8z"/><path class="b44" d="M4749 3350l24-2 10-14-24 3z"/><path class="b43" d="M4715 3362l24 1 10-13-24-1z"/><path class="b49" d="M4111 3300l19 10 16-14-19-9z"/><path class="b51" d="M3946 3284l18 7 18-12-18-7z"/><path class="b50" d="M4056 3293l19 10 17-12-19-9z"/><path class="b44" d="M4606 3343l22 15 11-12-22-16z"/><path class="b51" d="M4487 3281l21 14 13-16-22-14z"/><path class="b51" d="M4288 3284l21 8 13-19-20-7z"/><path class="b51" d="M4000 3287l19 9 18-12-19-8z"/><path class="b49" d="M4166 3305l19 9 15-17-19-8z"/><path class="b69" d="M4975 3129l36-48 7-12-36 48z"/><path class="b61" d="M4918 3203l32-33 8-15-31 34z"/><path class="b47" d="M4783 3334l25-7 9-15-25 8z"/><path class="b50" d="M4254 3295l20 8 14-19-19-7z"/><path class="b43" d="M4682 3369l23 5 10-12-22-5z"/><path class="b53" d="M4377 3270l20 10 14-18-21-10z"/><path class="b52" d="M4432 3273l21 12 13-17-21-12z"/><path class="b50" d="M4508 3295l22 14 12-14-21-16z"/><path class="b43" d="M4628 3358l21 13 11-12-21-13z"/><path class="b78" d="M5032 3049l42-68 6-7-41 66z"/><path class="b50" d="M4220 3305l20 9 14-19-19-7z"/><path class="b51" d="M3910 3293l17 4 19-13-17-5z"/><path class="b48" d="M3844 3325l14-4 18-15-14 3z"/><path class="b52" d="M4343 3280l20 9 14-19-21-8z"/><path class="b49" d="M4130 3310l20 10 16-15-20-9z"/><path class="b50" d="M4075 3303l19 11 17-14-19-9z"/><path class="b49" d="M4530 3309l21 16 12-15-21-15z"/><path class="b87" d="M5091 2964l45-77 4 1-44 73z"/><path class="b50" d="M3876 3306l16 1 18-14-15-2z"/><path class="b51" d="M4019 3296l19 10 18-13-19-9z"/><path class="b51" d="M3964 3291l18 8 18-12-18-8z"/><path class="b52" d="M4453 3285l21 13 13-17-21-13z"/><path class="b49" d="M4185 3314l20 9 15-18-20-8z"/><path class="b55" d="M4863 3269l28-20 9-16-28 21z"/><path class="b51" d="M4309 3292l20 8 14-20-21-7z"/><path class="b52" d="M4397 3280l22 11 13-18-21-11z"/><path class="b50" d="M4817 3312l27-12 9-15-26 13z"/><path class="b47" d="M4551 3325l22 15 12-13-22-17z"/><path class="b43" d="M4649 3371l23 10 10-12-22-10z"/><path class="b50" d="M4274 3303l20 8 15-19-21-8z"/><path class="b46" d="M4573 3340l21 16 12-13-21-16z"/><path class="b51" d="M4474 3298l22 13 12-16-21-14z"/><path class="b50" d="M4240 3314l20 8 14-19-20-8z"/><path class="b49" d="M4094 3314l20 10 16-14-19-10z"/><path class="b45" d="M4739 3363l24-1 10-14-24 2z"/><path class="b52" d="M4363 3289l21 10 13-19-20-10z"/><path class="b49" d="M4150 3320l20 10 15-16-19-9z"/><path class="b44" d="M4705 3374l24 3 10-14-24-1z"/><path class="b51" d="M3927 3297l18 7 19-13-18-7z"/><path class="b50" d="M4038 3306l20 10 17-13-19-10z"/><path class="b69" d="M4967 3142l36-49 8-12-36 48z"/><path class="b61" d="M4909 3218l32-33 9-15-32 33z"/><path class="b52" d="M4419 3291l21 11 13-17-21-12z"/><path class="b45" d="M4594 3356l22 14 12-12-22-15z"/><path class="b51" d="M3982 3299l19 9 18-12-19-9z"/><path class="b47" d="M4773 3348l25-6 10-15-25 7z"/><path class="b49" d="M4205 3323l20 9 15-18-20-9z"/><path class="b51" d="M4329 3300l21 8 13-19-20-9z"/><path class="b50" d="M4496 3311l21 14 13-16-22-14z"/><path class="b43" d="M4672 3381l23 6 10-13-23-5z"/><path class="b51" d="M4294 3311l21 8 14-19-20-8z"/><path class="b51" d="M3892 3307l17 4 18-14-17-4z"/><path class="b44" d="M4616 3370l22 13 11-12-21-13z"/><path class="b49" d="M4114 3324l20 11 16-15-20-10z"/><path class="b52" d="M4384 3299l21 10 14-18-22-11z"/><path class="b51" d="M4440 3302l21 12 13-16-21-13z"/><path class="b79" d="M5025 3058l42-68 7-9-42 68z"/><path class="b49" d="M4517 3325l22 14 12-14-21-16z"/><path class="b49" d="M4170 3330l20 10 15-17-20-9z"/><path class="b50" d="M4260 3322l20 9 14-20-20-8z"/><path class="b50" d="M3858 3321l15 0 19-14-16-1z"/><path class="b50" d="M4058 3316l19 11 17-13-19-11z"/><path class="b54" d="M4853 3285l29-20 9-16-28 20z"/><path class="b50" d="M4808 3327l26-11 10-16-27 12z"/><path class="b51" d="M4001 3308l19 10 18-12-19-10z"/><path class="b52" d="M3945 3304l19 7 18-12-18-8z"/><path class="b48" d="M4539 3339l22 15 12-14-22-15z"/><path class="b49" d="M4225 3332l20 9 15-19-20-8z"/><path class="b51" d="M4350 3308l20 10 14-19-21-10z"/><path class="b51" d="M4461 3314l22 13 13-16-22-13z"/><path class="b44" d="M4638 3383l23 10 11-12-23-10z"/><path class="b88" d="M5086 2968l46-80 4-1-45 77z"/><path class="b51" d="M4405 3309l21 11 14-18-21-11z"/><path class="b49" d="M4134 3335l20 11 16-16-20-10z"/><path class="b51" d="M4315 3319l21 9 14-20-21-8z"/><path class="b47" d="M4561 3354l22 15 11-13-21-16z"/><path class="b61" d="M4900 3233l32-32 9-16-32 33z"/><path class="b50" d="M4077 3327l20 12 17-15-20-10z"/><path class="b49" d="M4190 3340l20 10 15-18-20-9z"/><path class="b45" d="M4729 3377l24-1 10-14-24 1z"/><path class="b69" d="M4958 3155l36-48 9-14-36 49z"/><path class="b50" d="M4280 3331l21 8 14-20-21-8z"/><path class="b52" d="M3909 3311l17 6 19-13-18-7z"/><path class="b44" d="M4695 3387l23 3 11-13-24-3z"/><path class="b51" d="M4020 3318l20 11 18-13-20-10z"/><path class="b50" d="M4483 3327l21 13 13-15-21-14z"/><path class="b47" d="M4763 3362l25-5 10-15-25 6z"/><path class="b51" d="M4370 3318l22 10 13-19-21-10z"/><path class="b46" d="M4583 3369l22 14 11-13-22-14z"/><path class="b52" d="M3964 3311l19 10 18-13-19-9z"/><path class="b49" d="M4245 3341l21 9 14-19-20-9z"/><path class="b51" d="M4426 3320l22 12 13-18-21-12z"/><path class="b49" d="M4154 3346l20 11 16-17-20-10z"/><path class="b51" d="M3873 3321l17 3 19-13-17-4z"/><path class="b49" d="M4097 3339l20 11 17-15-20-11z"/><path class="b54" d="M4844 3300l28-18 10-17-29 20z"/><path class="b49" d="M4504 3340l22 14 13-15-22-14z"/><path class="b51" d="M4336 3328l21 10 13-20-20-10z"/><path class="b44" d="M4661 3393l23 6 11-12-23-6z"/><path class="b79" d="M5018 3069l42-68 7-11-42 68z"/><path class="b49" d="M4210 3350l20 10 15-19-20-9z"/><path class="b45" d="M4605 3383l22 12 11-12-22-13z"/><path class="b50" d="M4798 3342l26-9 10-17-26 11z"/><path class="b50" d="M4040 3329l20 12 17-14-19-11z"/><path class="b50" d="M4301 3339l21 10 14-21-21-9z"/><path class="b51" d="M4392 3328l21 11 13-19-21-11z"/><path class="b50" d="M4448 3332l22 12 13-17-22-13z"/><path class="b48" d="M4526 3354l22 14 13-14-22-15z"/><path class="b52" d="M3983 3321l19 10 18-13-19-10z"/><path class="b52" d="M3926 3317l19 7 19-13-19-7z"/><path class="b49" d="M4266 3350l20 9 15-20-21-8z"/><path class="b49" d="M4117 3350l21 12 16-16-20-11z"/><path class="b61" d="M4891 3249l32-32 9-16-32 32z"/><path class="b48" d="M4174 3357l21 11 15-18-20-10z"/><path class="b69" d="M4950 3170l36-48 8-15-36 48z"/><path class="b50" d="M4357 3338l21 10 14-20-22-10z"/><path class="b50" d="M4060 3341l20 13 17-15-20-12z"/><path class="b44" d="M4627 3395l23 10 11-12-23-10z"/><path class="b47" d="M4548 3368l23 14 12-13-22-15z"/><path class="b48" d="M4230 3360l21 10 15-20-21-9z"/><path class="b50" d="M4470 3344l22 12 12-16-21-13z"/><path class="b46" d="M4718 3390l24 0 11-14-24 1z"/><path class="b50" d="M4413 3339l22 11 13-18-22-12z"/><path class="b89" d="M5080 2974l47-83 5-3-46 80z"/><path class="b52" d="M3890 3324l17 6 19-13-17-6z"/><path class="b47" d="M4753 3376l25-3 10-16-25 5z"/><path class="b50" d="M4322 3349l21 9 14-20-21-10z"/><path class="b51" d="M4002 3331l20 12 18-14-20-11z"/><path class="b45" d="M4684 3399l23 4 11-13-23-3z"/><path class="b48" d="M4138 3362l20 12 16-17-20-11z"/><path class="b54" d="M4834 3316l28-16 10-18-28 18z"/><path class="b52" d="M3945 3324l19 10 19-13-19-10z"/><path class="b46" d="M4571 3382l22 13 12-12-22-14z"/><path class="b48" d="M4195 3368l20 11 15-19-20-10z"/><path class="b49" d="M4286 3359l21 10 15-20-21-10z"/><path class="b49" d="M4080 3354l21 12 16-16-20-11z"/><path class="b49" d="M4492 3356l22 13 12-15-22-14z"/><path class="b50" d="M4378 3348l21 10 14-19-21-11z"/><path class="b50" d="M4788 3357l26-8 10-16-26 9z"/><path class="b79" d="M5011 3081l42-68 7-12-42 68z"/><path class="b50" d="M4435 3350l21 11 14-17-22-12z"/><path class="b48" d="M4251 3370l21 9 14-20-20-9z"/><path class="b51" d="M4022 3343l20 13 18-15-20-12z"/><path class="b45" d="M4650 3405l23 7 11-13-23-6z"/><path class="b46" d="M4593 3395l22 12 12-12-22-12z"/><path class="b48" d="M4158 3374l21 12 16-18-21-11z"/><path class="b50" d="M4343 3358l21 9 14-19-21-10z"/><path class="b60" d="M4882 3265l31-30 10-18-32 32z"/><path class="b48" d="M4514 3369l22 13 12-14-22-14z"/><path class="b49" d="M4101 3366l20 13 17-17-21-12z"/><path class="b52" d="M3907 3330l19 8 19-14-19-7z"/><path class="b52" d="M3964 3334l20 11 18-14-19-10z"/><path class="b48" d="M4215 3379l21 10 15-19-21-10z"/><path class="b69" d="M4941 3185l36-48 9-15-36 48z"/><path class="b49" d="M4307 3369l21 9 15-20-21-9z"/><path class="b50" d="M4399 3358l22 10 14-18-22-11z"/><path class="b49" d="M4456 3361l22 12 14-17-22-12z"/><path class="b50" d="M4042 3356l21 13 17-15-20-13z"/><path class="b47" d="M4536 3382l22 13 13-13-23-14z"/><path class="b48" d="M4272 3379l21 10 14-20-21-10z"/><path class="b46" d="M4707 3403l25 2 10-15-24 0z"/><path class="b48" d="M4179 3386l21 12 15-19-20-11z"/><path class="b47" d="M4742 3390l25-1 11-16-25 3z"/><path class="b48" d="M4121 3379l21 13 16-18-20-12z"/><path class="b45" d="M4615 3407l23 10 12-12-23-10z"/><path class="b54" d="M4824 3333l28-15 10-18-28 16z"/><path class="b50" d="M4364 3367l21 10 14-19-21-10z"/><path class="b52" d="M3984 3345l20 13 18-15-20-12z"/><path class="b49" d="M4063 3369l21 14 17-17-21-12z"/><path class="b48" d="M4236 3389l21 10 15-20-21-9z"/><path class="b45" d="M4673 3412l24 5 10-14-23-4z"/><path class="b90" d="M5074 2981l48-84 5-6-47 83z"/><path class="b49" d="M4478 3373l23 12 13-16-22-13z"/><path class="b53" d="M3926 3338l19 10 19-14-19-10z"/><path class="b50" d="M4421 3368l22 11 13-18-21-11z"/><path class="b47" d="M4558 3395l23 13 12-13-22-13z"/><path class="b50" d="M4778 3373l26-6 10-18-26 8z"/><path class="b49" d="M4328 3378l22 9 14-20-21-9z"/><path class="b60" d="M4872 3282l31-29 10-18-31 30z"/><path class="b48" d="M4142 3392l21 13 16-19-21-12z"/><path class="b51" d="M4004 3358l20 13 18-15-20-13z"/><path class="b47" d="M4200 3398l21 11 15-20-21-10z"/><path class="b48" d="M4293 3389l21 9 14-20-21-9z"/><path class="b49" d="M4084 3383l21 14 16-18-20-13z"/><path class="b49" d="M4385 3377l22 10 14-19-22-10z"/><path class="b69" d="M4932 3201l36-48 9-16-36 48z"/><path class="b48" d="M4501 3385l22 12 13-15-22-13z"/><path class="b45" d="M4638 3417l24 8 11-13-23-7z"/><path class="b46" d="M4581 3408l23 11 11-12-22-12z"/><path class="b49" d="M4443 3379l22 11 13-17-22-12z"/><path class="b52" d="M3945 3348l20 11 19-14-20-11z"/><path class="b48" d="M4257 3399l21 10 15-20-21-10z"/><path class="b50" d="M4024 3371l21 14 18-16-21-13z"/><path class="b47" d="M4163 3405l21 12 16-19-21-12z"/><path class="b49" d="M4350 3387l21 9 14-19-21-10z"/><path class="b53" d="M4814 3349l28-13 10-18-28 15z"/><path class="b48" d="M4105 3397l21 13 16-18-21-13z"/><path class="b47" d="M4221 3409l21 10 15-20-21-10z"/><path class="b48" d="M4523 3397l23 12 12-14-22-13z"/><path class="b48" d="M4732 3405l25 0 10-16-25 1z"/><path class="b46" d="M4697 3417l24 3 11-15-25-2z"/><path class="b48" d="M4314 3398l21 9 15-20-22-9z"/><path class="b49" d="M4407 3387l22 10 14-18-22-11z"/><path class="b52" d="M3965 3359l20 13 19-14-20-13z"/><path class="b49" d="M4045 3385l21 15 18-17-21-14z"/><path class="b49" d="M4465 3390l22 11 14-16-23-12z"/><path class="b46" d="M4604 3419l23 10 11-12-23-10z"/><path class="b59" d="M4862 3300l31-28 10-19-31 29z"/><path class="b50" d="M4767 3389l26-5 11-17-26 6z"/><path class="b47" d="M4126 3410l21 14 16-19-21-13z"/><path class="b47" d="M4184 3417l21 12 16-20-21-11z"/><path class="b79" d="M4994 3107l42-66 9-14-42 66z"/><path class="b48" d="M4278 3409l21 9 15-20-21-9z"/><path class="b46" d="M4662 3425l24 5 11-13-24-5z"/><path class="b91" d="M5067 2990l49-85 6-8-48 84z"/><path class="b47" d="M4546 3409l22 12 13-13-23-13z"/><path class="b49" d="M4371 3396l22 10 14-19-22-10z"/><path class="b68" d="M4923 3217l36-48 9-16-36 48z"/><path class="b49" d="M4066 3400l22 14 17-17-21-14z"/><path class="b51" d="M3985 3372l21 15 18-16-20-13z"/><path class="b47" d="M4242 3419l21 10 15-20-21-10z"/><path class="b49" d="M4487 3401l23 11 13-15-22-12z"/><path class="b49" d="M4429 3397l22 10 14-17-22-11z"/><path class="b47" d="M4147 3424l21 13 16-20-21-12z"/><path class="b49" d="M4335 3407l22 8 14-19-21-9z"/><path class="b53" d="M4804 3367l27-11 11-20-28 13z"/><path class="b47" d="M4205 3429l21 11 16-21-21-10z"/><path class="b46" d="M4627 3429l23 8 12-12-24-8z"/><path class="b48" d="M4088 3414l21 15 17-19-21-13z"/><path class="b50" d="M4006 3387l21 15 18-17-21-14z"/><path class="b47" d="M4568 3421l23 11 13-13-23-11z"/><path class="b48" d="M4299 3418l21 8 15-19-21-9z"/><path class="b49" d="M4393 3406l22 9 14-18-22-10z"/><path class="b59" d="M4852 3318l31-25 10-21-31 28z"/><path class="b48" d="M4721 3420l25 1 11-16-25 0z"/><path class="b48" d="M4510 3412l23 12 13-15-23-12z"/><path class="b46" d="M4168 3437l21 12 16-20-21-12z"/><path class="b47" d="M4263 3429l21 9 15-20-21-9z"/><path class="b49" d="M4027 3402l22 15 17-17-21-15z"/><path class="b49" d="M4451 3407l23 10 13-16-22-11z"/><path class="b47" d="M4109 3429l21 14 17-19-21-14z"/><path class="b47" d="M4686 3430l24 5 11-15-24-3z"/><path class="b50" d="M4757 3405l26-3 10-18-26 5z"/><path class="b79" d="M4986 3122l42-66 8-15-42 66z"/><path class="b49" d="M4357 3415l22 9 14-18-22-10z"/><path class="b47" d="M4226 3440l21 10 16-21-21-10z"/><path class="b68" d="M4913 3235l36-48 10-18-36 48z"/><path class="b47" d="M4591 3432l24 9 12-12-23-10z"/><path class="b48" d="M4049 3417l21 15 18-18-22-14z"/><path class="b92" d="M5060 3001l49-86 7-10-49 85z"/><path class="b47" d="M4650 3437l24 7 12-14-24-5z"/><path class="b46" d="M4130 3443l22 14 16-20-21-13z"/><path class="b48" d="M4320 3426l22 8 15-19-22-8z"/><path class="b48" d="M4533 3424l23 10 12-13-22-12z"/><path class="b49" d="M4415 3415l22 9 14-17-22-10z"/><path class="b46" d="M4189 3449l21 12 16-21-21-11z"/><path class="b49" d="M4474 3417l22 11 14-16-23-11z"/><path class="b53" d="M4793 3384l28-9 10-19-27 11z"/><path class="b48" d="M4070 3432l22 16 17-19-21-15z"/><path class="b47" d="M4284 3438l21 8 15-20-21-8z"/><path class="b58" d="M4842 3336l30-22 11-21-31 25z"/><path class="b49" d="M4379 3424l22 9 14-18-22-9z"/><path class="b46" d="M4152 3457l21 13 16-21-21-12z"/><path class="b47" d="M4247 3450l22 8 15-20-21-9z"/><path class="b47" d="M4092 3448l22 15 16-20-21-14z"/><path class="b47" d="M4615 3441l24 9 11-13-23-8z"/><path class="b48" d="M4556 3434l23 10 12-12-23-11z"/><path class="b48" d="M4710 3435l25 3 11-17-25-1z"/><path class="b49" d="M4437 3424l23 10 14-17-23-10z"/><path class="b46" d="M4210 3461l22 10 15-21-21-10z"/><path class="b50" d="M4746 3421l26-1 11-18-26 3z"/><path class="b79" d="M4977 3137l42-67 9-14-42 66z"/><path class="b49" d="M4496 3428l23 10 14-14-23-12z"/><path class="b68" d="M4903 3253l36-47 10-19-36 48z"/><path class="b48" d="M4342 3434l22 8 15-18-22-9z"/><path class="b47" d="M4674 3444l25 6 11-15-24-5z"/><path class="b46" d="M4114 3463l21 15 17-21-22-14z"/><path class="b45" d="M4173 3470l22 12 15-21-21-12z"/><path class="b48" d="M4305 3446l22 8 15-20-22-8z"/><path class="b92" d="M5053 3013l48-86 8-12-49 86z"/><path class="b49" d="M4401 3433l22 8 14-17-22-9z"/><path class="b52" d="M4783 3402l27-6 11-21-28 9z"/><path class="b47" d="M4269 3458l21 8 15-20-21-8z"/><path class="b58" d="M4831 3356l30-19 11-23-30 22z"/><path class="b48" d="M4579 3444l24 10 12-13-24-9z"/><path class="b49" d="M4460 3434l23 9 13-15-22-11z"/><path class="b49" d="M4519 3438l24 10 13-14-23-10z"/><path class="b47" d="M4639 3450l24 8 11-14-24-7z"/><path class="b46" d="M4232 3471l21 8 16-21-22-8z"/><path class="b45" d="M4135 3478l22 13 16-21-21-13z"/><path class="b49" d="M4364 3442l22 8 15-17-22-9z"/><path class="b45" d="M4195 3482l21 10 16-21-22-10z"/><path class="b67" d="M4893 3272l36-45 10-21-36 47z"/><path class="b79" d="M4968 3153l42-68 9-15-42 67z"/><path class="b48" d="M4327 3454l22 7 15-19-22-8z"/><path class="b50" d="M4735 3438l26 1 11-19-26 1z"/><path class="b49" d="M4423 3441l23 9 14-16-23-10z"/><path class="b49" d="M4699 3450l25 4 11-16-25-3z"/><path class="b45" d="M4157 3491l21 12 17-21-22-12z"/><path class="b48" d="M4603 3454l24 9 12-13-24-9z"/><path class="b47" d="M4290 3466l22 8 15-20-22-8z"/><path class="b49" d="M4483 3443l23 9 13-14-23-10z"/><path class="b49" d="M4543 3448l23 9 13-13-23-10z"/><path class="b57" d="M4821 3375l29-15 11-23-30 19z"/><path class="b52" d="M4772 3420l27-3 11-21-27 6z"/><path class="b46" d="M4253 3479l21 8 16-21-21-8z"/><path class="b92" d="M5045 3027l48-86 8-14-48 86z"/><path class="b48" d="M4663 3458l24 7 12-15-25-6z"/><path class="b49" d="M4386 3450l22 8 15-17-22-8z"/><path class="b45" d="M4216 3492l21 9 16-22-21-8z"/><path class="b66" d="M4883 3293l35-43 11-23-36 45z"/><path class="b45" d="M4178 3503l22 10 16-21-21-10z"/><path class="b49" d="M4446 3450l23 8 14-15-23-9z"/><path class="b49" d="M4349 3461l22 8 15-19-22-8z"/><path class="b49" d="M4506 3452l23 9 14-13-24-10z"/><path class="b49" d="M4566 3457l24 9 13-12-24-10z"/><path class="b48" d="M4627 3463l24 8 12-13-24-8z"/><path class="b48" d="M4312 3474l22 7 15-20-22-7z"/><path class="b79" d="M4959 3169l43-69 8-15-42 68z"/><path class="b56" d="M4810 3396l28-12 12-24-29 15z"/><path class="b50" d="M4724 3454l25 4 12-19-26-1z"/><path class="b47" d="M4274 3487l22 7 16-20-22-8z"/><path class="b49" d="M4408 3458l23 8 15-16-23-9z"/><path class="b46" d="M4237 3501l22 7 15-21-21-8z"/><path class="b49" d="M4687 3465l25 6 12-17-25-4z"/><path class="b52" d="M4761 3439l26-1 12-21-27 3z"/><path class="b65" d="M4872 3314l35-38 11-26-35 43z"/><path class="b45" d="M4200 3513l21 9 16-21-21-9z"/><path class="b92" d="M5036 3041l49-85 8-15-48 86z"/><path class="b50" d="M4469 3458l23 9 14-15-23-9z"/><path class="b49" d="M4371 3469l23 7 14-18-22-8z"/><path class="b49" d="M4529 3461l24 9 13-13-23-9z"/><path class="b49" d="M4590 3466l24 10 13-13-24-9z"/><path class="b49" d="M4651 3471l25 9 11-15-24-7z"/><path class="b48" d="M4334 3481l22 6 15-18-22-8z"/><path class="b55" d="M4799 3417l28-9 11-24-28 12z"/><path class="b50" d="M4431 3466l23 7 15-15-23-8z"/><path class="b48" d="M4296 3494l22 6 16-19-22-7z"/><path class="b78" d="M4949 3187l43-71 10-16-43 69z"/><path class="b64" d="M4861 3337l34-33 12-28-35 38z"/><path class="b47" d="M4259 3508l21 7 16-21-22-7z"/><path class="b50" d="M4492 3467l24 8 13-14-23-9z"/><path class="b45" d="M4221 3522l21 7 17-21-22-7z"/><path class="b50" d="M4712 3471l26 5 11-18-25-4z"/><path class="b50" d="M4553 3470l24 9 13-13-24-9z"/><path class="b51" d="M4749 3458l27 1 11-21-26 1z"/><path class="b49" d="M4614 3476l25 10 12-15-24-8z"/><path class="b50" d="M4394 3476l22 6 15-16-23-8z"/><path class="b91" d="M5028 3056l48-85 9-15-49 85z"/><path class="b49" d="M4676 3480l25 8 11-17-25-6z"/><path class="b49" d="M4356 3487l22 7 16-18-23-7z"/><path class="b62" d="M4850 3360l32-27 13-29-34 33z"/><path class="b54" d="M4787 3438l28-5 12-25-28 9z"/><path class="b50" d="M4454 3473l24 8 14-14-23-9z"/><path class="b48" d="M4318 3500l22 6 16-19-22-6z"/><path class="b50" d="M4516 3475l24 9 13-14-24-9z"/><path class="b50" d="M4577 3479l25 11 12-14-24-10z"/><path class="b78" d="M4939 3206l44-71 9-19-43 71z"/><path class="b49" d="M4639 3486l25 10 12-16-25-9z"/><path class="b47" d="M4280 3515l22 6 16-21-22-6z"/><path class="b46" d="M4242 3529l22 7 16-21-21-7z"/><path class="b50" d="M4416 3482l24 7 14-16-23-7z"/><path class="b51" d="M4738 3476l26 5 12-22-27-1z"/><path class="b61" d="M4838 3384l32-21 12-30-32 27z"/><path class="b50" d="M4701 3488l25 8 12-20-26-5z"/><path class="b91" d="M5019 3070l49-85 8-14-48 85z"/><path class="b51" d="M4478 3481l24 8 14-14-24-8z"/><path class="b50" d="M4378 3494l23 6 15-18-22-6z"/><path class="b53" d="M4776 3459l27-1 12-25-28 5z"/><path class="b50" d="M4602 3490l24 11 13-15-25-10z"/><path class="b51" d="M4540 3484l24 9 13-14-24-9z"/><path class="b50" d="M4664 3496l25 10 12-18-25-8z"/><path class="b49" d="M4340 3506l23 6 15-18-22-7z"/><path class="b77" d="M4929 3227l43-70 11-22-44 71z"/><path class="b59" d="M4827 3408l30-14 13-31-32 21z"/><path class="b48" d="M4302 3521l22 5 16-20-22-6z"/><path class="b47" d="M4264 3536l22 5 16-20-22-6z"/><path class="b51" d="M4440 3489l23 7 15-15-24-8z"/><path class="b51" d="M4726 3496l26 7 12-22-26-5z"/><path class="b50" d="M4626 3501l25 11 13-16-25-10z"/><path class="b51" d="M4502 3489l24 8 14-13-24-9z"/><path class="b51" d="M4564 3493l25 11 13-14-25-11z"/><path class="b53" d="M4764 3481l27 3 12-26-27 1z"/><path class="b51" d="M4401 3500l24 5 15-16-24-7z"/><path class="b57" d="M4815 3433l29-8 13-31-30 14z"/><path class="b50" d="M4689 3506l25 10 12-20-25-8z"/><path class="b76" d="M4918 3250l42-66 12-27-43 70z"/><path class="b91" d="M5010 3085l49-86 9-14-49 85z"/><path class="b50" d="M4363 3512l23 5 15-17-23-6z"/><path class="b49" d="M4324 3526l23 5 16-19-23-6z"/><path class="b51" d="M4463 3496l24 7 15-14-24-8z"/><path class="b50" d="M4651 3512l25 12 13-18-25-10z"/><path class="b48" d="M4286 3541l22 5 16-20-22-5z"/><path class="b51" d="M4589 3504l25 12 12-15-24-11z"/><path class="b56" d="M4803 3458l28-3 13-30-29 8z"/><path class="b51" d="M4526 3497l24 10 14-14-24-9z"/><path class="b75" d="M4907 3276l40-60 13-32-42 66z"/><path class="b52" d="M4752 3503l27 6 12-25-27-3z"/><path class="b50" d="M4714 3516l26 9 12-22-26-7z"/><path class="b51" d="M4425 3505l23 6 15-15-23-7z"/><path class="b72" d="M4895 3304l38-52 14-36-40 60z"/><path class="b50" d="M4614 3516l25 13 12-17-25-11z"/><path class="b50" d="M4676 3524l26 12 12-20-25-10z"/><path class="b54" d="M4791 3484l28 1 12-30-28 3z"/><path class="b51" d="M4386 3517l23 5 16-17-24-5z"/><path class="b91" d="M5002 3100l49-88 8-13-49 86z"/><path class="b52" d="M4487 3503l25 9 14-15-24-8z"/><path class="b51" d="M4550 3507l25 12 14-15-25-11z"/><path class="b70" d="M4882 3333l37-42 14-39-38 52z"/><path class="b50" d="M4347 3531l23 5 16-19-23-5z"/><path class="b49" d="M4308 3546l23 5 16-20-23-5z"/><path class="b67" d="M4870 3363l34-31 15-41-37 42z"/><path class="b51" d="M4740 3525l26 10 13-26-27-6z"/><path class="b50" d="M4639 3529l25 14 12-19-25-12z"/><path class="b64" d="M4857 3394l33-21 14-41-34 31z"/><path class="b50" d="M4702 3536l26 13 12-24-26-9z"/><path class="b53" d="M4779 3509l27 7 13-31-28-1z"/><path class="b52" d="M4448 3511l25 7 14-15-24-7z"/><path class="b51" d="M4575 3519l25 14 14-17-25-12z"/><path class="b62" d="M4844 3425l31-13 15-39-33 21z"/><path class="b52" d="M4512 3512l25 10 13-15-24-10z"/><path class="b52" d="M4409 3522l24 5 15-16-23-6z"/><path class="b59" d="M4831 3455l30-5 14-38-31 13z"/><path class="b50" d="M4664 3543l25 15 13-22-26-12z"/><path class="b91" d="M4992 3116l50-90 9-14-49 88z"/><path class="b51" d="M4600 3533l26 14 13-18-25-13z"/><path class="b51" d="M4766 3535l27 11 13-30-27-7z"/><path class="b50" d="M4728 3549l26 13 12-27-26-10z"/><path class="b51" d="M4370 3536l23 4 16-18-23-5z"/><path class="b56" d="M4819 3485l28 2 14-37-30 5z"/><path class="b50" d="M4331 3551l23 4 16-19-23-5z"/><path class="b52" d="M4537 3522l25 13 13-16-25-12z"/><path class="b53" d="M4473 3518l24 8 15-14-25-9z"/><path class="b49" d="M4689 3558l26 15 13-24-26-13z"/><path class="b54" d="M4806 3516l27 7 14-36-28-2z"/><path class="b50" d="M4626 3547l25 16 13-20-25-14z"/><path class="b50" d="M4754 3562l26 15 13-31-27-11z"/><path class="b53" d="M4433 3527l24 6 16-15-25-7z"/><path class="b52" d="M4562 3535l25 15 13-17-25-14z"/><path class="b52" d="M4793 3546l26 12 14-35-27-7z"/><path class="b49" d="M4715 3573l26 17 13-28-26-13z"/><path class="b50" d="M4651 3563l25 17 13-22-25-15z"/><path class="b91" d="M4983 3135l50-91 9-18-50 90z"/><path class="b53" d="M4497 3526l25 11 15-15-25-10z"/><path class="b53" d="M4393 3540l24 4 16-17-24-5z"/><path class="b49" d="M4780 3577l26 17 13-36-26-12z"/><path class="b48" d="M4741 3590l25 19 14-32-26-15z"/><path class="b51" d="M4587 3550l25 16 14-19-26-14z"/><path class="b52" d="M4354 3555l23 3 16-18-23-4z"/><path class="b49" d="M4676 3580l26 19 13-26-26-15z"/><path class="b47" d="M4766 3609l25 22 15-37-26-17z"/><path class="b59" d="M4847 3487l29 0 16-45-31 8z"/><path class="b55" d="M4833 3523l28 6 15-42-29 0z"/><path class="b48" d="M4702 3599l25 20 14-29-26-17z"/><path class="b52" d="M4819 3558l27 12 15-41-28-6z"/><path class="b25" d="M4706 3856l21 52 15-42-22-47z"/><path class="b29" d="M4720 3819l22 47 14-42-22-43z"/><path class="b62" d="M4861 3450l31-8 16-47-33 17z"/><path class="b53" d="M4522 3537l26 14 14-16-25-13z"/><path class="b32" d="M4734 3781l22 43 15-43-22-38z"/><path class="b54" d="M4457 3533l25 9 15-16-24-8z"/><path class="b51" d="M4612 3566l26 18 13-21-25-16z"/><path class="b49" d="M4806 3594l26 17 14-41-27-12z"/><path class="b36" d="M4749 3743l22 38 16-43-24-33z"/><path class="b39" d="M4763 3705l24 33 15-43-25-27z"/><path class="b46" d="M4791 3631l26 22 15-42-26-17z"/><path class="b42" d="M4777 3668l25 27 15-42-26-22z"/><path class="b46" d="M4727 3619l26 23 13-33-25-19z"/><path class="b45" d="M4753 3642l24 26 14-37-25-22z"/><path class="b66" d="M4875 3412l33-17 17-50-35 28z"/><path class="b90" d="M4972 3157l49-89 12-24-50 91z"/><path class="b50" d="M4638 3584l25 19 13-23-25-17z"/><path class="b42" d="M4739 3675l24 30 14-37-24-26z"/><path class="b54" d="M4417 3544l25 6 15-17-24-6z"/><path class="b71" d="M4890 3373l35-28 17-52-38 39z"/><path class="b53" d="M4548 3551l25 16 14-17-25-15z"/><path class="b48" d="M4663 3603l26 21 13-25-26-19z"/><path class="b45" d="M4714 3648l25 27 14-33-26-23z"/><path class="b47" d="M4689 3624l25 24 13-29-25-20z"/><path class="b53" d="M4377 3558l24 4 16-18-24-4z"/><path class="b40" d="M4725 3708l24 35 14-38-24-30z"/><path class="b54" d="M4482 3542l26 11 14-16-25-11z"/><path class="b75" d="M4904 3332l38-39 18-54-41 52z"/><path class="b89" d="M4960 3184l48-84 13-32-49 89z"/><path class="b52" d="M4573 3567l26 18 13-19-25-16z"/><path class="b37" d="M4711 3741l23 40 15-38-24-35z"/><path class="b79" d="M4919 3291l41-52 17-52-44 65z"/><path class="b51" d="M4599 3585l25 19 14-20-26-18z"/><path class="b43" d="M4701 3677l24 31 14-33-25-27z"/><path class="b86" d="M4947 3216l47-76 14-40-48 84z"/><path class="b83" d="M4933 3252l44-65 17-47-47 76z"/><path class="b35" d="M4697 3774l23 45 14-38-23-40z"/><path class="b54" d="M4508 3553l25 14 15-16-26-14z"/><path class="b54" d="M4442 3550l25 8 15-16-25-9z"/><path class="b49" d="M4624 3604l26 22 13-23-25-19z"/><path class="b46" d="M4676 3650l25 27 13-29-25-24z"/><path class="b48" d="M4650 3626l26 24 13-26-26-21z"/><path class="b32" d="M4683 3807l23 49 14-37-23-45z"/><path class="b41" d="M4687 3706l24 35 14-33-24-31z"/><path class="b54" d="M4401 3562l25 5 16-17-25-6z"/><path class="b53" d="M4533 3567l26 17 14-17-25-16z"/><path class="b55" d="M4467 3558l25 11 16-16-26-11z"/><path class="b52" d="M4559 3584l26 20 14-19-26-18z"/><path class="b45" d="M4662 3676l25 30 14-29-25-27z"/><path class="b40" d="M4673 3735l24 39 14-33-24-35z"/><path class="b51" d="M4585 3604l26 22 13-22-25-19z"/><path class="b47" d="M4636 3649l26 27 14-26-26-24z"/><path class="b49" d="M4611 3626l25 23 14-23-26-22z"/><path class="b55" d="M4426 3567l25 8 16-17-25-8z"/><path class="b55" d="M4492 3569l26 15 15-17-25-14z"/><path class="b38" d="M4659 3764l24 43 14-33-24-39z"/><path class="b44" d="M4648 3702l25 33 14-29-25-30z"/><path class="b54" d="M4518 3584l26 19 15-19-26-17z"/><path class="b53" d="M4544 3603l26 21 15-20-26-20z"/><path class="b47" d="M4623 3673l25 29 14-26-26-27z"/><path class="b56" d="M4451 3575l26 11 15-17-25-11z"/><path class="b51" d="M4570 3624l27 23 14-21-26-22z"/><path class="b49" d="M4597 3647l26 26 13-24-25-23z"/><path class="b43" d="M4634 3728l25 36 14-29-25-33z"/><path class="b55" d="M4477 3586l26 16 15-18-26-15z"/><path class="b46" d="M4608 3697l26 31 14-26-25-29z"/><path class="b54" d="M4503 3602l26 20 15-19-26-19z"/><path class="b49" d="M4582 3669l26 28 15-24-26-26z"/><path class="b53" d="M4529 3622l27 22 14-20-26-21z"/><path class="b51" d="M4556 3644l26 25 15-22-27-23z"/></g>
<path d="M1017.6 858.1l.9-1 .9-.9 .9-1 .9-.9 .9-1 .9-.9 .9-1 .9-.9 .9-.9 .9-1 .9-.9 .9-.9 .9-.9 .8-.9 .9-.9 .9-.9 .9-.9 .8-.9 .9-.9 .8-.8 .9-.9 .9-.9 .8-.8 .8-.9 .9-.8 .8-.9 .9-.9 .8-.8 .8-.9 .8-.8 .9-.9 .8-.8 .8-.9 .8-.8 .8-.9 .8-.9 .8-.8 .8-.9 .8-.9 .8-.8 .8-.9 .7-.9 .8-.8 .8-.9 .8-.9 .7-.8 .8-.9 .8-.8 .7-.9 .8-.8 .7-.9 .8-.8 .7-.8 .8-.8 .7-.9 .8-.8 .7-.8 .8-.8 .7-.8 .7-.7 .8-.8 .7-.8 .7-.8 .8-.7 .7-.8 .7-.8 .7-.7 .8-.8 .7-.7 .7-.8 .7-.7 .7-.8 .7-.7 .7-.7 .7-.8 .7-.7 .7-.7 .7-.7 .7-.7 .7-.8 .7-.7 .6-.7 .7-.7 .7-.7 .7-.7 .7-.7 .6-.7 .7-.7 .7-.6 .6-.7 .7-.7 .7-.7 .6-.6 .7-.7 .6-.7 .7-.6 .6-.7 .7-.7 .6-.6 .7-.7 .6-.6 .7-.7 .6-.6 .6-.7 .7-.6 .6-.7 .6-.6 .7-.6 .6-.7 .6-.6 .6-.6 .6-.6 .7-.6 .6-.7 .6-.6 .6-.6 .6-.6 .6-.6 .6-.6 .6-.6 .6-.6 .6-.6 .6-.6 .6-.6 .6-.6 .6-.6 .6-.6 .6-.5 .6-.6 .5-.6 .6-.6 .6-.5 .6-.6 .6-.6 .5-.5 .6-.6 .6-.5 .5-.6 .6-.6 .6-.5 .5-.6 .6-.5 .6-.5 .5-.6 .6-.5 .5-.5 .6-.6 .5-.5 .6-.5 .5-.6 .6-.5 .5-.5 .6-.5 .5-.5 .5-.5 .6-.6 .5-.5 .5-.5 .6-.5 .5-.5 .5-.5 .6-.5 .5-.5 .5-.5 .5-.5 .5-.4 .6-.5 .5-.5 .5-.5 .5-.5 .5-.5 .5-.4 .5-.5 .5-.5 .5-.4 .5-.5 .5-.5 .5-.5 .5-.4 .5-.5 .5-.4 .5-.5 .5-.5 .5-.4 .5-.5 .5-.4 .5-.5 .5-.4 .4-.5 .5-.4 .5-.5 .5-.4 .5-.5 .4-.4 .5-.5 .5-.4 .5-.4 .4-.5 .5-.4" fill="none" stroke="#4d4d4d" stroke-width="2.6" stroke-linejoin="round"/>
<path d="M1008.1 770l.9 .6 1 .7 1 .8 1 .9 1 .9 1 1 1 1 1 1 1.1 1 1 1 1 1 1 .9 1 .9 1 .9 1 .9 1 .7 1 .8 .9 .7 1 .7 .9 .6 1 .6 .9 .6 1 .6 .9 .5 1 .6 .9 .5 .9 .5 1 .5 .9 .4 1 .5 .9 .4 .9 .4 .9 .4 1 .4 .9 .4 .9 .3 1 .4 .9 .3 .9 .3 .9 .3 1 .3 .9 .3 .9 .2 1 .3 .9 .2 .9 .2 1 .3 .9 .2 .9 .2 1 .1 .9 .2 .9 .2 1 .2 .9 .1 1 .2 .9 .2 1 .1 .9 .2 1 .1 .9 .2 1 .2 .9 .1 1 .2 1 .1 1 .2 .9 .1 1 .2 1 .1 1 .2 1 .2 1 .1 1 .2 .9 .2 1.1 .1 1 .2 1 .2 1 .2 1 .2 1 .2 1 .3 1.1 .2 1 .3 1 .2 1.1 .3 1 .3 1.1 .3 1 .3 1.1 .4 1 .4 1.1 .3 1.1 .5 1 .4 1.1 .4 1.1 .5 1.1 .5 1 .5 1.1 .5 1.1 .5 1.1 .6 1.1 .5 1.1 .6 1.1 .6 1.1 .6 1.1 .6 1.1 .7 1.1 .6 1.1 .7 1.1 .6 1.1 .7 1.2 .7 1.1 .7 1.1 .7 1.1 .7 1.1 .7 1.2 .7 1.1 .7 1.1 .8 1.1 .7 1.2 .8 1.1 .7 1.1 .8 1.2 .7 1.1 .8 1.1 .8 1.2 .8 1.1 .8 1.1 .8 1.2 .8 1.1 .8 1.1 .8 1.2 .9 1.1 .8 1.2 .8 1.1 .8 1.2 .9 1.1 .8 1.1 .8 1.2 .8 1.1 .8 1.2 .8 1.2 .7 1.1 .8 1.2 .7 1.1 .7 1.2 .6 1.2 .7 1.1 .6 1.2 .6 1.2 .5 1.2 .5 1.2 .5 1.2 .4 1.2 .4 1.2 .4 1.2 .3 1.2 .3 1.3 .3 1.2 .3 1.2 .2 1.3 .2 1.3 .1 1.2 .1 1.3 .2 1.3 0 1.3 .1 1.3 .1 1.3 0 1.3 0 1.3 0 1.3-.1 1.4-.1 1.3-.1 1.4-.1 1.3-.1 1.4-.2 1.4-.3 1.4-.2 1.5-.3 1.4-.4 1.5-.4 1.4-.5 1.5-.6 1.5-.6 1.6-.7 1.6-.8 1.5-.9 1.7-1 1.6-1.1 1.7-1.3 1.8-1.3 1.7-1.5 1.8-1.6 1.9-1.7 1.9-1.9 1.9-1.9 2-2 1.9-2.1 2.1-2.2 2-2.2" fill="none" stroke="#4d4d4d" stroke-width="2.6" stroke-linejoin="round"/>
<path d="M1017.58 858.1L1022.19 861.4M1008.09 770.01L1005.06 773.43M1021.91 853.57L1026.46 856.7M1012.71 773.65L1009.65 776.86M1026.16 849.13L1030.65 852.08M1017.55 778.39L1014.45 781.26M1030.34 844.8L1034.77 847.55M1022.33 782.8L1019.19 785.39M1034.45 840.58L1038.82 843.13M1026.94 786.34L1023.79 788.75M1038.49 836.48L1042.81 838.82M1031.44 789.17L1028.29 791.47M1042.45 832.43L1046.72 834.58M1035.89 791.55L1032.75 793.81M1046.33 828.38L1050.55 830.32M1040.3 793.59L1037.18 795.84M1050.12 824.29L1054.3 826.03M1044.71 795.28L1041.6 797.57M1053.84 820.17L1057.97 821.71M1049.1 796.64L1046.02 799.01M1057.49 816.09L1061.59 817.44M1053.51 797.73L1050.46 800.21M1061.08 812.1L1065.15 813.27M1057.94 798.63L1054.92 801.24M1064.62 808.25L1068.66 809.23M1062.42 799.41L1059.43 802.18M1068.12 804.51L1072.12 805.32M1066.96 800.15L1064 803.08M1071.56 800.87L1075.54 801.51M1071.56 800.87L1068.63 803.97M1074.94 797.32L1078.9 797.81M1076.23 801.63L1073.32 804.89M1078.27 793.85L1082.21 794.18M1080.97 802.47L1078.09 805.89M1081.55 790.45L1085.47 790.64M1085.8 803.49L1082.94 807.05M1084.78 787.12L1088.67 787.18M1090.72 804.79L1087.88 808.46M1087.96 783.87L1091.83 783.81M1095.72 806.46L1092.9 810.2M1091.08 780.67L1094.94 780.51M1100.8 808.55L1098 812.31M1094.16 777.54L1098.01 777.28M1105.96 811.04L1103.17 814.79M1097.18 774.47L1101.02 774.13M1111.17 813.89L1108.4 817.58M1100.17 771.46L1103.99 771.05M1116.42 817L1113.68 820.6M1103.1 768.51L1106.92 768.04M1121.72 820.29L1119 823.79M1105.99 765.62L1109.79 765.11M1127.05 823.74L1124.36 827.12M1108.83 762.78L1112.63 762.25M1132.4 827.36L1129.75 830.59M1111.63 760L1115.42 759.46M1137.78 831.14L1135.17 834.22M1114.39 757.29L1118.17 756.75M1143.19 835.04L1140.62 837.97M1117.1 754.63L1120.87 754.11M1148.61 838.93L1146.1 841.7M1119.78 752.03L1123.54 751.54M1154.08 842.57L1151.61 845.21M1122.41 749.48L1126.16 749.03M1159.6 845.71L1157.19 848.28M1125 747L1128.74 746.59M1165.22 848.15L1162.85 850.74M1127.56 744.56L1131.28 744.21M1170.97 849.84L1168.64 852.53M1130.07 742.18L1133.78 741.89M1176.87 850.83L1174.56 853.71M1132.55 739.84L1136.25 739.62M1182.94 851.25L1180.64 854.4M1134.99 737.55L1138.67 737.4M1189.19 851.17L1186.89 854.65M1137.4 735.31L1141.06 735.22M1195.66 850.51L1193.34 854.39M1139.77 733.1L1143.42 733.08M1202.42 848.95L1200.05 853.37M1142.1 730.92L1145.73 730.97M1209.61 845.97L1207.13 851.19M1144.4 728.78L1148.02 728.89M1217.42 840.84L1214.71 847.39M1146.66 726.67L1150.27 726.83M1226.06 833.03L1222.93 841.71M1148.9 724.58L1152.48 724.8M1235.53 823.15L1231.82 834.41" fill="none" stroke="#4d4d4d" stroke-width="1.6"/>
<line x1="922.96" y1="742.86" x2="972.53" y2="885.05" stroke="#000" stroke-width="1.6" stroke-linecap="round"/>
<line x1="1299.34" y1="690.98" x2="1263.36" y2="826.31" stroke="#000" stroke-width="1.6" stroke-linecap="round"/>
<line x1="972.53" y1="885.05" x2="1178.51" y2="998.24" stroke="#000" stroke-width="1.6" stroke-linecap="round"/>
<line x1="1178.51" y1="998.24" x2="1263.36" y2="826.31" stroke="#000" stroke-width="1.6" stroke-linecap="round"/>
<line x1="968.22" y1="872.67" x2="958.12" y2="874.65" stroke="#000" stroke-width="1.4"/>
<text x="948.02" y="883.36" font-size="18.8" text-anchor="middle" fill="#000">−4</text>
<line x1="960.11" y1="849.42" x2="949.46" y2="851.4" stroke="#000" stroke-width="1.4"/>
<text x="938.82" y="860.1" font-size="18.8" text-anchor="middle" fill="#000">−2</text>
<line x1="951.14" y1="823.7" x2="939.88" y2="825.65" stroke="#000" stroke-width="1.4"/>
<text x="928.63" y="834.34" font-size="18.8" text-anchor="middle" fill="#000">0</text>
<line x1="941.17" y1="795.08" x2="929.22" y2="797.01" stroke="#000" stroke-width="1.4"/>
<text x="917.28" y="805.66" font-size="18.8" text-anchor="middle" fill="#000">2</text>
<line x1="930" y1="763.06" x2="917.28" y2="764.93" stroke="#000" stroke-width="1.4"/>
<text x="904.56" y="773.53" font-size="18.8" text-anchor="middle" fill="#000">4</text>
<line x1="1024.61" y1="913.67" x2="1021.61" y2="921.47" stroke="#000" stroke-width="1.4"/>
<text x="1017.71" y="937.6" font-size="18.8" text-anchor="middle" fill="#000">20</text>
<line x1="1086.97" y1="947.94" x2="1083.97" y2="956.14" stroke="#000" stroke-width="1.4"/>
<text x="1079.57" y="973.07" font-size="18.8" text-anchor="middle" fill="#000">40</text>
<line x1="1158.81" y1="987.42" x2="1155.81" y2="996.42" stroke="#000" stroke-width="1.4"/>
<text x="1151.31" y="1014.05" font-size="18.8" text-anchor="middle" fill="#000">60</text>
<line x1="1210.4" y1="933.62" x2="1217" y2="938.82" stroke="#000" stroke-width="1.4"/>
<text x="1222.8" y="953.55" font-size="18.8" text-anchor="middle" fill="#000">20</text>
<line x1="1237.05" y1="879.63" x2="1243.65" y2="885.23" stroke="#000" stroke-width="1.4"/>
<text x="1247.75" y="898.86" font-size="18.8" text-anchor="middle" fill="#000">40</text>
<line x1="1258.6" y1="835.96" x2="1264.4" y2="841.06" stroke="#000" stroke-width="1.4"/>
<text x="1267.7" y="852.99" font-size="18.8" text-anchor="middle" fill="#000">60</text>
<text x="0" y="0" font-size="19.2" text-anchor="middle" fill="#000" transform="translate(1070.1,986.6) rotate(28.6)">s (positivity time)</text>
<text x="0" y="0" font-size="19.4" text-anchor="middle" fill="#000" transform="translate(1262.2,904.4) rotate(-62.6)">t (mortality time)</text>
<defs><linearGradient id="cb2" x1="0" y1="0" x2="0" y2="1"><stop offset="0" stop-color="#7F0000"/><stop offset="0.12" stop-color="#FF0000"/><stop offset="0.25" stop-color="#FF7F00"/><stop offset="0.38" stop-color="#FFFF00"/><stop offset="0.5" stop-color="#7FFF7F"/><stop offset="0.62" stop-color="#00FFFF"/><stop offset="0.75" stop-color="#007FFF"/><stop offset="0.88" stop-color="#0000FF"/><stop offset="1" stop-color="#00007F"/></linearGradient></defs>
<rect x="1324.7" y="677.5" width="17.4" height="287.2" fill="url(#cb2)" stroke="#000" stroke-width="1.4"/>
<line x1="1342.1" y1="709.57" x2="1349.6" y2="709.57" stroke="#000" stroke-width="1.4"/>
<text x="1355.4" y="714.07" font-size="13" fill="#000" stroke="#000" stroke-width="0.35">4</text>
<line x1="1342.1" y1="765.33" x2="1349.6" y2="765.33" stroke="#000" stroke-width="1.4"/>
<text x="1355.4" y="769.83" font-size="13" fill="#000" stroke="#000" stroke-width="0.35">2</text>
<line x1="1342.1" y1="821.1" x2="1349.6" y2="821.1" stroke="#000" stroke-width="1.4"/>
<text x="1355.4" y="825.6" font-size="13" fill="#000" stroke="#000" stroke-width="0.35">0</text>
<line x1="1342.1" y1="876.87" x2="1349.6" y2="876.87" stroke="#000" stroke-width="1.4"/>
<text x="1355.4" y="881.37" font-size="13" fill="#000" stroke="#000" stroke-width="0.35">−2</text>
<line x1="1342.1" y1="932.63" x2="1349.6" y2="932.63" stroke="#000" stroke-width="1.4"/>
<text x="1355.4" y="937.13" font-size="13" fill="#000" stroke="#000" stroke-width="0.35">−4</text>
<text x="887.93" y="59.6" font-size="29.5">β</text>
<text x="902.53" y="59.6" font-size="27.9">(s,t)</text>
<text x="960.52" y="59.6" font-size="27.9">for mobility</text>
<text x="1106.28" y="59.6" font-size="27.9">−</text>
<text x="1134.73" y="59.6" font-size="27.9">partial</text>
<text x="1220.87" y="59.6" font-size="27.9">R</text>
<text x="1240.33" y="45.9" font-size="19.5">2</text>
<text x="1257.84" y="58.4" font-size="26.5" stroke="#000" stroke-width="0.5" transform="translate(0 16.35) scale(1 0.72)">=</text>
<text x="1279.36" y="59.6" font-size="27.9">0.62</text>
<text x="892.6" y="43.1" font-size="24.5">^</text>
<text x="883.13" y="602.4" font-size="29.5">β</text>
<text x="896.43" y="602.4" font-size="27.9">(s,t)</text>
<text x="954.32" y="602.4" font-size="27.9">for positivity</text>
<text x="1113.88" y="602.4" font-size="27.9">−</text>
<text x="1141.03" y="602.4" font-size="27.9">partial</text>
<text x="1226.47" y="602.4" font-size="27.9">R</text>
<text x="1245.03" y="588.7" font-size="19.5">2</text>
<text x="1262.94" y="601.2" font-size="26.5" stroke="#000" stroke-width="0.5" transform="translate(0 168.34) scale(1 0.72)">=</text>
<text x="1285.46" y="602.4" font-size="27.9">0.53</text>
<text x="887.3" y="585.9" font-size="24.5">^</text>
<text x="1496.43" y="59.6" font-size="29.5">β</text>
<text x="1508.83" y="59.6" font-size="27.9">(s,t)</text>
<text x="1568.72" y="59.6" font-size="27.9">for mobility</text>
<text x="1714.58" y="59.6" font-size="27.9">−</text>
<text x="1743.38" y="59.6" font-size="27.9">contour plot</text>
<text x="1500.5" y="43.1" font-size="24.5">^</text>
<text x="1490.23" y="602.4" font-size="29.5">β</text>
<text x="1503.53" y="602.4" font-size="27.9">(s,t)</text>
<text x="1563.32" y="602.4" font-size="27.9">for positivity</text>
<text x="1722.08" y="602.4" font-size="27.9">−</text>
<text x="1749.68" y="602.4" font-size="27.9">contour plot</text>
<text x="1494.3" y="585.9" font-size="24.5">^</text>
<g fill="none" stroke-width="1.7" stroke-dasharray="4.5 11" stroke-linecap="round" stroke-linejoin="round"><path d="M1846 220.7l-4.1-5.6-4.9-5.6-8.9-2.6-9 4.6-2.7 3.6-5.6 8.9-.7 1.5-2.2 7.5-1.5 9-.4 9 .8 8.9 2 9 1.3 3.7 3 5.3 6 7.5 2.9 1.4 6.1 2.4 8.9-2 .5-.4 8.2-8.9 .3-.5 3-8.5 1.9-9 .7-8.9-.3-9-1.5-9-2.5-9-1.3-3.3" stroke="#004cff"/><path d="M1864 217.3l-.4-2.2-1.8-9-2.2-9-2.3-8.9-2.3-8.4-.3-.6-4.3-9-4.4-8.2-.7-.7-8.3-7.2-8.2-1.8-.7-.2-.5 .2-8.5 3.2-5.6 5.8-3.4 3.8-2.8 5.1-4.5 9-1.6 3.2-2.3 5.8-3.4 8.9-3 9-.3 1-2.1 8-1.9 8.9-1.3 9-.8 9-.2 9 .4 8.9 1 9 1.7 9 2.4 8.9 .8 2.3 2.8 6.7 4.8 9 1.4 2.1 5.9 6.8 3 3 9 5.3 3.2 .7 5.8 1.3 8.9-1.2 .3-.1 8.7-4.3 4.6-4.7 4.4-5.2 1.7-3.7 3.4-9 2.5-9 1.4-6.5 .3-2.4 .9-9 .5-9 .3-8.9-.2-9-.4-9-.7-9-.7-6.7" stroke="#00b2ff"/><path d="M1855 226.1l-.6-2.1-3.2-8.9-4-9-1.2-2.3-6.5-6.7-2.5-2.4-8.9-2.4-9 4.1-.6 .7-7.5 9-.9 1.2-3.7 7.8-3.4 8.9-1.8 6.9-.5 2.1-1.1 9-.3 9 .6 8.9 1.3 7.9 .2 1.1 3 9 4.4 8.9 1.3 2.2 6.9 6.8 2.1 1.7 9 2.9 8.9-1.7 4.2-2.9 4.8-4.1 3-4.9 4.1-8.9 1.9-5.8 .6-3.2 1-9 .4-8.9-.2-9-.8-9-1-6.9" stroke="#00b2ff"/><path d="M1585.9 207.2l-1.1-1.1-7.9-7-4.9 7-4 6.6-.6 2.4-1.8 8.9-1.3 9-.7 9-.2 9 .4 8.9 .9 9 1.6 9 1.7 6.4 1.6 2.5 7.3 8.7 9-6.5 .8-2.2 2.7-8.9 1.9-9 1.1-9 .4-8.9-.2-9-.9-9-1.4-9-2.1-8.9-2.3-7.9" stroke="#19ffe5"/><path d="M1872.9 192.2l-.4-4-.8-9-.9-9-1-8.9-1.2-9-1.7-9-2.4-8.9-.5-1.8-4.2-7.2-4.8-6.2-4.5-2.8-4.5-2.5-9-2.5-8.9-.6-9 1.1-9 2.9-2.9 1.6-6 3.7-5.9 5.3-3.1 3.6-3.7 5.4-4.4 8.9-.9 2.5-2 6.5-2.2 9-1.8 8.9-1.7 9-1.2 7.3-.3 1.7-1.5 8.9-1.3 9-1.2 9-.9 8.9-.6 9-.4 9-.1 9 .2 8.9 .5 9 .8 9 1.2 8.9 1.5 9 2.1 8.6 .1 .4 2.7 8.9 3.5 9 2.6 5.4 2.1 3.6 6.2 8.9 .7 .9 8.5 8.1 .5 .4 8.9 5.4 9 3 1.4 .2 7.6 .9 8.9-.6 1.1-.3 7.9-2.2 9-5.5 1-1.3 6.5-9 1.5-2.4 2.3-6.5 2.6-9 1.9-9 1.5-8.9 .6-4.3 .7-4.7 1-9 .7-8.9 .5-9 .3-9 .1-8.9 0-9-.3-9-.4-9-.5-8.9-.7-9-.9-9-.5-4.9" stroke="#19ffe5"/><path d="M1864 168.6l-1.7-7.3-2.5-9-3.4-9-1.4-2.8-5.7-6.1-3.3-2.8-9-3.7-8.9-1-9 1.7-9 4.4-1.6 1.4-7.3 7.6-1 1.3-4.8 9-3.2 7.9-.4 1.1-2.7 8.9-2.4 9-2.3 9-1.2 4.6-1 4.3-1.9 9-1.6 9-1.3 8.9-1 9-.5 9-.1 9 .3 8.9 .6 9 1.2 9 1.7 8.9 2.3 9 1.3 4.2 1.7 4.8 4.1 8.9 3.2 5.7 2.3 3.3 6.7 8 1.1 1 7.8 6.1 6.4 2.8 2.6 1.2 9 1.5 8.9-.9 4.8-1.8 4.2-1.5 9-7.3 .1-.1 5.3-9 3.6-7.8 .3-1.2 2.2-8.9 1.7-9 1.2-9 1-8.9 .6-9 .4-9 .1-8.9 0-9-.3-9-.5-9-.7-8.9-1-9-1-9-1.2-8.9-1.3-9-1.3-9-.2-1.6" stroke="#19ffe5"/><path d="M1505.2 438.9l1.5 .4 7.5 2.1 8.9 2.8 9 3.9 .5 .2 8.5 5.2 3.6 3.7 5.1 9" stroke="#7fff7f"/><path d="M1532.1 89.5l2.7 9 1.7 8.9 1.1 9 .7 9 .5 9 .4 8.9 .2 9 .2 9 .1 8.9 .1 9 .2 9 .1 8.9 0 9 .1 9 .1 8.9 0 9 .1 9 0 9 0 8.9-.1 9 0 9-.1 8.9-.1 9-.1 9-.2 8.9-.2 9-.4 9-.4 8.9-.7 9-1.1 9-2.1 9-2.8 6.4-1.4 2.5-7.6 7.1-8.4 1.9-.5 .1-9 1" stroke="#7fff7f"/><path d="M1738 89.5l.4 .7 3.4 8.3 2.3 8.9 1.5 9 1 9 .6 9 .2 2 .2 6.9 .3 9 .2 9 .1 8.9 .2 9 .1 9 .1 8.9 .1 9 .1 9 .1 8.9 .1 9 0 9 0 9 0 8.9 0 9-.1 9-.1 8.9-.1 9-.2 9-.3 8.9-.3 9-.4 9-.1 3.1-.5 5.8-.9 9-1.6 9-2.8 9-3.2 5.7-2.7 3.2-6.3 4.9-9 3.8-.9 .3-8 1.9-9 1.3-9 .5-8.9-.1-9-.6-9-1.3-7.2-1.7-1.7-.4-9-3.2-9-5.3 0-.1-8.1-8.9-.8-1.7-3.1-7.3-2.2-9-1.3-9-.9-8.9-.7-9-.5-9-.3-6.8-.1-2.1-.2-9-.2-9-.2-8.9-.1-9 0-9 0-8.9 0-9 0-9 .1-9 .1-8.9 .1-9 .2-9 .2-8.9 .1-5.7 .1-3.3 .2-9 .3-8.9 .3-9 .4-9 .6-8.9 .9-9 1.4-9 2.1-9 2.7-7.5 .6-1.4 5.1-9" stroke="#7fff7f"/><path d="M1661.8 466.2l4.8-1.1 9-1.3 9-.6 8.9-.1 9 .5 9 1.2 5.6 1.4" stroke="#7fff7f"/><path d="M1866.6 421.4l1.1 8.9-3.7 8.9-.2 .1-8.8 4.3-9 1.6-9 .8-8.9 .2-9-.3-9-.9-8.9-1.7-9-2.9-2.4-1.1-6.6-8.2-.4-.8 .4-2 1.5-6.9 7.5-5.9 5.3-3.1 3.7-1 8.9-1.7 9-.9 9-.3 8.9 .2 9 .8 9 1.6 3.3 1.3 5.7 4.9 2.6 4.1" stroke="#7fff7f"/><path d="M1505.2 431.2l9-.5 1.6-.4 7.3-5 3.9-3.9 2.6-9-3.4-9-3.1-1.5-8.9-5.3-6-2.1-3-.5" stroke="#7fff7f"/><path d="M1556.1 89.5l-5 9-1.1 2.6-1.4 6.3-1.5 9-1 9-.6 9-.4 8.9-.3 9-.2 9-.2 8.9-.2 9-.1 9-.2 8.9-.1 9-.1 9-.1 8.9-.1 9 0 9 0 9 0 8.9 .1 9 0 9 .2 8.9 .1 9 .2 9 .3 8.9 .3 9 .5 9 .5 8.9 .8 9 .8 9 1.1 9 1.5 8.9 .1 .9 3.9 8.1 5.1 4.2 9 2.5 8.9 .7 9-.4 9-1.7 8.3-5.3 .6-.8 3.5-8.2 2-8.9 1.4-9 1.3-9 .8-7.1 .2-1.9 .7-8.9 .6-9 .5-9 .3-8.9 .3-9 .2-9 .1-8.9 .1-9 .1-9 0-8.9 0-9-.1-9 0-9-.1-8.9-.2-9-.2-9-.1-8.9-.2-9-.2-9-.3-8.9-.3-9-.3-9-.6-8.9-.5-6-.3-3-1.4-9-2.1-9-3.2-8.9-2-4.1-3.6-4.9" stroke="#7fff7f"/><path d="M1729.4 405.5l-5.7-2.1-3.3-.4-8.9-.8-9-.4-9-.1-8.9 0-9 .2-9 .4-8.9 .8-3.3 .3-5.7 1.7-9 5.3-1.8 2 1.5 9 .3 .5 6.4 8.4 2.6 2.1 9 5.5 3 1.4 5.9 1.8 9 1.7 9 .9 8.9 .1 9-.7 9-1.6 6.8-2.2 2.1-1 9-6.6 1.3-1.4 5.2-8.9 1.1-9-7.6-6.9" stroke="#7fff7f"/><path d="M1763.7 89.5l-3.7 9-2.3 8.9-1.4 8.5 0 .5-.9 9-.6 9-.4 8.9-.3 9-.2 9-.1 8.9-.2 9-.1 9-.1 8.9-.2 9-.1 9 0 8.9-.1 9 0 9 0 9 0 8.9 0 9 .1 9 .1 8.9 .1 9 .2 9 .3 8.9 .3 9 .4 9 .5 8.9 .7 9 .6 7.2 .2 1.8 1.1 9 1.4 8.9 2.9 9 3.4 4.1 9 3.9 5 1 3.9 .5 9 .9 9 .5 8.9 .3 9 .1 9 .1 8.9-.1 9-.1 9-.3 9-.7 5.6-1.2 3.3-1.2 7.2-7.8 1.8-9" stroke="#7fff7f"/><path d="M1868.1 466.2l-4.1-2.3-9-2.1-9-.9-9-.4-8.9-.1-9 .2-9 .4-8.9 .9-9 1.4-9 2.5-1.2 .4" stroke="#7fff7f"/><path d="M1881.9 102.1l-.7-3.6-2.3-9" stroke="#7fff7f"/><path d="M1505.2 463.5l3 2.7" stroke="#e5ff19"/><path d="M1505.2 129.7l3 4.7 4.4 8.9 1.6 4 1.7 5 2.4 9 1.7 8.9 1.3 9 1.1 9 .7 7.7 .2 1.2 .9 9 .8 9 .7 8.9 .5 9 .3 9 .2 9 0 8.9-.2 9-.3 9-.6 8.9-.8 9-1.2 9-.5 3-.7 5.9-1.4 9-2.1 9-3.2 8.9-1.5 3.2-3.2 5.8-5.8 7.1" stroke="#e5ff19"/><path d="M1721.8 215.1l1.4 8.9 1.1 9 .6 9 .1 9-.3 8.9-.7 9-1.4 9-1.9 8.9-.3 1.1-2.7 7.9-4 9-2.2 4-4.3 4.9-4.7 4.8-9 3.9-8.9-.5-9-4.9-3.1-3.3-5.9-7.2-1-1.7-4.3-9-3.3-9-.3-1.1-2-7.8-1.5-9-1-9-.3-8.9 .2-9 .7-9 1.2-9 1.7-8.9 1-3.9 1.3-5.1 2.8-9 3.1-8.9 1.7-5.1 1.9-3.9 4.2-9 2.9-5.6 3.1-3.3 5.9-5.6 8.9-.9 8.4 6.5 .6 .5 4.5 8.4 4.4 9 .1 .2 2.9 8.8 2.8 8.9 2.6 9 .6 2.5 1.4 6.5" stroke="#e5ff19"/><path d="M1505.2 457.8l9 7.8 .7 .6" stroke="#e5ff19"/><path d="M1505.2 114.4l1.6 2 6.1 9 1.3 2.4 3.1 6.6 3.1 8.9 2.1 9 .6 3.7 1 5.3 1.3 8.9 1 9 .9 9 .8 8.9 .7 9 .5 9 .5 8.9 .3 9 .2 9 .1 9 0 8.9-.2 9-.2 9-.5 8.9-.5 9-.9 9-1.1 8.9-1.5 9-2.1 9-.3 .8-1.9 8.1-3.4 9-3.6 6.2-2.1 2.8-6.9 6.5" stroke="#e5ff19"/><path d="M1730.2 206.1l1.2 9 .9 8.9 .7 9 .4 9 .1 9-.2 8.9-.5 9-.8 9-1.3 8.9-1.3 7.2-.4 1.8-2.3 9-3.1 8.9-3.2 7.2-1 1.8-6.2 9-1.7 2.1-8.9 6.8-.1 .1-9 2.9-8.9-.3-6.6-2.7-2.4-1-9-7.3-.5-.6-6.6-9-1.8-3-3.1-6-3.6-8.9-2.3-7.2-.5-1.8-2.2-9-1.6-8.9-1-9-.7-9-.2-8.9 .1-9 .5-9 .9-9 1.2-8.9 1.5-9 1.8-9 .2-.8 1.8-8.1 2-9 2.2-9 2.4-8.9 .6-1.7 2.5-7.3 4.3-9 2.1-3.4 5-5.5 4-3.5 9-4 8.9-.5 9 3.3 5.6 4.7 3.4 3.5 3.2 5.4 4 9 1.7 5.2 1 3.8 2.1 8.9 1.8 9 1.8 9 1.6 8.9 .7 3.9 .8 5.1" stroke="#e5ff19"/><path d="M1505.2 165.5l1.7 4.7 2.5 9 2 9 1.5 8.9 1.2 9 .1 .3 1 8.7 1 8.9 .7 9 .5 9 .4 9 .2 8.9-.1 9-.3 9-.5 8.9-.9 9-1.4 9-.6 3.1-1.2 5.8-2.4 9-3.6 9-1.8 3.3" stroke="#ffb200"/><path d="M1505.2 146.5l2.8 5.8 3.4 9 2.3 8.9 .5 1.9 1.5 7.1 1.6 9 1.2 8.9 1.1 9 .8 9 .7 8.9 .5 9 .3 9 .3 9 0 8.9-.1 9-.3 9-.5 8.9-.7 9-1 9-1.5 8.9-2 9-1.9 6-1 3-4 8.9-4 6.1" stroke="#ffb200"/><path d="M1712.2 242l.2 9-.5 8.9-.4 3.1-1.2 5.9-3 9-4.3 8.9-.5 .8-9 6.8-8.9-.9-7.2-6.7-1.8-2.1-3.2-6.8-2.9-9-1.7-9-.7-8.9 .3-9 1.4-9 2.3-9 3.3-8.9 1.2-2.8 5-6.2 4-4.5 8.9-1 6.1 5.5 2.9 2.9 2.8 6.1 3.4 8.9 2.4 9 .4 2.7 .7 6.3" stroke="#ffb200"/><path d="M1505.2 204l.4 2.1 1.4 9 1.2 8.9 1 9 .7 9 .6 9 .3 8.9 .1 9-.3 9-.6 8.9-1.1 9-1.6 9-2.1 7.7" stroke="#ff4c00"/><path d="M1505.2 173.6l1.7 5.6 2.2 9 1.7 8.9 1.3 9 1.1 9 .9 8.9 .1 .6 .7 8.4 .6 9 .5 9 .2 8.9 0 9-.3 9-.6 8.9-1 9-.1 .8-1.2 8.2-1.9 8.9-2.7 9-3.2 7.4" stroke="#ff4c00"/><path d="M1505.2 204.8l.2 1.3 1.5 9 1.2 8.9 .9 9 .8 9 .5 9 .4 8.9 0 9-.2 9-.6 8.9-1.1 9-1.7 9-1.9 7.2" stroke="#e50000"/><path d="M1505.2 254.8l.2 5.1 .2 9-.2 9-.2 2.1" stroke="#7f0000"/></g>
<g fill="none" stroke-width="2.1" stroke-linejoin="round"><path d="M1837 239.5l-7.9-6.5-1-.5-.6 .5-6.4 9-1.6 9 3.2 8.9 5.4 5.8 8.9-5.6 .1-.2 1.5-8.9-.7-9-.9-2.5" stroke="#004cff"/><path d="M1855 199.8l-1.3-2.7-4.5-8.9-3.2-6.2-2.7-2.8-6.3-6.4-8.9-2.3-9 4.1-3.9 4.6-5.1 6-1.6 3-4.7 8.9-2.6 5.3-1.4 3.7-3 9-2.4 8.9-1.7 9-.5 4.6-.4 4.4-.3 9 .5 8.9 .2 1.6 1 7.4 2.1 9 3.1 8.9 2.8 6.1 1.7 2.9 6.8 9 .4 .4 9 6.3 8.7 2.2 .3 .1 .4-.1 8.5-1.2 9-5.3 2.1-2.4 6.4-9 .5-.8 2.6-8.2 2.2-8.9 1.5-9 .8-9 .4-8.9-.2-9-.7-9-1.1-9-1.7-8.9-2.1-9-1.7-6.3" stroke="#00b2ff"/><path d="M1576.9 230.8l-.8 2.2-2.1 9-.6 9 1.1 8.9 2.4 8 4-8 1.7-8.9-.9-9-3.4-9-1.4-2.2" stroke="#19ffe5"/><path d="M1872.9 219.6l-.3-4.5-.7-9-.9-9-1-8.9-1-9-1.1-9-1.2-8.9-1.5-9-1.2-6-1-3-4.1-8.9-3.9-6.3-3.4-2.7-5.6-3.8-9-3-8.9-.7-9 1.3-9 3.5-4.1 2.7-4.8 3.8-4.6 5.2-4.4 6.5-1.3 2.4-3.6 9-2.7 9-1.4 5.2-.8 3.7-2 9-1.8 9-1.8 8.9-1.6 9-.9 6.2-.5 2.8-1 8.9-.8 9-.4 9-.1 9 .2 8.9 .6 9 .9 9 1.1 6.8 .3 2.1 1.9 9 2.5 9 3.3 8.9 .9 2.2 3.4 6.8 5.6 8.8 .1 .2 8.2 8.9 .7 .6 8.9 6.2 5.7 2.2 3.3 1.3 9 1.3 8.9-.7 5.6-1.9 3.4-1.1 9-6.3 1.2-1.6 5.7-8.9 2.1-4 1.6-5 2.3-9 1.9-8.9 1.4-9 1-9 .7-8.4 .1-.5 .6-9 .3-9 .2-8.9-.1-9-.3-9-.5-9-.3-4.4" stroke="#19ffe5"/><path d="M1505.2 435.1l9 1.5 8.9 .3 9-1.7 8.8-4.9 .2-.1 7.8-8.8 1.1-1.3 9-7.1 1.3-.6 7.7-2.3 8.9-.9 9 .7 8.5 2.5 .5 .2 8.9 7.5 1.2 1.3 4.9 8.9 2.9 8.7 .1 .3 1.6 9-1.7 3.6-9 2.4-8.9 .6-9 .8-9 1.5-8.9 3.8-3.5 5.2" stroke="#7fff7f"/><path d="M1541.7 89.5l0 9 0 8.9 0 9 0 9 0 9 0 8.9 0 9 0 9 0 8.9 0 9 0 9 0 8.9 0 9 0 9 0 8.9 0 9 0 9 0 9 0 8.9 0 9 0 9 0 8.9 0 9 0 9 0 8.9 0 9 0 9 0 8.9-.1 9-.3 9-.2 2.9-.5 6.1-1.6 8.9-4.5 9-2.4 2.4-9 3.4-8.9-.6-9-.4" stroke="#7fff7f"/><path d="M1617.5 466.2l1.4-9 2.9-1.2 9-.9 8.9-.3 9-.1 9-.1 8.9-.1 9 0 9 0 8.9 0 9 0 9 0 8.9 .1 9 .2 9 .3 9 1.6 1 .5 2.4 9" stroke="#7fff7f"/><path d="M1750.9 89.5l0 9 0 8.9 0 9 0 9 0 9 0 8.9 0 9 0 9 0 8.9 0 9 0 9 0 8.9 0 9 0 9 0 8.9 0 9 0 9 0 9 0 8.9 0 9 0 9 0 8.9 0 9 0 9 0 8.9 0 9 0 9 0 8.9-.1 9-.3 9-.9 9-2.2 8.9 0 .1-6.2 8.9-2.8 2.2-9 3.7-9 1.6-8.9 .9-9 .5-2.3 .1-6.7 .1-8.9 0-4.5-.1-4.5-.2-9-.5-8.9-.8-9-1.4-9-2.4-7.6-3.7-1.3-.9-7.3-8.1-1.7-4-1.4-4.9-1.2-9-.5-9-.1-9-.1-8.9 0-9 0-9 0-8.9 0-9 0-9 0-8.9 0-9 0-9 0-8.9 0-9 0-9 0-9 0-8.9 0-9 0-9 0-8.9 0-9 0-9 0-8.9 0-9 0-9 0-8.9 0-9 0-9 0-9 0-8.9 0-9" stroke="#7fff7f"/><path d="M1881.9 452.2l-9 1.4-8.9 .3-9 0-9 .1-9 0-8.9 0-9 0-9 0-8.9-.1-9 0-9-.1-8.9-.2-9-.4-9-2.5-1.5-2.4 .4-9 1.1-4.2 1-4.8 3.4-8.9 4.6-6.4 2.2-2.6 6.8-4 8.9-2.9 9-1.8 2.1-.3 6.9-.6 8.9-.4 9-.3 9-.1 8.9 .1 9 .2 9 .5 5.5 .6 3.5 .8 8.9 4.7 3.7 3.5 4.2 9 1.1 4.7" stroke="#7fff7f"/><path d="M1505.2 460.3l6.6 5.9" stroke="#e5ff19"/><path d="M1505.2 121.5l2.7 3.9 5.2 9 1.1 2.2 2.7 6.7 2.7 9 1.8 9 1.3 8.9 .4 3.2 .8 5.8 1.1 9 1 8.9 .8 9 .6 9 .6 8.9 .4 9 .2 9 .2 9-.1 8.9-.1 9-.3 9-.5 8.9-.7 9-.9 9-1.4 8.9-1.7 8.4-.1 .6-1.7 9-2.5 8.9-4.2 9-.4 .8-6.1 8.2-2.9 2.7" stroke="#e5ff19"/><path d="M1729.8 242l.1 9-.2 8.9-.3 3.7-.4 5.3-1 9-1.6 8.9-2.2 9-2.8 9-1 2.4-3.2 6.5-5.7 9 0 .1-9 8-2.4 .9-6.6 2.4-8.9-.4-4.4-2-4.6-2.2-7.3-6.8-1.7-1.8-4.7-7.2-4.2-7.9-.5-1-3.4-9-2.5-9-1.8-8.9-.8-5.3-.5-3.7-.8-9-.3-8.9 .1-9 .6-9 .9-7.4 .2-1.6 1.4-8.9 1.8-9 2.1-9 2.4-8.9 1.1-4 1.5-5 2.8-9 3.1-8.9 1.5-3.8 2.8-5.2 6.2-8.7 .4-.3 8.6-5.2 8.9-.5 9 4.3 1.3 1.4 6.6 9 1.1 1.9 2.7 7.1 2.9 8.9 2.6 9 .7 2.7 1.5 6.3 2 8.9 1.8 9 1.5 9 1.2 8.9 .9 9 .1 2 .4 7" stroke="#e5ff19"/><path d="M1505.2 154.9l2.7 6.4 2.8 8.9 2.1 9 1.4 7.1 .3 1.9 1.5 8.9 1.2 9 .9 9 .8 8.9 .6 9 .5 9 .2 9 .1 8.9 0 9-.3 9-.5 8.9-.8 9-1.2 9-1.7 8.9-1.6 6.4-.7 2.6-3.1 9-4.6 8.9-.6 .9" stroke="#ffb200"/><path d="M1702.7 251l-.2 2.4-1.2 6.5-4.1 9-3.7 4.8-8.9-1.6-2-3.2-3.4-9-1.4-8.9 .7-9 2.6-9 3.5-6.8 8.9-1.9 5.4 8.7 3.2 9 .4 4.2 .2 4.8" stroke="#ffb200"/><path d="M1505.2 186l.5 2.2 2 8.9 1.6 9 1.2 9 1 8.9 .8 9 .7 9 .4 9 .3 8.9 0 9-.3 9-.5 8.9-1 9-1.4 9-2.2 8.9-3.1 9 0 .1" stroke="#ff4c00"/><path d="M1505.2 227.5l.7 5.5 .8 9 .7 9 .4 8.9 .1 9-.2 9-.7 8.9-1.2 9-.6 3.1" stroke="#e50000"/></g>
<g transform="translate(1506.36,257.85) rotate(-90)"><rect x="-7" y="-9" width="14" height="18" fill="#fff"/><text x="0" y="7.5" font-size="21" text-anchor="middle" fill="#e50000">4</text></g>
<g transform="translate(1508.72,298.46) rotate(-95)"><rect x="-7" y="-9" width="14" height="18" fill="#fff"/><text x="0" y="7.5" font-size="21" text-anchor="middle" fill="#ff4c00">3</text></g>
<g transform="translate(1508.72,169.56) rotate(-75)"><rect x="-7" y="-9" width="14" height="18" fill="#fff"/><text x="0" y="7.5" font-size="21" text-anchor="middle" fill="#ffb200">2</text></g>
<g transform="translate(1514.6,350.85) rotate(-45)"><rect x="-7" y="-9" width="14" height="18" fill="#fff"/><text x="0" y="7.5" font-size="21" text-anchor="middle" fill="#e5ff19">1</text></g>
<g transform="translate(1691.77,232.54) rotate(-60)"><rect x="-7" y="-9" width="14" height="18" fill="#fff"/><text x="0" y="7.5" font-size="21" text-anchor="middle" fill="#ffb200">2</text></g>
<g transform="translate(1683.53,336.13) rotate(0)"><rect x="-7" y="-9" width="14" height="18" fill="#fff"/><text x="0" y="7.5" font-size="21" text-anchor="middle" fill="#e5ff19">1</text></g>
<g transform="translate(1828.92,313.18) rotate(0)"><rect x="-12" y="-9" width="24" height="18" fill="#fff"/><text x="0" y="7.5" font-size="21" text-anchor="middle" fill="#00b2ff">−2</text></g>
<g transform="translate(1828.33,354.97) rotate(0)"><rect x="-12" y="-9" width="24" height="18" fill="#fff"/><text x="0" y="7.5" font-size="21" text-anchor="middle" fill="#19ffe5">−1</text></g>
<g transform="translate(1516.96,399.11) rotate(0)"><rect x="-7" y="-9" width="14" height="18" fill="#fff"/><text x="0" y="7.5" font-size="21" text-anchor="middle" fill="#7fff7f">0</text></g>
<g transform="translate(1575.82,401.47) rotate(0)"><rect x="-7" y="-9" width="14" height="18" fill="#fff"/><text x="0" y="7.5" font-size="21" text-anchor="middle" fill="#7fff7f">0</text></g>
<g transform="translate(1655.87,399.11) rotate(0)"><rect x="-7" y="-9" width="14" height="18" fill="#fff"/><text x="0" y="7.5" font-size="21" text-anchor="middle" fill="#7fff7f">0</text></g>
<g transform="translate(1710.61,452.09) rotate(0)"><rect x="-7" y="-9" width="14" height="18" fill="#fff"/><text x="0" y="7.5" font-size="21" text-anchor="middle" fill="#7fff7f">0</text></g>
<g transform="translate(1810.08,456.21) rotate(0)"><rect x="-7" y="-9" width="14" height="18" fill="#fff"/><text x="0" y="7.5" font-size="21" text-anchor="middle" fill="#7fff7f">0</text></g>
<line x1="1630.75" y1="89.51" x2="1630.75" y2="466.21" stroke="#555" stroke-width="2.8"/>
<line x1="1505.19" y1="340.65" x2="1881.89" y2="340.65" stroke="#555" stroke-width="2.8"/>
<rect x="1490.1" y="74.6" width="406.5" height="406.6" fill="none" stroke="#000" stroke-width="1.4"/>
<line x1="1499.3" y1="481.2" x2="1499.3" y2="489.2" stroke="#000" stroke-width="1.4"/>
<text x="1499.3" y="507.3" font-size="17.6" text-anchor="middle" fill="#000">0</text>
<line x1="1482.3" y1="472.1" x2="1490.1" y2="472.1" stroke="#000" stroke-width="1.4"/>
<text x="0" y="0" font-size="17.6" text-anchor="middle" fill="#000" transform="translate(1472.9,472.1) rotate(-90)">0</text>
<line x1="1558.16" y1="481.2" x2="1558.16" y2="489.2" stroke="#000" stroke-width="1.4"/>
<text x="1558.16" y="507.3" font-size="17.6" text-anchor="middle" fill="#000">10</text>
<line x1="1482.3" y1="413.24" x2="1490.1" y2="413.24" stroke="#000" stroke-width="1.4"/>
<text x="0" y="0" font-size="17.6" text-anchor="middle" fill="#000" transform="translate(1472.9,413.24) rotate(-90)">10</text>
<line x1="1617.02" y1="481.2" x2="1617.02" y2="489.2" stroke="#000" stroke-width="1.4"/>
<text x="1617.02" y="507.3" font-size="17.6" text-anchor="middle" fill="#000">20</text>
<line x1="1482.3" y1="354.38" x2="1490.1" y2="354.38" stroke="#000" stroke-width="1.4"/>
<text x="0" y="0" font-size="17.6" text-anchor="middle" fill="#000" transform="translate(1472.9,354.38) rotate(-90)">20</text>
<line x1="1675.88" y1="481.2" x2="1675.88" y2="489.2" stroke="#000" stroke-width="1.4"/>
<text x="1675.88" y="507.3" font-size="17.6" text-anchor="middle" fill="#000">30</text>
<line x1="1482.3" y1="295.52" x2="1490.1" y2="295.52" stroke="#000" stroke-width="1.4"/>
<text x="0" y="0" font-size="17.6" text-anchor="middle" fill="#000" transform="translate(1472.9,295.52) rotate(-90)">30</text>
<line x1="1734.74" y1="481.2" x2="1734.74" y2="489.2" stroke="#000" stroke-width="1.4"/>
<text x="1734.74" y="507.3" font-size="17.6" text-anchor="middle" fill="#000">40</text>
<line x1="1482.3" y1="236.66" x2="1490.1" y2="236.66" stroke="#000" stroke-width="1.4"/>
<text x="0" y="0" font-size="17.6" text-anchor="middle" fill="#000" transform="translate(1472.9,236.66) rotate(-90)">40</text>
<line x1="1793.6" y1="481.2" x2="1793.6" y2="489.2" stroke="#000" stroke-width="1.4"/>
<text x="1793.6" y="507.3" font-size="17.6" text-anchor="middle" fill="#000">50</text>
<line x1="1482.3" y1="177.8" x2="1490.1" y2="177.8" stroke="#000" stroke-width="1.4"/>
<text x="0" y="0" font-size="17.6" text-anchor="middle" fill="#000" transform="translate(1472.9,177.8) rotate(-90)">50</text>
<line x1="1852.46" y1="481.2" x2="1852.46" y2="489.2" stroke="#000" stroke-width="1.4"/>
<text x="1852.46" y="507.3" font-size="17.6" text-anchor="middle" fill="#000">60</text>
<line x1="1482.3" y1="118.94" x2="1490.1" y2="118.94" stroke="#000" stroke-width="1.4"/>
<text x="0" y="0" font-size="17.6" text-anchor="middle" fill="#000" transform="translate(1472.9,118.94) rotate(-90)">60</text>
<text x="1693.3" y="535.3" font-size="19.1" text-anchor="middle" fill="#000">s (mobility time)</text>
<text x="0" y="0" font-size="19.1" text-anchor="middle" fill="#000" transform="translate(1443.9,277.9) rotate(-90)">t (mortality time)</text>
<rect x="1906.7" y="74.6" width="17.5" height="37.26" fill="#7f0000"/>
<rect x="1906.7" y="111.56" width="17.5" height="37.26" fill="#e50000"/>
<rect x="1906.7" y="148.53" width="17.5" height="37.26" fill="#ff4c00"/>
<rect x="1906.7" y="185.49" width="17.5" height="37.26" fill="#ffb200"/>
<rect x="1906.7" y="222.45" width="17.5" height="37.26" fill="#e5ff19"/>
<rect x="1906.7" y="259.42" width="17.5" height="37.26" fill="#7fff7f"/>
<rect x="1906.7" y="296.38" width="17.5" height="37.26" fill="#19ffe5"/>
<rect x="1906.7" y="333.35" width="17.5" height="37.26" fill="#00b2ff"/>
<rect x="1906.7" y="370.31" width="17.5" height="37.26" fill="#004cff"/>
<rect x="1906.7" y="407.27" width="17.5" height="37.26" fill="#0000e5"/>
<rect x="1906.7" y="444.24" width="17.5" height="37.26" fill="#00007f"/>
<rect x="1906.7" y="74.6" width="17.5" height="406.6" fill="none" stroke="#000" stroke-width="1.4"/>
<line x1="1924.2" y1="93.08" x2="1931.5" y2="93.08" stroke="#000" stroke-width="1.4"/>
<text x="1938.1" y="97.58" font-size="13" fill="#000" stroke="#000" stroke-width="0.35">5</text>
<line x1="1924.2" y1="130.05" x2="1931.5" y2="130.05" stroke="#000" stroke-width="1.4"/>
<text x="1938.1" y="134.55" font-size="13" fill="#000" stroke="#000" stroke-width="0.35">4</text>
<line x1="1924.2" y1="167.01" x2="1931.5" y2="167.01" stroke="#000" stroke-width="1.4"/>
<text x="1938.1" y="171.51" font-size="13" fill="#000" stroke="#000" stroke-width="0.35">3</text>
<line x1="1924.2" y1="203.97" x2="1931.5" y2="203.97" stroke="#000" stroke-width="1.4"/>
<text x="1938.1" y="208.47" font-size="13" fill="#000" stroke="#000" stroke-width="0.35">2</text>
<line x1="1924.2" y1="240.94" x2="1931.5" y2="240.94" stroke="#000" stroke-width="1.4"/>
<text x="1938.1" y="245.44" font-size="13" fill="#000" stroke="#000" stroke-width="0.35">1</text>
<line x1="1924.2" y1="277.9" x2="1931.5" y2="277.9" stroke="#000" stroke-width="1.4"/>
<text x="1938.1" y="282.4" font-size="13" fill="#000" stroke="#000" stroke-width="0.35">0</text>
<line x1="1924.2" y1="314.86" x2="1931.5" y2="314.86" stroke="#000" stroke-width="1.4"/>
<text x="1938.1" y="319.36" font-size="13" fill="#000" stroke="#000" stroke-width="0.35">−1</text>
<line x1="1924.2" y1="351.83" x2="1931.5" y2="351.83" stroke="#000" stroke-width="1.4"/>
<text x="1938.1" y="356.33" font-size="13" fill="#000" stroke="#000" stroke-width="0.35">−2</text>
<line x1="1924.2" y1="388.79" x2="1931.5" y2="388.79" stroke="#000" stroke-width="1.4"/>
<text x="1938.1" y="393.29" font-size="13" fill="#000" stroke="#000" stroke-width="0.35">−3</text>
<line x1="1924.2" y1="425.75" x2="1931.5" y2="425.75" stroke="#000" stroke-width="1.4"/>
<text x="1938.1" y="430.25" font-size="13" fill="#000" stroke="#000" stroke-width="0.35">−4</text>
<line x1="1924.2" y1="462.72" x2="1931.5" y2="462.72" stroke="#000" stroke-width="1.4"/>
<text x="1938.1" y="467.22" font-size="13" fill="#000" stroke="#000" stroke-width="0.35">−5</text>
<g fill="none" stroke-width="1.7" stroke-dasharray="4.5 11" stroke-linecap="round" stroke-linejoin="round"><path d="M1881.9 998.2l-1 1.8-4.2 9" stroke="#007fff"/><path d="M1881.9 978.9l-2.6 3.2-5.6 9-.8 1.5-3.5 7.4-3 9" stroke="#00d4ff"/><path d="M1881.9 992.5l-4.3 7.5-3.7 9" stroke="#00d4ff"/><path d="M1801.2 707.6l-1.7-3.5-4.6-9-2.7-4.7-9-.5-3.3 5.2-4.8 9-.8 2-1.6 6.9-1.6 9-1.2 9-.9 8.9-.6 9-.3 9 0 8.9 .2 9 .4 9 .7 9 .9 8.9 1.2 9 1.6 9 1.2 5.6 1.1 3.3 3.9 9 3.9 7.3 5.7 1.7 3.3 .8 .7-.8 6.4-9 1.9-3.1 1.5-5.9 1.9-8.9 1.5-9 1.1-9 .8-8.9 .5-9 .2-9-.1-9-.3-8.9-.7-9-.9-9-1.1-8.9-1.5-9-1.7-9-1.2-5.4" stroke="#2affd4"/><path d="M1881.9 959.3l-6.7 4.9-2.3 2.2-6.1 6.7-2.8 4.6-2.7 4.4-3.9 9-2.4 8.7-.1 .2-2.2 9" stroke="#2affd4"/><path d="M1881.9 967.9l-5.5 5.2-3.5 4.5-3.1 4.5-4.6 9-1.2 3.3-2.2 5.6-2.6 9" stroke="#2affd4"/><path d="M1515.7 632.3l1.4 9 1.3 8.9 1.2 9 1.1 9 1 9 .9 8.9 .5 5.7 .4 3.3 .9 9 .8 8.9 .7 9 .7 9 .7 8.9 .5 9 .5 9 .5 8.9 .4 9 .3 9 .3 9 .1 8.9 .2 9 0 9 0 8.9-.1 9-.1 9-.2 8.9-.3 9-.3 9-.4 8.9-.6 9-1.1 9-2 9-1.9 5.1-1.7 3.8-7.2 8.2-1.8 .8-7.2 2.5" stroke="#7fff7f"/><path d="M1536.7 1009l.6-9 1-8.9 1.7-9 1.1-3.5 3.5-5.5 5.4-5.3 9-3.6 9-1.2 8.9 .4 3.1 .8 5.9 1.5 9 5.2 2.3 2.2 6.2 9 .4 1 2.6 8 1.7 8.9 1.1 9" stroke="#7fff7f"/><path d="M1717.7 632.3l1.5 9 1.2 7.4 .3 1.5 1.2 9 1.2 9 1.3 9 1.1 8.9 1 9 1 9 .9 8.9 .9 9 .1 1.6 .5 7.4 .6 8.9 .5 9 .5 9 .4 8.9 .3 9 .3 9 .2 9 .2 8.9 .1 9-.1 9 0 8.9-.2 9-.3 9-.4 8.9-.4 9-.6 9-.7 8.9-.9 6.7-.4 2.3-2.2 9-4.2 9-2.2 2.9-6.8 6-2.1 1.4-9 3.7-9 2.1-8.9 1.1-9 .1-9-.7-8.9-1.6-9-3.1-5.7-3-3.3-2.3-6.2-6.6-2.7-4.8-1.9-4.2-2.6-9-1.5-9-1-8.9-.7-9-.6-9-.4-8.9-.3-8 0-1-.3-9-.3-8.9-.3-9-.2-9-.3-8.9-.3-9-.4-9-.3-9-.4-8.9-.4-9-.5-9-.5-8.9-.4-9-.5-9-.5-8.9-.5-9-.5-9-.5-8.9-.5-9-.6-9-.6-9-.2-3.4-.4-5.5-.6-9" stroke="#7fff7f"/><path d="M1742.3 1009l.7-9 1.2-8.9 2-9 1.2-3.3 2.3-5.7 6.5-8.9 .1-.1 9-6.9 3.6-2 5.4-2.6 8.9-3.4 9-2.2 7.4-.8 1.6-.1 6.9 .1 2 .1 9 2.2 5.8 6.7 1.6 9 .6 8.9 .5 9 .4 9 .1 .4 .3 8.5 .2 9" stroke="#7fff7f"/><path d="M1881.9 937.8l-9 .3-8.9 .8-9 .2-9-1.4-1.2-.4-6.8-9-1-6.5-.2-2.5-.7-8.9-.5-9-.4-9-.4-9-.3-8.9-.3-9-.2-9-.1-8.9-.2-9-.1-9 0-8.9-.1-9 0-9-.1-8.9 0-9 0-9 0-9 0-8.9 0-9 .1-9 0-8.9 0-9 .1-9 .1-8.9 .1-9 .1-9 .1-8.9 .1-9 .1-9 .2-9 .1-8.9 .2-9" stroke="#7fff7f"/><path d="M1529.3 1009l-.4-9-.4-8.9-.4-9-.4-9-.5-8.9-1.3-9-2.8-4.9-6.3-4.1-2.6-.6-9-.9" stroke="#7fff7f"/><path d="M1524.1 632.3l1 9 .9 8.9 .8 9 .8 9 .7 9 .7 8.9 .6 9 .6 9 .4 8.9 .5 9 .4 9 .3 8.9 .3 8.5 0 .5 .6 9 .4 8.9 .5 9 .3 9 .4 9 .3 8.9 .2 9 .3 9 .2 8.9 .2 9 .2 9 .3 8.9 .4 9 .4 9 .6 8.9 .6 9 .9 9 .9 9 1.1 8.9 .2 .8 3.5 8.2 5.4 4.4 9 2.1 9 .6 8.9-.2 9-1.3 9-3.5 2.4-2.1 4.3-9 2.1-8.9 .1-.5 1.6-8.5 1.4-9 1.2-9 .9-8.9 .8-9 .6-9 .5-8.9 .3-9 .3-9 .2-8.9 0-9 0-9-.1-8.9-.3-9-.3-9-.3-9-.5-8.9-.5-9-.6-9-.7-8.9-.8-9-.9-9-.9-8.9-1-9-.9-7.6-.1-1.4-1.3-8.9-1.3-9-1.3-9-1.5-9-1.4-8.9-1.6-9" stroke="#7fff7f"/><path d="M1731.3 1009l-.6-9-.8-8.9-.5-6.2-.3-2.8-.9-9-1.1-8.9-2.8-9-3.9-3.7-8.9-3.5-9-1.5-3.4-.3-5.6-.3-8.9-.3-9-.1-9 .2-8.9 .5-.3 0-8.7 1.1-9 2.3-8.2 5.6-.7 1.4-2.4 7.6-1.1 8.9-1 9-1.1 9-.9 8.9-.8 9" stroke="#7fff7f"/><path d="M1730.6 632.3l.7 9 .7 8.9 .7 9 .6 9 .6 9 .7 8.9 .6 9 .6 9 .6 8.9 .4 9 .5 9 .4 8.9 .4 9 .3 6.8 .1 2.2 .3 8.9 .4 9 .3 9 .3 9 .2 8.9 .3 9 .2 9 .2 8.9 .3 9 .2 9 .3 8.9 .4 9 .6 9 .6 8.9 .9 9 .9 9 1.2 9 1.3 8.2 .1 .7 3 9 5.8 5 9 2.1 9-.3 8.9-1.3 9-1.7 9-1.9 5.8-1.9 3.1-1.2 9-6.8 .7-1 4.4-8.9 2.1-9 1.2-9 .6-6.6 .1-2.4 .3-8.9 .3-9 .2-9 .1-8.9 .1-9 .1-9 .1-8.9 0-9 .1-9 0-8.9 0-9 0-9 0-9 0-8.9 0-9-.1-9 0-8.9-.1-9 0-9-.1-8.9-.1-9-.1-9-.1-8.9-.2-9-.1-9-.1-9-.2-8.9-.2-9" stroke="#7fff7f"/><path d="M1881.9 942.1l-9 1.6-8.9 2.5 0 .1-9 3.8-7.4 5.1-1.6 1.8-5 7.2-3.1 8.9-.9 4.5-.7 4.5-1 9-.6 8.9-.3 9" stroke="#7fff7f"/><path d="M1881.9 911.9l-2-1.5-7-6.9-1.8-2.1-5.5-9-1.6-4.1-2.1-4.9-2.8-8.9-1.9-9-1.4-9-.8-7.4-.3-1.5-1-9-.9-9-.6-8.9-.5-9-.4-9-.2-8.9-.2-9-.1-9 0-9 .1-8.9 .2-9 .3-9 .4-8.9 .5-9 .6-9 .8-8.9 .8-9 .5-4.2 .4-4.8 .8-8.9 .9-9 1-9 1.3-9 1.4-8.9 1.6-9" stroke="#d4ff2a"/><path d="M1505.2 706l1.2 7 1.4 9 1.2 9 1.2 8.9 .9 9 .9 9 .6 8.9 .5 9 .3 9 0 9-.2 8.9-.6 9-.9 9-1.2 8.9-1.7 9-2.1 9-1.5 5.2" stroke="#d4ff2a"/><path d="M1684.9 757.9l1.2 8.9 .4 9-.3 9-1.3 9-.3 1.5-9 7.1-3.7-8.6-2.6-9-1.5-9-.3-9 1.2-8.9 3.1-9 3.8-6.2 4.5 6.2 4.5 7.3 .3 1.7" stroke="#d4ff2a"/><path d="M1881.9 920.2l-1.7-.9-7.3-4.8-4.5-4.1-4.4-5.9-2-3.1-4.1-9-2.6-9-.3-1.2-2-7.7-1.8-9-1.3-9-1-8.9-.8-9-.6-9-.4-8.9-.4-9-.3-9-.2-8.9-.1-9-.1-9 0-9 .1-8.9 .2-9 .2-9 .3-8.9 .3-9 .5-9 .5-8.9 .6-9 .6-9 .8-8.9 .9-9 .9-9 1.1-9 1.1-8.9 .9-6.4 .3-2.6" stroke="#d4ff2a"/><path d="M1881.9 890.8l-5.1-7.4-3.9-8.1-.3-.8-3.2-9-2-9-1.4-8.9-1-9-.6-9-.4-8.4-.1-.5-.4-9-.3-9-.3-8.9-.1-9-.1-9-.1-9 .1-8.9 .2-9 .3-9 .5-8.9 .3-4 .2-5 .6-9 .7-8.9 .9-9 1-9 1.2-8.9 1.4-9 1.7-9 1.2-5.4 .8-3.6 2.3-8.9 2.8-9" stroke="#ffd400"/><path d="M1881.9 901.9l-.6-.5-7.2-9-1.2-1.9-3.8-7.1-3.3-8.9-1.8-7.6-.4-1.4-2-9-1.5-8.9-1-9-.7-9-.6-8.9-.4-9-.3-9-.2-8.9-.2-9-.1-9 0-9 .1-8.9 .2-9 .3-9 .4-8.9 .5-9 .6-9 .7-8.9 .8-9 1-9 1.2-8.9 1.3-9 .3-1.5 1-7.5 1.4-9 1.7-8.9 2.2-9" stroke="#ffd400"/><path d="M1881.9 871.8l-2.9-6.3-2.8-9-1.8-8.9-1.1-9-.4-4.9-.3-4.1-.4-8.9-.1-9-.1-9-.1-8.9-.1-9-.1-9-.1-9 0-8.9 .1-9 .2-9 .4-8.9 .6-9 0-.6 .6-8.4 .9-8.9 1-9 1.3-9 1.6-8.9 1.9-9 1.7-6.8" stroke="#ff7f00"/><path d="M1881.9 886.4l-2.1-3-4.7-8.9-2.2-6-1-3-2.4-9-1.5-8.9-1.1-9-.6-9-.4-8.9-.3-9-.2-9-.2-8.9-.2-9-.1-9 0-9 .1-8.9 .1-9 .3-9 .3-8.9 .5-9 .7-9 .7-8.9 1-9 1.1-9 1.3-8.9 1.6-9 .3-1.7 1.4-7.3 2.1-9 2.6-8.9 2.9-8.1" stroke="#ff7f00"/><path d="M1881.9 847l-1.3-8.4-.8-9-.2-8.9 0-9 0-9 .1-8.9-.1-9-.2-9-.1-9-.1-8.9 .1-9 .1-9 .4-8.9 .6-9 .8-9 .7-5.5" stroke="#ff2a00"/><path d="M1881.9 871.4l-2.7-5.9-2.8-9-1.9-8.9-1.1-9-.5-6.8-.2-2.2-.3-8.9-.2-9 0-9-.1-8.9-.1-9-.2-9-.1-9 0-8.9 .1-9 .3-9 .4-8.9 .4-7.3 .1-1.7 .7-9 .8-8.9 1.1-9 1.3-9 1.5-8.9 1.9-9 1.6-6.1" stroke="#ff2a00"/><path d="M1881.9 853.2l-1.4-5.6-1.4-9-.7-9-.2-8.9-.1-9 .1-9 0-8.9-.1-9-.1-9-.2-9-.1-8.9 .1-9 .2-9 .4-8.9 .5-9 .8-9 1.1-8.9 1.1-8" stroke="#d40000"/></g>
<g fill="none" stroke-width="2.1" stroke-linejoin="round"><path d="M1881.9 1006.7l-1.1 2.3" stroke="#007fff"/><path d="M1881.9 984.9l-4.2 6.2-4.4 8.9-.4 1-3.1 8" stroke="#00d4ff"/><path d="M1792.2 728.1l-9 1.8-.3 1.1-2.4 8.9-1.7 9-1 9-.5 8.9 .1 9 .6 9 1.1 9 1.6 8.9 2.2 9 .3 .9 9 4.4 2.2-5.3 2.8-9 2-8.9 1.2-9 .5-9-.2-9-.9-8.9-1.5-9-2.2-9-2.8-8.9-1.1-2.9" stroke="#2affd4"/><path d="M1881.9 963.1l-1.5 1.1-7.5 7.1-1.6 1.8-6 9-1.3 2.8-3 6.2-3.1 8.9-2.1 9" stroke="#2affd4"/><path d="M1519.8 632.3l1 9 1 8.9 .8 9 .5 5.5 .5 3.5 1 9 1 8.9 .9 9 .7 9 .7 8.9 .7 9 .5 9 .6 8.9 .4 9 .4 9 .4 8.9 .3 9 .3 9 .2 9 .2 8.9 .1 9 .1 6.8 0 2.2 .1 8.9 0 9 0 9 0 8.9 0 9 0 9 0 8.9-.1 8.2 0 .8-.3 9-.6 9-1.6 8.9-3.9 9-2.6 3-8.9 4.9-6.7 1.1-2.3 .2" stroke="#7fff7f"/><path d="M1532.3 1009l0-9 .2-8.9 .6-9 1.3-9 2.8-8.9 3.9-6.5 4.2-2.5 4.7-2.3 9-1.7 9-.6 8.9 .3 9 1 9 2.5 1.6 .8 7.3 4.2 4.5 4.8 4.5 8.3 .2 .6 2.1 9 .9 9 .3 8.9 .1 9" stroke="#7fff7f"/><path d="M1724.3 632.3l1.1 9 1.1 8.9 1 9 .9 9 1 9 0 .4 .8 8.5 .7 9 .8 9 .6 8.9 .7 9 .6 9 .5 8.9 .5 9 .5 9 .4 8.9 .3 9 .3 9 .3 9 .2 8.9 .2 9 .1 9 .1 8.9 0 9 0 9 0 8.9 0 9 0 9 0 8.9-.2 9-.5 9-1.2 9-3 8.9-2.7 4.3-5.3 4.7-3.7 2.1-8.9 3-9 1.6-9 .8-8.9 .4-9 .1-9-.3-8.9-.7-9-1.2-9-2.2-7.8-3.6-1.1-.7-8.1-8.3-.9-1.7-2.9-7.2-1.5-9-.6-9-.2-9-.1-8.9 0-9 0-9 0-8.9 0-9 0-9-.1-8.9-.1-9-.2-9-.2-8.9-.3-9-.3-9-.3-9-.5-8.9-.4-9-.5-9-.6-8.9-.2-3.4-.4-5.6-.6-9-.8-8.9-.7-9-.8-9-.9-8.9-.9-9-.9-9-1-9-1-8.9-1-7.9-.1-1.1" stroke="#7fff7f"/><path d="M1737 1009l.1-9 .3-8.9 .7-9 .3-2 1.2-7 3.2-8.9 4.6-6.8 2.2-2.2 6.7-4.7 9-3.5 2-.8 7-2.1 8.9-2.6 9-2 9-1.6 4.1-.6 4.8-1 9-2.9 5.9-5.1 3.1-5.5 1-3.5 1.4-8.9 .6-9 .2-9 .1-9 0-8.9 0-9 0-9 0-8.9 0-9 0-9 0-8.9 0-9 0-9 0-8.9 0-9 0-9 0-9 0-8.9 0-9 0-9 0-8.9 0-9 0-9 0-8.9-.1-9 0-9 0-8.9 0-9 0-9 0-9 0-8.9 0-9" stroke="#7fff7f"/><path d="M1881.9 939.8l-9 1.1-8.9 1.8-9 2.1-5.3 1.4-3.7 1.7-7.9 7.3-1.1 2.1-2.6 6.9-1.7 8.9-.8 9-.3 9-.1 8.9-.1 9" stroke="#7fff7f"/><path d="M1505.2 735.3l.6 4.6 .9 9 .8 9 .5 8.9 .4 9 .1 9-.2 9-.5 8.9-.7 9-1.2 9-.7 4.1" stroke="#d4ff2a"/><path d="M1881.9 916.5l-8.1-6.1-.9-.9-6.7-8.1-2.2-4.1-2.5-4.9-3.3-9-2.2-8.9-1-5.7-.7-3.3-1.6-9-1.2-8.9-.9-9-.7-9-.6-8.9-.4-9-.3-9-.3-8.9-.1-9-.1-9 0-9 .1-8.9 .2-9 .3-9 .3-8.9 .4-9 .5-9 .6-8.9 .7-9 .9-9 .9-8.9 1-9 1-7.7 .1-1.3 1-9 1.1-8.9 1.2-9" stroke="#d4ff2a"/><path d="M1881.9 897l-3.8-4.6-5.2-8.6-.2-.4-3.9-8.9-2.6-9-1.7-9-.5-3.8-1-5.1-1.1-9-.8-9-.6-8.9-.4-9-.3-9-.3-8.9-.1-9-.1-9 0-9 0-8.9 .2-9 .3-9 .5-8.9 .5-9 .7-9 .8-8.9 1-9 .7-5.4 .3-3.6 1-8.9 1.2-9 1.4-9 1.7-9 2.2-8.9 1.1-4.1 1.4-4.9" stroke="#ffd400"/><path d="M1881.9 880l-3.2-5.5-3.6-9-2.2-8-.2-1-1.8-8.9-1.1-9-.7-9-.4-8.9-.3-9-.1-9-.1-8.9-.2-9-.1-9-.1-9 .1-8.9 .1-9 .2-9 .4-8.9 .6-9 .6-9 .9-8.9 1-9 1.2-8.4 .1-.6 1.3-8.9 1.6-9 2-9 2.4-9 1.6-4.8" stroke="#ff7f00"/><path d="M1881.9 862.3l-2-5.8-2.1-8.9-1.2-9-.7-9-.3-8.9-.1-9 0-9 0-8.9-.1-9-.1-9-.1-9-.1-8.9 .1-9 .2-9 .3-8.9 .6-9 .7-9 1-8.9 1.1-9 1.5-9 1.3-6.6" stroke="#ff2a00"/><path d="M1881.9 772.7l-.1-5.9-.1-8.9 0-9 .2-8.9" stroke="#d40000"/></g>
<g transform="translate(1509.89,847.15) rotate(-80)"><rect x="-7" y="-9" width="14" height="18" fill="#fff"/><text x="0" y="7.5" font-size="21" text-anchor="middle" fill="#d4ff2a">1</text></g>
<g transform="translate(1518.14,943.09) rotate(0)"><rect x="-7" y="-9" width="14" height="18" fill="#fff"/><text x="0" y="7.5" font-size="21" text-anchor="middle" fill="#7fff7f">0</text></g>
<g transform="translate(1556.39,943.68) rotate(0)"><rect x="-7" y="-9" width="14" height="18" fill="#fff"/><text x="0" y="7.5" font-size="21" text-anchor="middle" fill="#7fff7f">0</text></g>
<g transform="translate(1684.71,943.09) rotate(0)"><rect x="-7" y="-9" width="14" height="18" fill="#fff"/><text x="0" y="7.5" font-size="21" text-anchor="middle" fill="#7fff7f">0</text></g>
<g transform="translate(1795.95,945.45) rotate(0)"><rect x="-7" y="-9" width="14" height="18" fill="#fff"/><text x="0" y="7.5" font-size="21" text-anchor="middle" fill="#7fff7f">0</text></g>
<g transform="translate(1784.77,791.23) rotate(-95)"><rect x="-12" y="-9" width="24" height="18" fill="#fff"/><text x="0" y="7.5" font-size="21" text-anchor="middle" fill="#2affd4">−1</text></g>
<g transform="translate(1878.95,670.57) rotate(95)"><rect x="-7" y="-9" width="14" height="18" fill="#fff"/><text x="0" y="7.5" font-size="21" text-anchor="middle" fill="#ff7f00">3</text></g>
<g transform="translate(1880.71,770.63) rotate(95)"><rect x="-7" y="-9" width="14" height="18" fill="#fff"/><text x="0" y="7.5" font-size="21" text-anchor="middle" fill="#d40000">5</text></g>
<g transform="translate(1877.18,829.49) rotate(95)"><rect x="-7" y="-9" width="14" height="18" fill="#fff"/><text x="0" y="7.5" font-size="21" text-anchor="middle" fill="#ff2a00">4</text></g>
<g transform="translate(1871.88,867.75) rotate(80)"><rect x="-7" y="-9" width="14" height="18" fill="#fff"/><text x="0" y="7.5" font-size="21" text-anchor="middle" fill="#ffd400">2</text></g>
<g transform="translate(1868.94,911.89) rotate(60)"><rect x="-7" y="-9" width="14" height="18" fill="#fff"/><text x="0" y="7.5" font-size="21" text-anchor="middle" fill="#d4ff2a">1</text></g>
<g transform="translate(1873.06,979.58) rotate(60)"><rect x="-12" y="-9" width="24" height="18" fill="#fff"/><text x="0" y="7.5" font-size="21" text-anchor="middle" fill="#2affd4">−1</text></g>
<line x1="1630.75" y1="632.31" x2="1630.75" y2="1009.01" stroke="#555" stroke-width="2.8"/>
<line x1="1505.19" y1="883.45" x2="1881.89" y2="883.45" stroke="#555" stroke-width="2.8"/>
<rect x="1490.1" y="617.4" width="406.5" height="406.6" fill="none" stroke="#000" stroke-width="1.4"/>
<line x1="1499.3" y1="1024" x2="1499.3" y2="1032" stroke="#000" stroke-width="1.4"/>
<text x="1499.3" y="1050.1" font-size="17.6" text-anchor="middle" fill="#000">0</text>
<line x1="1482.3" y1="1014.9" x2="1490.1" y2="1014.9" stroke="#000" stroke-width="1.4"/>
<text x="0" y="0" font-size="17.6" text-anchor="middle" fill="#000" transform="translate(1472.9,1014.9) rotate(-90)">0</text>
<line x1="1558.16" y1="1024" x2="1558.16" y2="1032" stroke="#000" stroke-width="1.4"/>
<text x="1558.16" y="1050.1" font-size="17.6" text-anchor="middle" fill="#000">10</text>
<line x1="1482.3" y1="956.04" x2="1490.1" y2="956.04" stroke="#000" stroke-width="1.4"/>
<text x="0" y="0" font-size="17.6" text-anchor="middle" fill="#000" transform="translate(1472.9,956.04) rotate(-90)">10</text>
<line x1="1617.02" y1="1024" x2="1617.02" y2="1032" stroke="#000" stroke-width="1.4"/>
<text x="1617.02" y="1050.1" font-size="17.6" text-anchor="middle" fill="#000">20</text>
<line x1="1482.3" y1="897.18" x2="1490.1" y2="897.18" stroke="#000" stroke-width="1.4"/>
<text x="0" y="0" font-size="17.6" text-anchor="middle" fill="#000" transform="translate(1472.9,897.18) rotate(-90)">20</text>
<line x1="1675.88" y1="1024" x2="1675.88" y2="1032" stroke="#000" stroke-width="1.4"/>
<text x="1675.88" y="1050.1" font-size="17.6" text-anchor="middle" fill="#000">30</text>
<line x1="1482.3" y1="838.32" x2="1490.1" y2="838.32" stroke="#000" stroke-width="1.4"/>
<text x="0" y="0" font-size="17.6" text-anchor="middle" fill="#000" transform="translate(1472.9,838.32) rotate(-90)">30</text>
<line x1="1734.74" y1="1024" x2="1734.74" y2="1032" stroke="#000" stroke-width="1.4"/>
<text x="1734.74" y="1050.1" font-size="17.6" text-anchor="middle" fill="#000">40</text>
<line x1="1482.3" y1="779.46" x2="1490.1" y2="779.46" stroke="#000" stroke-width="1.4"/>
<text x="0" y="0" font-size="17.6" text-anchor="middle" fill="#000" transform="translate(1472.9,779.46) rotate(-90)">40</text>
<line x1="1793.6" y1="1024" x2="1793.6" y2="1032" stroke="#000" stroke-width="1.4"/>
<text x="1793.6" y="1050.1" font-size="17.6" text-anchor="middle" fill="#000">50</text>
<line x1="1482.3" y1="720.6" x2="1490.1" y2="720.6" stroke="#000" stroke-width="1.4"/>
<text x="0" y="0" font-size="17.6" text-anchor="middle" fill="#000" transform="translate(1472.9,720.6) rotate(-90)">50</text>
<line x1="1852.46" y1="1024" x2="1852.46" y2="1032" stroke="#000" stroke-width="1.4"/>
<text x="1852.46" y="1050.1" font-size="17.6" text-anchor="middle" fill="#000">60</text>
<line x1="1482.3" y1="661.74" x2="1490.1" y2="661.74" stroke="#000" stroke-width="1.4"/>
<text x="0" y="0" font-size="17.6" text-anchor="middle" fill="#000" transform="translate(1472.9,661.74) rotate(-90)">60</text>
<text x="1693.3" y="1078.1" font-size="19.1" text-anchor="middle" fill="#000">s (positivity time)</text>
<text x="0" y="0" font-size="19.1" text-anchor="middle" fill="#000" transform="translate(1443.9,820.7) rotate(-90)">t (mortality time)</text>
<rect x="1906.7" y="617.4" width="17.5" height="31.58" fill="#7f0000"/>
<rect x="1906.7" y="648.68" width="17.5" height="31.58" fill="#d40000"/>
<rect x="1906.7" y="679.95" width="17.5" height="31.58" fill="#ff2a00"/>
<rect x="1906.7" y="711.23" width="17.5" height="31.58" fill="#ff7f00"/>
<rect x="1906.7" y="742.51" width="17.5" height="31.58" fill="#ffd400"/>
<rect x="1906.7" y="773.78" width="17.5" height="31.58" fill="#d4ff2a"/>
<rect x="1906.7" y="805.06" width="17.5" height="31.58" fill="#7fff7f"/>
<rect x="1906.7" y="836.34" width="17.5" height="31.58" fill="#2affd4"/>
<rect x="1906.7" y="867.62" width="17.5" height="31.58" fill="#00d4ff"/>
<rect x="1906.7" y="898.89" width="17.5" height="31.58" fill="#007fff"/>
<rect x="1906.7" y="930.17" width="17.5" height="31.58" fill="#002aff"/>
<rect x="1906.7" y="961.45" width="17.5" height="31.58" fill="#0000d4"/>
<rect x="1906.7" y="992.72" width="17.5" height="31.58" fill="#00007f"/>
<rect x="1906.7" y="617.4" width="17.5" height="406.6" fill="none" stroke="#000" stroke-width="1.4"/>
<line x1="1924.2" y1="633.04" x2="1931.5" y2="633.04" stroke="#000" stroke-width="1.4"/>
<text x="1938.1" y="637.54" font-size="13" fill="#000" stroke="#000" stroke-width="0.35">6</text>
<line x1="1924.2" y1="664.32" x2="1931.5" y2="664.32" stroke="#000" stroke-width="1.4"/>
<text x="1938.1" y="668.82" font-size="13" fill="#000" stroke="#000" stroke-width="0.35">5</text>
<line x1="1924.2" y1="695.59" x2="1931.5" y2="695.59" stroke="#000" stroke-width="1.4"/>
<text x="1938.1" y="700.09" font-size="13" fill="#000" stroke="#000" stroke-width="0.35">4</text>
<line x1="1924.2" y1="726.87" x2="1931.5" y2="726.87" stroke="#000" stroke-width="1.4"/>
<text x="1938.1" y="731.37" font-size="13" fill="#000" stroke="#000" stroke-width="0.35">3</text>
<line x1="1924.2" y1="758.15" x2="1931.5" y2="758.15" stroke="#000" stroke-width="1.4"/>
<text x="1938.1" y="762.65" font-size="13" fill="#000" stroke="#000" stroke-width="0.35">2</text>
<line x1="1924.2" y1="789.42" x2="1931.5" y2="789.42" stroke="#000" stroke-width="1.4"/>
<text x="1938.1" y="793.92" font-size="13" fill="#000" stroke="#000" stroke-width="0.35">1</text>
<line x1="1924.2" y1="820.7" x2="1931.5" y2="820.7" stroke="#000" stroke-width="1.4"/>
<text x="1938.1" y="825.2" font-size="13" fill="#000" stroke="#000" stroke-width="0.35">0</text>
<line x1="1924.2" y1="851.98" x2="1931.5" y2="851.98" stroke="#000" stroke-width="1.4"/>
<text x="1938.1" y="856.48" font-size="13" fill="#000" stroke="#000" stroke-width="0.35">−1</text>
<line x1="1924.2" y1="883.25" x2="1931.5" y2="883.25" stroke="#000" stroke-width="1.4"/>
<text x="1938.1" y="887.75" font-size="13" fill="#000" stroke="#000" stroke-width="0.35">−2</text>
<line x1="1924.2" y1="914.53" x2="1931.5" y2="914.53" stroke="#000" stroke-width="1.4"/>
<text x="1938.1" y="919.03" font-size="13" fill="#000" stroke="#000" stroke-width="0.35">−3</text>
<line x1="1924.2" y1="945.81" x2="1931.5" y2="945.81" stroke="#000" stroke-width="1.4"/>
<text x="1938.1" y="950.31" font-size="13" fill="#000" stroke="#000" stroke-width="0.35">−4</text>
<line x1="1924.2" y1="977.08" x2="1931.5" y2="977.08" stroke="#000" stroke-width="1.4"/>
<text x="1938.1" y="981.58" font-size="13" fill="#000" stroke="#000" stroke-width="0.35">−5</text>
<line x1="1924.2" y1="1008.36" x2="1931.5" y2="1008.36" stroke="#000" stroke-width="1.4"/>
<text x="1938.1" y="1012.86" font-size="13" fill="#000" stroke="#000" stroke-width="0.35">−6</text>
<rect x="1.5" y="3.6" width="799.9" height="1107.3" fill="none" stroke="#000" stroke-width="3.1"/>
<rect x="824.5" y="2.3" width="1170" height="1108.6" fill="none" stroke="#000" stroke-width="3.1"/>
<text x="400.6" y="1155" font-size="32.4" text-anchor="middle" font-weight="bold" fill="#000">(a)</text>
<text x="1408.7" y="1155" font-size="33" text-anchor="middle" font-weight="bold" fill="#000">(b)</text>
</svg></body></html>
